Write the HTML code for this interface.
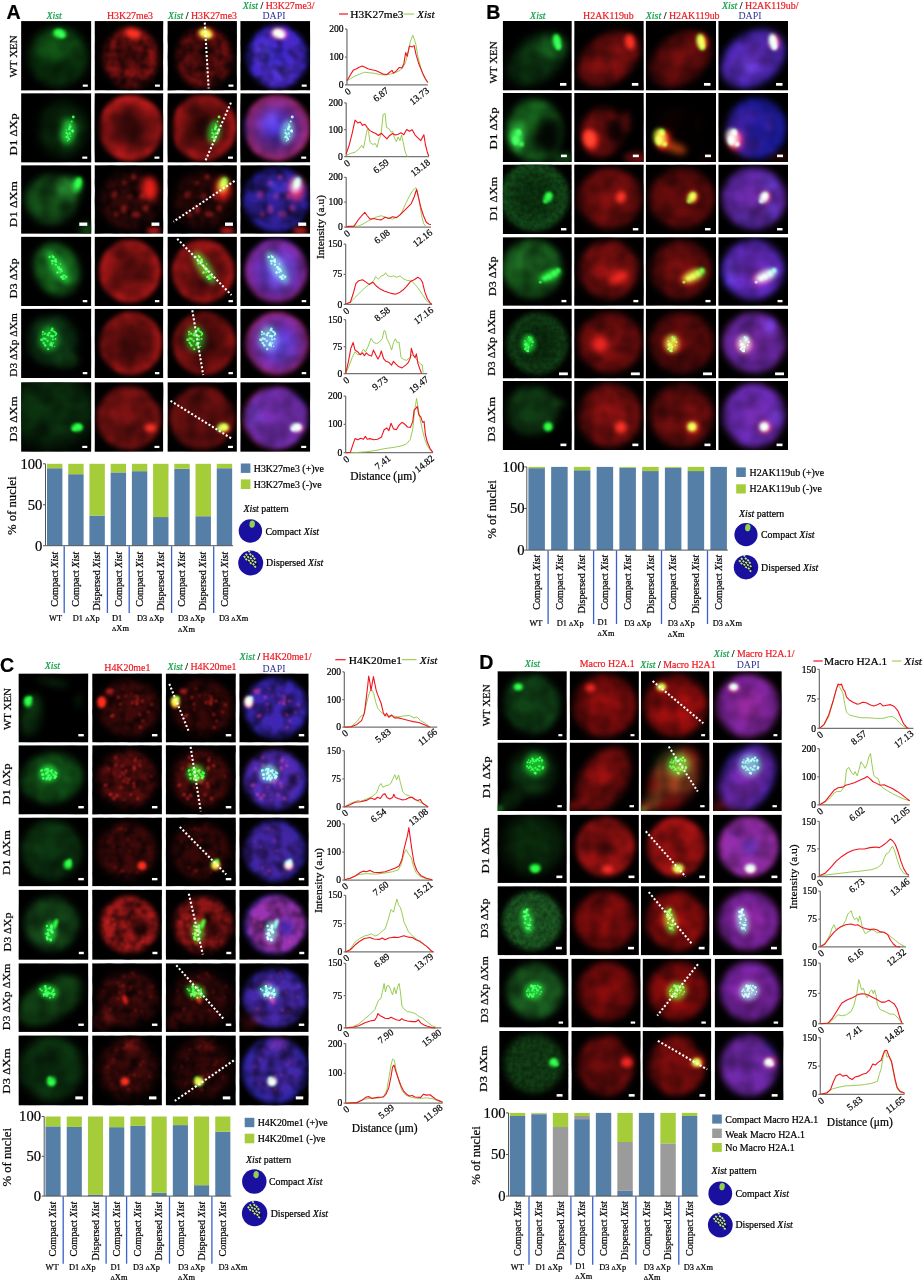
<!DOCTYPE html>
<html><head><meta charset="utf-8"><title>Figure</title>
<style>html,body{margin:0;padding:0;background:#fff}body{width:923px;height:1280px;overflow:hidden;font-family:"Liberation Serif",serif}svg{display:block}</style>
</head><body>
<svg width="923" height="1280" viewBox="0 0 923 1280">
<defs><filter id="b0_7" x="-60%" y="-60%" width="220%" height="220%" color-interpolation-filters="sRGB"><feGaussianBlur stdDeviation="0.7"/></filter><filter id="b0_8" x="-60%" y="-60%" width="220%" height="220%" color-interpolation-filters="sRGB"><feGaussianBlur stdDeviation="0.75"/></filter><filter id="b0_8" x="-60%" y="-60%" width="220%" height="220%" color-interpolation-filters="sRGB"><feGaussianBlur stdDeviation="0.8"/></filter><filter id="b0_9" x="-60%" y="-60%" width="220%" height="220%" color-interpolation-filters="sRGB"><feGaussianBlur stdDeviation="0.9"/></filter><filter id="b1_0" x="-60%" y="-60%" width="220%" height="220%" color-interpolation-filters="sRGB"><feGaussianBlur stdDeviation="1"/></filter><filter id="b1_1" x="-60%" y="-60%" width="220%" height="220%" color-interpolation-filters="sRGB"><feGaussianBlur stdDeviation="1.1"/></filter><filter id="b1_2" x="-60%" y="-60%" width="220%" height="220%" color-interpolation-filters="sRGB"><feGaussianBlur stdDeviation="1.2"/></filter><filter id="b1_3" x="-60%" y="-60%" width="220%" height="220%" color-interpolation-filters="sRGB"><feGaussianBlur stdDeviation="1.3"/></filter><filter id="b1_4" x="-60%" y="-60%" width="220%" height="220%" color-interpolation-filters="sRGB"><feGaussianBlur stdDeviation="1.4"/></filter><filter id="b1_5" x="-60%" y="-60%" width="220%" height="220%" color-interpolation-filters="sRGB"><feGaussianBlur stdDeviation="1.5"/></filter><filter id="b1_6" x="-60%" y="-60%" width="220%" height="220%" color-interpolation-filters="sRGB"><feGaussianBlur stdDeviation="1.6"/></filter><filter id="b1_7" x="-60%" y="-60%" width="220%" height="220%" color-interpolation-filters="sRGB"><feGaussianBlur stdDeviation="1.7"/></filter><filter id="b1_8" x="-60%" y="-60%" width="220%" height="220%" color-interpolation-filters="sRGB"><feGaussianBlur stdDeviation="1.8"/></filter><filter id="b2_0" x="-60%" y="-60%" width="220%" height="220%" color-interpolation-filters="sRGB"><feGaussianBlur stdDeviation="2"/></filter><filter id="b2_2" x="-60%" y="-60%" width="220%" height="220%" color-interpolation-filters="sRGB"><feGaussianBlur stdDeviation="2.2"/></filter><filter id="b2_4" x="-60%" y="-60%" width="220%" height="220%" color-interpolation-filters="sRGB"><feGaussianBlur stdDeviation="2.4"/></filter><filter id="b2_5" x="-60%" y="-60%" width="220%" height="220%" color-interpolation-filters="sRGB"><feGaussianBlur stdDeviation="2.5"/></filter><filter id="b2_6" x="-60%" y="-60%" width="220%" height="220%" color-interpolation-filters="sRGB"><feGaussianBlur stdDeviation="2.6"/></filter><filter id="b2_8" x="-60%" y="-60%" width="220%" height="220%" color-interpolation-filters="sRGB"><feGaussianBlur stdDeviation="2.8"/></filter><filter id="b3_0" x="-60%" y="-60%" width="220%" height="220%" color-interpolation-filters="sRGB"><feGaussianBlur stdDeviation="3"/></filter><filter id="b3_2" x="-60%" y="-60%" width="220%" height="220%" color-interpolation-filters="sRGB"><feGaussianBlur stdDeviation="3.2"/></filter><filter id="b3_5" x="-60%" y="-60%" width="220%" height="220%" color-interpolation-filters="sRGB"><feGaussianBlur stdDeviation="3.5"/></filter><filter id="b4_0" x="-60%" y="-60%" width="220%" height="220%" color-interpolation-filters="sRGB"><feGaussianBlur stdDeviation="4"/></filter><filter id="b4_5" x="-60%" y="-60%" width="220%" height="220%" color-interpolation-filters="sRGB"><feGaussianBlur stdDeviation="4.5"/></filter><filter id="b5_0" x="-60%" y="-60%" width="220%" height="220%" color-interpolation-filters="sRGB"><feGaussianBlur stdDeviation="5"/></filter><filter id="b6_0" x="-60%" y="-60%" width="220%" height="220%" color-interpolation-filters="sRGB"><feGaussianBlur stdDeviation="6"/></filter><filter id="b9_0" x="-60%" y="-60%" width="220%" height="220%" color-interpolation-filters="sRGB"><feGaussianBlur stdDeviation="9"/></filter><filter id="txs0" x="0" y="0" width="100%" height="100%" color-interpolation-filters="sRGB"><feTurbulence type="fractalNoise" baseFrequency="0.09" numOctaves="2" seed="3"/><feColorMatrix type="matrix" values="1.45 0 0 0 0.0  1.45 0 0 0 0.0  1.45 0 0 0 0.0  0 0 0 0 1"/></filter><filter id="txw0" x="0" y="0" width="100%" height="100%" color-interpolation-filters="sRGB"><feTurbulence type="fractalNoise" baseFrequency="0.07" numOctaves="2" seed="3"/><feColorMatrix type="matrix" values="1.3 0 0 0 0.15  1.3 0 0 0 0.15  1.3 0 0 0 0.15  0 0 0 0 1"/></filter><filter id="txm0" x="0" y="0" width="100%" height="100%" color-interpolation-filters="sRGB"><feTurbulence type="fractalNoise" baseFrequency="0.05" numOctaves="2" seed="3"/><feColorMatrix type="matrix" values="0.9 0 0 0 0.35  0.9 0 0 0 0.35  0.9 0 0 0 0.35  0 0 0 0 1"/></filter><filter id="txf0" x="0" y="0" width="100%" height="100%" color-interpolation-filters="sRGB"><feTurbulence type="fractalNoise" baseFrequency="0.22" numOctaves="2" seed="3"/><feColorMatrix type="matrix" values="0.7 0 0 0 0.5  0.7 0 0 0 0.5  0.7 0 0 0 0.5  0 0 0 0 1"/></filter><filter id="txv0" x="0" y="0" width="100%" height="100%" color-interpolation-filters="sRGB"><feTurbulence type="fractalNoise" baseFrequency="0.05" numOctaves="2" seed="3"/><feColorMatrix type="matrix" values="0.7 0 0 0 0.5  0.7 0 0 0 0.5  0.7 0 0 0 0.5  0 0 0 0 1"/></filter><filter id="txs1" x="0" y="0" width="100%" height="100%" color-interpolation-filters="sRGB"><feTurbulence type="fractalNoise" baseFrequency="0.09" numOctaves="2" seed="10"/><feColorMatrix type="matrix" values="1.45 0 0 0 0.0  1.45 0 0 0 0.0  1.45 0 0 0 0.0  0 0 0 0 1"/></filter><filter id="txw1" x="0" y="0" width="100%" height="100%" color-interpolation-filters="sRGB"><feTurbulence type="fractalNoise" baseFrequency="0.07" numOctaves="2" seed="10"/><feColorMatrix type="matrix" values="1.3 0 0 0 0.15  1.3 0 0 0 0.15  1.3 0 0 0 0.15  0 0 0 0 1"/></filter><filter id="txm1" x="0" y="0" width="100%" height="100%" color-interpolation-filters="sRGB"><feTurbulence type="fractalNoise" baseFrequency="0.05" numOctaves="2" seed="10"/><feColorMatrix type="matrix" values="0.9 0 0 0 0.35  0.9 0 0 0 0.35  0.9 0 0 0 0.35  0 0 0 0 1"/></filter><filter id="txf1" x="0" y="0" width="100%" height="100%" color-interpolation-filters="sRGB"><feTurbulence type="fractalNoise" baseFrequency="0.22" numOctaves="2" seed="10"/><feColorMatrix type="matrix" values="0.7 0 0 0 0.5  0.7 0 0 0 0.5  0.7 0 0 0 0.5  0 0 0 0 1"/></filter><filter id="txv1" x="0" y="0" width="100%" height="100%" color-interpolation-filters="sRGB"><feTurbulence type="fractalNoise" baseFrequency="0.05" numOctaves="2" seed="10"/><feColorMatrix type="matrix" values="0.7 0 0 0 0.5  0.7 0 0 0 0.5  0.7 0 0 0 0.5  0 0 0 0 1"/></filter><filter id="txs2" x="0" y="0" width="100%" height="100%" color-interpolation-filters="sRGB"><feTurbulence type="fractalNoise" baseFrequency="0.09" numOctaves="2" seed="17"/><feColorMatrix type="matrix" values="1.45 0 0 0 0.0  1.45 0 0 0 0.0  1.45 0 0 0 0.0  0 0 0 0 1"/></filter><filter id="txw2" x="0" y="0" width="100%" height="100%" color-interpolation-filters="sRGB"><feTurbulence type="fractalNoise" baseFrequency="0.07" numOctaves="2" seed="17"/><feColorMatrix type="matrix" values="1.3 0 0 0 0.15  1.3 0 0 0 0.15  1.3 0 0 0 0.15  0 0 0 0 1"/></filter><filter id="txm2" x="0" y="0" width="100%" height="100%" color-interpolation-filters="sRGB"><feTurbulence type="fractalNoise" baseFrequency="0.05" numOctaves="2" seed="17"/><feColorMatrix type="matrix" values="0.9 0 0 0 0.35  0.9 0 0 0 0.35  0.9 0 0 0 0.35  0 0 0 0 1"/></filter><filter id="txf2" x="0" y="0" width="100%" height="100%" color-interpolation-filters="sRGB"><feTurbulence type="fractalNoise" baseFrequency="0.22" numOctaves="2" seed="17"/><feColorMatrix type="matrix" values="0.7 0 0 0 0.5  0.7 0 0 0 0.5  0.7 0 0 0 0.5  0 0 0 0 1"/></filter><filter id="txv2" x="0" y="0" width="100%" height="100%" color-interpolation-filters="sRGB"><feTurbulence type="fractalNoise" baseFrequency="0.05" numOctaves="2" seed="17"/><feColorMatrix type="matrix" values="0.7 0 0 0 0.5  0.7 0 0 0 0.5  0.7 0 0 0 0.5  0 0 0 0 1"/></filter><filter id="txs3" x="0" y="0" width="100%" height="100%" color-interpolation-filters="sRGB"><feTurbulence type="fractalNoise" baseFrequency="0.09" numOctaves="2" seed="24"/><feColorMatrix type="matrix" values="1.45 0 0 0 0.0  1.45 0 0 0 0.0  1.45 0 0 0 0.0  0 0 0 0 1"/></filter><filter id="txw3" x="0" y="0" width="100%" height="100%" color-interpolation-filters="sRGB"><feTurbulence type="fractalNoise" baseFrequency="0.07" numOctaves="2" seed="24"/><feColorMatrix type="matrix" values="1.3 0 0 0 0.15  1.3 0 0 0 0.15  1.3 0 0 0 0.15  0 0 0 0 1"/></filter><filter id="txm3" x="0" y="0" width="100%" height="100%" color-interpolation-filters="sRGB"><feTurbulence type="fractalNoise" baseFrequency="0.05" numOctaves="2" seed="24"/><feColorMatrix type="matrix" values="0.9 0 0 0 0.35  0.9 0 0 0 0.35  0.9 0 0 0 0.35  0 0 0 0 1"/></filter><filter id="txf3" x="0" y="0" width="100%" height="100%" color-interpolation-filters="sRGB"><feTurbulence type="fractalNoise" baseFrequency="0.22" numOctaves="2" seed="24"/><feColorMatrix type="matrix" values="0.7 0 0 0 0.5  0.7 0 0 0 0.5  0.7 0 0 0 0.5  0 0 0 0 1"/></filter><filter id="txv3" x="0" y="0" width="100%" height="100%" color-interpolation-filters="sRGB"><feTurbulence type="fractalNoise" baseFrequency="0.05" numOctaves="2" seed="24"/><feColorMatrix type="matrix" values="0.7 0 0 0 0.5  0.7 0 0 0 0.5  0.7 0 0 0 0.5  0 0 0 0 1"/></filter><filter id="txs4" x="0" y="0" width="100%" height="100%" color-interpolation-filters="sRGB"><feTurbulence type="fractalNoise" baseFrequency="0.09" numOctaves="2" seed="31"/><feColorMatrix type="matrix" values="1.45 0 0 0 0.0  1.45 0 0 0 0.0  1.45 0 0 0 0.0  0 0 0 0 1"/></filter><filter id="txw4" x="0" y="0" width="100%" height="100%" color-interpolation-filters="sRGB"><feTurbulence type="fractalNoise" baseFrequency="0.07" numOctaves="2" seed="31"/><feColorMatrix type="matrix" values="1.3 0 0 0 0.15  1.3 0 0 0 0.15  1.3 0 0 0 0.15  0 0 0 0 1"/></filter><filter id="txm4" x="0" y="0" width="100%" height="100%" color-interpolation-filters="sRGB"><feTurbulence type="fractalNoise" baseFrequency="0.05" numOctaves="2" seed="31"/><feColorMatrix type="matrix" values="0.9 0 0 0 0.35  0.9 0 0 0 0.35  0.9 0 0 0 0.35  0 0 0 0 1"/></filter><filter id="txf4" x="0" y="0" width="100%" height="100%" color-interpolation-filters="sRGB"><feTurbulence type="fractalNoise" baseFrequency="0.22" numOctaves="2" seed="31"/><feColorMatrix type="matrix" values="0.7 0 0 0 0.5  0.7 0 0 0 0.5  0.7 0 0 0 0.5  0 0 0 0 1"/></filter><filter id="txv4" x="0" y="0" width="100%" height="100%" color-interpolation-filters="sRGB"><feTurbulence type="fractalNoise" baseFrequency="0.05" numOctaves="2" seed="31"/><feColorMatrix type="matrix" values="0.7 0 0 0 0.5  0.7 0 0 0 0.5  0.7 0 0 0 0.5  0 0 0 0 1"/></filter><filter id="txs5" x="0" y="0" width="100%" height="100%" color-interpolation-filters="sRGB"><feTurbulence type="fractalNoise" baseFrequency="0.09" numOctaves="2" seed="38"/><feColorMatrix type="matrix" values="1.45 0 0 0 0.0  1.45 0 0 0 0.0  1.45 0 0 0 0.0  0 0 0 0 1"/></filter><filter id="txw5" x="0" y="0" width="100%" height="100%" color-interpolation-filters="sRGB"><feTurbulence type="fractalNoise" baseFrequency="0.07" numOctaves="2" seed="38"/><feColorMatrix type="matrix" values="1.3 0 0 0 0.15  1.3 0 0 0 0.15  1.3 0 0 0 0.15  0 0 0 0 1"/></filter><filter id="txm5" x="0" y="0" width="100%" height="100%" color-interpolation-filters="sRGB"><feTurbulence type="fractalNoise" baseFrequency="0.05" numOctaves="2" seed="38"/><feColorMatrix type="matrix" values="0.9 0 0 0 0.35  0.9 0 0 0 0.35  0.9 0 0 0 0.35  0 0 0 0 1"/></filter><filter id="txf5" x="0" y="0" width="100%" height="100%" color-interpolation-filters="sRGB"><feTurbulence type="fractalNoise" baseFrequency="0.22" numOctaves="2" seed="38"/><feColorMatrix type="matrix" values="0.7 0 0 0 0.5  0.7 0 0 0 0.5  0.7 0 0 0 0.5  0 0 0 0 1"/></filter><filter id="txv5" x="0" y="0" width="100%" height="100%" color-interpolation-filters="sRGB"><feTurbulence type="fractalNoise" baseFrequency="0.05" numOctaves="2" seed="38"/><feColorMatrix type="matrix" values="0.7 0 0 0 0.5  0.7 0 0 0 0.5  0.7 0 0 0 0.5  0 0 0 0 1"/></filter><filter id="txs6" x="0" y="0" width="100%" height="100%" color-interpolation-filters="sRGB"><feTurbulence type="fractalNoise" baseFrequency="0.09" numOctaves="2" seed="45"/><feColorMatrix type="matrix" values="1.45 0 0 0 0.0  1.45 0 0 0 0.0  1.45 0 0 0 0.0  0 0 0 0 1"/></filter><filter id="txw6" x="0" y="0" width="100%" height="100%" color-interpolation-filters="sRGB"><feTurbulence type="fractalNoise" baseFrequency="0.07" numOctaves="2" seed="45"/><feColorMatrix type="matrix" values="1.3 0 0 0 0.15  1.3 0 0 0 0.15  1.3 0 0 0 0.15  0 0 0 0 1"/></filter><filter id="txm6" x="0" y="0" width="100%" height="100%" color-interpolation-filters="sRGB"><feTurbulence type="fractalNoise" baseFrequency="0.05" numOctaves="2" seed="45"/><feColorMatrix type="matrix" values="0.9 0 0 0 0.35  0.9 0 0 0 0.35  0.9 0 0 0 0.35  0 0 0 0 1"/></filter><filter id="txf6" x="0" y="0" width="100%" height="100%" color-interpolation-filters="sRGB"><feTurbulence type="fractalNoise" baseFrequency="0.22" numOctaves="2" seed="45"/><feColorMatrix type="matrix" values="0.7 0 0 0 0.5  0.7 0 0 0 0.5  0.7 0 0 0 0.5  0 0 0 0 1"/></filter><filter id="txv6" x="0" y="0" width="100%" height="100%" color-interpolation-filters="sRGB"><feTurbulence type="fractalNoise" baseFrequency="0.05" numOctaves="2" seed="45"/><feColorMatrix type="matrix" values="0.7 0 0 0 0.5  0.7 0 0 0 0.5  0.7 0 0 0 0.5  0 0 0 0 1"/></filter><radialGradient id="g0"><stop offset="0.22" stop-color="#360808"/><stop offset="0.88" stop-color="#bc1a1a"/></radialGradient><radialGradient id="g1"><stop offset="0.22" stop-color="#2d0606"/><stop offset="0.88" stop-color="#9f1616"/></radialGradient><radialGradient id="g2"><stop offset="0.3" stop-color="#2c2cd0"/><stop offset="0.95" stop-color="#181870"/></radialGradient><radialGradient id="g3"><stop offset="0.3" stop-color="#650e0e"/><stop offset="0.92" stop-color="#ac1717"/></radialGradient><radialGradient id="g4"><stop offset="0.3" stop-color="#3434e0"/><stop offset="0.95" stop-color="#2a1c98"/></radialGradient><radialGradient id="g5"><stop offset="0.3" stop-color="#4a0a0a"/><stop offset="0.92" stop-color="#a41616"/></radialGradient><radialGradient id="g6"><stop offset="0.3" stop-color="#3e0808"/><stop offset="0.92" stop-color="#8b1212"/></radialGradient><radialGradient id="g7"><stop offset="0.3" stop-color="#3030d8"/><stop offset="0.95" stop-color="#241c90"/></radialGradient><radialGradient id="g8"><stop offset="0.15" stop-color="#941212"/><stop offset="0.95" stop-color="#640b0b"/></radialGradient><radialGradient id="g9"><stop offset="0.15" stop-color="#7d0f0f"/><stop offset="0.95" stop-color="#550909"/></radialGradient><radialGradient id="g10"><stop offset="0.4" stop-color="#0b330f"/><stop offset="0.95" stop-color="#14511b"/></radialGradient><radialGradient id="g11"><stop offset="0.15" stop-color="#8c1010"/><stop offset="0.95" stop-color="#660b0b"/></radialGradient><radialGradient id="g12"><stop offset="0.15" stop-color="#770d0d"/><stop offset="0.95" stop-color="#560909"/></radialGradient><radialGradient id="g13"><stop offset="0.15" stop-color="#9c1212"/><stop offset="0.95" stop-color="#700d0d"/></radialGradient><radialGradient id="g14"><stop offset="0.15" stop-color="#840f0f"/><stop offset="0.95" stop-color="#5f0b0b"/></radialGradient><radialGradient id="g15"><stop offset="0.4" stop-color="#0a2c0d"/><stop offset="0.95" stop-color="#114416"/></radialGradient><radialGradient id="g16"><stop offset="0.15" stop-color="#8c1010"/><stop offset="0.95" stop-color="#640b0b"/></radialGradient><radialGradient id="g17"><stop offset="0.15" stop-color="#770d0d"/><stop offset="0.95" stop-color="#550909"/></radialGradient><radialGradient id="g18"><stop offset="0.2" stop-color="#a00e0e"/><stop offset="0.95" stop-color="#700a0a"/></radialGradient><radialGradient id="g19"><stop offset="0.2" stop-color="#b81010"/><stop offset="0.95" stop-color="#800b0b"/></radialGradient><radialGradient id="g20"><stop offset="0.2" stop-color="#a01010"/><stop offset="0.95" stop-color="#6c0b0b"/></radialGradient><radialGradient id="g21"><stop offset="0.2" stop-color="#900c0c"/><stop offset="0.95" stop-color="#680909"/></radialGradient><radialGradient id="g22"><stop offset="0.2" stop-color="#a50d0d"/><stop offset="0.95" stop-color="#770a0a"/></radialGradient></defs>
<rect width="923" height="1280" fill="#fff"/>
<svg x="21.1" y="21.1" width="70.2" height="69.4" viewBox="0 0 70 70" preserveAspectRatio="none" style="isolation:isolate"><rect width="70" height="70" fill="#000"/><ellipse cx="37" cy="36" rx="29" ry="30" fill="#0a390d" filter="url(#b4_0)" style="mix-blend-mode:screen"/><ellipse cx="37" cy="24" rx="22" ry="14" fill="#08280a" filter="url(#b5_0)" style="mix-blend-mode:screen"/><rect width="70" height="70" filter="url(#txm1)" style="mix-blend-mode:multiply"/><ellipse cx="38.5" cy="12.5" rx="7" ry="5" fill="#12c422" transform="rotate(15 38.5 12.5)" filter="url(#b1_8)" style="mix-blend-mode:screen"/><ellipse cx="38" cy="12" rx="4" ry="3" fill="#1cff2c" transform="rotate(15 38 12)" filter="url(#b1_1)" style="mix-blend-mode:screen"/><ellipse cx="41" cy="14.5" rx="2.5" ry="2" fill="#1cff2c" filter="url(#b1_0)" style="mix-blend-mode:screen"/><rect x="61.5" y="64" width="5" height="2.2" fill="#fff"/></svg>
<svg x="94.6" y="21.1" width="68.7" height="69.4" viewBox="0 0 70 70" preserveAspectRatio="none" style="isolation:isolate"><rect width="70" height="70" fill="#000"/><ellipse cx="37" cy="37" rx="27.5" ry="30.5" fill="#861313" filter="url(#b3_0)" style="mix-blend-mode:screen"/><ellipse cx="36" cy="34" rx="13" ry="13" fill="#000" filter="url(#b6_0)" opacity="0.5"/><rect width="70" height="70" filter="url(#txs2)" style="mix-blend-mode:multiply"/><ellipse cx="39" cy="12.5" rx="8" ry="5.5" fill="#ff2a1a" transform="rotate(10 39 12.5)" filter="url(#b2_0)" style="mix-blend-mode:screen"/><rect x="61.5" y="64" width="5" height="2.2" fill="#fff"/></svg>
<svg x="167.5" y="21.1" width="69.4" height="69.4" viewBox="0 0 70 70" preserveAspectRatio="none" style="isolation:isolate"><rect width="70" height="70" fill="#000"/><ellipse cx="37" cy="37" rx="27.5" ry="30.5" fill="#711010" filter="url(#b3_0)" style="mix-blend-mode:screen"/><ellipse cx="36" cy="34" rx="13" ry="13" fill="#000" filter="url(#b6_0)" opacity="0.5"/><rect width="70" height="70" filter="url(#txs3)" style="mix-blend-mode:multiply"/><ellipse cx="39" cy="12.5" rx="8" ry="5.5" fill="#ff2a1a" transform="rotate(10 39 12.5)" filter="url(#b2_0)" style="mix-blend-mode:screen"/><ellipse cx="38.5" cy="12.5" rx="7" ry="5" fill="#12c422" transform="rotate(15 38.5 12.5)" filter="url(#b1_8)" style="mix-blend-mode:screen"/><ellipse cx="38" cy="12" rx="4" ry="3" fill="#1cff2c" transform="rotate(15 38 12)" filter="url(#b1_1)" style="mix-blend-mode:screen"/><ellipse cx="41" cy="14.5" rx="2.5" ry="2" fill="#1cff2c" filter="url(#b1_0)" style="mix-blend-mode:screen"/><line x1="37.6" y1="1.5" x2="41.5" y2="68" stroke="#fff" stroke-width="2.1" stroke-dasharray="2.1 2"/><rect x="61.5" y="64" width="5" height="2.2" fill="#fff"/></svg>
<svg x="240.3" y="21.1" width="69.9" height="69.4" viewBox="0 0 70 70" preserveAspectRatio="none" style="isolation:isolate"><rect width="70" height="70" fill="#000"/><ellipse cx="37" cy="37" rx="27.5" ry="30.5" fill="#861313" filter="url(#b3_0)" opacity="0.3" style="mix-blend-mode:screen"/><ellipse cx="36" cy="34" rx="13" ry="13" fill="#000" filter="url(#b6_0)" opacity="0.5"/><ellipse cx="37" cy="36" rx="30.5" ry="32" fill="#2824c8" filter="url(#b2_5)" style="mix-blend-mode:screen"/><ellipse cx="24" cy="32" rx="8" ry="10" fill="#2a2aff" filter="url(#b4_0)" opacity="0.6" style="mix-blend-mode:screen"/><ellipse cx="40" cy="50" rx="12" ry="8" fill="#2a2aff" filter="url(#b4_0)" opacity="0.4" style="mix-blend-mode:screen"/><rect width="70" height="70" filter="url(#txw4)" style="mix-blend-mode:multiply"/><ellipse cx="39" cy="12.5" rx="8" ry="5.5" fill="#ff2a1a" transform="rotate(10 39 12.5)" filter="url(#b2_0)" style="mix-blend-mode:screen"/><ellipse cx="38.5" cy="12.5" rx="7" ry="5" fill="#43c4ac" transform="rotate(15 38.5 12.5)" filter="url(#b1_8)" style="mix-blend-mode:screen"/><ellipse cx="38" cy="12" rx="4" ry="3" fill="#5bffe0" transform="rotate(15 38 12)" filter="url(#b1_1)" style="mix-blend-mode:screen"/><ellipse cx="41" cy="14.5" rx="2.5" ry="2" fill="#5bffe0" filter="url(#b1_0)" style="mix-blend-mode:screen"/><rect x="61.5" y="64" width="5" height="2.2" fill="#fff"/></svg>
<svg x="21.1" y="93.2" width="70.2" height="69.3" viewBox="0 0 70 70" preserveAspectRatio="none" style="isolation:isolate"><rect width="70" height="70" fill="#000"/><ellipse cx="42" cy="36" rx="24" ry="28" fill="#08280a" filter="url(#b5_0)" style="mix-blend-mode:screen"/><ellipse cx="47" cy="38" rx="10" ry="15" fill="#0b4511" filter="url(#b3_5)" style="mix-blend-mode:screen"/><rect width="70" height="70" filter="url(#txm5)" style="mix-blend-mode:multiply"/><ellipse cx="47" cy="39" rx="6.5" ry="12" fill="#149a24" transform="rotate(10 47 39)" filter="url(#b2_6)" style="mix-blend-mode:screen"/><ellipse cx="52" cy="24" rx="1.5" ry="1.5" fill="#1cff2c" filter="url(#b0_8)" style="mix-blend-mode:screen"/><ellipse cx="50.5" cy="28.5" rx="1" ry="1" fill="#1cff2c" filter="url(#b0_8)" style="mix-blend-mode:screen"/><ellipse cx="49.22" cy="33.93" rx="0.99" ry="0.99" fill="#1cff2c" filter="url(#b0_7)" style="mix-blend-mode:screen"/><ellipse cx="48.46" cy="40.69" rx="1.18" ry="1.18" fill="#1cff2c" filter="url(#b0_7)" style="mix-blend-mode:screen"/><ellipse cx="44.94" cy="37.17" rx="0.83" ry="0.83" fill="#1cff2c" filter="url(#b0_7)" style="mix-blend-mode:screen"/><ellipse cx="51.08" cy="37.36" rx="0.78" ry="0.78" fill="#1cff2c" filter="url(#b0_7)" style="mix-blend-mode:screen"/><ellipse cx="47.74" cy="36.14" rx="0.81" ry="0.81" fill="#1cff2c" filter="url(#b0_7)" style="mix-blend-mode:screen"/><ellipse cx="48.4" cy="36.4" rx="1" ry="1" fill="#1cff2c" filter="url(#b0_7)" style="mix-blend-mode:screen"/><ellipse cx="44.93" cy="44.47" rx="0.9" ry="0.9" fill="#1cff2c" filter="url(#b0_7)" style="mix-blend-mode:screen"/><ellipse cx="48.73" cy="31.35" rx="0.71" ry="0.71" fill="#1cff2c" filter="url(#b0_7)" style="mix-blend-mode:screen"/><ellipse cx="46.13" cy="43.74" rx="1.19" ry="1.19" fill="#1cff2c" filter="url(#b0_7)" style="mix-blend-mode:screen"/><ellipse cx="48.95" cy="33.56" rx="1.23" ry="1.23" fill="#1cff2c" filter="url(#b0_7)" style="mix-blend-mode:screen"/><ellipse cx="45.54" cy="40.56" rx="0.94" ry="0.94" fill="#1cff2c" filter="url(#b0_7)" style="mix-blend-mode:screen"/><ellipse cx="46.49" cy="47.9" rx="0.83" ry="0.83" fill="#1cff2c" filter="url(#b0_7)" style="mix-blend-mode:screen"/><ellipse cx="51.57" cy="37.98" rx="1.21" ry="1.21" fill="#1cff2c" filter="url(#b0_7)" style="mix-blend-mode:screen"/><ellipse cx="49.38" cy="43.4" rx="0.71" ry="0.71" fill="#1cff2c" filter="url(#b0_7)" style="mix-blend-mode:screen"/><ellipse cx="51.61" cy="38.99" rx="0.97" ry="0.97" fill="#1cff2c" filter="url(#b0_7)" style="mix-blend-mode:screen"/><ellipse cx="47.99" cy="36.04" rx="1.28" ry="1.28" fill="#1cff2c" filter="url(#b0_7)" style="mix-blend-mode:screen"/><ellipse cx="48.21" cy="34.37" rx="0.88" ry="0.88" fill="#1cff2c" filter="url(#b0_7)" style="mix-blend-mode:screen"/><ellipse cx="47.15" cy="45.3" rx="1.09" ry="1.09" fill="#1cff2c" filter="url(#b0_7)" style="mix-blend-mode:screen"/><ellipse cx="45.17" cy="39.99" rx="1.03" ry="1.03" fill="#1cff2c" filter="url(#b0_7)" style="mix-blend-mode:screen"/><ellipse cx="46.69" cy="41.63" rx="0.85" ry="0.85" fill="#1cff2c" filter="url(#b0_7)" style="mix-blend-mode:screen"/><ellipse cx="50.48" cy="38.06" rx="1" ry="1" fill="#1cff2c" filter="url(#b0_7)" style="mix-blend-mode:screen"/><ellipse cx="48.04" cy="46.52" rx="0.94" ry="0.94" fill="#1cff2c" filter="url(#b0_7)" style="mix-blend-mode:screen"/><rect x="61" y="64" width="5" height="2.2" fill="#fff"/></svg>
<svg x="94.6" y="93.2" width="68.7" height="69.3" viewBox="0 0 70 70" preserveAspectRatio="none" style="isolation:isolate"><rect width="70" height="70" fill="#000"/><ellipse cx="36.5" cy="35" rx="33.5" ry="33.5" fill="url(#g0)" filter="url(#b2_0)" style="mix-blend-mode:screen"/><ellipse cx="2" cy="36" rx="5" ry="30" fill="#000" filter="url(#b2_5)" opacity="0.8"/><rect width="70" height="70" filter="url(#txm6)" style="mix-blend-mode:multiply"/><rect x="61" y="64" width="5" height="2.2" fill="#fff"/></svg>
<svg x="167.5" y="93.2" width="69.4" height="69.3" viewBox="0 0 70 70" preserveAspectRatio="none" style="isolation:isolate"><rect width="70" height="70" fill="#000"/><ellipse cx="36.5" cy="35" rx="33.5" ry="33.5" fill="url(#g1)" filter="url(#b2_0)" style="mix-blend-mode:screen"/><ellipse cx="2" cy="36" rx="5" ry="30" fill="#000" filter="url(#b2_5)" opacity="0.8"/><rect width="70" height="70" filter="url(#txm0)" style="mix-blend-mode:multiply"/><ellipse cx="47" cy="39" rx="6.5" ry="12" fill="#149a24" transform="rotate(10 47 39)" filter="url(#b2_6)" style="mix-blend-mode:screen"/><ellipse cx="52" cy="24" rx="1.5" ry="1.5" fill="#1cff2c" filter="url(#b0_8)" style="mix-blend-mode:screen"/><ellipse cx="50.5" cy="28.5" rx="1" ry="1" fill="#1cff2c" filter="url(#b0_8)" style="mix-blend-mode:screen"/><ellipse cx="49.22" cy="33.93" rx="0.99" ry="0.99" fill="#1cff2c" filter="url(#b0_7)" style="mix-blend-mode:screen"/><ellipse cx="48.46" cy="40.69" rx="1.18" ry="1.18" fill="#1cff2c" filter="url(#b0_7)" style="mix-blend-mode:screen"/><ellipse cx="44.94" cy="37.17" rx="0.83" ry="0.83" fill="#1cff2c" filter="url(#b0_7)" style="mix-blend-mode:screen"/><ellipse cx="51.08" cy="37.36" rx="0.78" ry="0.78" fill="#1cff2c" filter="url(#b0_7)" style="mix-blend-mode:screen"/><ellipse cx="47.74" cy="36.14" rx="0.81" ry="0.81" fill="#1cff2c" filter="url(#b0_7)" style="mix-blend-mode:screen"/><ellipse cx="48.4" cy="36.4" rx="1" ry="1" fill="#1cff2c" filter="url(#b0_7)" style="mix-blend-mode:screen"/><ellipse cx="44.93" cy="44.47" rx="0.9" ry="0.9" fill="#1cff2c" filter="url(#b0_7)" style="mix-blend-mode:screen"/><ellipse cx="48.73" cy="31.35" rx="0.71" ry="0.71" fill="#1cff2c" filter="url(#b0_7)" style="mix-blend-mode:screen"/><ellipse cx="46.13" cy="43.74" rx="1.19" ry="1.19" fill="#1cff2c" filter="url(#b0_7)" style="mix-blend-mode:screen"/><ellipse cx="48.95" cy="33.56" rx="1.23" ry="1.23" fill="#1cff2c" filter="url(#b0_7)" style="mix-blend-mode:screen"/><ellipse cx="45.54" cy="40.56" rx="0.94" ry="0.94" fill="#1cff2c" filter="url(#b0_7)" style="mix-blend-mode:screen"/><ellipse cx="46.49" cy="47.9" rx="0.83" ry="0.83" fill="#1cff2c" filter="url(#b0_7)" style="mix-blend-mode:screen"/><ellipse cx="51.57" cy="37.98" rx="1.21" ry="1.21" fill="#1cff2c" filter="url(#b0_7)" style="mix-blend-mode:screen"/><ellipse cx="49.38" cy="43.4" rx="0.71" ry="0.71" fill="#1cff2c" filter="url(#b0_7)" style="mix-blend-mode:screen"/><ellipse cx="51.61" cy="38.99" rx="0.97" ry="0.97" fill="#1cff2c" filter="url(#b0_7)" style="mix-blend-mode:screen"/><ellipse cx="47.99" cy="36.04" rx="1.28" ry="1.28" fill="#1cff2c" filter="url(#b0_7)" style="mix-blend-mode:screen"/><ellipse cx="48.21" cy="34.37" rx="0.88" ry="0.88" fill="#1cff2c" filter="url(#b0_7)" style="mix-blend-mode:screen"/><ellipse cx="47.15" cy="45.3" rx="1.09" ry="1.09" fill="#1cff2c" filter="url(#b0_7)" style="mix-blend-mode:screen"/><ellipse cx="45.17" cy="39.99" rx="1.03" ry="1.03" fill="#1cff2c" filter="url(#b0_7)" style="mix-blend-mode:screen"/><ellipse cx="46.69" cy="41.63" rx="0.85" ry="0.85" fill="#1cff2c" filter="url(#b0_7)" style="mix-blend-mode:screen"/><ellipse cx="50.48" cy="38.06" rx="1" ry="1" fill="#1cff2c" filter="url(#b0_7)" style="mix-blend-mode:screen"/><ellipse cx="48.04" cy="46.52" rx="0.94" ry="0.94" fill="#1cff2c" filter="url(#b0_7)" style="mix-blend-mode:screen"/><line x1="64" y1="9.5" x2="37.6" y2="69.6" stroke="#fff" stroke-width="2.1" stroke-dasharray="2.1 2"/><rect x="61" y="64" width="5" height="2.2" fill="#fff"/></svg>
<svg x="240.3" y="93.2" width="69.9" height="69.3" viewBox="0 0 70 70" preserveAspectRatio="none" style="isolation:isolate"><rect width="70" height="70" fill="#000"/><ellipse cx="36.5" cy="35" rx="33.5" ry="33.5" fill="url(#g0)" filter="url(#b2_0)" opacity="0.78" style="mix-blend-mode:screen"/><ellipse cx="2" cy="36" rx="5" ry="30" fill="#000" filter="url(#b2_5)" opacity="0.8"/><ellipse cx="36.5" cy="35" rx="33" ry="33" fill="url(#g2)" filter="url(#b2_2)" style="mix-blend-mode:screen"/><ellipse cx="31" cy="27" rx="9" ry="9" fill="#2a2aff" filter="url(#b4_0)" opacity="0.7" style="mix-blend-mode:screen"/><rect width="70" height="70" filter="url(#txv1)" style="mix-blend-mode:multiply"/><ellipse cx="47" cy="39" rx="6.5" ry="12" fill="#3a9a87" transform="rotate(10 47 39)" filter="url(#b2_6)" style="mix-blend-mode:screen"/><ellipse cx="52" cy="24" rx="1.5" ry="1.5" fill="#5bffe0" filter="url(#b0_8)" style="mix-blend-mode:screen"/><ellipse cx="50.5" cy="28.5" rx="1" ry="1" fill="#5bffe0" filter="url(#b0_8)" style="mix-blend-mode:screen"/><ellipse cx="49.22" cy="33.93" rx="0.99" ry="0.99" fill="#5bffe0" filter="url(#b0_7)" style="mix-blend-mode:screen"/><ellipse cx="48.46" cy="40.69" rx="1.18" ry="1.18" fill="#5bffe0" filter="url(#b0_7)" style="mix-blend-mode:screen"/><ellipse cx="44.94" cy="37.17" rx="0.83" ry="0.83" fill="#5bffe0" filter="url(#b0_7)" style="mix-blend-mode:screen"/><ellipse cx="51.08" cy="37.36" rx="0.78" ry="0.78" fill="#5bffe0" filter="url(#b0_7)" style="mix-blend-mode:screen"/><ellipse cx="47.74" cy="36.14" rx="0.81" ry="0.81" fill="#5bffe0" filter="url(#b0_7)" style="mix-blend-mode:screen"/><ellipse cx="48.4" cy="36.4" rx="1" ry="1" fill="#5bffe0" filter="url(#b0_7)" style="mix-blend-mode:screen"/><ellipse cx="44.93" cy="44.47" rx="0.9" ry="0.9" fill="#5bffe0" filter="url(#b0_7)" style="mix-blend-mode:screen"/><ellipse cx="48.73" cy="31.35" rx="0.71" ry="0.71" fill="#5bffe0" filter="url(#b0_7)" style="mix-blend-mode:screen"/><ellipse cx="46.13" cy="43.74" rx="1.19" ry="1.19" fill="#5bffe0" filter="url(#b0_7)" style="mix-blend-mode:screen"/><ellipse cx="48.95" cy="33.56" rx="1.23" ry="1.23" fill="#5bffe0" filter="url(#b0_7)" style="mix-blend-mode:screen"/><ellipse cx="45.54" cy="40.56" rx="0.94" ry="0.94" fill="#5bffe0" filter="url(#b0_7)" style="mix-blend-mode:screen"/><ellipse cx="46.49" cy="47.9" rx="0.83" ry="0.83" fill="#5bffe0" filter="url(#b0_7)" style="mix-blend-mode:screen"/><ellipse cx="51.57" cy="37.98" rx="1.21" ry="1.21" fill="#5bffe0" filter="url(#b0_7)" style="mix-blend-mode:screen"/><ellipse cx="49.38" cy="43.4" rx="0.71" ry="0.71" fill="#5bffe0" filter="url(#b0_7)" style="mix-blend-mode:screen"/><ellipse cx="51.61" cy="38.99" rx="0.97" ry="0.97" fill="#5bffe0" filter="url(#b0_7)" style="mix-blend-mode:screen"/><ellipse cx="47.99" cy="36.04" rx="1.28" ry="1.28" fill="#5bffe0" filter="url(#b0_7)" style="mix-blend-mode:screen"/><ellipse cx="48.21" cy="34.37" rx="0.88" ry="0.88" fill="#5bffe0" filter="url(#b0_7)" style="mix-blend-mode:screen"/><ellipse cx="47.15" cy="45.3" rx="1.09" ry="1.09" fill="#5bffe0" filter="url(#b0_7)" style="mix-blend-mode:screen"/><ellipse cx="45.17" cy="39.99" rx="1.03" ry="1.03" fill="#5bffe0" filter="url(#b0_7)" style="mix-blend-mode:screen"/><ellipse cx="46.69" cy="41.63" rx="0.85" ry="0.85" fill="#5bffe0" filter="url(#b0_7)" style="mix-blend-mode:screen"/><ellipse cx="50.48" cy="38.06" rx="1" ry="1" fill="#5bffe0" filter="url(#b0_7)" style="mix-blend-mode:screen"/><ellipse cx="48.04" cy="46.52" rx="0.94" ry="0.94" fill="#5bffe0" filter="url(#b0_7)" style="mix-blend-mode:screen"/><rect x="61" y="64" width="5" height="2.2" fill="#fff"/></svg>
<svg x="21.1" y="165.2" width="70.2" height="68.6" viewBox="0 0 70 70" preserveAspectRatio="none" style="isolation:isolate"><rect width="70" height="70" fill="#000"/><ellipse cx="30" cy="35" rx="25" ry="25" fill="#165a1b" filter="url(#b4_0)" style="mix-blend-mode:screen"/><ellipse cx="48" cy="24" rx="12" ry="13" fill="#165a1b" filter="url(#b4_0)" style="mix-blend-mode:screen"/><ellipse cx="22" cy="28" rx="7" ry="6" fill="#000" filter="url(#b4_0)" opacity="0.45"/><ellipse cx="44" cy="44" rx="7" ry="7" fill="#000" filter="url(#b4_0)" opacity="0.4"/><ellipse cx="66" cy="66" rx="8" ry="8" fill="#0f4414" filter="url(#b3_0)" style="mix-blend-mode:screen"/><rect width="70" height="70" filter="url(#txm2)" style="mix-blend-mode:multiply"/><ellipse cx="56" cy="20" rx="5" ry="8" fill="#12c422" transform="rotate(15 56 20)" filter="url(#b2_0)" style="mix-blend-mode:screen"/><ellipse cx="57" cy="18" rx="3" ry="5.5" fill="#1cff2c" transform="rotate(15 57 18)" filter="url(#b1_2)" style="mix-blend-mode:screen"/><rect x="58" y="58.5" width="8" height="3.4" fill="#fff"/></svg>
<svg x="94.6" y="165.2" width="68.7" height="68.6" viewBox="0 0 70 70" preserveAspectRatio="none" style="isolation:isolate"><rect width="70" height="70" fill="#000"/><ellipse cx="36" cy="36" rx="30" ry="30" fill="#300808" filter="url(#b4_0)" style="mix-blend-mode:screen"/><rect width="70" height="70" filter="url(#txs3)" style="mix-blend-mode:multiply"/><ellipse cx="56" cy="24" rx="8" ry="12" fill="#e01a14" filter="url(#b3_0)" style="mix-blend-mode:screen"/><ellipse cx="20" cy="30" rx="3" ry="4" fill="#5e0f0f" transform="rotate(30 20 30)" filter="url(#b1_8)" style="mix-blend-mode:screen"/><ellipse cx="30" cy="45" rx="3" ry="4.5" fill="#5e0f0f" filter="url(#b1_8)" style="mix-blend-mode:screen"/><ellipse cx="42" cy="50" rx="4.5" ry="3" fill="#5e0f0f" filter="url(#b1_8)" style="mix-blend-mode:screen"/><ellipse cx="52" cy="44" rx="3" ry="3.5" fill="#5e0f0f" filter="url(#b1_8)" style="mix-blend-mode:screen"/><ellipse cx="40" cy="12" rx="2.5" ry="2.5" fill="#6a1010" filter="url(#b1_5)" style="mix-blend-mode:screen"/><ellipse cx="22" cy="50" rx="2.5" ry="3" fill="#560e0e" filter="url(#b1_5)" style="mix-blend-mode:screen"/><ellipse cx="30" cy="18" rx="2.5" ry="2.5" fill="#560e0e" filter="url(#b1_5)" style="mix-blend-mode:screen"/><ellipse cx="36" cy="32" rx="3" ry="3" fill="#4a0c0c" filter="url(#b1_8)" style="mix-blend-mode:screen"/><ellipse cx="48" cy="32" rx="2.5" ry="3" fill="#560e0e" filter="url(#b1_6)" style="mix-blend-mode:screen"/><ellipse cx="60" cy="67" rx="7" ry="4" fill="#a81818" filter="url(#b2_0)" style="mix-blend-mode:screen"/><rect x="58" y="58.5" width="8" height="3.4" fill="#fff"/></svg>
<svg x="167.5" y="165.2" width="69.4" height="68.6" viewBox="0 0 70 70" preserveAspectRatio="none" style="isolation:isolate"><rect width="70" height="70" fill="#000"/><ellipse cx="36" cy="36" rx="30" ry="30" fill="#280606" filter="url(#b4_0)" style="mix-blend-mode:screen"/><rect width="70" height="70" filter="url(#txs4)" style="mix-blend-mode:multiply"/><ellipse cx="56" cy="24" rx="8" ry="12" fill="#e01a14" filter="url(#b3_0)" style="mix-blend-mode:screen"/><ellipse cx="20" cy="30" rx="3" ry="4" fill="#5e0f0f" transform="rotate(30 20 30)" filter="url(#b1_8)" style="mix-blend-mode:screen"/><ellipse cx="30" cy="45" rx="3" ry="4.5" fill="#5e0f0f" filter="url(#b1_8)" style="mix-blend-mode:screen"/><ellipse cx="42" cy="50" rx="4.5" ry="3" fill="#5e0f0f" filter="url(#b1_8)" style="mix-blend-mode:screen"/><ellipse cx="52" cy="44" rx="3" ry="3.5" fill="#5e0f0f" filter="url(#b1_8)" style="mix-blend-mode:screen"/><ellipse cx="40" cy="12" rx="2.5" ry="2.5" fill="#6a1010" filter="url(#b1_5)" style="mix-blend-mode:screen"/><ellipse cx="22" cy="50" rx="2.5" ry="3" fill="#560e0e" filter="url(#b1_5)" style="mix-blend-mode:screen"/><ellipse cx="30" cy="18" rx="2.5" ry="2.5" fill="#560e0e" filter="url(#b1_5)" style="mix-blend-mode:screen"/><ellipse cx="36" cy="32" rx="3" ry="3" fill="#4a0c0c" filter="url(#b1_8)" style="mix-blend-mode:screen"/><ellipse cx="48" cy="32" rx="2.5" ry="3" fill="#560e0e" filter="url(#b1_6)" style="mix-blend-mode:screen"/><ellipse cx="60" cy="67" rx="7" ry="4" fill="#a81818" filter="url(#b2_0)" style="mix-blend-mode:screen"/><ellipse cx="56" cy="20" rx="5" ry="8" fill="#12c422" transform="rotate(15 56 20)" filter="url(#b2_0)" style="mix-blend-mode:screen"/><ellipse cx="57" cy="18" rx="3" ry="5.5" fill="#1cff2c" transform="rotate(15 57 18)" filter="url(#b1_2)" style="mix-blend-mode:screen"/><line x1="67.7" y1="16" x2="6" y2="57.6" stroke="#fff" stroke-width="2.1" stroke-dasharray="2.1 2"/><rect x="58" y="58.5" width="8" height="3.4" fill="#fff"/></svg>
<svg x="240.3" y="165.2" width="69.9" height="68.6" viewBox="0 0 70 70" preserveAspectRatio="none" style="isolation:isolate"><rect width="70" height="70" fill="#000"/><ellipse cx="36" cy="36" rx="30" ry="30" fill="#300808" filter="url(#b4_0)" opacity="0.5" style="mix-blend-mode:screen"/><ellipse cx="36" cy="35" rx="33" ry="33" fill="#1c1c98" filter="url(#b2_5)" style="mix-blend-mode:screen"/><ellipse cx="36" cy="22" rx="10" ry="8" fill="#2a2aff" filter="url(#b4_0)" opacity="0.45" style="mix-blend-mode:screen"/><rect width="70" height="70" filter="url(#txw5)" style="mix-blend-mode:multiply"/><ellipse cx="56" cy="24" rx="8" ry="12" fill="#e01a14" filter="url(#b3_0)" style="mix-blend-mode:screen"/><ellipse cx="20" cy="30" rx="3" ry="4" fill="#5e0f0f" transform="rotate(30 20 30)" filter="url(#b1_8)" style="mix-blend-mode:screen"/><ellipse cx="30" cy="45" rx="3" ry="4.5" fill="#5e0f0f" filter="url(#b1_8)" style="mix-blend-mode:screen"/><ellipse cx="42" cy="50" rx="4.5" ry="3" fill="#5e0f0f" filter="url(#b1_8)" style="mix-blend-mode:screen"/><ellipse cx="52" cy="44" rx="3" ry="3.5" fill="#5e0f0f" filter="url(#b1_8)" style="mix-blend-mode:screen"/><ellipse cx="40" cy="12" rx="2.5" ry="2.5" fill="#6a1010" filter="url(#b1_5)" style="mix-blend-mode:screen"/><ellipse cx="22" cy="50" rx="2.5" ry="3" fill="#560e0e" filter="url(#b1_5)" style="mix-blend-mode:screen"/><ellipse cx="30" cy="18" rx="2.5" ry="2.5" fill="#560e0e" filter="url(#b1_5)" style="mix-blend-mode:screen"/><ellipse cx="36" cy="32" rx="3" ry="3" fill="#4a0c0c" filter="url(#b1_8)" style="mix-blend-mode:screen"/><ellipse cx="48" cy="32" rx="2.5" ry="3" fill="#560e0e" filter="url(#b1_6)" style="mix-blend-mode:screen"/><ellipse cx="60" cy="67" rx="7" ry="4" fill="#a81818" filter="url(#b2_0)" style="mix-blend-mode:screen"/><ellipse cx="56" cy="20" rx="5" ry="8" fill="#43c4ac" transform="rotate(15 56 20)" filter="url(#b2_0)" style="mix-blend-mode:screen"/><ellipse cx="57" cy="18" rx="3" ry="5.5" fill="#5bffe0" transform="rotate(15 57 18)" filter="url(#b1_2)" style="mix-blend-mode:screen"/><rect x="58" y="58.5" width="8" height="3.4" fill="#fff"/></svg>
<svg x="21.1" y="236.7" width="70.2" height="69.3" viewBox="0 0 70 70" preserveAspectRatio="none" style="isolation:isolate"><rect width="70" height="70" fill="#000"/><ellipse cx="35.5" cy="33" rx="22" ry="27" fill="#176c1e" transform="rotate(-25 35.5 33)" filter="url(#b3_5)" style="mix-blend-mode:screen"/><rect width="70" height="70" filter="url(#txm6)" style="mix-blend-mode:multiply"/><ellipse cx="37" cy="31" rx="6.5" ry="19" fill="#14a824" transform="rotate(-32 37 31)" filter="url(#b2_8)" opacity="0.9" style="mix-blend-mode:screen"/><ellipse cx="39.32" cy="32.82" rx="1.4" ry="1.4" fill="#1cff2c" filter="url(#b0_8)" style="mix-blend-mode:screen"/><ellipse cx="39.3" cy="27.6" rx="0.82" ry="0.82" fill="#1cff2c" filter="url(#b0_8)" style="mix-blend-mode:screen"/><ellipse cx="34.32" cy="22.96" rx="1.26" ry="1.26" fill="#1cff2c" filter="url(#b0_8)" style="mix-blend-mode:screen"/><ellipse cx="37.46" cy="31.14" rx="1.46" ry="1.46" fill="#1cff2c" filter="url(#b0_8)" style="mix-blend-mode:screen"/><ellipse cx="41.15" cy="40.59" rx="1.43" ry="1.43" fill="#1cff2c" filter="url(#b0_8)" style="mix-blend-mode:screen"/><ellipse cx="38.97" cy="35.94" rx="0.94" ry="0.94" fill="#1cff2c" filter="url(#b0_8)" style="mix-blend-mode:screen"/><ellipse cx="32.77" cy="20.53" rx="0.81" ry="0.81" fill="#1cff2c" filter="url(#b0_8)" style="mix-blend-mode:screen"/><ellipse cx="38.36" cy="32.98" rx="1.33" ry="1.33" fill="#1cff2c" filter="url(#b0_8)" style="mix-blend-mode:screen"/><ellipse cx="36.61" cy="30.75" rx="0.96" ry="0.96" fill="#1cff2c" filter="url(#b0_8)" style="mix-blend-mode:screen"/><ellipse cx="32.2" cy="24.65" rx="0.98" ry="0.98" fill="#1cff2c" filter="url(#b0_8)" style="mix-blend-mode:screen"/><ellipse cx="31.25" cy="19.27" rx="0.87" ry="0.87" fill="#1cff2c" filter="url(#b0_8)" style="mix-blend-mode:screen"/><ellipse cx="28.42" cy="20.58" rx="1.23" ry="1.23" fill="#1cff2c" filter="url(#b0_8)" style="mix-blend-mode:screen"/><ellipse cx="39.97" cy="40.71" rx="1.04" ry="1.04" fill="#1cff2c" filter="url(#b0_8)" style="mix-blend-mode:screen"/><ellipse cx="44.9" cy="40.57" rx="1.36" ry="1.36" fill="#1cff2c" filter="url(#b0_8)" style="mix-blend-mode:screen"/><ellipse cx="32.3" cy="21.05" rx="0.93" ry="0.93" fill="#1cff2c" filter="url(#b0_8)" style="mix-blend-mode:screen"/><ellipse cx="34.9" cy="25.47" rx="1.08" ry="1.08" fill="#1cff2c" filter="url(#b0_8)" style="mix-blend-mode:screen"/><ellipse cx="41.75" cy="42.42" rx="1.4" ry="1.4" fill="#1cff2c" filter="url(#b0_8)" style="mix-blend-mode:screen"/><ellipse cx="33.92" cy="23.95" rx="0.93" ry="0.93" fill="#1cff2c" filter="url(#b0_8)" style="mix-blend-mode:screen"/><ellipse cx="34.41" cy="24.71" rx="1.33" ry="1.33" fill="#1cff2c" filter="url(#b0_8)" style="mix-blend-mode:screen"/><ellipse cx="40.08" cy="40.63" rx="1.15" ry="1.15" fill="#1cff2c" filter="url(#b0_8)" style="mix-blend-mode:screen"/><ellipse cx="34.25" cy="28.04" rx="0.98" ry="0.98" fill="#1cff2c" filter="url(#b0_8)" style="mix-blend-mode:screen"/><ellipse cx="31.21" cy="27.11" rx="1.1" ry="1.1" fill="#1cff2c" filter="url(#b0_8)" style="mix-blend-mode:screen"/><ellipse cx="34.96" cy="28.67" rx="0.98" ry="0.98" fill="#1cff2c" filter="url(#b0_8)" style="mix-blend-mode:screen"/><ellipse cx="40.51" cy="34.51" rx="1.29" ry="1.29" fill="#1cff2c" filter="url(#b0_8)" style="mix-blend-mode:screen"/><ellipse cx="30.98" cy="24.66" rx="1.35" ry="1.35" fill="#1cff2c" filter="url(#b0_8)" style="mix-blend-mode:screen"/><ellipse cx="31.81" cy="20.46" rx="1.17" ry="1.17" fill="#1cff2c" filter="url(#b0_8)" style="mix-blend-mode:screen"/><ellipse cx="36.28" cy="36.3" rx="1.18" ry="1.18" fill="#1cff2c" filter="url(#b0_8)" style="mix-blend-mode:screen"/><ellipse cx="36.26" cy="35.78" rx="0.96" ry="0.96" fill="#1cff2c" filter="url(#b0_8)" style="mix-blend-mode:screen"/><ellipse cx="43.64" cy="42.39" rx="0.81" ry="0.81" fill="#1cff2c" filter="url(#b0_8)" style="mix-blend-mode:screen"/><ellipse cx="42.74" cy="39.04" rx="1.21" ry="1.21" fill="#1cff2c" filter="url(#b0_8)" style="mix-blend-mode:screen"/><rect x="61.5" y="64" width="4.5" height="2.2" fill="#fff"/></svg>
<svg x="94.6" y="236.7" width="68.7" height="69.3" viewBox="0 0 70 70" preserveAspectRatio="none" style="isolation:isolate"><rect width="70" height="70" fill="#000"/><ellipse cx="36" cy="35" rx="31.5" ry="32" fill="url(#g3)" filter="url(#b2_2)" style="mix-blend-mode:screen"/><rect width="70" height="70" filter="url(#txm0)" style="mix-blend-mode:multiply"/><rect x="61.5" y="64" width="4.5" height="2.2" fill="#fff"/></svg>
<svg x="167.5" y="236.7" width="69.4" height="69.3" viewBox="0 0 70 70" preserveAspectRatio="none" style="isolation:isolate"><rect width="70" height="70" fill="#000"/><ellipse cx="36" cy="35" rx="31.5" ry="32" fill="url(#g3)" filter="url(#b2_2)" style="mix-blend-mode:screen"/><rect width="70" height="70" filter="url(#txm1)" style="mix-blend-mode:multiply"/><ellipse cx="37" cy="31" rx="6.5" ry="19" fill="#14a824" transform="rotate(-32 37 31)" filter="url(#b2_8)" opacity="0.9" style="mix-blend-mode:screen"/><ellipse cx="39.32" cy="32.82" rx="1.4" ry="1.4" fill="#1cff2c" filter="url(#b0_8)" style="mix-blend-mode:screen"/><ellipse cx="39.3" cy="27.6" rx="0.82" ry="0.82" fill="#1cff2c" filter="url(#b0_8)" style="mix-blend-mode:screen"/><ellipse cx="34.32" cy="22.96" rx="1.26" ry="1.26" fill="#1cff2c" filter="url(#b0_8)" style="mix-blend-mode:screen"/><ellipse cx="37.46" cy="31.14" rx="1.46" ry="1.46" fill="#1cff2c" filter="url(#b0_8)" style="mix-blend-mode:screen"/><ellipse cx="41.15" cy="40.59" rx="1.43" ry="1.43" fill="#1cff2c" filter="url(#b0_8)" style="mix-blend-mode:screen"/><ellipse cx="38.97" cy="35.94" rx="0.94" ry="0.94" fill="#1cff2c" filter="url(#b0_8)" style="mix-blend-mode:screen"/><ellipse cx="32.77" cy="20.53" rx="0.81" ry="0.81" fill="#1cff2c" filter="url(#b0_8)" style="mix-blend-mode:screen"/><ellipse cx="38.36" cy="32.98" rx="1.33" ry="1.33" fill="#1cff2c" filter="url(#b0_8)" style="mix-blend-mode:screen"/><ellipse cx="36.61" cy="30.75" rx="0.96" ry="0.96" fill="#1cff2c" filter="url(#b0_8)" style="mix-blend-mode:screen"/><ellipse cx="32.2" cy="24.65" rx="0.98" ry="0.98" fill="#1cff2c" filter="url(#b0_8)" style="mix-blend-mode:screen"/><ellipse cx="31.25" cy="19.27" rx="0.87" ry="0.87" fill="#1cff2c" filter="url(#b0_8)" style="mix-blend-mode:screen"/><ellipse cx="28.42" cy="20.58" rx="1.23" ry="1.23" fill="#1cff2c" filter="url(#b0_8)" style="mix-blend-mode:screen"/><ellipse cx="39.97" cy="40.71" rx="1.04" ry="1.04" fill="#1cff2c" filter="url(#b0_8)" style="mix-blend-mode:screen"/><ellipse cx="44.9" cy="40.57" rx="1.36" ry="1.36" fill="#1cff2c" filter="url(#b0_8)" style="mix-blend-mode:screen"/><ellipse cx="32.3" cy="21.05" rx="0.93" ry="0.93" fill="#1cff2c" filter="url(#b0_8)" style="mix-blend-mode:screen"/><ellipse cx="34.9" cy="25.47" rx="1.08" ry="1.08" fill="#1cff2c" filter="url(#b0_8)" style="mix-blend-mode:screen"/><ellipse cx="41.75" cy="42.42" rx="1.4" ry="1.4" fill="#1cff2c" filter="url(#b0_8)" style="mix-blend-mode:screen"/><ellipse cx="33.92" cy="23.95" rx="0.93" ry="0.93" fill="#1cff2c" filter="url(#b0_8)" style="mix-blend-mode:screen"/><ellipse cx="34.41" cy="24.71" rx="1.33" ry="1.33" fill="#1cff2c" filter="url(#b0_8)" style="mix-blend-mode:screen"/><ellipse cx="40.08" cy="40.63" rx="1.15" ry="1.15" fill="#1cff2c" filter="url(#b0_8)" style="mix-blend-mode:screen"/><ellipse cx="34.25" cy="28.04" rx="0.98" ry="0.98" fill="#1cff2c" filter="url(#b0_8)" style="mix-blend-mode:screen"/><ellipse cx="31.21" cy="27.11" rx="1.1" ry="1.1" fill="#1cff2c" filter="url(#b0_8)" style="mix-blend-mode:screen"/><ellipse cx="34.96" cy="28.67" rx="0.98" ry="0.98" fill="#1cff2c" filter="url(#b0_8)" style="mix-blend-mode:screen"/><ellipse cx="40.51" cy="34.51" rx="1.29" ry="1.29" fill="#1cff2c" filter="url(#b0_8)" style="mix-blend-mode:screen"/><ellipse cx="30.98" cy="24.66" rx="1.35" ry="1.35" fill="#1cff2c" filter="url(#b0_8)" style="mix-blend-mode:screen"/><ellipse cx="31.81" cy="20.46" rx="1.17" ry="1.17" fill="#1cff2c" filter="url(#b0_8)" style="mix-blend-mode:screen"/><ellipse cx="36.28" cy="36.3" rx="1.18" ry="1.18" fill="#1cff2c" filter="url(#b0_8)" style="mix-blend-mode:screen"/><ellipse cx="36.26" cy="35.78" rx="0.96" ry="0.96" fill="#1cff2c" filter="url(#b0_8)" style="mix-blend-mode:screen"/><ellipse cx="43.64" cy="42.39" rx="0.81" ry="0.81" fill="#1cff2c" filter="url(#b0_8)" style="mix-blend-mode:screen"/><ellipse cx="42.74" cy="39.04" rx="1.21" ry="1.21" fill="#1cff2c" filter="url(#b0_8)" style="mix-blend-mode:screen"/><line x1="9.8" y1="2" x2="64.5" y2="59" stroke="#fff" stroke-width="2.1" stroke-dasharray="2.1 2"/><rect x="61.5" y="64" width="4.5" height="2.2" fill="#fff"/></svg>
<svg x="240.3" y="236.7" width="69.9" height="69.3" viewBox="0 0 70 70" preserveAspectRatio="none" style="isolation:isolate"><rect width="70" height="70" fill="#000"/><ellipse cx="36" cy="35" rx="31.5" ry="32" fill="url(#g3)" filter="url(#b2_2)" opacity="0.6" style="mix-blend-mode:screen"/><ellipse cx="36" cy="34" rx="31" ry="32" fill="url(#g4)" filter="url(#b2_5)" style="mix-blend-mode:screen"/><ellipse cx="40" cy="36" rx="14" ry="18" fill="#2a3aff" filter="url(#b5_0)" opacity="0.6" style="mix-blend-mode:screen"/><rect width="70" height="70" filter="url(#txv2)" style="mix-blend-mode:multiply"/><ellipse cx="37" cy="31" rx="6.5" ry="19" fill="#3ea893" transform="rotate(-32 37 31)" filter="url(#b2_8)" opacity="0.9" style="mix-blend-mode:screen"/><ellipse cx="39.32" cy="32.82" rx="1.4" ry="1.4" fill="#5bffe0" filter="url(#b0_8)" style="mix-blend-mode:screen"/><ellipse cx="39.3" cy="27.6" rx="0.82" ry="0.82" fill="#5bffe0" filter="url(#b0_8)" style="mix-blend-mode:screen"/><ellipse cx="34.32" cy="22.96" rx="1.26" ry="1.26" fill="#5bffe0" filter="url(#b0_8)" style="mix-blend-mode:screen"/><ellipse cx="37.46" cy="31.14" rx="1.46" ry="1.46" fill="#5bffe0" filter="url(#b0_8)" style="mix-blend-mode:screen"/><ellipse cx="41.15" cy="40.59" rx="1.43" ry="1.43" fill="#5bffe0" filter="url(#b0_8)" style="mix-blend-mode:screen"/><ellipse cx="38.97" cy="35.94" rx="0.94" ry="0.94" fill="#5bffe0" filter="url(#b0_8)" style="mix-blend-mode:screen"/><ellipse cx="32.77" cy="20.53" rx="0.81" ry="0.81" fill="#5bffe0" filter="url(#b0_8)" style="mix-blend-mode:screen"/><ellipse cx="38.36" cy="32.98" rx="1.33" ry="1.33" fill="#5bffe0" filter="url(#b0_8)" style="mix-blend-mode:screen"/><ellipse cx="36.61" cy="30.75" rx="0.96" ry="0.96" fill="#5bffe0" filter="url(#b0_8)" style="mix-blend-mode:screen"/><ellipse cx="32.2" cy="24.65" rx="0.98" ry="0.98" fill="#5bffe0" filter="url(#b0_8)" style="mix-blend-mode:screen"/><ellipse cx="31.25" cy="19.27" rx="0.87" ry="0.87" fill="#5bffe0" filter="url(#b0_8)" style="mix-blend-mode:screen"/><ellipse cx="28.42" cy="20.58" rx="1.23" ry="1.23" fill="#5bffe0" filter="url(#b0_8)" style="mix-blend-mode:screen"/><ellipse cx="39.97" cy="40.71" rx="1.04" ry="1.04" fill="#5bffe0" filter="url(#b0_8)" style="mix-blend-mode:screen"/><ellipse cx="44.9" cy="40.57" rx="1.36" ry="1.36" fill="#5bffe0" filter="url(#b0_8)" style="mix-blend-mode:screen"/><ellipse cx="32.3" cy="21.05" rx="0.93" ry="0.93" fill="#5bffe0" filter="url(#b0_8)" style="mix-blend-mode:screen"/><ellipse cx="34.9" cy="25.47" rx="1.08" ry="1.08" fill="#5bffe0" filter="url(#b0_8)" style="mix-blend-mode:screen"/><ellipse cx="41.75" cy="42.42" rx="1.4" ry="1.4" fill="#5bffe0" filter="url(#b0_8)" style="mix-blend-mode:screen"/><ellipse cx="33.92" cy="23.95" rx="0.93" ry="0.93" fill="#5bffe0" filter="url(#b0_8)" style="mix-blend-mode:screen"/><ellipse cx="34.41" cy="24.71" rx="1.33" ry="1.33" fill="#5bffe0" filter="url(#b0_8)" style="mix-blend-mode:screen"/><ellipse cx="40.08" cy="40.63" rx="1.15" ry="1.15" fill="#5bffe0" filter="url(#b0_8)" style="mix-blend-mode:screen"/><ellipse cx="34.25" cy="28.04" rx="0.98" ry="0.98" fill="#5bffe0" filter="url(#b0_8)" style="mix-blend-mode:screen"/><ellipse cx="31.21" cy="27.11" rx="1.1" ry="1.1" fill="#5bffe0" filter="url(#b0_8)" style="mix-blend-mode:screen"/><ellipse cx="34.96" cy="28.67" rx="0.98" ry="0.98" fill="#5bffe0" filter="url(#b0_8)" style="mix-blend-mode:screen"/><ellipse cx="40.51" cy="34.51" rx="1.29" ry="1.29" fill="#5bffe0" filter="url(#b0_8)" style="mix-blend-mode:screen"/><ellipse cx="30.98" cy="24.66" rx="1.35" ry="1.35" fill="#5bffe0" filter="url(#b0_8)" style="mix-blend-mode:screen"/><ellipse cx="31.81" cy="20.46" rx="1.17" ry="1.17" fill="#5bffe0" filter="url(#b0_8)" style="mix-blend-mode:screen"/><ellipse cx="36.28" cy="36.3" rx="1.18" ry="1.18" fill="#5bffe0" filter="url(#b0_8)" style="mix-blend-mode:screen"/><ellipse cx="36.26" cy="35.78" rx="0.96" ry="0.96" fill="#5bffe0" filter="url(#b0_8)" style="mix-blend-mode:screen"/><ellipse cx="43.64" cy="42.39" rx="0.81" ry="0.81" fill="#5bffe0" filter="url(#b0_8)" style="mix-blend-mode:screen"/><ellipse cx="42.74" cy="39.04" rx="1.21" ry="1.21" fill="#5bffe0" filter="url(#b0_8)" style="mix-blend-mode:screen"/><rect x="61.5" y="64" width="4.5" height="2.2" fill="#fff"/></svg>
<svg x="21.1" y="308.8" width="70.2" height="69.2" viewBox="0 0 70 70" preserveAspectRatio="none" style="isolation:isolate"><rect width="70" height="70" fill="#000"/><ellipse cx="31" cy="32" rx="24" ry="25" fill="#0d3d16" filter="url(#b4_0)" style="mix-blend-mode:screen"/><ellipse cx="44" cy="52" rx="14" ry="8" fill="#0a2c0d" filter="url(#b3_0)" style="mix-blend-mode:screen"/><rect width="70" height="70" filter="url(#txm3)" style="mix-blend-mode:multiply"/><ellipse cx="28" cy="30" rx="9.5" ry="12.5" fill="#129a20" filter="url(#b3_0)" opacity="0.9" style="mix-blend-mode:screen"/><ellipse cx="23.19" cy="35.64" rx="0.87" ry="0.87" fill="#1cff2c" filter="url(#b0_8)" style="mix-blend-mode:screen"/><ellipse cx="34.06" cy="26.88" rx="0.87" ry="0.87" fill="#1cff2c" filter="url(#b0_8)" style="mix-blend-mode:screen"/><ellipse cx="30.97" cy="37.8" rx="0.77" ry="0.77" fill="#1cff2c" filter="url(#b0_8)" style="mix-blend-mode:screen"/><ellipse cx="30.19" cy="34.63" rx="1.22" ry="1.22" fill="#1cff2c" filter="url(#b0_8)" style="mix-blend-mode:screen"/><ellipse cx="34.81" cy="24.76" rx="1.13" ry="1.13" fill="#1cff2c" filter="url(#b0_8)" style="mix-blend-mode:screen"/><ellipse cx="30.13" cy="27.55" rx="1.33" ry="1.33" fill="#1cff2c" filter="url(#b0_8)" style="mix-blend-mode:screen"/><ellipse cx="26.37" cy="32.44" rx="1.18" ry="1.18" fill="#1cff2c" filter="url(#b0_8)" style="mix-blend-mode:screen"/><ellipse cx="27.13" cy="27.04" rx="1.05" ry="1.05" fill="#1cff2c" filter="url(#b0_8)" style="mix-blend-mode:screen"/><ellipse cx="33.5" cy="23.49" rx="1.14" ry="1.14" fill="#1cff2c" filter="url(#b0_8)" style="mix-blend-mode:screen"/><ellipse cx="21.74" cy="23.41" rx="1.14" ry="1.14" fill="#1cff2c" filter="url(#b0_8)" style="mix-blend-mode:screen"/><ellipse cx="30.55" cy="36.47" rx="1.26" ry="1.26" fill="#1cff2c" filter="url(#b0_8)" style="mix-blend-mode:screen"/><ellipse cx="33.39" cy="37.99" rx="0.7" ry="0.7" fill="#1cff2c" filter="url(#b0_8)" style="mix-blend-mode:screen"/><ellipse cx="30.5" cy="21.69" rx="1.29" ry="1.29" fill="#1cff2c" filter="url(#b0_8)" style="mix-blend-mode:screen"/><ellipse cx="26.93" cy="40.8" rx="1.12" ry="1.12" fill="#1cff2c" filter="url(#b0_8)" style="mix-blend-mode:screen"/><ellipse cx="26.51" cy="26.14" rx="1.34" ry="1.34" fill="#1cff2c" filter="url(#b0_8)" style="mix-blend-mode:screen"/><ellipse cx="31.5" cy="28.13" rx="1.27" ry="1.27" fill="#1cff2c" filter="url(#b0_8)" style="mix-blend-mode:screen"/><ellipse cx="31.66" cy="27.42" rx="0.99" ry="0.99" fill="#1cff2c" filter="url(#b0_8)" style="mix-blend-mode:screen"/><ellipse cx="24.26" cy="30.59" rx="1.2" ry="1.2" fill="#1cff2c" filter="url(#b0_8)" style="mix-blend-mode:screen"/><ellipse cx="29.38" cy="36.24" rx="1.37" ry="1.37" fill="#1cff2c" filter="url(#b0_8)" style="mix-blend-mode:screen"/><ellipse cx="22.38" cy="30.11" rx="1.23" ry="1.23" fill="#1cff2c" filter="url(#b0_8)" style="mix-blend-mode:screen"/><ellipse cx="24.16" cy="37.1" rx="0.72" ry="0.72" fill="#1cff2c" filter="url(#b0_8)" style="mix-blend-mode:screen"/><ellipse cx="34.3" cy="30.45" rx="1.02" ry="1.02" fill="#1cff2c" filter="url(#b0_8)" style="mix-blend-mode:screen"/><ellipse cx="28.09" cy="24.44" rx="1.33" ry="1.33" fill="#1cff2c" filter="url(#b0_8)" style="mix-blend-mode:screen"/><ellipse cx="22.41" cy="34.4" rx="1.18" ry="1.18" fill="#1cff2c" filter="url(#b0_8)" style="mix-blend-mode:screen"/><ellipse cx="35.06" cy="25.8" rx="0.98" ry="0.98" fill="#1cff2c" filter="url(#b0_8)" style="mix-blend-mode:screen"/><ellipse cx="24.08" cy="37.04" rx="1.22" ry="1.22" fill="#1cff2c" filter="url(#b0_8)" style="mix-blend-mode:screen"/><ellipse cx="31.76" cy="31.03" rx="1.04" ry="1.04" fill="#1cff2c" filter="url(#b0_8)" style="mix-blend-mode:screen"/><ellipse cx="21.17" cy="31.98" rx="0.97" ry="0.97" fill="#1cff2c" filter="url(#b0_8)" style="mix-blend-mode:screen"/><ellipse cx="21.58" cy="25.89" rx="0.91" ry="0.91" fill="#1cff2c" filter="url(#b0_8)" style="mix-blend-mode:screen"/><ellipse cx="32.32" cy="34.54" rx="0.74" ry="0.74" fill="#1cff2c" filter="url(#b0_8)" style="mix-blend-mode:screen"/><ellipse cx="31.13" cy="20.18" rx="1.27" ry="1.27" fill="#1cff2c" filter="url(#b0_8)" style="mix-blend-mode:screen"/><ellipse cx="32.4" cy="22.7" rx="0.92" ry="0.92" fill="#1cff2c" filter="url(#b0_8)" style="mix-blend-mode:screen"/><ellipse cx="20.11" cy="31.19" rx="1.2" ry="1.2" fill="#1cff2c" filter="url(#b0_8)" style="mix-blend-mode:screen"/><ellipse cx="23.68" cy="25.15" rx="1.14" ry="1.14" fill="#1cff2c" filter="url(#b0_8)" style="mix-blend-mode:screen"/><rect x="61.5" y="64" width="4.5" height="2.2" fill="#fff"/></svg>
<svg x="94.6" y="308.8" width="68.7" height="69.2" viewBox="0 0 70 70" preserveAspectRatio="none" style="isolation:isolate"><rect width="70" height="70" fill="#000"/><ellipse cx="37" cy="35" rx="32" ry="32" fill="url(#g5)" filter="url(#b2_2)" style="mix-blend-mode:screen"/><rect width="70" height="70" filter="url(#txm4)" style="mix-blend-mode:multiply"/><rect x="61.5" y="64" width="4.5" height="2.2" fill="#fff"/></svg>
<svg x="167.5" y="308.8" width="69.4" height="69.2" viewBox="0 0 70 70" preserveAspectRatio="none" style="isolation:isolate"><rect width="70" height="70" fill="#000"/><ellipse cx="37" cy="35" rx="32" ry="32" fill="url(#g6)" filter="url(#b2_2)" style="mix-blend-mode:screen"/><rect width="70" height="70" filter="url(#txm5)" style="mix-blend-mode:multiply"/><ellipse cx="28" cy="30" rx="9.5" ry="12.5" fill="#129a20" filter="url(#b3_0)" opacity="0.9" style="mix-blend-mode:screen"/><ellipse cx="23.19" cy="35.64" rx="0.87" ry="0.87" fill="#1cff2c" filter="url(#b0_8)" style="mix-blend-mode:screen"/><ellipse cx="34.06" cy="26.88" rx="0.87" ry="0.87" fill="#1cff2c" filter="url(#b0_8)" style="mix-blend-mode:screen"/><ellipse cx="30.97" cy="37.8" rx="0.77" ry="0.77" fill="#1cff2c" filter="url(#b0_8)" style="mix-blend-mode:screen"/><ellipse cx="30.19" cy="34.63" rx="1.22" ry="1.22" fill="#1cff2c" filter="url(#b0_8)" style="mix-blend-mode:screen"/><ellipse cx="34.81" cy="24.76" rx="1.13" ry="1.13" fill="#1cff2c" filter="url(#b0_8)" style="mix-blend-mode:screen"/><ellipse cx="30.13" cy="27.55" rx="1.33" ry="1.33" fill="#1cff2c" filter="url(#b0_8)" style="mix-blend-mode:screen"/><ellipse cx="26.37" cy="32.44" rx="1.18" ry="1.18" fill="#1cff2c" filter="url(#b0_8)" style="mix-blend-mode:screen"/><ellipse cx="27.13" cy="27.04" rx="1.05" ry="1.05" fill="#1cff2c" filter="url(#b0_8)" style="mix-blend-mode:screen"/><ellipse cx="33.5" cy="23.49" rx="1.14" ry="1.14" fill="#1cff2c" filter="url(#b0_8)" style="mix-blend-mode:screen"/><ellipse cx="21.74" cy="23.41" rx="1.14" ry="1.14" fill="#1cff2c" filter="url(#b0_8)" style="mix-blend-mode:screen"/><ellipse cx="30.55" cy="36.47" rx="1.26" ry="1.26" fill="#1cff2c" filter="url(#b0_8)" style="mix-blend-mode:screen"/><ellipse cx="33.39" cy="37.99" rx="0.7" ry="0.7" fill="#1cff2c" filter="url(#b0_8)" style="mix-blend-mode:screen"/><ellipse cx="30.5" cy="21.69" rx="1.29" ry="1.29" fill="#1cff2c" filter="url(#b0_8)" style="mix-blend-mode:screen"/><ellipse cx="26.93" cy="40.8" rx="1.12" ry="1.12" fill="#1cff2c" filter="url(#b0_8)" style="mix-blend-mode:screen"/><ellipse cx="26.51" cy="26.14" rx="1.34" ry="1.34" fill="#1cff2c" filter="url(#b0_8)" style="mix-blend-mode:screen"/><ellipse cx="31.5" cy="28.13" rx="1.27" ry="1.27" fill="#1cff2c" filter="url(#b0_8)" style="mix-blend-mode:screen"/><ellipse cx="31.66" cy="27.42" rx="0.99" ry="0.99" fill="#1cff2c" filter="url(#b0_8)" style="mix-blend-mode:screen"/><ellipse cx="24.26" cy="30.59" rx="1.2" ry="1.2" fill="#1cff2c" filter="url(#b0_8)" style="mix-blend-mode:screen"/><ellipse cx="29.38" cy="36.24" rx="1.37" ry="1.37" fill="#1cff2c" filter="url(#b0_8)" style="mix-blend-mode:screen"/><ellipse cx="22.38" cy="30.11" rx="1.23" ry="1.23" fill="#1cff2c" filter="url(#b0_8)" style="mix-blend-mode:screen"/><ellipse cx="24.16" cy="37.1" rx="0.72" ry="0.72" fill="#1cff2c" filter="url(#b0_8)" style="mix-blend-mode:screen"/><ellipse cx="34.3" cy="30.45" rx="1.02" ry="1.02" fill="#1cff2c" filter="url(#b0_8)" style="mix-blend-mode:screen"/><ellipse cx="28.09" cy="24.44" rx="1.33" ry="1.33" fill="#1cff2c" filter="url(#b0_8)" style="mix-blend-mode:screen"/><ellipse cx="22.41" cy="34.4" rx="1.18" ry="1.18" fill="#1cff2c" filter="url(#b0_8)" style="mix-blend-mode:screen"/><ellipse cx="35.06" cy="25.8" rx="0.98" ry="0.98" fill="#1cff2c" filter="url(#b0_8)" style="mix-blend-mode:screen"/><ellipse cx="24.08" cy="37.04" rx="1.22" ry="1.22" fill="#1cff2c" filter="url(#b0_8)" style="mix-blend-mode:screen"/><ellipse cx="31.76" cy="31.03" rx="1.04" ry="1.04" fill="#1cff2c" filter="url(#b0_8)" style="mix-blend-mode:screen"/><ellipse cx="21.17" cy="31.98" rx="0.97" ry="0.97" fill="#1cff2c" filter="url(#b0_8)" style="mix-blend-mode:screen"/><ellipse cx="21.58" cy="25.89" rx="0.91" ry="0.91" fill="#1cff2c" filter="url(#b0_8)" style="mix-blend-mode:screen"/><ellipse cx="32.32" cy="34.54" rx="0.74" ry="0.74" fill="#1cff2c" filter="url(#b0_8)" style="mix-blend-mode:screen"/><ellipse cx="31.13" cy="20.18" rx="1.27" ry="1.27" fill="#1cff2c" filter="url(#b0_8)" style="mix-blend-mode:screen"/><ellipse cx="32.4" cy="22.7" rx="0.92" ry="0.92" fill="#1cff2c" filter="url(#b0_8)" style="mix-blend-mode:screen"/><ellipse cx="20.11" cy="31.19" rx="1.2" ry="1.2" fill="#1cff2c" filter="url(#b0_8)" style="mix-blend-mode:screen"/><ellipse cx="23.68" cy="25.15" rx="1.14" ry="1.14" fill="#1cff2c" filter="url(#b0_8)" style="mix-blend-mode:screen"/><line x1="25" y1="1.5" x2="36" y2="67" stroke="#fff" stroke-width="2.1" stroke-dasharray="2.1 2"/><rect x="61.5" y="64" width="4.5" height="2.2" fill="#fff"/></svg>
<svg x="240.3" y="308.8" width="69.9" height="69.2" viewBox="0 0 70 70" preserveAspectRatio="none" style="isolation:isolate"><rect width="70" height="70" fill="#000"/><ellipse cx="37" cy="35" rx="32" ry="32" fill="url(#g5)" filter="url(#b2_2)" opacity="0.75" style="mix-blend-mode:screen"/><ellipse cx="37" cy="35" rx="31" ry="31" fill="url(#g7)" filter="url(#b2_5)" style="mix-blend-mode:screen"/><ellipse cx="40" cy="40" rx="14" ry="15" fill="#2a2aff" filter="url(#b5_0)" opacity="0.5" style="mix-blend-mode:screen"/><rect width="70" height="70" filter="url(#txv6)" style="mix-blend-mode:multiply"/><ellipse cx="28" cy="30" rx="9.5" ry="12.5" fill="#389a87" filter="url(#b3_0)" opacity="0.9" style="mix-blend-mode:screen"/><ellipse cx="23.19" cy="35.64" rx="0.87" ry="0.87" fill="#5bffe0" filter="url(#b0_8)" style="mix-blend-mode:screen"/><ellipse cx="34.06" cy="26.88" rx="0.87" ry="0.87" fill="#5bffe0" filter="url(#b0_8)" style="mix-blend-mode:screen"/><ellipse cx="30.97" cy="37.8" rx="0.77" ry="0.77" fill="#5bffe0" filter="url(#b0_8)" style="mix-blend-mode:screen"/><ellipse cx="30.19" cy="34.63" rx="1.22" ry="1.22" fill="#5bffe0" filter="url(#b0_8)" style="mix-blend-mode:screen"/><ellipse cx="34.81" cy="24.76" rx="1.13" ry="1.13" fill="#5bffe0" filter="url(#b0_8)" style="mix-blend-mode:screen"/><ellipse cx="30.13" cy="27.55" rx="1.33" ry="1.33" fill="#5bffe0" filter="url(#b0_8)" style="mix-blend-mode:screen"/><ellipse cx="26.37" cy="32.44" rx="1.18" ry="1.18" fill="#5bffe0" filter="url(#b0_8)" style="mix-blend-mode:screen"/><ellipse cx="27.13" cy="27.04" rx="1.05" ry="1.05" fill="#5bffe0" filter="url(#b0_8)" style="mix-blend-mode:screen"/><ellipse cx="33.5" cy="23.49" rx="1.14" ry="1.14" fill="#5bffe0" filter="url(#b0_8)" style="mix-blend-mode:screen"/><ellipse cx="21.74" cy="23.41" rx="1.14" ry="1.14" fill="#5bffe0" filter="url(#b0_8)" style="mix-blend-mode:screen"/><ellipse cx="30.55" cy="36.47" rx="1.26" ry="1.26" fill="#5bffe0" filter="url(#b0_8)" style="mix-blend-mode:screen"/><ellipse cx="33.39" cy="37.99" rx="0.7" ry="0.7" fill="#5bffe0" filter="url(#b0_8)" style="mix-blend-mode:screen"/><ellipse cx="30.5" cy="21.69" rx="1.29" ry="1.29" fill="#5bffe0" filter="url(#b0_8)" style="mix-blend-mode:screen"/><ellipse cx="26.93" cy="40.8" rx="1.12" ry="1.12" fill="#5bffe0" filter="url(#b0_8)" style="mix-blend-mode:screen"/><ellipse cx="26.51" cy="26.14" rx="1.34" ry="1.34" fill="#5bffe0" filter="url(#b0_8)" style="mix-blend-mode:screen"/><ellipse cx="31.5" cy="28.13" rx="1.27" ry="1.27" fill="#5bffe0" filter="url(#b0_8)" style="mix-blend-mode:screen"/><ellipse cx="31.66" cy="27.42" rx="0.99" ry="0.99" fill="#5bffe0" filter="url(#b0_8)" style="mix-blend-mode:screen"/><ellipse cx="24.26" cy="30.59" rx="1.2" ry="1.2" fill="#5bffe0" filter="url(#b0_8)" style="mix-blend-mode:screen"/><ellipse cx="29.38" cy="36.24" rx="1.37" ry="1.37" fill="#5bffe0" filter="url(#b0_8)" style="mix-blend-mode:screen"/><ellipse cx="22.38" cy="30.11" rx="1.23" ry="1.23" fill="#5bffe0" filter="url(#b0_8)" style="mix-blend-mode:screen"/><ellipse cx="24.16" cy="37.1" rx="0.72" ry="0.72" fill="#5bffe0" filter="url(#b0_8)" style="mix-blend-mode:screen"/><ellipse cx="34.3" cy="30.45" rx="1.02" ry="1.02" fill="#5bffe0" filter="url(#b0_8)" style="mix-blend-mode:screen"/><ellipse cx="28.09" cy="24.44" rx="1.33" ry="1.33" fill="#5bffe0" filter="url(#b0_8)" style="mix-blend-mode:screen"/><ellipse cx="22.41" cy="34.4" rx="1.18" ry="1.18" fill="#5bffe0" filter="url(#b0_8)" style="mix-blend-mode:screen"/><ellipse cx="35.06" cy="25.8" rx="0.98" ry="0.98" fill="#5bffe0" filter="url(#b0_8)" style="mix-blend-mode:screen"/><ellipse cx="24.08" cy="37.04" rx="1.22" ry="1.22" fill="#5bffe0" filter="url(#b0_8)" style="mix-blend-mode:screen"/><ellipse cx="31.76" cy="31.03" rx="1.04" ry="1.04" fill="#5bffe0" filter="url(#b0_8)" style="mix-blend-mode:screen"/><ellipse cx="21.17" cy="31.98" rx="0.97" ry="0.97" fill="#5bffe0" filter="url(#b0_8)" style="mix-blend-mode:screen"/><ellipse cx="21.58" cy="25.89" rx="0.91" ry="0.91" fill="#5bffe0" filter="url(#b0_8)" style="mix-blend-mode:screen"/><ellipse cx="32.32" cy="34.54" rx="0.74" ry="0.74" fill="#5bffe0" filter="url(#b0_8)" style="mix-blend-mode:screen"/><ellipse cx="31.13" cy="20.18" rx="1.27" ry="1.27" fill="#5bffe0" filter="url(#b0_8)" style="mix-blend-mode:screen"/><ellipse cx="32.4" cy="22.7" rx="0.92" ry="0.92" fill="#5bffe0" filter="url(#b0_8)" style="mix-blend-mode:screen"/><ellipse cx="20.11" cy="31.19" rx="1.2" ry="1.2" fill="#5bffe0" filter="url(#b0_8)" style="mix-blend-mode:screen"/><ellipse cx="23.68" cy="25.15" rx="1.14" ry="1.14" fill="#5bffe0" filter="url(#b0_8)" style="mix-blend-mode:screen"/><rect x="61.5" y="64" width="4.5" height="2.2" fill="#fff"/></svg>
<svg x="21.1" y="382.2" width="70.2" height="69.6" viewBox="0 0 70 70" preserveAspectRatio="none" style="isolation:isolate"><rect width="70" height="70" fill="#000"/><ellipse cx="30" cy="28" rx="42" ry="36" fill="#0b330f" filter="url(#b9_0)" style="mix-blend-mode:screen"/><ellipse cx="22" cy="46" rx="8" ry="8" fill="#000" filter="url(#b5_0)" opacity="0.4"/><rect width="70" height="70" filter="url(#txm0)" style="mix-blend-mode:multiply"/><ellipse cx="56" cy="45.5" rx="6" ry="4.5" fill="#12c422" filter="url(#b1_8)" style="mix-blend-mode:screen"/><ellipse cx="57" cy="45" rx="3.5" ry="3" fill="#1cff2c" filter="url(#b1_2)" style="mix-blend-mode:screen"/><ellipse cx="53" cy="47" rx="2.5" ry="2" fill="#1cff2c" filter="url(#b1_0)" style="mix-blend-mode:screen"/><rect x="61" y="64" width="5" height="2.2" fill="#fff"/></svg>
<svg x="94.6" y="382.2" width="68.7" height="69.6" viewBox="0 0 70 70" preserveAspectRatio="none" style="isolation:isolate"><rect width="70" height="70" fill="#000"/><ellipse cx="35" cy="36" rx="33" ry="32" fill="#7e1212" filter="url(#b2_5)" style="mix-blend-mode:screen"/><ellipse cx="66" cy="10" rx="9" ry="9" fill="#000" filter="url(#b3_0)" opacity="0.9"/><rect width="70" height="70" filter="url(#txm1)" style="mix-blend-mode:multiply"/><ellipse cx="57" cy="46" rx="6" ry="4" fill="#ff2a1a" filter="url(#b2_0)" style="mix-blend-mode:screen"/><rect x="61" y="64" width="5" height="2.2" fill="#fff"/></svg>
<svg x="167.5" y="382.2" width="69.4" height="69.6" viewBox="0 0 70 70" preserveAspectRatio="none" style="isolation:isolate"><rect width="70" height="70" fill="#000"/><ellipse cx="35" cy="36" rx="33" ry="32" fill="#6b0f0f" filter="url(#b2_5)" style="mix-blend-mode:screen"/><ellipse cx="66" cy="10" rx="9" ry="9" fill="#000" filter="url(#b3_0)" opacity="0.9"/><rect width="70" height="70" filter="url(#txm2)" style="mix-blend-mode:multiply"/><ellipse cx="57" cy="46" rx="6" ry="4" fill="#ff2a1a" filter="url(#b2_0)" style="mix-blend-mode:screen"/><ellipse cx="56" cy="45.5" rx="6" ry="4.5" fill="#12c422" filter="url(#b1_8)" style="mix-blend-mode:screen"/><ellipse cx="57" cy="45" rx="3.5" ry="3" fill="#1cff2c" filter="url(#b1_2)" style="mix-blend-mode:screen"/><ellipse cx="53" cy="47" rx="2.5" ry="2" fill="#1cff2c" filter="url(#b1_0)" style="mix-blend-mode:screen"/><line x1="3" y1="18.7" x2="64.5" y2="56.6" stroke="#fff" stroke-width="2.1" stroke-dasharray="2.1 2"/><rect x="61" y="64" width="5" height="2.2" fill="#fff"/></svg>
<svg x="240.3" y="382.2" width="69.9" height="69.6" viewBox="0 0 70 70" preserveAspectRatio="none" style="isolation:isolate"><rect width="70" height="70" fill="#000"/><ellipse cx="35" cy="36" rx="33" ry="32" fill="#7e1212" filter="url(#b2_5)" opacity="0.7" style="mix-blend-mode:screen"/><ellipse cx="66" cy="10" rx="9" ry="9" fill="#000" filter="url(#b3_0)" opacity="0.9"/><ellipse cx="36" cy="36" rx="32" ry="31" fill="#2c24b0" filter="url(#b2_5)" style="mix-blend-mode:screen"/><ellipse cx="14" cy="34" rx="6" ry="12" fill="#2a2aff" filter="url(#b4_0)" opacity="0.6" style="mix-blend-mode:screen"/><rect width="70" height="70" filter="url(#txv3)" style="mix-blend-mode:multiply"/><ellipse cx="57" cy="46" rx="6" ry="4" fill="#ff2a1a" filter="url(#b2_0)" style="mix-blend-mode:screen"/><ellipse cx="56" cy="45.5" rx="6" ry="4.5" fill="#43c4ac" filter="url(#b1_8)" style="mix-blend-mode:screen"/><ellipse cx="57" cy="45" rx="3.5" ry="3" fill="#5bffe0" filter="url(#b1_2)" style="mix-blend-mode:screen"/><ellipse cx="53" cy="47" rx="2.5" ry="2" fill="#5bffe0" filter="url(#b1_0)" style="mix-blend-mode:screen"/><rect x="61" y="64" width="5" height="2.2" fill="#fff"/></svg>
<svg x="502.8" y="21" width="69" height="69.4" viewBox="0 0 70 70" preserveAspectRatio="none" style="isolation:isolate"><rect width="70" height="70" fill="#000"/><ellipse cx="35" cy="38" rx="33" ry="21" fill="#0c3911" transform="rotate(-38 35 38)" filter="url(#b4_5)" style="mix-blend-mode:screen"/><ellipse cx="50" cy="26" rx="14" ry="12" fill="#0c3911" filter="url(#b4_0)" style="mix-blend-mode:screen"/><rect width="70" height="70" filter="url(#txm4)" style="mix-blend-mode:multiply"/><ellipse cx="55" cy="21" rx="4.5" ry="8.5" fill="#12c422" transform="rotate(-10 55 21)" filter="url(#b1_8)" style="mix-blend-mode:screen"/><ellipse cx="55" cy="20" rx="2.8" ry="5.5" fill="#1cff2c" transform="rotate(-10 55 20)" filter="url(#b1_2)" style="mix-blend-mode:screen"/><ellipse cx="56.5" cy="26" rx="2.5" ry="3" fill="#1cff2c" filter="url(#b1_0)" style="mix-blend-mode:screen"/><rect x="58" y="62.5" width="6.5" height="2.8" fill="#fff"/></svg>
<svg x="574.2" y="21" width="69.6" height="69.4" viewBox="0 0 70 70" preserveAspectRatio="none" style="isolation:isolate"><rect width="70" height="70" fill="#000"/><ellipse cx="35" cy="38" rx="35" ry="24" fill="url(#g8)" transform="rotate(-38 35 38)" filter="url(#b3_2)" style="mix-blend-mode:screen"/><rect width="70" height="70" filter="url(#txm5)" style="mix-blend-mode:multiply"/><ellipse cx="56" cy="21" rx="5" ry="8" fill="#ff2a1a" transform="rotate(-10 56 21)" filter="url(#b2_2)" style="mix-blend-mode:screen"/><rect x="58" y="62.5" width="6.5" height="2.8" fill="#fff"/></svg>
<svg x="645.8" y="21" width="70.2" height="69.4" viewBox="0 0 70 70" preserveAspectRatio="none" style="isolation:isolate"><rect width="70" height="70" fill="#000"/><ellipse cx="35" cy="38" rx="35" ry="24" fill="url(#g9)" transform="rotate(-38 35 38)" filter="url(#b3_2)" style="mix-blend-mode:screen"/><rect width="70" height="70" filter="url(#txm6)" style="mix-blend-mode:multiply"/><ellipse cx="56" cy="21" rx="5" ry="8" fill="#ff2a1a" transform="rotate(-10 56 21)" filter="url(#b2_2)" style="mix-blend-mode:screen"/><ellipse cx="55" cy="21" rx="4.5" ry="8.5" fill="#12c422" transform="rotate(-10 55 21)" filter="url(#b1_8)" style="mix-blend-mode:screen"/><ellipse cx="55" cy="20" rx="2.8" ry="5.5" fill="#1cff2c" transform="rotate(-10 55 20)" filter="url(#b1_2)" style="mix-blend-mode:screen"/><ellipse cx="56.5" cy="26" rx="2.5" ry="3" fill="#1cff2c" filter="url(#b1_0)" style="mix-blend-mode:screen"/><rect x="58" y="62.5" width="6.5" height="2.8" fill="#fff"/></svg>
<svg x="718.3" y="21" width="69.7" height="69.4" viewBox="0 0 70 70" preserveAspectRatio="none" style="isolation:isolate"><rect width="70" height="70" fill="#000"/><ellipse cx="35" cy="38" rx="35" ry="24" fill="url(#g8)" transform="rotate(-38 35 38)" filter="url(#b3_2)" opacity="0.45" style="mix-blend-mode:screen"/><ellipse cx="35" cy="38" rx="35" ry="26" fill="#2a24b8" transform="rotate(-38 35 38)" filter="url(#b3_5)" style="mix-blend-mode:screen"/><ellipse cx="30" cy="46" rx="10" ry="8" fill="#2a2aff" filter="url(#b4_0)" opacity="0.5" style="mix-blend-mode:screen"/><rect width="70" height="70" filter="url(#txv0)" style="mix-blend-mode:multiply"/><ellipse cx="56" cy="21" rx="5" ry="8" fill="#ff2a1a" transform="rotate(-10 56 21)" filter="url(#b2_2)" style="mix-blend-mode:screen"/><ellipse cx="55" cy="21" rx="4.5" ry="8.5" fill="#43c4ac" transform="rotate(-10 55 21)" filter="url(#b1_8)" style="mix-blend-mode:screen"/><ellipse cx="55" cy="20" rx="2.8" ry="5.5" fill="#5bffe0" transform="rotate(-10 55 20)" filter="url(#b1_2)" style="mix-blend-mode:screen"/><ellipse cx="56.5" cy="26" rx="2.5" ry="3" fill="#5bffe0" filter="url(#b1_0)" style="mix-blend-mode:screen"/><rect x="58" y="62.5" width="6.5" height="2.8" fill="#fff"/></svg>
<svg x="502.8" y="93" width="69" height="69" viewBox="0 0 70 70" preserveAspectRatio="none" style="isolation:isolate"><rect width="70" height="70" fill="#000"/><ellipse cx="32" cy="38" rx="28" ry="32" fill="#18691e" filter="url(#b4_0)" style="mix-blend-mode:screen"/><ellipse cx="46" cy="43" rx="14" ry="18" fill="#000" filter="url(#b5_0)" opacity="0.9"/><ellipse cx="14" cy="44" rx="9" ry="14" fill="#1c8225" filter="url(#b3_0)" style="mix-blend-mode:screen"/><ellipse cx="60" cy="66" rx="12" ry="6" fill="#0e4412" filter="url(#b3_0)" style="mix-blend-mode:screen"/><rect width="70" height="70" filter="url(#txm1)" style="mix-blend-mode:multiply"/><ellipse cx="14" cy="45" rx="6" ry="9" fill="#12c422" transform="rotate(-10 14 45)" filter="url(#b2_2)" style="mix-blend-mode:screen"/><ellipse cx="13" cy="48" rx="3.5" ry="5" fill="#1cff2c" filter="url(#b1_3)" style="mix-blend-mode:screen"/><ellipse cx="16" cy="40" rx="3" ry="3.5" fill="#1cff2c" filter="url(#b1_2)" style="mix-blend-mode:screen"/><ellipse cx="19" cy="52" rx="2.5" ry="2.5" fill="#1cff2c" filter="url(#b1_1)" style="mix-blend-mode:screen"/><rect x="59" y="62.5" width="6" height="2.6" fill="#fff"/></svg>
<svg x="574.2" y="93" width="69.6" height="69" viewBox="0 0 70 70" preserveAspectRatio="none" style="isolation:isolate"><rect width="70" height="70" fill="#000"/><ellipse cx="28" cy="40" rx="21" ry="25" fill="#7a0e0e" transform="rotate(10 28 40)" filter="url(#b4_0)" style="mix-blend-mode:screen"/><ellipse cx="42" cy="38" rx="11" ry="13" fill="#000" filter="url(#b4_0)" opacity="0.8"/><ellipse cx="52" cy="30" rx="5" ry="11" fill="#5a0c0c" filter="url(#b3_0)" style="mix-blend-mode:screen"/><ellipse cx="62" cy="66" rx="12" ry="6" fill="#7a1010" filter="url(#b3_0)" style="mix-blend-mode:screen"/><rect width="70" height="70" filter="url(#txm2)" style="mix-blend-mode:multiply"/><ellipse cx="18" cy="48" rx="7" ry="10" fill="#e81c14" filter="url(#b3_0)" style="mix-blend-mode:screen"/><ellipse cx="15" cy="46" rx="6" ry="9" fill="#ff2a1a" transform="rotate(-10 15 46)" filter="url(#b2_0)" style="mix-blend-mode:screen"/><rect x="59" y="62.5" width="6" height="2.6" fill="#fff"/></svg>
<svg x="645.8" y="93" width="70.2" height="69" viewBox="0 0 70 70" preserveAspectRatio="none" style="isolation:isolate"><rect width="70" height="70" fill="#000"/><ellipse cx="28" cy="40" rx="21" ry="25" fill="#0e0101" transform="rotate(10 28 40)" filter="url(#b4_0)" style="mix-blend-mode:screen"/><ellipse cx="42" cy="38" rx="11" ry="13" fill="#000" filter="url(#b4_0)" opacity="0.8"/><ellipse cx="52" cy="30" rx="5" ry="11" fill="#0a0101" filter="url(#b3_0)" style="mix-blend-mode:screen"/><ellipse cx="62" cy="66" rx="12" ry="6" fill="#0e0101" filter="url(#b3_0)" style="mix-blend-mode:screen"/><rect width="70" height="70" filter="url(#txm3)" style="mix-blend-mode:multiply"/><ellipse cx="18" cy="48" rx="7" ry="10" fill="#e81c14" filter="url(#b3_0)" style="mix-blend-mode:screen"/><ellipse cx="15" cy="46" rx="6" ry="9" fill="#ff2a1a" transform="rotate(-10 15 46)" filter="url(#b2_0)" style="mix-blend-mode:screen"/><ellipse cx="30" cy="56" rx="11" ry="5" fill="#a03a0c" transform="rotate(20 30 56)" filter="url(#b3_0)" style="mix-blend-mode:screen"/><ellipse cx="14" cy="45" rx="6" ry="9" fill="#12c422" transform="rotate(-10 14 45)" filter="url(#b2_2)" style="mix-blend-mode:screen"/><ellipse cx="13" cy="48" rx="3.5" ry="5" fill="#1cff2c" filter="url(#b1_3)" style="mix-blend-mode:screen"/><ellipse cx="16" cy="40" rx="3" ry="3.5" fill="#1cff2c" filter="url(#b1_2)" style="mix-blend-mode:screen"/><ellipse cx="19" cy="52" rx="2.5" ry="2.5" fill="#1cff2c" filter="url(#b1_1)" style="mix-blend-mode:screen"/><rect x="59" y="62.5" width="6" height="2.6" fill="#fff"/></svg>
<svg x="718.3" y="93" width="69.7" height="69" viewBox="0 0 70 70" preserveAspectRatio="none" style="isolation:isolate"><rect width="70" height="70" fill="#000"/><ellipse cx="28" cy="40" rx="21" ry="25" fill="#7a0e0e" transform="rotate(10 28 40)" filter="url(#b4_0)" opacity="0.3" style="mix-blend-mode:screen"/><ellipse cx="42" cy="38" rx="11" ry="13" fill="#000" filter="url(#b4_0)" opacity="0.8"/><ellipse cx="52" cy="30" rx="5" ry="11" fill="#5a0c0c" filter="url(#b3_0)" opacity="0.3" style="mix-blend-mode:screen"/><ellipse cx="62" cy="66" rx="12" ry="6" fill="#7a1010" filter="url(#b3_0)" opacity="0.3" style="mix-blend-mode:screen"/><ellipse cx="38" cy="36" rx="30" ry="31" fill="#1c1ca8" filter="url(#b3_0)" style="mix-blend-mode:screen"/><rect width="70" height="70" filter="url(#txv4)" style="mix-blend-mode:multiply"/><ellipse cx="18" cy="48" rx="7" ry="10" fill="#e81c14" filter="url(#b3_0)" style="mix-blend-mode:screen"/><ellipse cx="15" cy="46" rx="6" ry="9" fill="#ff2a1a" transform="rotate(-10 15 46)" filter="url(#b2_0)" style="mix-blend-mode:screen"/><ellipse cx="14" cy="45" rx="6" ry="9" fill="#43c4ac" transform="rotate(-10 14 45)" filter="url(#b2_2)" style="mix-blend-mode:screen"/><ellipse cx="13" cy="48" rx="3.5" ry="5" fill="#5bffe0" filter="url(#b1_3)" style="mix-blend-mode:screen"/><ellipse cx="16" cy="40" rx="3" ry="3.5" fill="#5bffe0" filter="url(#b1_2)" style="mix-blend-mode:screen"/><ellipse cx="19" cy="52" rx="2.5" ry="2.5" fill="#5bffe0" filter="url(#b1_1)" style="mix-blend-mode:screen"/><rect x="59" y="62.5" width="6" height="2.6" fill="#fff"/></svg>
<svg x="502.8" y="164.6" width="69" height="69.4" viewBox="0 0 70 70" preserveAspectRatio="none" style="isolation:isolate"><rect width="70" height="70" fill="#000"/><ellipse cx="32" cy="32" rx="35" ry="35" fill="url(#g10)" filter="url(#b2_5)" style="mix-blend-mode:screen"/><rect width="70" height="70" filter="url(#txf5)" style="mix-blend-mode:multiply"/><ellipse cx="46" cy="33" rx="4.5" ry="6" fill="#12c422" transform="rotate(25 46 33)" filter="url(#b1_6)" style="mix-blend-mode:screen"/><ellipse cx="46.5" cy="32" rx="2.8" ry="3.8" fill="#1cff2c" transform="rotate(25 46.5 32)" filter="url(#b1_1)" style="mix-blend-mode:screen"/><ellipse cx="43" cy="37" rx="2" ry="2" fill="#1cff2c" filter="url(#b1_0)" style="mix-blend-mode:screen"/><rect x="59" y="64" width="5.5" height="2.4" fill="#fff"/></svg>
<svg x="574.2" y="164.6" width="69.6" height="69.4" viewBox="0 0 70 70" preserveAspectRatio="none" style="isolation:isolate"><rect width="70" height="70" fill="#000"/><ellipse cx="36" cy="34" rx="32.5" ry="30.5" fill="url(#g11)" filter="url(#b3_0)" style="mix-blend-mode:screen"/><rect width="70" height="70" filter="url(#txm6)" style="mix-blend-mode:multiply"/><ellipse cx="47" cy="33" rx="5" ry="6" fill="#ff2a1a" transform="rotate(25 47 33)" filter="url(#b2_0)" style="mix-blend-mode:screen"/><rect x="59" y="64" width="5.5" height="2.4" fill="#fff"/></svg>
<svg x="645.8" y="164.6" width="70.2" height="69.4" viewBox="0 0 70 70" preserveAspectRatio="none" style="isolation:isolate"><rect width="70" height="70" fill="#000"/><ellipse cx="36" cy="34" rx="32.5" ry="30.5" fill="url(#g12)" filter="url(#b3_0)" style="mix-blend-mode:screen"/><rect width="70" height="70" filter="url(#txm0)" style="mix-blend-mode:multiply"/><ellipse cx="47" cy="33" rx="5" ry="6" fill="#ff2a1a" transform="rotate(25 47 33)" filter="url(#b2_0)" style="mix-blend-mode:screen"/><ellipse cx="46" cy="33" rx="4.5" ry="6" fill="#12c422" transform="rotate(25 46 33)" filter="url(#b1_6)" style="mix-blend-mode:screen"/><ellipse cx="46.5" cy="32" rx="2.8" ry="3.8" fill="#1cff2c" transform="rotate(25 46.5 32)" filter="url(#b1_1)" style="mix-blend-mode:screen"/><ellipse cx="43" cy="37" rx="2" ry="2" fill="#1cff2c" filter="url(#b1_0)" style="mix-blend-mode:screen"/><rect x="59" y="64" width="5.5" height="2.4" fill="#fff"/></svg>
<svg x="718.3" y="164.6" width="69.7" height="69.4" viewBox="0 0 70 70" preserveAspectRatio="none" style="isolation:isolate"><rect width="70" height="70" fill="#000"/><ellipse cx="36" cy="34" rx="32.5" ry="30.5" fill="url(#g11)" filter="url(#b3_0)" opacity="0.6" style="mix-blend-mode:screen"/><ellipse cx="36" cy="34" rx="32" ry="31" fill="#2a22aa" filter="url(#b3_0)" style="mix-blend-mode:screen"/><ellipse cx="52" cy="20" rx="7" ry="7" fill="#2a2aff" filter="url(#b3_0)" opacity="0.7" style="mix-blend-mode:screen"/><ellipse cx="54" cy="46" rx="6" ry="7" fill="#2a2aff" filter="url(#b3_0)" opacity="0.6" style="mix-blend-mode:screen"/><ellipse cx="26" cy="52" rx="5" ry="5" fill="#2a2aff" filter="url(#b3_0)" opacity="0.6" style="mix-blend-mode:screen"/><rect width="70" height="70" filter="url(#txv1)" style="mix-blend-mode:multiply"/><ellipse cx="47" cy="33" rx="5" ry="6" fill="#ff2a1a" transform="rotate(25 47 33)" filter="url(#b2_0)" style="mix-blend-mode:screen"/><ellipse cx="46" cy="33" rx="4.5" ry="6" fill="#43c4ac" transform="rotate(25 46 33)" filter="url(#b1_6)" style="mix-blend-mode:screen"/><ellipse cx="46.5" cy="32" rx="2.8" ry="3.8" fill="#5bffe0" transform="rotate(25 46.5 32)" filter="url(#b1_1)" style="mix-blend-mode:screen"/><ellipse cx="43" cy="37" rx="2" ry="2" fill="#5bffe0" filter="url(#b1_0)" style="mix-blend-mode:screen"/><rect x="59" y="64" width="5.5" height="2.4" fill="#fff"/></svg>
<svg x="502.8" y="237.2" width="69" height="68.6" viewBox="0 0 70 70" preserveAspectRatio="none" style="isolation:isolate"><rect width="70" height="70" fill="#000"/><ellipse cx="30" cy="32" rx="31" ry="30" fill="#175b1c" filter="url(#b3_5)" style="mix-blend-mode:screen"/><ellipse cx="22" cy="22" rx="14" ry="10" fill="#175b1c" filter="url(#b4_0)" opacity="0.6" style="mix-blend-mode:screen"/><rect width="70" height="70" filter="url(#txm2)" style="mix-blend-mode:multiply"/><ellipse cx="48" cy="39" rx="12" ry="5.5" fill="#12c422" transform="rotate(-25 48 39)" filter="url(#b2_0)" style="mix-blend-mode:screen"/><ellipse cx="52" cy="37" rx="3" ry="3" fill="#1cff2c" filter="url(#b1_1)" style="mix-blend-mode:screen"/><ellipse cx="47" cy="40" rx="3" ry="2.6" fill="#1cff2c" filter="url(#b1_1)" style="mix-blend-mode:screen"/><ellipse cx="43" cy="42" rx="2.6" ry="2.4" fill="#1cff2c" filter="url(#b1_1)" style="mix-blend-mode:screen"/><ellipse cx="56" cy="34" rx="2.4" ry="2.6" fill="#1cff2c" filter="url(#b1_1)" style="mix-blend-mode:screen"/><ellipse cx="38" cy="46" rx="1.5" ry="1.5" fill="#12c422" filter="url(#b0_8)" style="mix-blend-mode:screen"/><rect x="59.5" y="64" width="5" height="2.4" fill="#fff"/></svg>
<svg x="574.2" y="237.2" width="69.6" height="68.6" viewBox="0 0 70 70" preserveAspectRatio="none" style="isolation:isolate"><rect width="70" height="70" fill="#000"/><ellipse cx="35" cy="33" rx="30" ry="30" fill="url(#g13)" filter="url(#b3_0)" style="mix-blend-mode:screen"/><rect width="70" height="70" filter="url(#txm3)" style="mix-blend-mode:multiply"/><ellipse cx="45" cy="41" rx="11" ry="6" fill="#e81c14" transform="rotate(-25 45 41)" filter="url(#b3_0)" style="mix-blend-mode:screen"/><rect x="59.5" y="64" width="5" height="2.4" fill="#fff"/></svg>
<svg x="645.8" y="237.2" width="70.2" height="68.6" viewBox="0 0 70 70" preserveAspectRatio="none" style="isolation:isolate"><rect width="70" height="70" fill="#000"/><ellipse cx="35" cy="33" rx="30" ry="30" fill="url(#g14)" filter="url(#b3_0)" style="mix-blend-mode:screen"/><rect width="70" height="70" filter="url(#txm4)" style="mix-blend-mode:multiply"/><ellipse cx="45" cy="41" rx="11" ry="6" fill="#e81c14" transform="rotate(-25 45 41)" filter="url(#b3_0)" style="mix-blend-mode:screen"/><ellipse cx="48" cy="39" rx="12" ry="5.5" fill="#12c422" transform="rotate(-25 48 39)" filter="url(#b2_0)" style="mix-blend-mode:screen"/><ellipse cx="52" cy="37" rx="3" ry="3" fill="#1cff2c" filter="url(#b1_1)" style="mix-blend-mode:screen"/><ellipse cx="47" cy="40" rx="3" ry="2.6" fill="#1cff2c" filter="url(#b1_1)" style="mix-blend-mode:screen"/><ellipse cx="43" cy="42" rx="2.6" ry="2.4" fill="#1cff2c" filter="url(#b1_1)" style="mix-blend-mode:screen"/><ellipse cx="56" cy="34" rx="2.4" ry="2.6" fill="#1cff2c" filter="url(#b1_1)" style="mix-blend-mode:screen"/><ellipse cx="38" cy="46" rx="1.5" ry="1.5" fill="#12c422" filter="url(#b0_8)" style="mix-blend-mode:screen"/><rect x="59.5" y="64" width="5" height="2.4" fill="#fff"/></svg>
<svg x="718.3" y="237.2" width="69.7" height="68.6" viewBox="0 0 70 70" preserveAspectRatio="none" style="isolation:isolate"><rect width="70" height="70" fill="#000"/><ellipse cx="35" cy="33" rx="30" ry="30" fill="url(#g13)" filter="url(#b3_0)" opacity="0.5" style="mix-blend-mode:screen"/><ellipse cx="35" cy="33" rx="31" ry="31" fill="#3024c0" filter="url(#b3_0)" style="mix-blend-mode:screen"/><ellipse cx="12" cy="36" rx="6" ry="14" fill="#2a2aff" filter="url(#b4_0)" opacity="0.6" style="mix-blend-mode:screen"/><rect width="70" height="70" filter="url(#txv5)" style="mix-blend-mode:multiply"/><ellipse cx="45" cy="41" rx="11" ry="6" fill="#e81c14" transform="rotate(-25 45 41)" filter="url(#b3_0)" style="mix-blend-mode:screen"/><ellipse cx="48" cy="39" rx="12" ry="5.5" fill="#43c4ac" transform="rotate(-25 48 39)" filter="url(#b2_0)" style="mix-blend-mode:screen"/><ellipse cx="52" cy="37" rx="3" ry="3" fill="#5bffe0" filter="url(#b1_1)" style="mix-blend-mode:screen"/><ellipse cx="47" cy="40" rx="3" ry="2.6" fill="#5bffe0" filter="url(#b1_1)" style="mix-blend-mode:screen"/><ellipse cx="43" cy="42" rx="2.6" ry="2.4" fill="#5bffe0" filter="url(#b1_1)" style="mix-blend-mode:screen"/><ellipse cx="56" cy="34" rx="2.4" ry="2.6" fill="#5bffe0" filter="url(#b1_1)" style="mix-blend-mode:screen"/><ellipse cx="38" cy="46" rx="1.5" ry="1.5" fill="#43c4ac" filter="url(#b0_8)" style="mix-blend-mode:screen"/><rect x="59.5" y="64" width="5" height="2.4" fill="#fff"/></svg>
<svg x="502.8" y="308.7" width="69" height="69.7" viewBox="0 0 70 70" preserveAspectRatio="none" style="isolation:isolate"><rect width="70" height="70" fill="#000"/><ellipse cx="35" cy="35" rx="31" ry="31" fill="url(#g15)" filter="url(#b2_5)" style="mix-blend-mode:screen"/><rect width="70" height="70" filter="url(#txf6)" style="mix-blend-mode:multiply"/><ellipse cx="26" cy="35" rx="7" ry="9" fill="#12a822" filter="url(#b2_2)" style="mix-blend-mode:screen"/><ellipse cx="28" cy="31" rx="2.2" ry="3" fill="#1cff2c" filter="url(#b1_1)" style="mix-blend-mode:screen"/><ellipse cx="24" cy="36" rx="2.2" ry="2.6" fill="#1cff2c" filter="url(#b1_1)" style="mix-blend-mode:screen"/><ellipse cx="29.48" cy="36.66" rx="0.79" ry="0.79" fill="#1cff2c" filter="url(#b0_8)" style="mix-blend-mode:screen"/><ellipse cx="25.77" cy="40.8" rx="0.96" ry="0.96" fill="#1cff2c" filter="url(#b0_8)" style="mix-blend-mode:screen"/><ellipse cx="26.48" cy="28.72" rx="1.05" ry="1.05" fill="#1cff2c" filter="url(#b0_8)" style="mix-blend-mode:screen"/><ellipse cx="26.04" cy="39.28" rx="0.87" ry="0.87" fill="#1cff2c" filter="url(#b0_8)" style="mix-blend-mode:screen"/><ellipse cx="25.56" cy="42.61" rx="1.22" ry="1.22" fill="#1cff2c" filter="url(#b0_8)" style="mix-blend-mode:screen"/><ellipse cx="22.36" cy="32.55" rx="0.88" ry="0.88" fill="#1cff2c" filter="url(#b0_8)" style="mix-blend-mode:screen"/><ellipse cx="26.66" cy="38.11" rx="0.88" ry="0.88" fill="#1cff2c" filter="url(#b0_8)" style="mix-blend-mode:screen"/><ellipse cx="30.51" cy="33.55" rx="1.05" ry="1.05" fill="#1cff2c" filter="url(#b0_8)" style="mix-blend-mode:screen"/><ellipse cx="23.42" cy="37.29" rx="0.95" ry="0.95" fill="#1cff2c" filter="url(#b0_8)" style="mix-blend-mode:screen"/><ellipse cx="23.96" cy="39.4" rx="1.11" ry="1.11" fill="#1cff2c" filter="url(#b0_8)" style="mix-blend-mode:screen"/><ellipse cx="25.59" cy="36.62" rx="0.83" ry="0.83" fill="#1cff2c" filter="url(#b0_8)" style="mix-blend-mode:screen"/><ellipse cx="22.99" cy="35.82" rx="1.2" ry="1.2" fill="#1cff2c" filter="url(#b0_8)" style="mix-blend-mode:screen"/><ellipse cx="22.71" cy="40.52" rx="1.22" ry="1.22" fill="#1cff2c" filter="url(#b0_8)" style="mix-blend-mode:screen"/><ellipse cx="23.46" cy="35.41" rx="0.85" ry="0.85" fill="#1cff2c" filter="url(#b0_8)" style="mix-blend-mode:screen"/><ellipse cx="28.46" cy="30.74" rx="0.74" ry="0.74" fill="#1cff2c" filter="url(#b0_8)" style="mix-blend-mode:screen"/><ellipse cx="25.74" cy="38.3" rx="0.95" ry="0.95" fill="#1cff2c" filter="url(#b0_8)" style="mix-blend-mode:screen"/><ellipse cx="25.19" cy="42.3" rx="1.27" ry="1.27" fill="#1cff2c" filter="url(#b0_8)" style="mix-blend-mode:screen"/><ellipse cx="24.03" cy="42.09" rx="0.96" ry="0.96" fill="#1cff2c" filter="url(#b0_8)" style="mix-blend-mode:screen"/><rect x="57" y="64" width="9" height="2.8" fill="#fff"/></svg>
<svg x="574.2" y="308.7" width="69.6" height="69.7" viewBox="0 0 70 70" preserveAspectRatio="none" style="isolation:isolate"><rect width="70" height="70" fill="#000"/><ellipse cx="36" cy="34" rx="32" ry="30.5" fill="url(#g16)" filter="url(#b3_0)" style="mix-blend-mode:screen"/><rect width="70" height="70" filter="url(#txm0)" style="mix-blend-mode:multiply"/><ellipse cx="26" cy="36" rx="8" ry="8" fill="#e01a14" filter="url(#b3_0)" style="mix-blend-mode:screen"/><rect x="57" y="64" width="9" height="2.8" fill="#fff"/></svg>
<svg x="645.8" y="308.7" width="70.2" height="69.7" viewBox="0 0 70 70" preserveAspectRatio="none" style="isolation:isolate"><rect width="70" height="70" fill="#000"/><ellipse cx="36" cy="34" rx="32" ry="30.5" fill="url(#g17)" filter="url(#b3_0)" style="mix-blend-mode:screen"/><rect width="70" height="70" filter="url(#txm1)" style="mix-blend-mode:multiply"/><ellipse cx="26" cy="36" rx="8" ry="8" fill="#e01a14" filter="url(#b3_0)" style="mix-blend-mode:screen"/><ellipse cx="26" cy="35" rx="7" ry="9" fill="#12a822" filter="url(#b2_2)" style="mix-blend-mode:screen"/><ellipse cx="28" cy="31" rx="2.2" ry="3" fill="#1cff2c" filter="url(#b1_1)" style="mix-blend-mode:screen"/><ellipse cx="24" cy="36" rx="2.2" ry="2.6" fill="#1cff2c" filter="url(#b1_1)" style="mix-blend-mode:screen"/><ellipse cx="29.48" cy="36.66" rx="0.79" ry="0.79" fill="#1cff2c" filter="url(#b0_8)" style="mix-blend-mode:screen"/><ellipse cx="25.77" cy="40.8" rx="0.96" ry="0.96" fill="#1cff2c" filter="url(#b0_8)" style="mix-blend-mode:screen"/><ellipse cx="26.48" cy="28.72" rx="1.05" ry="1.05" fill="#1cff2c" filter="url(#b0_8)" style="mix-blend-mode:screen"/><ellipse cx="26.04" cy="39.28" rx="0.87" ry="0.87" fill="#1cff2c" filter="url(#b0_8)" style="mix-blend-mode:screen"/><ellipse cx="25.56" cy="42.61" rx="1.22" ry="1.22" fill="#1cff2c" filter="url(#b0_8)" style="mix-blend-mode:screen"/><ellipse cx="22.36" cy="32.55" rx="0.88" ry="0.88" fill="#1cff2c" filter="url(#b0_8)" style="mix-blend-mode:screen"/><ellipse cx="26.66" cy="38.11" rx="0.88" ry="0.88" fill="#1cff2c" filter="url(#b0_8)" style="mix-blend-mode:screen"/><ellipse cx="30.51" cy="33.55" rx="1.05" ry="1.05" fill="#1cff2c" filter="url(#b0_8)" style="mix-blend-mode:screen"/><ellipse cx="23.42" cy="37.29" rx="0.95" ry="0.95" fill="#1cff2c" filter="url(#b0_8)" style="mix-blend-mode:screen"/><ellipse cx="23.96" cy="39.4" rx="1.11" ry="1.11" fill="#1cff2c" filter="url(#b0_8)" style="mix-blend-mode:screen"/><ellipse cx="25.59" cy="36.62" rx="0.83" ry="0.83" fill="#1cff2c" filter="url(#b0_8)" style="mix-blend-mode:screen"/><ellipse cx="22.99" cy="35.82" rx="1.2" ry="1.2" fill="#1cff2c" filter="url(#b0_8)" style="mix-blend-mode:screen"/><ellipse cx="22.71" cy="40.52" rx="1.22" ry="1.22" fill="#1cff2c" filter="url(#b0_8)" style="mix-blend-mode:screen"/><ellipse cx="23.46" cy="35.41" rx="0.85" ry="0.85" fill="#1cff2c" filter="url(#b0_8)" style="mix-blend-mode:screen"/><ellipse cx="28.46" cy="30.74" rx="0.74" ry="0.74" fill="#1cff2c" filter="url(#b0_8)" style="mix-blend-mode:screen"/><ellipse cx="25.74" cy="38.3" rx="0.95" ry="0.95" fill="#1cff2c" filter="url(#b0_8)" style="mix-blend-mode:screen"/><ellipse cx="25.19" cy="42.3" rx="1.27" ry="1.27" fill="#1cff2c" filter="url(#b0_8)" style="mix-blend-mode:screen"/><ellipse cx="24.03" cy="42.09" rx="0.96" ry="0.96" fill="#1cff2c" filter="url(#b0_8)" style="mix-blend-mode:screen"/><rect x="57" y="64" width="9" height="2.8" fill="#fff"/></svg>
<svg x="718.3" y="308.7" width="69.7" height="69.7" viewBox="0 0 70 70" preserveAspectRatio="none" style="isolation:isolate"><rect width="70" height="70" fill="#000"/><ellipse cx="36" cy="34" rx="32" ry="30.5" fill="url(#g16)" filter="url(#b3_0)" opacity="0.6" style="mix-blend-mode:screen"/><ellipse cx="36" cy="34" rx="31" ry="30" fill="#3a22a8" filter="url(#b3_0)" style="mix-blend-mode:screen"/><ellipse cx="52" cy="18" rx="5" ry="8" fill="#2a2aff" filter="url(#b3_0)" opacity="0.7" style="mix-blend-mode:screen"/><rect width="70" height="70" filter="url(#txv2)" style="mix-blend-mode:multiply"/><ellipse cx="26" cy="36" rx="8" ry="8" fill="#e01a14" filter="url(#b3_0)" style="mix-blend-mode:screen"/><ellipse cx="26" cy="35" rx="7" ry="9" fill="#3ca893" filter="url(#b2_2)" style="mix-blend-mode:screen"/><ellipse cx="28" cy="31" rx="2.2" ry="3" fill="#5bffe0" filter="url(#b1_1)" style="mix-blend-mode:screen"/><ellipse cx="24" cy="36" rx="2.2" ry="2.6" fill="#5bffe0" filter="url(#b1_1)" style="mix-blend-mode:screen"/><ellipse cx="29.48" cy="36.66" rx="0.79" ry="0.79" fill="#5bffe0" filter="url(#b0_8)" style="mix-blend-mode:screen"/><ellipse cx="25.77" cy="40.8" rx="0.96" ry="0.96" fill="#5bffe0" filter="url(#b0_8)" style="mix-blend-mode:screen"/><ellipse cx="26.48" cy="28.72" rx="1.05" ry="1.05" fill="#5bffe0" filter="url(#b0_8)" style="mix-blend-mode:screen"/><ellipse cx="26.04" cy="39.28" rx="0.87" ry="0.87" fill="#5bffe0" filter="url(#b0_8)" style="mix-blend-mode:screen"/><ellipse cx="25.56" cy="42.61" rx="1.22" ry="1.22" fill="#5bffe0" filter="url(#b0_8)" style="mix-blend-mode:screen"/><ellipse cx="22.36" cy="32.55" rx="0.88" ry="0.88" fill="#5bffe0" filter="url(#b0_8)" style="mix-blend-mode:screen"/><ellipse cx="26.66" cy="38.11" rx="0.88" ry="0.88" fill="#5bffe0" filter="url(#b0_8)" style="mix-blend-mode:screen"/><ellipse cx="30.51" cy="33.55" rx="1.05" ry="1.05" fill="#5bffe0" filter="url(#b0_8)" style="mix-blend-mode:screen"/><ellipse cx="23.42" cy="37.29" rx="0.95" ry="0.95" fill="#5bffe0" filter="url(#b0_8)" style="mix-blend-mode:screen"/><ellipse cx="23.96" cy="39.4" rx="1.11" ry="1.11" fill="#5bffe0" filter="url(#b0_8)" style="mix-blend-mode:screen"/><ellipse cx="25.59" cy="36.62" rx="0.83" ry="0.83" fill="#5bffe0" filter="url(#b0_8)" style="mix-blend-mode:screen"/><ellipse cx="22.99" cy="35.82" rx="1.2" ry="1.2" fill="#5bffe0" filter="url(#b0_8)" style="mix-blend-mode:screen"/><ellipse cx="22.71" cy="40.52" rx="1.22" ry="1.22" fill="#5bffe0" filter="url(#b0_8)" style="mix-blend-mode:screen"/><ellipse cx="23.46" cy="35.41" rx="0.85" ry="0.85" fill="#5bffe0" filter="url(#b0_8)" style="mix-blend-mode:screen"/><ellipse cx="28.46" cy="30.74" rx="0.74" ry="0.74" fill="#5bffe0" filter="url(#b0_8)" style="mix-blend-mode:screen"/><ellipse cx="25.74" cy="38.3" rx="0.95" ry="0.95" fill="#5bffe0" filter="url(#b0_8)" style="mix-blend-mode:screen"/><ellipse cx="25.19" cy="42.3" rx="1.27" ry="1.27" fill="#5bffe0" filter="url(#b0_8)" style="mix-blend-mode:screen"/><ellipse cx="24.03" cy="42.09" rx="0.96" ry="0.96" fill="#5bffe0" filter="url(#b0_8)" style="mix-blend-mode:screen"/><rect x="57" y="64" width="9" height="2.8" fill="#fff"/></svg>
<svg x="502.8" y="380.9" width="69" height="69.1" viewBox="0 0 70 70" preserveAspectRatio="none" style="isolation:isolate"><rect width="70" height="70" fill="#000"/><ellipse cx="30" cy="30" rx="26" ry="25" fill="#103e14" filter="url(#b4_0)" style="mix-blend-mode:screen"/><ellipse cx="56" cy="22" rx="8" ry="4" fill="#0d3611" transform="rotate(20 56 22)" filter="url(#b3_0)" style="mix-blend-mode:screen"/><rect width="70" height="70" filter="url(#txm3)" style="mix-blend-mode:multiply"/><ellipse cx="46" cy="46.5" rx="5" ry="5" fill="#12c422" filter="url(#b1_7)" style="mix-blend-mode:screen"/><ellipse cx="46" cy="46.5" rx="3.2" ry="3.2" fill="#1cff2c" filter="url(#b1_2)" style="mix-blend-mode:screen"/><rect x="58.5" y="63.5" width="6" height="2.6" fill="#fff"/></svg>
<svg x="574.2" y="380.9" width="69.6" height="69.1" viewBox="0 0 70 70" preserveAspectRatio="none" style="isolation:isolate"><rect width="70" height="70" fill="#000"/><ellipse cx="36" cy="35" rx="31.5" ry="32.5" fill="url(#g13)" filter="url(#b3_0)" style="mix-blend-mode:screen"/><rect width="70" height="70" filter="url(#txm4)" style="mix-blend-mode:multiply"/><ellipse cx="47" cy="47" rx="6" ry="6" fill="#ff2a1a" filter="url(#b2_5)" style="mix-blend-mode:screen"/><rect x="58.5" y="63.5" width="6" height="2.6" fill="#fff"/></svg>
<svg x="645.8" y="380.9" width="70.2" height="69.1" viewBox="0 0 70 70" preserveAspectRatio="none" style="isolation:isolate"><rect width="70" height="70" fill="#000"/><ellipse cx="36" cy="35" rx="31.5" ry="32.5" fill="url(#g14)" filter="url(#b3_0)" style="mix-blend-mode:screen"/><rect width="70" height="70" filter="url(#txm5)" style="mix-blend-mode:multiply"/><ellipse cx="47" cy="47" rx="6" ry="6" fill="#ff2a1a" filter="url(#b2_5)" style="mix-blend-mode:screen"/><ellipse cx="46" cy="46.5" rx="5" ry="5" fill="#12c422" filter="url(#b1_7)" style="mix-blend-mode:screen"/><ellipse cx="46" cy="46.5" rx="3.2" ry="3.2" fill="#1cff2c" filter="url(#b1_2)" style="mix-blend-mode:screen"/><rect x="58.5" y="63.5" width="6" height="2.6" fill="#fff"/></svg>
<svg x="718.3" y="380.9" width="69.7" height="69.1" viewBox="0 0 70 70" preserveAspectRatio="none" style="isolation:isolate"><rect width="70" height="70" fill="#000"/><ellipse cx="36" cy="35" rx="31.5" ry="32.5" fill="url(#g13)" filter="url(#b3_0)" opacity="0.55" style="mix-blend-mode:screen"/><ellipse cx="36" cy="35" rx="31" ry="32" fill="#3824b8" filter="url(#b3_0)" style="mix-blend-mode:screen"/><ellipse cx="58" cy="36" rx="5" ry="6" fill="#2a2aff" filter="url(#b3_0)" opacity="0.7" style="mix-blend-mode:screen"/><rect width="70" height="70" filter="url(#txv6)" style="mix-blend-mode:multiply"/><ellipse cx="47" cy="47" rx="6" ry="6" fill="#ff2a1a" filter="url(#b2_5)" style="mix-blend-mode:screen"/><ellipse cx="46" cy="46.5" rx="5" ry="5" fill="#43c4ac" filter="url(#b1_7)" style="mix-blend-mode:screen"/><ellipse cx="46" cy="46.5" rx="3.2" ry="3.2" fill="#5bffe0" filter="url(#b1_2)" style="mix-blend-mode:screen"/><rect x="58.5" y="63.5" width="6" height="2.6" fill="#fff"/></svg>
<svg x="18.5" y="673.5" width="69.8" height="68.9" viewBox="0 0 70 70" preserveAspectRatio="none" style="isolation:isolate"><rect width="70" height="70" fill="#000"/><ellipse cx="13" cy="42" rx="10" ry="22" fill="#0b330f" transform="rotate(8 13 42)" filter="url(#b4_0)" style="mix-blend-mode:screen"/><ellipse cx="34" cy="9" rx="16" ry="4" fill="#08250b" transform="rotate(10 34 9)" filter="url(#b3_0)" style="mix-blend-mode:screen"/><ellipse cx="60" cy="28" rx="3" ry="8" fill="#061e06" filter="url(#b3_0)" style="mix-blend-mode:screen"/><rect width="70" height="70" filter="url(#txm0)" style="mix-blend-mode:multiply"/><ellipse cx="9.5" cy="28.5" rx="4.5" ry="6" fill="#12c422" filter="url(#b1_7)" style="mix-blend-mode:screen"/><ellipse cx="9.5" cy="28" rx="2.8" ry="3.8" fill="#1cff2c" filter="url(#b1_1)" style="mix-blend-mode:screen"/><ellipse cx="12" cy="25" rx="1.8" ry="1.8" fill="#1cff2c" filter="url(#b0_9)" style="mix-blend-mode:screen"/><rect x="60" y="61.5" width="5.5" height="2.4" fill="#fff"/></svg>
<svg x="92.2" y="673.5" width="69.7" height="68.9" viewBox="0 0 70 70" preserveAspectRatio="none" style="isolation:isolate"><rect width="70" height="70" fill="#000"/><ellipse cx="37" cy="35" rx="30" ry="29" fill="#400909" filter="url(#b3_5)" style="mix-blend-mode:screen"/><rect width="70" height="70" filter="url(#txs1)" style="mix-blend-mode:multiply"/><ellipse cx="9.5" cy="29" rx="4.5" ry="6" fill="#ff2a1a" filter="url(#b1_8)" style="mix-blend-mode:screen"/><ellipse cx="17" cy="18" rx="3" ry="2.5" fill="#a01616" filter="url(#b1_5)" style="mix-blend-mode:screen"/><ellipse cx="45.69" cy="26.12" rx="1.13" ry="1.13" fill="#b01919" filter="url(#b1_0)" style="mix-blend-mode:screen"/><ellipse cx="21.31" cy="42.23" rx="1.08" ry="1.08" fill="#b01919" filter="url(#b1_0)" style="mix-blend-mode:screen"/><ellipse cx="28.22" cy="30.9" rx="1.26" ry="1.26" fill="#b01919" filter="url(#b1_0)" style="mix-blend-mode:screen"/><ellipse cx="39.67" cy="21.25" rx="0.79" ry="0.79" fill="#b01919" filter="url(#b1_0)" style="mix-blend-mode:screen"/><ellipse cx="50.31" cy="27.96" rx="1.35" ry="1.35" fill="#b01919" filter="url(#b1_0)" style="mix-blend-mode:screen"/><ellipse cx="18.77" cy="43.49" rx="1.06" ry="1.06" fill="#b01919" filter="url(#b1_0)" style="mix-blend-mode:screen"/><ellipse cx="50.81" cy="48.18" rx="1.12" ry="1.12" fill="#b01919" filter="url(#b1_0)" style="mix-blend-mode:screen"/><ellipse cx="48.08" cy="42.33" rx="1.14" ry="1.14" fill="#b01919" filter="url(#b1_0)" style="mix-blend-mode:screen"/><ellipse cx="48.5" cy="54.64" rx="1.25" ry="1.25" fill="#b01919" filter="url(#b1_0)" style="mix-blend-mode:screen"/><ellipse cx="30.41" cy="15.52" rx="0.88" ry="0.88" fill="#b01919" filter="url(#b1_0)" style="mix-blend-mode:screen"/><ellipse cx="45.83" cy="23.53" rx="1.02" ry="1.02" fill="#b01919" filter="url(#b1_0)" style="mix-blend-mode:screen"/><ellipse cx="20.45" cy="16.78" rx="0.91" ry="0.91" fill="#b01919" filter="url(#b1_0)" style="mix-blend-mode:screen"/><ellipse cx="26.11" cy="24.01" rx="1.29" ry="1.29" fill="#b01919" filter="url(#b1_0)" style="mix-blend-mode:screen"/><ellipse cx="47.41" cy="40.53" rx="0.82" ry="0.82" fill="#b01919" filter="url(#b1_0)" style="mix-blend-mode:screen"/><ellipse cx="28.56" cy="36.54" rx="0.84" ry="0.84" fill="#b01919" filter="url(#b1_0)" style="mix-blend-mode:screen"/><ellipse cx="44.67" cy="30.02" rx="1.19" ry="1.19" fill="#b01919" filter="url(#b1_0)" style="mix-blend-mode:screen"/><ellipse cx="45.04" cy="31.05" rx="1.19" ry="1.19" fill="#b01919" filter="url(#b1_0)" style="mix-blend-mode:screen"/><ellipse cx="33.67" cy="22.7" rx="0.94" ry="0.94" fill="#b01919" filter="url(#b1_0)" style="mix-blend-mode:screen"/><ellipse cx="45.48" cy="27.81" rx="1.06" ry="1.06" fill="#b01919" filter="url(#b1_0)" style="mix-blend-mode:screen"/><ellipse cx="56.73" cy="39.22" rx="1.2" ry="1.2" fill="#b01919" filter="url(#b1_0)" style="mix-blend-mode:screen"/><ellipse cx="40.4" cy="29.65" rx="1.26" ry="1.26" fill="#b01919" filter="url(#b1_0)" style="mix-blend-mode:screen"/><ellipse cx="43.02" cy="27.77" rx="0.8" ry="0.8" fill="#b01919" filter="url(#b1_0)" style="mix-blend-mode:screen"/><ellipse cx="19.54" cy="19.33" rx="0.84" ry="0.84" fill="#b01919" filter="url(#b1_0)" style="mix-blend-mode:screen"/><ellipse cx="59.72" cy="31.81" rx="1.28" ry="1.28" fill="#b01919" filter="url(#b1_0)" style="mix-blend-mode:screen"/><ellipse cx="20.18" cy="43.23" rx="1.31" ry="1.31" fill="#b01919" filter="url(#b1_0)" style="mix-blend-mode:screen"/><ellipse cx="43.78" cy="22.83" rx="0.86" ry="0.86" fill="#b01919" filter="url(#b1_0)" style="mix-blend-mode:screen"/><rect x="60" y="61.5" width="5.5" height="2.4" fill="#fff"/></svg>
<svg x="165.8" y="673.5" width="70" height="68.9" viewBox="0 0 70 70" preserveAspectRatio="none" style="isolation:isolate"><rect width="70" height="70" fill="#000"/><ellipse cx="37" cy="35" rx="30" ry="29" fill="#360707" filter="url(#b3_5)" style="mix-blend-mode:screen"/><rect width="70" height="70" filter="url(#txs2)" style="mix-blend-mode:multiply"/><ellipse cx="9.5" cy="29" rx="4.5" ry="6" fill="#ff2a1a" filter="url(#b1_8)" style="mix-blend-mode:screen"/><ellipse cx="17" cy="18" rx="3" ry="2.5" fill="#a01616" filter="url(#b1_5)" style="mix-blend-mode:screen"/><ellipse cx="45.69" cy="26.12" rx="1.13" ry="1.13" fill="#b01919" filter="url(#b1_0)" style="mix-blend-mode:screen"/><ellipse cx="21.31" cy="42.23" rx="1.08" ry="1.08" fill="#b01919" filter="url(#b1_0)" style="mix-blend-mode:screen"/><ellipse cx="28.22" cy="30.9" rx="1.26" ry="1.26" fill="#b01919" filter="url(#b1_0)" style="mix-blend-mode:screen"/><ellipse cx="39.67" cy="21.25" rx="0.79" ry="0.79" fill="#b01919" filter="url(#b1_0)" style="mix-blend-mode:screen"/><ellipse cx="50.31" cy="27.96" rx="1.35" ry="1.35" fill="#b01919" filter="url(#b1_0)" style="mix-blend-mode:screen"/><ellipse cx="18.77" cy="43.49" rx="1.06" ry="1.06" fill="#b01919" filter="url(#b1_0)" style="mix-blend-mode:screen"/><ellipse cx="50.81" cy="48.18" rx="1.12" ry="1.12" fill="#b01919" filter="url(#b1_0)" style="mix-blend-mode:screen"/><ellipse cx="48.08" cy="42.33" rx="1.14" ry="1.14" fill="#b01919" filter="url(#b1_0)" style="mix-blend-mode:screen"/><ellipse cx="48.5" cy="54.64" rx="1.25" ry="1.25" fill="#b01919" filter="url(#b1_0)" style="mix-blend-mode:screen"/><ellipse cx="30.41" cy="15.52" rx="0.88" ry="0.88" fill="#b01919" filter="url(#b1_0)" style="mix-blend-mode:screen"/><ellipse cx="45.83" cy="23.53" rx="1.02" ry="1.02" fill="#b01919" filter="url(#b1_0)" style="mix-blend-mode:screen"/><ellipse cx="20.45" cy="16.78" rx="0.91" ry="0.91" fill="#b01919" filter="url(#b1_0)" style="mix-blend-mode:screen"/><ellipse cx="26.11" cy="24.01" rx="1.29" ry="1.29" fill="#b01919" filter="url(#b1_0)" style="mix-blend-mode:screen"/><ellipse cx="47.41" cy="40.53" rx="0.82" ry="0.82" fill="#b01919" filter="url(#b1_0)" style="mix-blend-mode:screen"/><ellipse cx="28.56" cy="36.54" rx="0.84" ry="0.84" fill="#b01919" filter="url(#b1_0)" style="mix-blend-mode:screen"/><ellipse cx="44.67" cy="30.02" rx="1.19" ry="1.19" fill="#b01919" filter="url(#b1_0)" style="mix-blend-mode:screen"/><ellipse cx="45.04" cy="31.05" rx="1.19" ry="1.19" fill="#b01919" filter="url(#b1_0)" style="mix-blend-mode:screen"/><ellipse cx="33.67" cy="22.7" rx="0.94" ry="0.94" fill="#b01919" filter="url(#b1_0)" style="mix-blend-mode:screen"/><ellipse cx="45.48" cy="27.81" rx="1.06" ry="1.06" fill="#b01919" filter="url(#b1_0)" style="mix-blend-mode:screen"/><ellipse cx="56.73" cy="39.22" rx="1.2" ry="1.2" fill="#b01919" filter="url(#b1_0)" style="mix-blend-mode:screen"/><ellipse cx="40.4" cy="29.65" rx="1.26" ry="1.26" fill="#b01919" filter="url(#b1_0)" style="mix-blend-mode:screen"/><ellipse cx="43.02" cy="27.77" rx="0.8" ry="0.8" fill="#b01919" filter="url(#b1_0)" style="mix-blend-mode:screen"/><ellipse cx="19.54" cy="19.33" rx="0.84" ry="0.84" fill="#b01919" filter="url(#b1_0)" style="mix-blend-mode:screen"/><ellipse cx="59.72" cy="31.81" rx="1.28" ry="1.28" fill="#b01919" filter="url(#b1_0)" style="mix-blend-mode:screen"/><ellipse cx="20.18" cy="43.23" rx="1.31" ry="1.31" fill="#b01919" filter="url(#b1_0)" style="mix-blend-mode:screen"/><ellipse cx="43.78" cy="22.83" rx="0.86" ry="0.86" fill="#b01919" filter="url(#b1_0)" style="mix-blend-mode:screen"/><ellipse cx="9.5" cy="28.5" rx="4.5" ry="6" fill="#12c422" filter="url(#b1_7)" style="mix-blend-mode:screen"/><ellipse cx="9.5" cy="28" rx="2.8" ry="3.8" fill="#1cff2c" filter="url(#b1_1)" style="mix-blend-mode:screen"/><ellipse cx="12" cy="25" rx="1.8" ry="1.8" fill="#1cff2c" filter="url(#b0_9)" style="mix-blend-mode:screen"/><line x1="3.5" y1="10.5" x2="23" y2="59" stroke="#fff" stroke-width="2.1" stroke-dasharray="2.1 2"/><rect x="60" y="61.5" width="5.5" height="2.4" fill="#fff"/></svg>
<svg x="239.3" y="673.5" width="69.4" height="68.9" viewBox="0 0 70 70" preserveAspectRatio="none" style="isolation:isolate"><rect width="70" height="70" fill="#000"/><ellipse cx="37" cy="35" rx="30" ry="29" fill="#400909" filter="url(#b3_5)" opacity="0.5" style="mix-blend-mode:screen"/><ellipse cx="37" cy="35" rx="32" ry="31" fill="#2222b0" filter="url(#b2_5)" style="mix-blend-mode:screen"/><rect width="70" height="70" filter="url(#txw3)" style="mix-blend-mode:multiply"/><ellipse cx="9.5" cy="29" rx="4.5" ry="6" fill="#ff2a1a" filter="url(#b1_8)" style="mix-blend-mode:screen"/><ellipse cx="17" cy="18" rx="3" ry="2.5" fill="#a01616" filter="url(#b1_5)" style="mix-blend-mode:screen"/><ellipse cx="45.69" cy="26.12" rx="1.13" ry="1.13" fill="#b01919" filter="url(#b1_0)" style="mix-blend-mode:screen"/><ellipse cx="21.31" cy="42.23" rx="1.08" ry="1.08" fill="#b01919" filter="url(#b1_0)" style="mix-blend-mode:screen"/><ellipse cx="28.22" cy="30.9" rx="1.26" ry="1.26" fill="#b01919" filter="url(#b1_0)" style="mix-blend-mode:screen"/><ellipse cx="39.67" cy="21.25" rx="0.79" ry="0.79" fill="#b01919" filter="url(#b1_0)" style="mix-blend-mode:screen"/><ellipse cx="50.31" cy="27.96" rx="1.35" ry="1.35" fill="#b01919" filter="url(#b1_0)" style="mix-blend-mode:screen"/><ellipse cx="18.77" cy="43.49" rx="1.06" ry="1.06" fill="#b01919" filter="url(#b1_0)" style="mix-blend-mode:screen"/><ellipse cx="50.81" cy="48.18" rx="1.12" ry="1.12" fill="#b01919" filter="url(#b1_0)" style="mix-blend-mode:screen"/><ellipse cx="48.08" cy="42.33" rx="1.14" ry="1.14" fill="#b01919" filter="url(#b1_0)" style="mix-blend-mode:screen"/><ellipse cx="48.5" cy="54.64" rx="1.25" ry="1.25" fill="#b01919" filter="url(#b1_0)" style="mix-blend-mode:screen"/><ellipse cx="30.41" cy="15.52" rx="0.88" ry="0.88" fill="#b01919" filter="url(#b1_0)" style="mix-blend-mode:screen"/><ellipse cx="45.83" cy="23.53" rx="1.02" ry="1.02" fill="#b01919" filter="url(#b1_0)" style="mix-blend-mode:screen"/><ellipse cx="20.45" cy="16.78" rx="0.91" ry="0.91" fill="#b01919" filter="url(#b1_0)" style="mix-blend-mode:screen"/><ellipse cx="26.11" cy="24.01" rx="1.29" ry="1.29" fill="#b01919" filter="url(#b1_0)" style="mix-blend-mode:screen"/><ellipse cx="47.41" cy="40.53" rx="0.82" ry="0.82" fill="#b01919" filter="url(#b1_0)" style="mix-blend-mode:screen"/><ellipse cx="28.56" cy="36.54" rx="0.84" ry="0.84" fill="#b01919" filter="url(#b1_0)" style="mix-blend-mode:screen"/><ellipse cx="44.67" cy="30.02" rx="1.19" ry="1.19" fill="#b01919" filter="url(#b1_0)" style="mix-blend-mode:screen"/><ellipse cx="45.04" cy="31.05" rx="1.19" ry="1.19" fill="#b01919" filter="url(#b1_0)" style="mix-blend-mode:screen"/><ellipse cx="33.67" cy="22.7" rx="0.94" ry="0.94" fill="#b01919" filter="url(#b1_0)" style="mix-blend-mode:screen"/><ellipse cx="45.48" cy="27.81" rx="1.06" ry="1.06" fill="#b01919" filter="url(#b1_0)" style="mix-blend-mode:screen"/><ellipse cx="56.73" cy="39.22" rx="1.2" ry="1.2" fill="#b01919" filter="url(#b1_0)" style="mix-blend-mode:screen"/><ellipse cx="40.4" cy="29.65" rx="1.26" ry="1.26" fill="#b01919" filter="url(#b1_0)" style="mix-blend-mode:screen"/><ellipse cx="43.02" cy="27.77" rx="0.8" ry="0.8" fill="#b01919" filter="url(#b1_0)" style="mix-blend-mode:screen"/><ellipse cx="19.54" cy="19.33" rx="0.84" ry="0.84" fill="#b01919" filter="url(#b1_0)" style="mix-blend-mode:screen"/><ellipse cx="59.72" cy="31.81" rx="1.28" ry="1.28" fill="#b01919" filter="url(#b1_0)" style="mix-blend-mode:screen"/><ellipse cx="20.18" cy="43.23" rx="1.31" ry="1.31" fill="#b01919" filter="url(#b1_0)" style="mix-blend-mode:screen"/><ellipse cx="43.78" cy="22.83" rx="0.86" ry="0.86" fill="#b01919" filter="url(#b1_0)" style="mix-blend-mode:screen"/><ellipse cx="9.5" cy="28.5" rx="4.5" ry="6" fill="#43c4ac" filter="url(#b1_7)" style="mix-blend-mode:screen"/><ellipse cx="9.5" cy="28" rx="2.8" ry="3.8" fill="#5bffe0" filter="url(#b1_1)" style="mix-blend-mode:screen"/><ellipse cx="12" cy="25" rx="1.8" ry="1.8" fill="#5bffe0" filter="url(#b0_9)" style="mix-blend-mode:screen"/><rect x="60" y="61.5" width="5.5" height="2.4" fill="#fff"/></svg>
<svg x="18.5" y="745.3" width="69.8" height="69.1" viewBox="0 0 70 70" preserveAspectRatio="none" style="isolation:isolate"><rect width="70" height="70" fill="#000"/><ellipse cx="33" cy="33" rx="31" ry="25" fill="#125a19" transform="rotate(-10 33 33)" filter="url(#b4_0)" style="mix-blend-mode:screen"/><rect width="70" height="70" filter="url(#txm4)" style="mix-blend-mode:multiply"/><ellipse cx="30" cy="28.5" rx="9.5" ry="9" fill="#12a020" filter="url(#b2_4)" style="mix-blend-mode:screen"/><ellipse cx="29.1" cy="28.2" rx="1.16" ry="1.16" fill="#1cff2c" filter="url(#b0_8)" style="mix-blend-mode:screen"/><ellipse cx="29.45" cy="24.18" rx="1.3" ry="1.3" fill="#1cff2c" filter="url(#b0_8)" style="mix-blend-mode:screen"/><ellipse cx="31.38" cy="30.42" rx="1.02" ry="1.02" fill="#1cff2c" filter="url(#b0_8)" style="mix-blend-mode:screen"/><ellipse cx="33.44" cy="25.57" rx="1.21" ry="1.21" fill="#1cff2c" filter="url(#b0_8)" style="mix-blend-mode:screen"/><ellipse cx="29.19" cy="32.88" rx="0.96" ry="0.96" fill="#1cff2c" filter="url(#b0_8)" style="mix-blend-mode:screen"/><ellipse cx="36.31" cy="32.93" rx="1.43" ry="1.43" fill="#1cff2c" filter="url(#b0_8)" style="mix-blend-mode:screen"/><ellipse cx="36.84" cy="26.96" rx="0.95" ry="0.95" fill="#1cff2c" filter="url(#b0_8)" style="mix-blend-mode:screen"/><ellipse cx="24.81" cy="33.51" rx="1.3" ry="1.3" fill="#1cff2c" filter="url(#b0_8)" style="mix-blend-mode:screen"/><ellipse cx="27.93" cy="23.96" rx="1.23" ry="1.23" fill="#1cff2c" filter="url(#b0_8)" style="mix-blend-mode:screen"/><ellipse cx="27.76" cy="29.35" rx="0.97" ry="0.97" fill="#1cff2c" filter="url(#b0_8)" style="mix-blend-mode:screen"/><ellipse cx="37.77" cy="28.38" rx="1.4" ry="1.4" fill="#1cff2c" filter="url(#b0_8)" style="mix-blend-mode:screen"/><ellipse cx="33.36" cy="27.97" rx="0.85" ry="0.85" fill="#1cff2c" filter="url(#b0_8)" style="mix-blend-mode:screen"/><ellipse cx="32.45" cy="32.9" rx="1.43" ry="1.43" fill="#1cff2c" filter="url(#b0_8)" style="mix-blend-mode:screen"/><ellipse cx="28.45" cy="33.5" rx="1.32" ry="1.32" fill="#1cff2c" filter="url(#b0_8)" style="mix-blend-mode:screen"/><ellipse cx="26.52" cy="25.11" rx="0.99" ry="0.99" fill="#1cff2c" filter="url(#b0_8)" style="mix-blend-mode:screen"/><ellipse cx="29.93" cy="30.86" rx="1.01" ry="1.01" fill="#1cff2c" filter="url(#b0_8)" style="mix-blend-mode:screen"/><ellipse cx="28.02" cy="34.65" rx="0.98" ry="0.98" fill="#1cff2c" filter="url(#b0_8)" style="mix-blend-mode:screen"/><ellipse cx="22.68" cy="26.57" rx="0.82" ry="0.82" fill="#1cff2c" filter="url(#b0_8)" style="mix-blend-mode:screen"/><ellipse cx="35.2" cy="29.74" rx="1.4" ry="1.4" fill="#1cff2c" filter="url(#b0_8)" style="mix-blend-mode:screen"/><ellipse cx="36.86" cy="31.5" rx="1.31" ry="1.31" fill="#1cff2c" filter="url(#b0_8)" style="mix-blend-mode:screen"/><ellipse cx="31.24" cy="34.55" rx="1.3" ry="1.3" fill="#1cff2c" filter="url(#b0_8)" style="mix-blend-mode:screen"/><ellipse cx="24.52" cy="29.71" rx="1.35" ry="1.35" fill="#1cff2c" filter="url(#b0_8)" style="mix-blend-mode:screen"/><ellipse cx="32.18" cy="26.12" rx="1.46" ry="1.46" fill="#1cff2c" filter="url(#b0_8)" style="mix-blend-mode:screen"/><ellipse cx="29.24" cy="26.47" rx="1.49" ry="1.49" fill="#1cff2c" filter="url(#b0_8)" style="mix-blend-mode:screen"/><ellipse cx="37.21" cy="31.44" rx="1.45" ry="1.45" fill="#1cff2c" filter="url(#b0_8)" style="mix-blend-mode:screen"/><ellipse cx="27.61" cy="28.45" rx="1.11" ry="1.11" fill="#1cff2c" filter="url(#b0_8)" style="mix-blend-mode:screen"/><ellipse cx="23.94" cy="29.48" rx="1.28" ry="1.28" fill="#1cff2c" filter="url(#b0_8)" style="mix-blend-mode:screen"/><ellipse cx="30.22" cy="30.46" rx="1.11" ry="1.11" fill="#1cff2c" filter="url(#b0_8)" style="mix-blend-mode:screen"/><ellipse cx="23.37" cy="25.34" rx="1.32" ry="1.32" fill="#1cff2c" filter="url(#b0_8)" style="mix-blend-mode:screen"/><ellipse cx="29.77" cy="32.44" rx="1.27" ry="1.27" fill="#1cff2c" filter="url(#b0_8)" style="mix-blend-mode:screen"/><rect x="60" y="61.5" width="5.5" height="2.4" fill="#fff"/></svg>
<svg x="92.2" y="745.3" width="69.7" height="69.1" viewBox="0 0 70 70" preserveAspectRatio="none" style="isolation:isolate"><rect width="70" height="70" fill="#000"/><ellipse cx="35" cy="34" rx="29" ry="29" fill="#560c0c" filter="url(#b3_5)" style="mix-blend-mode:screen"/><rect width="70" height="70" filter="url(#txs5)" style="mix-blend-mode:multiply"/><ellipse cx="41.53" cy="38.5" rx="1.44" ry="1.44" fill="#b81d1d" filter="url(#b1_0)" style="mix-blend-mode:screen"/><ellipse cx="59.35" cy="31.3" rx="0.86" ry="0.86" fill="#b81d1d" filter="url(#b1_0)" style="mix-blend-mode:screen"/><ellipse cx="47.94" cy="20.61" rx="1.3" ry="1.3" fill="#b81d1d" filter="url(#b1_0)" style="mix-blend-mode:screen"/><ellipse cx="37.06" cy="34.59" rx="1.49" ry="1.49" fill="#b81d1d" filter="url(#b1_0)" style="mix-blend-mode:screen"/><ellipse cx="24.82" cy="50.79" rx="1.46" ry="1.46" fill="#b81d1d" filter="url(#b1_0)" style="mix-blend-mode:screen"/><ellipse cx="28.83" cy="42.5" rx="0.99" ry="0.99" fill="#b81d1d" filter="url(#b1_0)" style="mix-blend-mode:screen"/><ellipse cx="47.77" cy="15.92" rx="0.86" ry="0.86" fill="#b81d1d" filter="url(#b1_0)" style="mix-blend-mode:screen"/><ellipse cx="35.67" cy="37.9" rx="1.37" ry="1.37" fill="#b81d1d" filter="url(#b1_0)" style="mix-blend-mode:screen"/><ellipse cx="33.7" cy="33.32" rx="1" ry="1" fill="#b81d1d" filter="url(#b1_0)" style="mix-blend-mode:screen"/><ellipse cx="30.43" cy="21.12" rx="1.03" ry="1.03" fill="#b81d1d" filter="url(#b1_0)" style="mix-blend-mode:screen"/><ellipse cx="43.7" cy="12.88" rx="0.92" ry="0.92" fill="#b81d1d" filter="url(#b1_0)" style="mix-blend-mode:screen"/><ellipse cx="23.59" cy="12.25" rx="1.26" ry="1.26" fill="#b81d1d" filter="url(#b1_0)" style="mix-blend-mode:screen"/><ellipse cx="17.94" cy="49.93" rx="1.09" ry="1.09" fill="#b81d1d" filter="url(#b1_0)" style="mix-blend-mode:screen"/><ellipse cx="45.56" cy="53.99" rx="1.4" ry="1.4" fill="#b81d1d" filter="url(#b1_0)" style="mix-blend-mode:screen"/><ellipse cx="43.35" cy="16.24" rx="0.97" ry="0.97" fill="#b81d1d" filter="url(#b1_0)" style="mix-blend-mode:screen"/><ellipse cx="42.48" cy="24.57" rx="1.12" ry="1.12" fill="#b81d1d" filter="url(#b1_0)" style="mix-blend-mode:screen"/><ellipse cx="21.86" cy="53.84" rx="1.43" ry="1.43" fill="#b81d1d" filter="url(#b1_0)" style="mix-blend-mode:screen"/><ellipse cx="42.31" cy="21.64" rx="0.97" ry="0.97" fill="#b81d1d" filter="url(#b1_0)" style="mix-blend-mode:screen"/><ellipse cx="42.39" cy="23.09" rx="1.36" ry="1.36" fill="#b81d1d" filter="url(#b1_0)" style="mix-blend-mode:screen"/><ellipse cx="18.79" cy="49.93" rx="1.19" ry="1.19" fill="#b81d1d" filter="url(#b1_0)" style="mix-blend-mode:screen"/><ellipse cx="30.01" cy="27.55" rx="1.03" ry="1.03" fill="#b81d1d" filter="url(#b1_0)" style="mix-blend-mode:screen"/><ellipse cx="16.47" cy="23.66" rx="1.14" ry="1.14" fill="#b81d1d" filter="url(#b1_0)" style="mix-blend-mode:screen"/><ellipse cx="31.8" cy="29.04" rx="1.03" ry="1.03" fill="#b81d1d" filter="url(#b1_0)" style="mix-blend-mode:screen"/><ellipse cx="42.26" cy="41.86" rx="1.32" ry="1.32" fill="#b81d1d" filter="url(#b1_0)" style="mix-blend-mode:screen"/><ellipse cx="23.69" cy="20.08" rx="1.38" ry="1.38" fill="#b81d1d" filter="url(#b1_0)" style="mix-blend-mode:screen"/><ellipse cx="42.72" cy="15.01" rx="1.21" ry="1.21" fill="#b81d1d" filter="url(#b1_0)" style="mix-blend-mode:screen"/><ellipse cx="12.76" cy="40.69" rx="1.22" ry="1.22" fill="#b81d1d" filter="url(#b1_0)" style="mix-blend-mode:screen"/><ellipse cx="14.46" cy="39.94" rx="1.01" ry="1.01" fill="#b81d1d" filter="url(#b1_0)" style="mix-blend-mode:screen"/><ellipse cx="32.35" cy="55.41" rx="0.86" ry="0.86" fill="#b81d1d" filter="url(#b1_0)" style="mix-blend-mode:screen"/><ellipse cx="38.94" cy="50.03" rx="1.25" ry="1.25" fill="#b81d1d" filter="url(#b1_0)" style="mix-blend-mode:screen"/><ellipse cx="34" cy="25.86" rx="1.4" ry="1.4" fill="#b81d1d" filter="url(#b1_0)" style="mix-blend-mode:screen"/><ellipse cx="31.8" cy="36.52" rx="1.19" ry="1.19" fill="#b81d1d" filter="url(#b1_0)" style="mix-blend-mode:screen"/><ellipse cx="27.8" cy="31.26" rx="0.91" ry="0.91" fill="#b81d1d" filter="url(#b1_0)" style="mix-blend-mode:screen"/><ellipse cx="21.93" cy="28.59" rx="0.85" ry="0.85" fill="#b81d1d" filter="url(#b1_0)" style="mix-blend-mode:screen"/><rect x="60" y="61.5" width="5.5" height="2.4" fill="#fff"/></svg>
<svg x="165.8" y="745.3" width="70" height="69.1" viewBox="0 0 70 70" preserveAspectRatio="none" style="isolation:isolate"><rect width="70" height="70" fill="#000"/><ellipse cx="35" cy="34" rx="29" ry="29" fill="#490a0a" filter="url(#b3_5)" style="mix-blend-mode:screen"/><rect width="70" height="70" filter="url(#txs6)" style="mix-blend-mode:multiply"/><ellipse cx="41.53" cy="38.5" rx="1.44" ry="1.44" fill="#b81d1d" filter="url(#b1_0)" style="mix-blend-mode:screen"/><ellipse cx="59.35" cy="31.3" rx="0.86" ry="0.86" fill="#b81d1d" filter="url(#b1_0)" style="mix-blend-mode:screen"/><ellipse cx="47.94" cy="20.61" rx="1.3" ry="1.3" fill="#b81d1d" filter="url(#b1_0)" style="mix-blend-mode:screen"/><ellipse cx="37.06" cy="34.59" rx="1.49" ry="1.49" fill="#b81d1d" filter="url(#b1_0)" style="mix-blend-mode:screen"/><ellipse cx="24.82" cy="50.79" rx="1.46" ry="1.46" fill="#b81d1d" filter="url(#b1_0)" style="mix-blend-mode:screen"/><ellipse cx="28.83" cy="42.5" rx="0.99" ry="0.99" fill="#b81d1d" filter="url(#b1_0)" style="mix-blend-mode:screen"/><ellipse cx="47.77" cy="15.92" rx="0.86" ry="0.86" fill="#b81d1d" filter="url(#b1_0)" style="mix-blend-mode:screen"/><ellipse cx="35.67" cy="37.9" rx="1.37" ry="1.37" fill="#b81d1d" filter="url(#b1_0)" style="mix-blend-mode:screen"/><ellipse cx="33.7" cy="33.32" rx="1" ry="1" fill="#b81d1d" filter="url(#b1_0)" style="mix-blend-mode:screen"/><ellipse cx="30.43" cy="21.12" rx="1.03" ry="1.03" fill="#b81d1d" filter="url(#b1_0)" style="mix-blend-mode:screen"/><ellipse cx="43.7" cy="12.88" rx="0.92" ry="0.92" fill="#b81d1d" filter="url(#b1_0)" style="mix-blend-mode:screen"/><ellipse cx="23.59" cy="12.25" rx="1.26" ry="1.26" fill="#b81d1d" filter="url(#b1_0)" style="mix-blend-mode:screen"/><ellipse cx="17.94" cy="49.93" rx="1.09" ry="1.09" fill="#b81d1d" filter="url(#b1_0)" style="mix-blend-mode:screen"/><ellipse cx="45.56" cy="53.99" rx="1.4" ry="1.4" fill="#b81d1d" filter="url(#b1_0)" style="mix-blend-mode:screen"/><ellipse cx="43.35" cy="16.24" rx="0.97" ry="0.97" fill="#b81d1d" filter="url(#b1_0)" style="mix-blend-mode:screen"/><ellipse cx="42.48" cy="24.57" rx="1.12" ry="1.12" fill="#b81d1d" filter="url(#b1_0)" style="mix-blend-mode:screen"/><ellipse cx="21.86" cy="53.84" rx="1.43" ry="1.43" fill="#b81d1d" filter="url(#b1_0)" style="mix-blend-mode:screen"/><ellipse cx="42.31" cy="21.64" rx="0.97" ry="0.97" fill="#b81d1d" filter="url(#b1_0)" style="mix-blend-mode:screen"/><ellipse cx="42.39" cy="23.09" rx="1.36" ry="1.36" fill="#b81d1d" filter="url(#b1_0)" style="mix-blend-mode:screen"/><ellipse cx="18.79" cy="49.93" rx="1.19" ry="1.19" fill="#b81d1d" filter="url(#b1_0)" style="mix-blend-mode:screen"/><ellipse cx="30.01" cy="27.55" rx="1.03" ry="1.03" fill="#b81d1d" filter="url(#b1_0)" style="mix-blend-mode:screen"/><ellipse cx="16.47" cy="23.66" rx="1.14" ry="1.14" fill="#b81d1d" filter="url(#b1_0)" style="mix-blend-mode:screen"/><ellipse cx="31.8" cy="29.04" rx="1.03" ry="1.03" fill="#b81d1d" filter="url(#b1_0)" style="mix-blend-mode:screen"/><ellipse cx="42.26" cy="41.86" rx="1.32" ry="1.32" fill="#b81d1d" filter="url(#b1_0)" style="mix-blend-mode:screen"/><ellipse cx="23.69" cy="20.08" rx="1.38" ry="1.38" fill="#b81d1d" filter="url(#b1_0)" style="mix-blend-mode:screen"/><ellipse cx="42.72" cy="15.01" rx="1.21" ry="1.21" fill="#b81d1d" filter="url(#b1_0)" style="mix-blend-mode:screen"/><ellipse cx="12.76" cy="40.69" rx="1.22" ry="1.22" fill="#b81d1d" filter="url(#b1_0)" style="mix-blend-mode:screen"/><ellipse cx="14.46" cy="39.94" rx="1.01" ry="1.01" fill="#b81d1d" filter="url(#b1_0)" style="mix-blend-mode:screen"/><ellipse cx="32.35" cy="55.41" rx="0.86" ry="0.86" fill="#b81d1d" filter="url(#b1_0)" style="mix-blend-mode:screen"/><ellipse cx="38.94" cy="50.03" rx="1.25" ry="1.25" fill="#b81d1d" filter="url(#b1_0)" style="mix-blend-mode:screen"/><ellipse cx="34" cy="25.86" rx="1.4" ry="1.4" fill="#b81d1d" filter="url(#b1_0)" style="mix-blend-mode:screen"/><ellipse cx="31.8" cy="36.52" rx="1.19" ry="1.19" fill="#b81d1d" filter="url(#b1_0)" style="mix-blend-mode:screen"/><ellipse cx="27.8" cy="31.26" rx="0.91" ry="0.91" fill="#b81d1d" filter="url(#b1_0)" style="mix-blend-mode:screen"/><ellipse cx="21.93" cy="28.59" rx="0.85" ry="0.85" fill="#b81d1d" filter="url(#b1_0)" style="mix-blend-mode:screen"/><ellipse cx="30" cy="28.5" rx="9.5" ry="9" fill="#12a020" filter="url(#b2_4)" style="mix-blend-mode:screen"/><ellipse cx="29.1" cy="28.2" rx="1.16" ry="1.16" fill="#1cff2c" filter="url(#b0_8)" style="mix-blend-mode:screen"/><ellipse cx="29.45" cy="24.18" rx="1.3" ry="1.3" fill="#1cff2c" filter="url(#b0_8)" style="mix-blend-mode:screen"/><ellipse cx="31.38" cy="30.42" rx="1.02" ry="1.02" fill="#1cff2c" filter="url(#b0_8)" style="mix-blend-mode:screen"/><ellipse cx="33.44" cy="25.57" rx="1.21" ry="1.21" fill="#1cff2c" filter="url(#b0_8)" style="mix-blend-mode:screen"/><ellipse cx="29.19" cy="32.88" rx="0.96" ry="0.96" fill="#1cff2c" filter="url(#b0_8)" style="mix-blend-mode:screen"/><ellipse cx="36.31" cy="32.93" rx="1.43" ry="1.43" fill="#1cff2c" filter="url(#b0_8)" style="mix-blend-mode:screen"/><ellipse cx="36.84" cy="26.96" rx="0.95" ry="0.95" fill="#1cff2c" filter="url(#b0_8)" style="mix-blend-mode:screen"/><ellipse cx="24.81" cy="33.51" rx="1.3" ry="1.3" fill="#1cff2c" filter="url(#b0_8)" style="mix-blend-mode:screen"/><ellipse cx="27.93" cy="23.96" rx="1.23" ry="1.23" fill="#1cff2c" filter="url(#b0_8)" style="mix-blend-mode:screen"/><ellipse cx="27.76" cy="29.35" rx="0.97" ry="0.97" fill="#1cff2c" filter="url(#b0_8)" style="mix-blend-mode:screen"/><ellipse cx="37.77" cy="28.38" rx="1.4" ry="1.4" fill="#1cff2c" filter="url(#b0_8)" style="mix-blend-mode:screen"/><ellipse cx="33.36" cy="27.97" rx="0.85" ry="0.85" fill="#1cff2c" filter="url(#b0_8)" style="mix-blend-mode:screen"/><ellipse cx="32.45" cy="32.9" rx="1.43" ry="1.43" fill="#1cff2c" filter="url(#b0_8)" style="mix-blend-mode:screen"/><ellipse cx="28.45" cy="33.5" rx="1.32" ry="1.32" fill="#1cff2c" filter="url(#b0_8)" style="mix-blend-mode:screen"/><ellipse cx="26.52" cy="25.11" rx="0.99" ry="0.99" fill="#1cff2c" filter="url(#b0_8)" style="mix-blend-mode:screen"/><ellipse cx="29.93" cy="30.86" rx="1.01" ry="1.01" fill="#1cff2c" filter="url(#b0_8)" style="mix-blend-mode:screen"/><ellipse cx="28.02" cy="34.65" rx="0.98" ry="0.98" fill="#1cff2c" filter="url(#b0_8)" style="mix-blend-mode:screen"/><ellipse cx="22.68" cy="26.57" rx="0.82" ry="0.82" fill="#1cff2c" filter="url(#b0_8)" style="mix-blend-mode:screen"/><ellipse cx="35.2" cy="29.74" rx="1.4" ry="1.4" fill="#1cff2c" filter="url(#b0_8)" style="mix-blend-mode:screen"/><ellipse cx="36.86" cy="31.5" rx="1.31" ry="1.31" fill="#1cff2c" filter="url(#b0_8)" style="mix-blend-mode:screen"/><ellipse cx="31.24" cy="34.55" rx="1.3" ry="1.3" fill="#1cff2c" filter="url(#b0_8)" style="mix-blend-mode:screen"/><ellipse cx="24.52" cy="29.71" rx="1.35" ry="1.35" fill="#1cff2c" filter="url(#b0_8)" style="mix-blend-mode:screen"/><ellipse cx="32.18" cy="26.12" rx="1.46" ry="1.46" fill="#1cff2c" filter="url(#b0_8)" style="mix-blend-mode:screen"/><ellipse cx="29.24" cy="26.47" rx="1.49" ry="1.49" fill="#1cff2c" filter="url(#b0_8)" style="mix-blend-mode:screen"/><ellipse cx="37.21" cy="31.44" rx="1.45" ry="1.45" fill="#1cff2c" filter="url(#b0_8)" style="mix-blend-mode:screen"/><ellipse cx="27.61" cy="28.45" rx="1.11" ry="1.11" fill="#1cff2c" filter="url(#b0_8)" style="mix-blend-mode:screen"/><ellipse cx="23.94" cy="29.48" rx="1.28" ry="1.28" fill="#1cff2c" filter="url(#b0_8)" style="mix-blend-mode:screen"/><ellipse cx="30.22" cy="30.46" rx="1.11" ry="1.11" fill="#1cff2c" filter="url(#b0_8)" style="mix-blend-mode:screen"/><ellipse cx="23.37" cy="25.34" rx="1.32" ry="1.32" fill="#1cff2c" filter="url(#b0_8)" style="mix-blend-mode:screen"/><ellipse cx="29.77" cy="32.44" rx="1.27" ry="1.27" fill="#1cff2c" filter="url(#b0_8)" style="mix-blend-mode:screen"/><line x1="24.8" y1="1.6" x2="35" y2="67" stroke="#fff" stroke-width="2.1" stroke-dasharray="2.1 2"/><rect x="60" y="61.5" width="5.5" height="2.4" fill="#fff"/></svg>
<svg x="239.3" y="745.3" width="69.4" height="69.1" viewBox="0 0 70 70" preserveAspectRatio="none" style="isolation:isolate"><rect width="70" height="70" fill="#000"/><ellipse cx="35" cy="34" rx="29" ry="29" fill="#560c0c" filter="url(#b3_5)" opacity="0.6" style="mix-blend-mode:screen"/><ellipse cx="36" cy="35" rx="31" ry="30" fill="#2424b0" filter="url(#b2_5)" style="mix-blend-mode:screen"/><rect width="70" height="70" filter="url(#txw0)" style="mix-blend-mode:multiply"/><ellipse cx="41.53" cy="38.5" rx="1.44" ry="1.44" fill="#b81d1d" filter="url(#b1_0)" style="mix-blend-mode:screen"/><ellipse cx="59.35" cy="31.3" rx="0.86" ry="0.86" fill="#b81d1d" filter="url(#b1_0)" style="mix-blend-mode:screen"/><ellipse cx="47.94" cy="20.61" rx="1.3" ry="1.3" fill="#b81d1d" filter="url(#b1_0)" style="mix-blend-mode:screen"/><ellipse cx="37.06" cy="34.59" rx="1.49" ry="1.49" fill="#b81d1d" filter="url(#b1_0)" style="mix-blend-mode:screen"/><ellipse cx="24.82" cy="50.79" rx="1.46" ry="1.46" fill="#b81d1d" filter="url(#b1_0)" style="mix-blend-mode:screen"/><ellipse cx="28.83" cy="42.5" rx="0.99" ry="0.99" fill="#b81d1d" filter="url(#b1_0)" style="mix-blend-mode:screen"/><ellipse cx="47.77" cy="15.92" rx="0.86" ry="0.86" fill="#b81d1d" filter="url(#b1_0)" style="mix-blend-mode:screen"/><ellipse cx="35.67" cy="37.9" rx="1.37" ry="1.37" fill="#b81d1d" filter="url(#b1_0)" style="mix-blend-mode:screen"/><ellipse cx="33.7" cy="33.32" rx="1" ry="1" fill="#b81d1d" filter="url(#b1_0)" style="mix-blend-mode:screen"/><ellipse cx="30.43" cy="21.12" rx="1.03" ry="1.03" fill="#b81d1d" filter="url(#b1_0)" style="mix-blend-mode:screen"/><ellipse cx="43.7" cy="12.88" rx="0.92" ry="0.92" fill="#b81d1d" filter="url(#b1_0)" style="mix-blend-mode:screen"/><ellipse cx="23.59" cy="12.25" rx="1.26" ry="1.26" fill="#b81d1d" filter="url(#b1_0)" style="mix-blend-mode:screen"/><ellipse cx="17.94" cy="49.93" rx="1.09" ry="1.09" fill="#b81d1d" filter="url(#b1_0)" style="mix-blend-mode:screen"/><ellipse cx="45.56" cy="53.99" rx="1.4" ry="1.4" fill="#b81d1d" filter="url(#b1_0)" style="mix-blend-mode:screen"/><ellipse cx="43.35" cy="16.24" rx="0.97" ry="0.97" fill="#b81d1d" filter="url(#b1_0)" style="mix-blend-mode:screen"/><ellipse cx="42.48" cy="24.57" rx="1.12" ry="1.12" fill="#b81d1d" filter="url(#b1_0)" style="mix-blend-mode:screen"/><ellipse cx="21.86" cy="53.84" rx="1.43" ry="1.43" fill="#b81d1d" filter="url(#b1_0)" style="mix-blend-mode:screen"/><ellipse cx="42.31" cy="21.64" rx="0.97" ry="0.97" fill="#b81d1d" filter="url(#b1_0)" style="mix-blend-mode:screen"/><ellipse cx="42.39" cy="23.09" rx="1.36" ry="1.36" fill="#b81d1d" filter="url(#b1_0)" style="mix-blend-mode:screen"/><ellipse cx="18.79" cy="49.93" rx="1.19" ry="1.19" fill="#b81d1d" filter="url(#b1_0)" style="mix-blend-mode:screen"/><ellipse cx="30.01" cy="27.55" rx="1.03" ry="1.03" fill="#b81d1d" filter="url(#b1_0)" style="mix-blend-mode:screen"/><ellipse cx="16.47" cy="23.66" rx="1.14" ry="1.14" fill="#b81d1d" filter="url(#b1_0)" style="mix-blend-mode:screen"/><ellipse cx="31.8" cy="29.04" rx="1.03" ry="1.03" fill="#b81d1d" filter="url(#b1_0)" style="mix-blend-mode:screen"/><ellipse cx="42.26" cy="41.86" rx="1.32" ry="1.32" fill="#b81d1d" filter="url(#b1_0)" style="mix-blend-mode:screen"/><ellipse cx="23.69" cy="20.08" rx="1.38" ry="1.38" fill="#b81d1d" filter="url(#b1_0)" style="mix-blend-mode:screen"/><ellipse cx="42.72" cy="15.01" rx="1.21" ry="1.21" fill="#b81d1d" filter="url(#b1_0)" style="mix-blend-mode:screen"/><ellipse cx="12.76" cy="40.69" rx="1.22" ry="1.22" fill="#b81d1d" filter="url(#b1_0)" style="mix-blend-mode:screen"/><ellipse cx="14.46" cy="39.94" rx="1.01" ry="1.01" fill="#b81d1d" filter="url(#b1_0)" style="mix-blend-mode:screen"/><ellipse cx="32.35" cy="55.41" rx="0.86" ry="0.86" fill="#b81d1d" filter="url(#b1_0)" style="mix-blend-mode:screen"/><ellipse cx="38.94" cy="50.03" rx="1.25" ry="1.25" fill="#b81d1d" filter="url(#b1_0)" style="mix-blend-mode:screen"/><ellipse cx="34" cy="25.86" rx="1.4" ry="1.4" fill="#b81d1d" filter="url(#b1_0)" style="mix-blend-mode:screen"/><ellipse cx="31.8" cy="36.52" rx="1.19" ry="1.19" fill="#b81d1d" filter="url(#b1_0)" style="mix-blend-mode:screen"/><ellipse cx="27.8" cy="31.26" rx="0.91" ry="0.91" fill="#b81d1d" filter="url(#b1_0)" style="mix-blend-mode:screen"/><ellipse cx="21.93" cy="28.59" rx="0.85" ry="0.85" fill="#b81d1d" filter="url(#b1_0)" style="mix-blend-mode:screen"/><ellipse cx="30" cy="28.5" rx="9.5" ry="9" fill="#3aa08c" filter="url(#b2_4)" style="mix-blend-mode:screen"/><ellipse cx="29.1" cy="28.2" rx="1.16" ry="1.16" fill="#5bffe0" filter="url(#b0_8)" style="mix-blend-mode:screen"/><ellipse cx="29.45" cy="24.18" rx="1.3" ry="1.3" fill="#5bffe0" filter="url(#b0_8)" style="mix-blend-mode:screen"/><ellipse cx="31.38" cy="30.42" rx="1.02" ry="1.02" fill="#5bffe0" filter="url(#b0_8)" style="mix-blend-mode:screen"/><ellipse cx="33.44" cy="25.57" rx="1.21" ry="1.21" fill="#5bffe0" filter="url(#b0_8)" style="mix-blend-mode:screen"/><ellipse cx="29.19" cy="32.88" rx="0.96" ry="0.96" fill="#5bffe0" filter="url(#b0_8)" style="mix-blend-mode:screen"/><ellipse cx="36.31" cy="32.93" rx="1.43" ry="1.43" fill="#5bffe0" filter="url(#b0_8)" style="mix-blend-mode:screen"/><ellipse cx="36.84" cy="26.96" rx="0.95" ry="0.95" fill="#5bffe0" filter="url(#b0_8)" style="mix-blend-mode:screen"/><ellipse cx="24.81" cy="33.51" rx="1.3" ry="1.3" fill="#5bffe0" filter="url(#b0_8)" style="mix-blend-mode:screen"/><ellipse cx="27.93" cy="23.96" rx="1.23" ry="1.23" fill="#5bffe0" filter="url(#b0_8)" style="mix-blend-mode:screen"/><ellipse cx="27.76" cy="29.35" rx="0.97" ry="0.97" fill="#5bffe0" filter="url(#b0_8)" style="mix-blend-mode:screen"/><ellipse cx="37.77" cy="28.38" rx="1.4" ry="1.4" fill="#5bffe0" filter="url(#b0_8)" style="mix-blend-mode:screen"/><ellipse cx="33.36" cy="27.97" rx="0.85" ry="0.85" fill="#5bffe0" filter="url(#b0_8)" style="mix-blend-mode:screen"/><ellipse cx="32.45" cy="32.9" rx="1.43" ry="1.43" fill="#5bffe0" filter="url(#b0_8)" style="mix-blend-mode:screen"/><ellipse cx="28.45" cy="33.5" rx="1.32" ry="1.32" fill="#5bffe0" filter="url(#b0_8)" style="mix-blend-mode:screen"/><ellipse cx="26.52" cy="25.11" rx="0.99" ry="0.99" fill="#5bffe0" filter="url(#b0_8)" style="mix-blend-mode:screen"/><ellipse cx="29.93" cy="30.86" rx="1.01" ry="1.01" fill="#5bffe0" filter="url(#b0_8)" style="mix-blend-mode:screen"/><ellipse cx="28.02" cy="34.65" rx="0.98" ry="0.98" fill="#5bffe0" filter="url(#b0_8)" style="mix-blend-mode:screen"/><ellipse cx="22.68" cy="26.57" rx="0.82" ry="0.82" fill="#5bffe0" filter="url(#b0_8)" style="mix-blend-mode:screen"/><ellipse cx="35.2" cy="29.74" rx="1.4" ry="1.4" fill="#5bffe0" filter="url(#b0_8)" style="mix-blend-mode:screen"/><ellipse cx="36.86" cy="31.5" rx="1.31" ry="1.31" fill="#5bffe0" filter="url(#b0_8)" style="mix-blend-mode:screen"/><ellipse cx="31.24" cy="34.55" rx="1.3" ry="1.3" fill="#5bffe0" filter="url(#b0_8)" style="mix-blend-mode:screen"/><ellipse cx="24.52" cy="29.71" rx="1.35" ry="1.35" fill="#5bffe0" filter="url(#b0_8)" style="mix-blend-mode:screen"/><ellipse cx="32.18" cy="26.12" rx="1.46" ry="1.46" fill="#5bffe0" filter="url(#b0_8)" style="mix-blend-mode:screen"/><ellipse cx="29.24" cy="26.47" rx="1.49" ry="1.49" fill="#5bffe0" filter="url(#b0_8)" style="mix-blend-mode:screen"/><ellipse cx="37.21" cy="31.44" rx="1.45" ry="1.45" fill="#5bffe0" filter="url(#b0_8)" style="mix-blend-mode:screen"/><ellipse cx="27.61" cy="28.45" rx="1.11" ry="1.11" fill="#5bffe0" filter="url(#b0_8)" style="mix-blend-mode:screen"/><ellipse cx="23.94" cy="29.48" rx="1.28" ry="1.28" fill="#5bffe0" filter="url(#b0_8)" style="mix-blend-mode:screen"/><ellipse cx="30.22" cy="30.46" rx="1.11" ry="1.11" fill="#5bffe0" filter="url(#b0_8)" style="mix-blend-mode:screen"/><ellipse cx="23.37" cy="25.34" rx="1.32" ry="1.32" fill="#5bffe0" filter="url(#b0_8)" style="mix-blend-mode:screen"/><ellipse cx="29.77" cy="32.44" rx="1.27" ry="1.27" fill="#5bffe0" filter="url(#b0_8)" style="mix-blend-mode:screen"/><rect x="60" y="61.5" width="5.5" height="2.4" fill="#fff"/></svg>
<svg x="18.5" y="817.6" width="69.8" height="68.7" viewBox="0 0 70 70" preserveAspectRatio="none" style="isolation:isolate"><rect width="70" height="70" fill="#000"/><ellipse cx="33" cy="33" rx="30" ry="30" fill="#0c3811" filter="url(#b4_0)" style="mix-blend-mode:screen"/><rect width="70" height="70" filter="url(#txm1)" style="mix-blend-mode:multiply"/><ellipse cx="49.5" cy="48" rx="4.5" ry="5" fill="#12c422" filter="url(#b1_6)" style="mix-blend-mode:screen"/><ellipse cx="50" cy="47" rx="2.8" ry="3.2" fill="#1cff2c" filter="url(#b1_1)" style="mix-blend-mode:screen"/><ellipse cx="51.5" cy="44" rx="1.6" ry="2" fill="#1cff2c" filter="url(#b0_9)" style="mix-blend-mode:screen"/><rect x="60" y="61.5" width="5.5" height="2.4" fill="#fff"/></svg>
<svg x="92.2" y="817.6" width="69.7" height="68.7" viewBox="0 0 70 70" preserveAspectRatio="none" style="isolation:isolate"><rect width="70" height="70" fill="#000"/><ellipse cx="35" cy="34" rx="29" ry="29" fill="#400909" filter="url(#b3_5)" style="mix-blend-mode:screen"/><rect width="70" height="70" filter="url(#txs2)" style="mix-blend-mode:multiply"/><ellipse cx="50" cy="49" rx="4.5" ry="4.5" fill="#ff2a1a" filter="url(#b1_6)" style="mix-blend-mode:screen"/><ellipse cx="27" cy="56.72" rx="0.81" ry="0.81" fill="#751010" filter="url(#b1_0)" style="mix-blend-mode:screen"/><ellipse cx="21.66" cy="29.77" rx="0.98" ry="0.98" fill="#751010" filter="url(#b1_0)" style="mix-blend-mode:screen"/><ellipse cx="44.91" cy="55.73" rx="0.97" ry="0.97" fill="#751010" filter="url(#b1_0)" style="mix-blend-mode:screen"/><ellipse cx="28.99" cy="54.19" rx="1.12" ry="1.12" fill="#751010" filter="url(#b1_0)" style="mix-blend-mode:screen"/><ellipse cx="33.57" cy="12.39" rx="1.11" ry="1.11" fill="#751010" filter="url(#b1_0)" style="mix-blend-mode:screen"/><ellipse cx="30.75" cy="54.4" rx="1.15" ry="1.15" fill="#751010" filter="url(#b1_0)" style="mix-blend-mode:screen"/><ellipse cx="15.47" cy="24.66" rx="0.94" ry="0.94" fill="#751010" filter="url(#b1_0)" style="mix-blend-mode:screen"/><ellipse cx="23.1" cy="51.07" rx="1.15" ry="1.15" fill="#751010" filter="url(#b1_0)" style="mix-blend-mode:screen"/><ellipse cx="38.26" cy="33.74" rx="1.03" ry="1.03" fill="#751010" filter="url(#b1_0)" style="mix-blend-mode:screen"/><ellipse cx="25.74" cy="12.02" rx="0.9" ry="0.9" fill="#751010" filter="url(#b1_0)" style="mix-blend-mode:screen"/><ellipse cx="35.54" cy="22.86" rx="1.09" ry="1.09" fill="#751010" filter="url(#b1_0)" style="mix-blend-mode:screen"/><ellipse cx="29.13" cy="11.25" rx="1.18" ry="1.18" fill="#751010" filter="url(#b1_0)" style="mix-blend-mode:screen"/><rect x="60" y="61.5" width="5.5" height="2.4" fill="#fff"/></svg>
<svg x="165.8" y="817.6" width="70" height="68.7" viewBox="0 0 70 70" preserveAspectRatio="none" style="isolation:isolate"><rect width="70" height="70" fill="#000"/><ellipse cx="35" cy="34" rx="29" ry="29" fill="#360707" filter="url(#b3_5)" style="mix-blend-mode:screen"/><rect width="70" height="70" filter="url(#txs3)" style="mix-blend-mode:multiply"/><ellipse cx="50" cy="49" rx="4.5" ry="4.5" fill="#ff2a1a" filter="url(#b1_6)" style="mix-blend-mode:screen"/><ellipse cx="27" cy="56.72" rx="0.81" ry="0.81" fill="#751010" filter="url(#b1_0)" style="mix-blend-mode:screen"/><ellipse cx="21.66" cy="29.77" rx="0.98" ry="0.98" fill="#751010" filter="url(#b1_0)" style="mix-blend-mode:screen"/><ellipse cx="44.91" cy="55.73" rx="0.97" ry="0.97" fill="#751010" filter="url(#b1_0)" style="mix-blend-mode:screen"/><ellipse cx="28.99" cy="54.19" rx="1.12" ry="1.12" fill="#751010" filter="url(#b1_0)" style="mix-blend-mode:screen"/><ellipse cx="33.57" cy="12.39" rx="1.11" ry="1.11" fill="#751010" filter="url(#b1_0)" style="mix-blend-mode:screen"/><ellipse cx="30.75" cy="54.4" rx="1.15" ry="1.15" fill="#751010" filter="url(#b1_0)" style="mix-blend-mode:screen"/><ellipse cx="15.47" cy="24.66" rx="0.94" ry="0.94" fill="#751010" filter="url(#b1_0)" style="mix-blend-mode:screen"/><ellipse cx="23.1" cy="51.07" rx="1.15" ry="1.15" fill="#751010" filter="url(#b1_0)" style="mix-blend-mode:screen"/><ellipse cx="38.26" cy="33.74" rx="1.03" ry="1.03" fill="#751010" filter="url(#b1_0)" style="mix-blend-mode:screen"/><ellipse cx="25.74" cy="12.02" rx="0.9" ry="0.9" fill="#751010" filter="url(#b1_0)" style="mix-blend-mode:screen"/><ellipse cx="35.54" cy="22.86" rx="1.09" ry="1.09" fill="#751010" filter="url(#b1_0)" style="mix-blend-mode:screen"/><ellipse cx="29.13" cy="11.25" rx="1.18" ry="1.18" fill="#751010" filter="url(#b1_0)" style="mix-blend-mode:screen"/><ellipse cx="49.5" cy="48" rx="4.5" ry="5" fill="#12c422" filter="url(#b1_6)" style="mix-blend-mode:screen"/><ellipse cx="50" cy="47" rx="2.8" ry="3.2" fill="#1cff2c" filter="url(#b1_1)" style="mix-blend-mode:screen"/><ellipse cx="51.5" cy="44" rx="1.6" ry="2" fill="#1cff2c" filter="url(#b0_9)" style="mix-blend-mode:screen"/><line x1="14" y1="9.5" x2="60.5" y2="58" stroke="#fff" stroke-width="2.1" stroke-dasharray="2.1 2"/><rect x="60" y="61.5" width="5.5" height="2.4" fill="#fff"/></svg>
<svg x="239.3" y="817.6" width="69.4" height="68.7" viewBox="0 0 70 70" preserveAspectRatio="none" style="isolation:isolate"><rect width="70" height="70" fill="#000"/><ellipse cx="35" cy="34" rx="29" ry="29" fill="#400909" filter="url(#b3_5)" opacity="0.6" style="mix-blend-mode:screen"/><ellipse cx="36" cy="34" rx="31" ry="31" fill="#2020a0" filter="url(#b2_5)" style="mix-blend-mode:screen"/><rect width="70" height="70" filter="url(#txw4)" style="mix-blend-mode:multiply"/><ellipse cx="50" cy="49" rx="4.5" ry="4.5" fill="#ff2a1a" filter="url(#b1_6)" style="mix-blend-mode:screen"/><ellipse cx="27" cy="56.72" rx="0.81" ry="0.81" fill="#751010" filter="url(#b1_0)" style="mix-blend-mode:screen"/><ellipse cx="21.66" cy="29.77" rx="0.98" ry="0.98" fill="#751010" filter="url(#b1_0)" style="mix-blend-mode:screen"/><ellipse cx="44.91" cy="55.73" rx="0.97" ry="0.97" fill="#751010" filter="url(#b1_0)" style="mix-blend-mode:screen"/><ellipse cx="28.99" cy="54.19" rx="1.12" ry="1.12" fill="#751010" filter="url(#b1_0)" style="mix-blend-mode:screen"/><ellipse cx="33.57" cy="12.39" rx="1.11" ry="1.11" fill="#751010" filter="url(#b1_0)" style="mix-blend-mode:screen"/><ellipse cx="30.75" cy="54.4" rx="1.15" ry="1.15" fill="#751010" filter="url(#b1_0)" style="mix-blend-mode:screen"/><ellipse cx="15.47" cy="24.66" rx="0.94" ry="0.94" fill="#751010" filter="url(#b1_0)" style="mix-blend-mode:screen"/><ellipse cx="23.1" cy="51.07" rx="1.15" ry="1.15" fill="#751010" filter="url(#b1_0)" style="mix-blend-mode:screen"/><ellipse cx="38.26" cy="33.74" rx="1.03" ry="1.03" fill="#751010" filter="url(#b1_0)" style="mix-blend-mode:screen"/><ellipse cx="25.74" cy="12.02" rx="0.9" ry="0.9" fill="#751010" filter="url(#b1_0)" style="mix-blend-mode:screen"/><ellipse cx="35.54" cy="22.86" rx="1.09" ry="1.09" fill="#751010" filter="url(#b1_0)" style="mix-blend-mode:screen"/><ellipse cx="29.13" cy="11.25" rx="1.18" ry="1.18" fill="#751010" filter="url(#b1_0)" style="mix-blend-mode:screen"/><ellipse cx="49.5" cy="48" rx="4.5" ry="5" fill="#43c4ac" filter="url(#b1_6)" style="mix-blend-mode:screen"/><ellipse cx="50" cy="47" rx="2.8" ry="3.2" fill="#5bffe0" filter="url(#b1_1)" style="mix-blend-mode:screen"/><ellipse cx="51.5" cy="44" rx="1.6" ry="2" fill="#5bffe0" filter="url(#b0_9)" style="mix-blend-mode:screen"/><rect x="60" y="61.5" width="5.5" height="2.4" fill="#fff"/></svg>
<svg x="18.5" y="889.7" width="69.8" height="70.1" viewBox="0 0 70 70" preserveAspectRatio="none" style="isolation:isolate"><rect width="70" height="70" fill="#000"/><ellipse cx="33" cy="34" rx="27" ry="27" fill="#154b1a" filter="url(#b3_5)" style="mix-blend-mode:screen"/><ellipse cx="48" cy="40" rx="8" ry="10" fill="#000" filter="url(#b4_0)" opacity="0.35"/><rect width="70" height="70" filter="url(#txm5)" style="mix-blend-mode:multiply"/><ellipse cx="32" cy="42" rx="6" ry="11" fill="#12a822" filter="url(#b2_2)" style="mix-blend-mode:screen"/><ellipse cx="32.69" cy="37.55" rx="1.43" ry="1.43" fill="#1cff2c" filter="url(#b0_8)" style="mix-blend-mode:screen"/><ellipse cx="30.54" cy="40.32" rx="1.46" ry="1.46" fill="#1cff2c" filter="url(#b0_8)" style="mix-blend-mode:screen"/><ellipse cx="29.18" cy="44.15" rx="1.32" ry="1.32" fill="#1cff2c" filter="url(#b0_8)" style="mix-blend-mode:screen"/><ellipse cx="34.05" cy="42.85" rx="1.07" ry="1.07" fill="#1cff2c" filter="url(#b0_8)" style="mix-blend-mode:screen"/><ellipse cx="33.17" cy="37.06" rx="1.46" ry="1.46" fill="#1cff2c" filter="url(#b0_8)" style="mix-blend-mode:screen"/><ellipse cx="28.57" cy="36.25" rx="1.22" ry="1.22" fill="#1cff2c" filter="url(#b0_8)" style="mix-blend-mode:screen"/><ellipse cx="29.52" cy="43.36" rx="1.42" ry="1.42" fill="#1cff2c" filter="url(#b0_8)" style="mix-blend-mode:screen"/><ellipse cx="33.03" cy="35.64" rx="1.12" ry="1.12" fill="#1cff2c" filter="url(#b0_8)" style="mix-blend-mode:screen"/><ellipse cx="33.01" cy="42.88" rx="0.81" ry="0.81" fill="#1cff2c" filter="url(#b0_8)" style="mix-blend-mode:screen"/><ellipse cx="28.97" cy="49.53" rx="1.23" ry="1.23" fill="#1cff2c" filter="url(#b0_8)" style="mix-blend-mode:screen"/><ellipse cx="29.06" cy="48.57" rx="1.19" ry="1.19" fill="#1cff2c" filter="url(#b0_8)" style="mix-blend-mode:screen"/><ellipse cx="29.11" cy="44.97" rx="1.13" ry="1.13" fill="#1cff2c" filter="url(#b0_8)" style="mix-blend-mode:screen"/><ellipse cx="29.27" cy="39.97" rx="1.08" ry="1.08" fill="#1cff2c" filter="url(#b0_8)" style="mix-blend-mode:screen"/><ellipse cx="28.36" cy="47.68" rx="1.18" ry="1.18" fill="#1cff2c" filter="url(#b0_8)" style="mix-blend-mode:screen"/><ellipse cx="27.07" cy="44.11" rx="0.81" ry="0.81" fill="#1cff2c" filter="url(#b0_8)" style="mix-blend-mode:screen"/><ellipse cx="30.31" cy="45.48" rx="1.31" ry="1.31" fill="#1cff2c" filter="url(#b0_8)" style="mix-blend-mode:screen"/><ellipse cx="32.15" cy="40.5" rx="1.37" ry="1.37" fill="#1cff2c" filter="url(#b0_8)" style="mix-blend-mode:screen"/><ellipse cx="32.32" cy="50.58" rx="1.19" ry="1.19" fill="#1cff2c" filter="url(#b0_8)" style="mix-blend-mode:screen"/><ellipse cx="28.64" cy="46.98" rx="0.85" ry="0.85" fill="#1cff2c" filter="url(#b0_8)" style="mix-blend-mode:screen"/><ellipse cx="32.15" cy="49.64" rx="1.48" ry="1.48" fill="#1cff2c" filter="url(#b0_8)" style="mix-blend-mode:screen"/><ellipse cx="32.69" cy="41.1" rx="1.13" ry="1.13" fill="#1cff2c" filter="url(#b0_8)" style="mix-blend-mode:screen"/><ellipse cx="33.08" cy="39.16" rx="1.37" ry="1.37" fill="#1cff2c" filter="url(#b0_8)" style="mix-blend-mode:screen"/><ellipse cx="33.37" cy="41.54" rx="1.22" ry="1.22" fill="#1cff2c" filter="url(#b0_8)" style="mix-blend-mode:screen"/><ellipse cx="33.98" cy="42.26" rx="1.48" ry="1.48" fill="#1cff2c" filter="url(#b0_8)" style="mix-blend-mode:screen"/><ellipse cx="37" cy="34" rx="2.2" ry="5" fill="#1cff2c" transform="rotate(20 37 34)" filter="url(#b1_2)" style="mix-blend-mode:screen"/><rect x="60.5" y="62" width="5" height="2.4" fill="#fff"/></svg>
<svg x="92.2" y="889.7" width="69.7" height="70.1" viewBox="0 0 70 70" preserveAspectRatio="none" style="isolation:isolate"><rect width="70" height="70" fill="#000"/><ellipse cx="37" cy="35" rx="29.5" ry="28.5" fill="#a81919" filter="url(#b2_8)" style="mix-blend-mode:screen"/><ellipse cx="47" cy="38" rx="8" ry="8" fill="#000" filter="url(#b4_0)" opacity="0.8"/><rect width="70" height="70" filter="url(#txs6)" style="mix-blend-mode:multiply"/><ellipse cx="15.09" cy="32.45" rx="0.89" ry="0.89" fill="#b01d1d" filter="url(#b1_0)" style="mix-blend-mode:screen"/><ellipse cx="51.44" cy="47.67" rx="0.77" ry="0.77" fill="#b01d1d" filter="url(#b1_0)" style="mix-blend-mode:screen"/><ellipse cx="22.61" cy="34.71" rx="0.87" ry="0.87" fill="#b01d1d" filter="url(#b1_0)" style="mix-blend-mode:screen"/><ellipse cx="21.26" cy="29.45" rx="1.01" ry="1.01" fill="#b01d1d" filter="url(#b1_0)" style="mix-blend-mode:screen"/><ellipse cx="50.51" cy="52.03" rx="1.01" ry="1.01" fill="#b01d1d" filter="url(#b1_0)" style="mix-blend-mode:screen"/><ellipse cx="38.46" cy="45.15" rx="0.97" ry="0.97" fill="#b01d1d" filter="url(#b1_0)" style="mix-blend-mode:screen"/><ellipse cx="30.22" cy="54.31" rx="1.04" ry="1.04" fill="#b01d1d" filter="url(#b1_0)" style="mix-blend-mode:screen"/><ellipse cx="21.81" cy="36.64" rx="0.77" ry="0.77" fill="#b01d1d" filter="url(#b1_0)" style="mix-blend-mode:screen"/><ellipse cx="32.61" cy="36.52" rx="0.78" ry="0.78" fill="#b01d1d" filter="url(#b1_0)" style="mix-blend-mode:screen"/><ellipse cx="28.2" cy="18.12" rx="0.9" ry="0.9" fill="#b01d1d" filter="url(#b1_0)" style="mix-blend-mode:screen"/><rect x="60.5" y="62" width="5" height="2.4" fill="#fff"/></svg>
<svg x="165.8" y="889.7" width="70" height="70.1" viewBox="0 0 70 70" preserveAspectRatio="none" style="isolation:isolate"><rect width="70" height="70" fill="#000"/><ellipse cx="37" cy="35" rx="29.5" ry="28.5" fill="#8e1515" filter="url(#b2_8)" style="mix-blend-mode:screen"/><ellipse cx="47" cy="38" rx="8" ry="8" fill="#000" filter="url(#b4_0)" opacity="0.8"/><rect width="70" height="70" filter="url(#txs0)" style="mix-blend-mode:multiply"/><ellipse cx="15.09" cy="32.45" rx="0.89" ry="0.89" fill="#b01d1d" filter="url(#b1_0)" style="mix-blend-mode:screen"/><ellipse cx="51.44" cy="47.67" rx="0.77" ry="0.77" fill="#b01d1d" filter="url(#b1_0)" style="mix-blend-mode:screen"/><ellipse cx="22.61" cy="34.71" rx="0.87" ry="0.87" fill="#b01d1d" filter="url(#b1_0)" style="mix-blend-mode:screen"/><ellipse cx="21.26" cy="29.45" rx="1.01" ry="1.01" fill="#b01d1d" filter="url(#b1_0)" style="mix-blend-mode:screen"/><ellipse cx="50.51" cy="52.03" rx="1.01" ry="1.01" fill="#b01d1d" filter="url(#b1_0)" style="mix-blend-mode:screen"/><ellipse cx="38.46" cy="45.15" rx="0.97" ry="0.97" fill="#b01d1d" filter="url(#b1_0)" style="mix-blend-mode:screen"/><ellipse cx="30.22" cy="54.31" rx="1.04" ry="1.04" fill="#b01d1d" filter="url(#b1_0)" style="mix-blend-mode:screen"/><ellipse cx="21.81" cy="36.64" rx="0.77" ry="0.77" fill="#b01d1d" filter="url(#b1_0)" style="mix-blend-mode:screen"/><ellipse cx="32.61" cy="36.52" rx="0.78" ry="0.78" fill="#b01d1d" filter="url(#b1_0)" style="mix-blend-mode:screen"/><ellipse cx="28.2" cy="18.12" rx="0.9" ry="0.9" fill="#b01d1d" filter="url(#b1_0)" style="mix-blend-mode:screen"/><ellipse cx="32" cy="42" rx="6" ry="11" fill="#12a822" filter="url(#b2_2)" style="mix-blend-mode:screen"/><ellipse cx="32.69" cy="37.55" rx="1.43" ry="1.43" fill="#1cff2c" filter="url(#b0_8)" style="mix-blend-mode:screen"/><ellipse cx="30.54" cy="40.32" rx="1.46" ry="1.46" fill="#1cff2c" filter="url(#b0_8)" style="mix-blend-mode:screen"/><ellipse cx="29.18" cy="44.15" rx="1.32" ry="1.32" fill="#1cff2c" filter="url(#b0_8)" style="mix-blend-mode:screen"/><ellipse cx="34.05" cy="42.85" rx="1.07" ry="1.07" fill="#1cff2c" filter="url(#b0_8)" style="mix-blend-mode:screen"/><ellipse cx="33.17" cy="37.06" rx="1.46" ry="1.46" fill="#1cff2c" filter="url(#b0_8)" style="mix-blend-mode:screen"/><ellipse cx="28.57" cy="36.25" rx="1.22" ry="1.22" fill="#1cff2c" filter="url(#b0_8)" style="mix-blend-mode:screen"/><ellipse cx="29.52" cy="43.36" rx="1.42" ry="1.42" fill="#1cff2c" filter="url(#b0_8)" style="mix-blend-mode:screen"/><ellipse cx="33.03" cy="35.64" rx="1.12" ry="1.12" fill="#1cff2c" filter="url(#b0_8)" style="mix-blend-mode:screen"/><ellipse cx="33.01" cy="42.88" rx="0.81" ry="0.81" fill="#1cff2c" filter="url(#b0_8)" style="mix-blend-mode:screen"/><ellipse cx="28.97" cy="49.53" rx="1.23" ry="1.23" fill="#1cff2c" filter="url(#b0_8)" style="mix-blend-mode:screen"/><ellipse cx="29.06" cy="48.57" rx="1.19" ry="1.19" fill="#1cff2c" filter="url(#b0_8)" style="mix-blend-mode:screen"/><ellipse cx="29.11" cy="44.97" rx="1.13" ry="1.13" fill="#1cff2c" filter="url(#b0_8)" style="mix-blend-mode:screen"/><ellipse cx="29.27" cy="39.97" rx="1.08" ry="1.08" fill="#1cff2c" filter="url(#b0_8)" style="mix-blend-mode:screen"/><ellipse cx="28.36" cy="47.68" rx="1.18" ry="1.18" fill="#1cff2c" filter="url(#b0_8)" style="mix-blend-mode:screen"/><ellipse cx="27.07" cy="44.11" rx="0.81" ry="0.81" fill="#1cff2c" filter="url(#b0_8)" style="mix-blend-mode:screen"/><ellipse cx="30.31" cy="45.48" rx="1.31" ry="1.31" fill="#1cff2c" filter="url(#b0_8)" style="mix-blend-mode:screen"/><ellipse cx="32.15" cy="40.5" rx="1.37" ry="1.37" fill="#1cff2c" filter="url(#b0_8)" style="mix-blend-mode:screen"/><ellipse cx="32.32" cy="50.58" rx="1.19" ry="1.19" fill="#1cff2c" filter="url(#b0_8)" style="mix-blend-mode:screen"/><ellipse cx="28.64" cy="46.98" rx="0.85" ry="0.85" fill="#1cff2c" filter="url(#b0_8)" style="mix-blend-mode:screen"/><ellipse cx="32.15" cy="49.64" rx="1.48" ry="1.48" fill="#1cff2c" filter="url(#b0_8)" style="mix-blend-mode:screen"/><ellipse cx="32.69" cy="41.1" rx="1.13" ry="1.13" fill="#1cff2c" filter="url(#b0_8)" style="mix-blend-mode:screen"/><ellipse cx="33.08" cy="39.16" rx="1.37" ry="1.37" fill="#1cff2c" filter="url(#b0_8)" style="mix-blend-mode:screen"/><ellipse cx="33.37" cy="41.54" rx="1.22" ry="1.22" fill="#1cff2c" filter="url(#b0_8)" style="mix-blend-mode:screen"/><ellipse cx="33.98" cy="42.26" rx="1.48" ry="1.48" fill="#1cff2c" filter="url(#b0_8)" style="mix-blend-mode:screen"/><ellipse cx="37" cy="34" rx="2.2" ry="5" fill="#1cff2c" transform="rotate(20 37 34)" filter="url(#b1_2)" style="mix-blend-mode:screen"/><line x1="23" y1="4" x2="37" y2="64.6" stroke="#fff" stroke-width="2.1" stroke-dasharray="2.1 2"/><rect x="60.5" y="62" width="5" height="2.4" fill="#fff"/></svg>
<svg x="239.3" y="889.7" width="69.4" height="70.1" viewBox="0 0 70 70" preserveAspectRatio="none" style="isolation:isolate"><rect width="70" height="70" fill="#000"/><ellipse cx="37" cy="35" rx="29.5" ry="28.5" fill="#a81919" filter="url(#b2_8)" opacity="0.8" style="mix-blend-mode:screen"/><ellipse cx="47" cy="38" rx="8" ry="8" fill="#000" filter="url(#b4_0)" opacity="0.8"/><ellipse cx="36" cy="35" rx="31" ry="30" fill="#2a22aa" filter="url(#b2_5)" style="mix-blend-mode:screen"/><rect width="70" height="70" filter="url(#txw1)" style="mix-blend-mode:multiply"/><ellipse cx="15.09" cy="32.45" rx="0.89" ry="0.89" fill="#b01d1d" filter="url(#b1_0)" style="mix-blend-mode:screen"/><ellipse cx="51.44" cy="47.67" rx="0.77" ry="0.77" fill="#b01d1d" filter="url(#b1_0)" style="mix-blend-mode:screen"/><ellipse cx="22.61" cy="34.71" rx="0.87" ry="0.87" fill="#b01d1d" filter="url(#b1_0)" style="mix-blend-mode:screen"/><ellipse cx="21.26" cy="29.45" rx="1.01" ry="1.01" fill="#b01d1d" filter="url(#b1_0)" style="mix-blend-mode:screen"/><ellipse cx="50.51" cy="52.03" rx="1.01" ry="1.01" fill="#b01d1d" filter="url(#b1_0)" style="mix-blend-mode:screen"/><ellipse cx="38.46" cy="45.15" rx="0.97" ry="0.97" fill="#b01d1d" filter="url(#b1_0)" style="mix-blend-mode:screen"/><ellipse cx="30.22" cy="54.31" rx="1.04" ry="1.04" fill="#b01d1d" filter="url(#b1_0)" style="mix-blend-mode:screen"/><ellipse cx="21.81" cy="36.64" rx="0.77" ry="0.77" fill="#b01d1d" filter="url(#b1_0)" style="mix-blend-mode:screen"/><ellipse cx="32.61" cy="36.52" rx="0.78" ry="0.78" fill="#b01d1d" filter="url(#b1_0)" style="mix-blend-mode:screen"/><ellipse cx="28.2" cy="18.12" rx="0.9" ry="0.9" fill="#b01d1d" filter="url(#b1_0)" style="mix-blend-mode:screen"/><ellipse cx="32" cy="42" rx="6" ry="11" fill="#3ca893" filter="url(#b2_2)" style="mix-blend-mode:screen"/><ellipse cx="32.69" cy="37.55" rx="1.43" ry="1.43" fill="#5bffe0" filter="url(#b0_8)" style="mix-blend-mode:screen"/><ellipse cx="30.54" cy="40.32" rx="1.46" ry="1.46" fill="#5bffe0" filter="url(#b0_8)" style="mix-blend-mode:screen"/><ellipse cx="29.18" cy="44.15" rx="1.32" ry="1.32" fill="#5bffe0" filter="url(#b0_8)" style="mix-blend-mode:screen"/><ellipse cx="34.05" cy="42.85" rx="1.07" ry="1.07" fill="#5bffe0" filter="url(#b0_8)" style="mix-blend-mode:screen"/><ellipse cx="33.17" cy="37.06" rx="1.46" ry="1.46" fill="#5bffe0" filter="url(#b0_8)" style="mix-blend-mode:screen"/><ellipse cx="28.57" cy="36.25" rx="1.22" ry="1.22" fill="#5bffe0" filter="url(#b0_8)" style="mix-blend-mode:screen"/><ellipse cx="29.52" cy="43.36" rx="1.42" ry="1.42" fill="#5bffe0" filter="url(#b0_8)" style="mix-blend-mode:screen"/><ellipse cx="33.03" cy="35.64" rx="1.12" ry="1.12" fill="#5bffe0" filter="url(#b0_8)" style="mix-blend-mode:screen"/><ellipse cx="33.01" cy="42.88" rx="0.81" ry="0.81" fill="#5bffe0" filter="url(#b0_8)" style="mix-blend-mode:screen"/><ellipse cx="28.97" cy="49.53" rx="1.23" ry="1.23" fill="#5bffe0" filter="url(#b0_8)" style="mix-blend-mode:screen"/><ellipse cx="29.06" cy="48.57" rx="1.19" ry="1.19" fill="#5bffe0" filter="url(#b0_8)" style="mix-blend-mode:screen"/><ellipse cx="29.11" cy="44.97" rx="1.13" ry="1.13" fill="#5bffe0" filter="url(#b0_8)" style="mix-blend-mode:screen"/><ellipse cx="29.27" cy="39.97" rx="1.08" ry="1.08" fill="#5bffe0" filter="url(#b0_8)" style="mix-blend-mode:screen"/><ellipse cx="28.36" cy="47.68" rx="1.18" ry="1.18" fill="#5bffe0" filter="url(#b0_8)" style="mix-blend-mode:screen"/><ellipse cx="27.07" cy="44.11" rx="0.81" ry="0.81" fill="#5bffe0" filter="url(#b0_8)" style="mix-blend-mode:screen"/><ellipse cx="30.31" cy="45.48" rx="1.31" ry="1.31" fill="#5bffe0" filter="url(#b0_8)" style="mix-blend-mode:screen"/><ellipse cx="32.15" cy="40.5" rx="1.37" ry="1.37" fill="#5bffe0" filter="url(#b0_8)" style="mix-blend-mode:screen"/><ellipse cx="32.32" cy="50.58" rx="1.19" ry="1.19" fill="#5bffe0" filter="url(#b0_8)" style="mix-blend-mode:screen"/><ellipse cx="28.64" cy="46.98" rx="0.85" ry="0.85" fill="#5bffe0" filter="url(#b0_8)" style="mix-blend-mode:screen"/><ellipse cx="32.15" cy="49.64" rx="1.48" ry="1.48" fill="#5bffe0" filter="url(#b0_8)" style="mix-blend-mode:screen"/><ellipse cx="32.69" cy="41.1" rx="1.13" ry="1.13" fill="#5bffe0" filter="url(#b0_8)" style="mix-blend-mode:screen"/><ellipse cx="33.08" cy="39.16" rx="1.37" ry="1.37" fill="#5bffe0" filter="url(#b0_8)" style="mix-blend-mode:screen"/><ellipse cx="33.37" cy="41.54" rx="1.22" ry="1.22" fill="#5bffe0" filter="url(#b0_8)" style="mix-blend-mode:screen"/><ellipse cx="33.98" cy="42.26" rx="1.48" ry="1.48" fill="#5bffe0" filter="url(#b0_8)" style="mix-blend-mode:screen"/><ellipse cx="37" cy="34" rx="2.2" ry="5" fill="#5bffe0" transform="rotate(20 37 34)" filter="url(#b1_2)" style="mix-blend-mode:screen"/><rect x="60.5" y="62" width="5" height="2.4" fill="#fff"/></svg>
<svg x="18.5" y="963.3" width="69.8" height="68.6" viewBox="0 0 70 70" preserveAspectRatio="none" style="isolation:isolate"><rect width="70" height="70" fill="#000"/><ellipse cx="32" cy="38" rx="36" ry="20" fill="#114514" transform="rotate(-32 32 38)" filter="url(#b4_0)" style="mix-blend-mode:screen"/><rect width="70" height="70" filter="url(#txm2)" style="mix-blend-mode:multiply"/><ellipse cx="30" cy="29" rx="10" ry="7" fill="#12a020" transform="rotate(20 30 29)" filter="url(#b2_4)" style="mix-blend-mode:screen"/><ellipse cx="31.07" cy="30.73" rx="1" ry="1" fill="#1cff2c" filter="url(#b0_8)" style="mix-blend-mode:screen"/><ellipse cx="27.03" cy="23.06" rx="0.92" ry="0.92" fill="#1cff2c" filter="url(#b0_8)" style="mix-blend-mode:screen"/><ellipse cx="31.45" cy="25.75" rx="0.93" ry="0.93" fill="#1cff2c" filter="url(#b0_8)" style="mix-blend-mode:screen"/><ellipse cx="34.73" cy="34.44" rx="0.94" ry="0.94" fill="#1cff2c" filter="url(#b0_8)" style="mix-blend-mode:screen"/><ellipse cx="27.12" cy="28.72" rx="1.26" ry="1.26" fill="#1cff2c" filter="url(#b0_8)" style="mix-blend-mode:screen"/><ellipse cx="31.59" cy="35.04" rx="1.01" ry="1.01" fill="#1cff2c" filter="url(#b0_8)" style="mix-blend-mode:screen"/><ellipse cx="35.98" cy="31.26" rx="1.19" ry="1.19" fill="#1cff2c" filter="url(#b0_8)" style="mix-blend-mode:screen"/><ellipse cx="25.27" cy="33.26" rx="0.93" ry="0.93" fill="#1cff2c" filter="url(#b0_8)" style="mix-blend-mode:screen"/><ellipse cx="28.7" cy="30.14" rx="1.09" ry="1.09" fill="#1cff2c" filter="url(#b0_8)" style="mix-blend-mode:screen"/><ellipse cx="28.38" cy="32.83" rx="1.49" ry="1.49" fill="#1cff2c" filter="url(#b0_8)" style="mix-blend-mode:screen"/><ellipse cx="30.08" cy="25.65" rx="0.98" ry="0.98" fill="#1cff2c" filter="url(#b0_8)" style="mix-blend-mode:screen"/><ellipse cx="34.69" cy="28.24" rx="1.41" ry="1.41" fill="#1cff2c" filter="url(#b0_8)" style="mix-blend-mode:screen"/><ellipse cx="33.11" cy="30.73" rx="1.43" ry="1.43" fill="#1cff2c" filter="url(#b0_8)" style="mix-blend-mode:screen"/><ellipse cx="21.75" cy="26.28" rx="1.03" ry="1.03" fill="#1cff2c" filter="url(#b0_8)" style="mix-blend-mode:screen"/><ellipse cx="25.49" cy="31.55" rx="1.32" ry="1.32" fill="#1cff2c" filter="url(#b0_8)" style="mix-blend-mode:screen"/><ellipse cx="27.19" cy="28.97" rx="0.91" ry="0.91" fill="#1cff2c" filter="url(#b0_8)" style="mix-blend-mode:screen"/><ellipse cx="23.34" cy="27.81" rx="1.06" ry="1.06" fill="#1cff2c" filter="url(#b0_8)" style="mix-blend-mode:screen"/><ellipse cx="35.28" cy="26.25" rx="0.86" ry="0.86" fill="#1cff2c" filter="url(#b0_8)" style="mix-blend-mode:screen"/><ellipse cx="31.89" cy="24.58" rx="0.99" ry="0.99" fill="#1cff2c" filter="url(#b0_8)" style="mix-blend-mode:screen"/><ellipse cx="26.94" cy="31.41" rx="0.96" ry="0.96" fill="#1cff2c" filter="url(#b0_8)" style="mix-blend-mode:screen"/><ellipse cx="26.35" cy="23.51" rx="0.97" ry="0.97" fill="#1cff2c" filter="url(#b0_8)" style="mix-blend-mode:screen"/><ellipse cx="26.57" cy="31.47" rx="1.4" ry="1.4" fill="#1cff2c" filter="url(#b0_8)" style="mix-blend-mode:screen"/><ellipse cx="35.61" cy="32.61" rx="0.97" ry="0.97" fill="#1cff2c" filter="url(#b0_8)" style="mix-blend-mode:screen"/><ellipse cx="29.41" cy="30.03" rx="1.47" ry="1.47" fill="#1cff2c" filter="url(#b0_8)" style="mix-blend-mode:screen"/><ellipse cx="27.03" cy="23.08" rx="0.92" ry="0.92" fill="#1cff2c" filter="url(#b0_8)" style="mix-blend-mode:screen"/><ellipse cx="27.68" cy="26.87" rx="1.41" ry="1.41" fill="#1cff2c" filter="url(#b0_8)" style="mix-blend-mode:screen"/><ellipse cx="27.06" cy="24.81" rx="1.2" ry="1.2" fill="#1cff2c" filter="url(#b0_8)" style="mix-blend-mode:screen"/><ellipse cx="28.82" cy="31.68" rx="1.32" ry="1.32" fill="#1cff2c" filter="url(#b0_8)" style="mix-blend-mode:screen"/><ellipse cx="30.49" cy="30.53" rx="1.01" ry="1.01" fill="#1cff2c" filter="url(#b0_8)" style="mix-blend-mode:screen"/><ellipse cx="34.78" cy="31.82" rx="1.22" ry="1.22" fill="#1cff2c" filter="url(#b0_8)" style="mix-blend-mode:screen"/><rect x="60" y="61.5" width="5.5" height="2.4" fill="#fff"/></svg>
<svg x="92.2" y="963.3" width="69.7" height="68.6" viewBox="0 0 70 70" preserveAspectRatio="none" style="isolation:isolate"><rect width="70" height="70" fill="#000"/><ellipse cx="36" cy="36" rx="30" ry="28" fill="#3c0909" filter="url(#b4_0)" style="mix-blend-mode:screen"/><ellipse cx="12" cy="58" rx="12" ry="8" fill="#4a0b0b" transform="rotate(-30 12 58)" filter="url(#b3_0)" style="mix-blend-mode:screen"/><rect width="70" height="70" filter="url(#txs3)" style="mix-blend-mode:multiply"/><ellipse cx="33" cy="37" rx="2.2" ry="5" fill="#e01a14" transform="rotate(-20 33 37)" filter="url(#b1_4)" style="mix-blend-mode:screen"/><ellipse cx="32.19" cy="13.77" rx="1.08" ry="1.08" fill="#841212" filter="url(#b1_0)" style="mix-blend-mode:screen"/><ellipse cx="31.64" cy="23.17" rx="1.02" ry="1.02" fill="#841212" filter="url(#b1_0)" style="mix-blend-mode:screen"/><ellipse cx="42.93" cy="12.79" rx="0.84" ry="0.84" fill="#841212" filter="url(#b1_0)" style="mix-blend-mode:screen"/><ellipse cx="38.7" cy="24.21" rx="1.07" ry="1.07" fill="#841212" filter="url(#b1_0)" style="mix-blend-mode:screen"/><ellipse cx="27.73" cy="29.79" rx="1.1" ry="1.1" fill="#841212" filter="url(#b1_0)" style="mix-blend-mode:screen"/><ellipse cx="49.51" cy="48.76" rx="0.92" ry="0.92" fill="#841212" filter="url(#b1_0)" style="mix-blend-mode:screen"/><ellipse cx="59.11" cy="34.32" rx="0.88" ry="0.88" fill="#841212" filter="url(#b1_0)" style="mix-blend-mode:screen"/><ellipse cx="32.2" cy="29.63" rx="0.85" ry="0.85" fill="#841212" filter="url(#b1_0)" style="mix-blend-mode:screen"/><ellipse cx="37.99" cy="27.26" rx="0.99" ry="0.99" fill="#841212" filter="url(#b1_0)" style="mix-blend-mode:screen"/><ellipse cx="30.62" cy="23.2" rx="0.99" ry="0.99" fill="#841212" filter="url(#b1_0)" style="mix-blend-mode:screen"/><ellipse cx="32.44" cy="27.57" rx="0.81" ry="0.81" fill="#841212" filter="url(#b1_0)" style="mix-blend-mode:screen"/><ellipse cx="41.03" cy="10.17" rx="1.12" ry="1.12" fill="#841212" filter="url(#b1_0)" style="mix-blend-mode:screen"/><ellipse cx="27.66" cy="23.3" rx="1.15" ry="1.15" fill="#841212" filter="url(#b1_0)" style="mix-blend-mode:screen"/><ellipse cx="25.96" cy="36.09" rx="1.26" ry="1.26" fill="#841212" filter="url(#b1_0)" style="mix-blend-mode:screen"/><ellipse cx="60.11" cy="23.65" rx="0.93" ry="0.93" fill="#841212" filter="url(#b1_0)" style="mix-blend-mode:screen"/><ellipse cx="25.3" cy="20.12" rx="1" ry="1" fill="#841212" filter="url(#b1_0)" style="mix-blend-mode:screen"/><ellipse cx="11.58" cy="27.86" rx="0.89" ry="0.89" fill="#841212" filter="url(#b1_0)" style="mix-blend-mode:screen"/><ellipse cx="43.68" cy="47.95" rx="1.19" ry="1.19" fill="#841212" filter="url(#b1_0)" style="mix-blend-mode:screen"/><ellipse cx="27.61" cy="19.04" rx="1.02" ry="1.02" fill="#841212" filter="url(#b1_0)" style="mix-blend-mode:screen"/><ellipse cx="18.22" cy="46.84" rx="1.17" ry="1.17" fill="#841212" filter="url(#b1_0)" style="mix-blend-mode:screen"/><ellipse cx="47.37" cy="29.52" rx="1.04" ry="1.04" fill="#841212" filter="url(#b1_0)" style="mix-blend-mode:screen"/><ellipse cx="30.77" cy="21.69" rx="1.04" ry="1.04" fill="#841212" filter="url(#b1_0)" style="mix-blend-mode:screen"/><rect x="60" y="61.5" width="5.5" height="2.4" fill="#fff"/></svg>
<svg x="165.8" y="963.3" width="70" height="68.6" viewBox="0 0 70 70" preserveAspectRatio="none" style="isolation:isolate"><rect width="70" height="70" fill="#000"/><ellipse cx="36" cy="36" rx="30" ry="28" fill="#330707" filter="url(#b4_0)" style="mix-blend-mode:screen"/><ellipse cx="12" cy="58" rx="12" ry="8" fill="#3e0909" transform="rotate(-30 12 58)" filter="url(#b3_0)" style="mix-blend-mode:screen"/><rect width="70" height="70" filter="url(#txs4)" style="mix-blend-mode:multiply"/><ellipse cx="33" cy="37" rx="2.2" ry="5" fill="#e01a14" transform="rotate(-20 33 37)" filter="url(#b1_4)" style="mix-blend-mode:screen"/><ellipse cx="32.19" cy="13.77" rx="1.08" ry="1.08" fill="#841212" filter="url(#b1_0)" style="mix-blend-mode:screen"/><ellipse cx="31.64" cy="23.17" rx="1.02" ry="1.02" fill="#841212" filter="url(#b1_0)" style="mix-blend-mode:screen"/><ellipse cx="42.93" cy="12.79" rx="0.84" ry="0.84" fill="#841212" filter="url(#b1_0)" style="mix-blend-mode:screen"/><ellipse cx="38.7" cy="24.21" rx="1.07" ry="1.07" fill="#841212" filter="url(#b1_0)" style="mix-blend-mode:screen"/><ellipse cx="27.73" cy="29.79" rx="1.1" ry="1.1" fill="#841212" filter="url(#b1_0)" style="mix-blend-mode:screen"/><ellipse cx="49.51" cy="48.76" rx="0.92" ry="0.92" fill="#841212" filter="url(#b1_0)" style="mix-blend-mode:screen"/><ellipse cx="59.11" cy="34.32" rx="0.88" ry="0.88" fill="#841212" filter="url(#b1_0)" style="mix-blend-mode:screen"/><ellipse cx="32.2" cy="29.63" rx="0.85" ry="0.85" fill="#841212" filter="url(#b1_0)" style="mix-blend-mode:screen"/><ellipse cx="37.99" cy="27.26" rx="0.99" ry="0.99" fill="#841212" filter="url(#b1_0)" style="mix-blend-mode:screen"/><ellipse cx="30.62" cy="23.2" rx="0.99" ry="0.99" fill="#841212" filter="url(#b1_0)" style="mix-blend-mode:screen"/><ellipse cx="32.44" cy="27.57" rx="0.81" ry="0.81" fill="#841212" filter="url(#b1_0)" style="mix-blend-mode:screen"/><ellipse cx="41.03" cy="10.17" rx="1.12" ry="1.12" fill="#841212" filter="url(#b1_0)" style="mix-blend-mode:screen"/><ellipse cx="27.66" cy="23.3" rx="1.15" ry="1.15" fill="#841212" filter="url(#b1_0)" style="mix-blend-mode:screen"/><ellipse cx="25.96" cy="36.09" rx="1.26" ry="1.26" fill="#841212" filter="url(#b1_0)" style="mix-blend-mode:screen"/><ellipse cx="60.11" cy="23.65" rx="0.93" ry="0.93" fill="#841212" filter="url(#b1_0)" style="mix-blend-mode:screen"/><ellipse cx="25.3" cy="20.12" rx="1" ry="1" fill="#841212" filter="url(#b1_0)" style="mix-blend-mode:screen"/><ellipse cx="11.58" cy="27.86" rx="0.89" ry="0.89" fill="#841212" filter="url(#b1_0)" style="mix-blend-mode:screen"/><ellipse cx="43.68" cy="47.95" rx="1.19" ry="1.19" fill="#841212" filter="url(#b1_0)" style="mix-blend-mode:screen"/><ellipse cx="27.61" cy="19.04" rx="1.02" ry="1.02" fill="#841212" filter="url(#b1_0)" style="mix-blend-mode:screen"/><ellipse cx="18.22" cy="46.84" rx="1.17" ry="1.17" fill="#841212" filter="url(#b1_0)" style="mix-blend-mode:screen"/><ellipse cx="47.37" cy="29.52" rx="1.04" ry="1.04" fill="#841212" filter="url(#b1_0)" style="mix-blend-mode:screen"/><ellipse cx="30.77" cy="21.69" rx="1.04" ry="1.04" fill="#841212" filter="url(#b1_0)" style="mix-blend-mode:screen"/><ellipse cx="30" cy="29" rx="10" ry="7" fill="#12a020" transform="rotate(20 30 29)" filter="url(#b2_4)" style="mix-blend-mode:screen"/><ellipse cx="31.07" cy="30.73" rx="1" ry="1" fill="#1cff2c" filter="url(#b0_8)" style="mix-blend-mode:screen"/><ellipse cx="27.03" cy="23.06" rx="0.92" ry="0.92" fill="#1cff2c" filter="url(#b0_8)" style="mix-blend-mode:screen"/><ellipse cx="31.45" cy="25.75" rx="0.93" ry="0.93" fill="#1cff2c" filter="url(#b0_8)" style="mix-blend-mode:screen"/><ellipse cx="34.73" cy="34.44" rx="0.94" ry="0.94" fill="#1cff2c" filter="url(#b0_8)" style="mix-blend-mode:screen"/><ellipse cx="27.12" cy="28.72" rx="1.26" ry="1.26" fill="#1cff2c" filter="url(#b0_8)" style="mix-blend-mode:screen"/><ellipse cx="31.59" cy="35.04" rx="1.01" ry="1.01" fill="#1cff2c" filter="url(#b0_8)" style="mix-blend-mode:screen"/><ellipse cx="35.98" cy="31.26" rx="1.19" ry="1.19" fill="#1cff2c" filter="url(#b0_8)" style="mix-blend-mode:screen"/><ellipse cx="25.27" cy="33.26" rx="0.93" ry="0.93" fill="#1cff2c" filter="url(#b0_8)" style="mix-blend-mode:screen"/><ellipse cx="28.7" cy="30.14" rx="1.09" ry="1.09" fill="#1cff2c" filter="url(#b0_8)" style="mix-blend-mode:screen"/><ellipse cx="28.38" cy="32.83" rx="1.49" ry="1.49" fill="#1cff2c" filter="url(#b0_8)" style="mix-blend-mode:screen"/><ellipse cx="30.08" cy="25.65" rx="0.98" ry="0.98" fill="#1cff2c" filter="url(#b0_8)" style="mix-blend-mode:screen"/><ellipse cx="34.69" cy="28.24" rx="1.41" ry="1.41" fill="#1cff2c" filter="url(#b0_8)" style="mix-blend-mode:screen"/><ellipse cx="33.11" cy="30.73" rx="1.43" ry="1.43" fill="#1cff2c" filter="url(#b0_8)" style="mix-blend-mode:screen"/><ellipse cx="21.75" cy="26.28" rx="1.03" ry="1.03" fill="#1cff2c" filter="url(#b0_8)" style="mix-blend-mode:screen"/><ellipse cx="25.49" cy="31.55" rx="1.32" ry="1.32" fill="#1cff2c" filter="url(#b0_8)" style="mix-blend-mode:screen"/><ellipse cx="27.19" cy="28.97" rx="0.91" ry="0.91" fill="#1cff2c" filter="url(#b0_8)" style="mix-blend-mode:screen"/><ellipse cx="23.34" cy="27.81" rx="1.06" ry="1.06" fill="#1cff2c" filter="url(#b0_8)" style="mix-blend-mode:screen"/><ellipse cx="35.28" cy="26.25" rx="0.86" ry="0.86" fill="#1cff2c" filter="url(#b0_8)" style="mix-blend-mode:screen"/><ellipse cx="31.89" cy="24.58" rx="0.99" ry="0.99" fill="#1cff2c" filter="url(#b0_8)" style="mix-blend-mode:screen"/><ellipse cx="26.94" cy="31.41" rx="0.96" ry="0.96" fill="#1cff2c" filter="url(#b0_8)" style="mix-blend-mode:screen"/><ellipse cx="26.35" cy="23.51" rx="0.97" ry="0.97" fill="#1cff2c" filter="url(#b0_8)" style="mix-blend-mode:screen"/><ellipse cx="26.57" cy="31.47" rx="1.4" ry="1.4" fill="#1cff2c" filter="url(#b0_8)" style="mix-blend-mode:screen"/><ellipse cx="35.61" cy="32.61" rx="0.97" ry="0.97" fill="#1cff2c" filter="url(#b0_8)" style="mix-blend-mode:screen"/><ellipse cx="29.41" cy="30.03" rx="1.47" ry="1.47" fill="#1cff2c" filter="url(#b0_8)" style="mix-blend-mode:screen"/><ellipse cx="27.03" cy="23.08" rx="0.92" ry="0.92" fill="#1cff2c" filter="url(#b0_8)" style="mix-blend-mode:screen"/><ellipse cx="27.68" cy="26.87" rx="1.41" ry="1.41" fill="#1cff2c" filter="url(#b0_8)" style="mix-blend-mode:screen"/><ellipse cx="27.06" cy="24.81" rx="1.2" ry="1.2" fill="#1cff2c" filter="url(#b0_8)" style="mix-blend-mode:screen"/><ellipse cx="28.82" cy="31.68" rx="1.32" ry="1.32" fill="#1cff2c" filter="url(#b0_8)" style="mix-blend-mode:screen"/><ellipse cx="30.49" cy="30.53" rx="1.01" ry="1.01" fill="#1cff2c" filter="url(#b0_8)" style="mix-blend-mode:screen"/><ellipse cx="34.78" cy="31.82" rx="1.22" ry="1.22" fill="#1cff2c" filter="url(#b0_8)" style="mix-blend-mode:screen"/><line x1="10.5" y1="2" x2="58" y2="57" stroke="#fff" stroke-width="2.1" stroke-dasharray="2.1 2"/><rect x="60" y="61.5" width="5.5" height="2.4" fill="#fff"/></svg>
<svg x="239.3" y="963.3" width="69.4" height="68.6" viewBox="0 0 70 70" preserveAspectRatio="none" style="isolation:isolate"><rect width="70" height="70" fill="#000"/><ellipse cx="36" cy="36" rx="30" ry="28" fill="#3c0909" filter="url(#b4_0)" opacity="0.7" style="mix-blend-mode:screen"/><ellipse cx="12" cy="58" rx="12" ry="8" fill="#4a0b0b" transform="rotate(-30 12 58)" filter="url(#b3_0)" opacity="0.7" style="mix-blend-mode:screen"/><ellipse cx="36" cy="35" rx="32" ry="30" fill="#2222a8" filter="url(#b2_5)" style="mix-blend-mode:screen"/><rect width="70" height="70" filter="url(#txw5)" style="mix-blend-mode:multiply"/><ellipse cx="33" cy="37" rx="2.2" ry="5" fill="#e01a14" transform="rotate(-20 33 37)" filter="url(#b1_4)" style="mix-blend-mode:screen"/><ellipse cx="32.19" cy="13.77" rx="1.08" ry="1.08" fill="#841212" filter="url(#b1_0)" style="mix-blend-mode:screen"/><ellipse cx="31.64" cy="23.17" rx="1.02" ry="1.02" fill="#841212" filter="url(#b1_0)" style="mix-blend-mode:screen"/><ellipse cx="42.93" cy="12.79" rx="0.84" ry="0.84" fill="#841212" filter="url(#b1_0)" style="mix-blend-mode:screen"/><ellipse cx="38.7" cy="24.21" rx="1.07" ry="1.07" fill="#841212" filter="url(#b1_0)" style="mix-blend-mode:screen"/><ellipse cx="27.73" cy="29.79" rx="1.1" ry="1.1" fill="#841212" filter="url(#b1_0)" style="mix-blend-mode:screen"/><ellipse cx="49.51" cy="48.76" rx="0.92" ry="0.92" fill="#841212" filter="url(#b1_0)" style="mix-blend-mode:screen"/><ellipse cx="59.11" cy="34.32" rx="0.88" ry="0.88" fill="#841212" filter="url(#b1_0)" style="mix-blend-mode:screen"/><ellipse cx="32.2" cy="29.63" rx="0.85" ry="0.85" fill="#841212" filter="url(#b1_0)" style="mix-blend-mode:screen"/><ellipse cx="37.99" cy="27.26" rx="0.99" ry="0.99" fill="#841212" filter="url(#b1_0)" style="mix-blend-mode:screen"/><ellipse cx="30.62" cy="23.2" rx="0.99" ry="0.99" fill="#841212" filter="url(#b1_0)" style="mix-blend-mode:screen"/><ellipse cx="32.44" cy="27.57" rx="0.81" ry="0.81" fill="#841212" filter="url(#b1_0)" style="mix-blend-mode:screen"/><ellipse cx="41.03" cy="10.17" rx="1.12" ry="1.12" fill="#841212" filter="url(#b1_0)" style="mix-blend-mode:screen"/><ellipse cx="27.66" cy="23.3" rx="1.15" ry="1.15" fill="#841212" filter="url(#b1_0)" style="mix-blend-mode:screen"/><ellipse cx="25.96" cy="36.09" rx="1.26" ry="1.26" fill="#841212" filter="url(#b1_0)" style="mix-blend-mode:screen"/><ellipse cx="60.11" cy="23.65" rx="0.93" ry="0.93" fill="#841212" filter="url(#b1_0)" style="mix-blend-mode:screen"/><ellipse cx="25.3" cy="20.12" rx="1" ry="1" fill="#841212" filter="url(#b1_0)" style="mix-blend-mode:screen"/><ellipse cx="11.58" cy="27.86" rx="0.89" ry="0.89" fill="#841212" filter="url(#b1_0)" style="mix-blend-mode:screen"/><ellipse cx="43.68" cy="47.95" rx="1.19" ry="1.19" fill="#841212" filter="url(#b1_0)" style="mix-blend-mode:screen"/><ellipse cx="27.61" cy="19.04" rx="1.02" ry="1.02" fill="#841212" filter="url(#b1_0)" style="mix-blend-mode:screen"/><ellipse cx="18.22" cy="46.84" rx="1.17" ry="1.17" fill="#841212" filter="url(#b1_0)" style="mix-blend-mode:screen"/><ellipse cx="47.37" cy="29.52" rx="1.04" ry="1.04" fill="#841212" filter="url(#b1_0)" style="mix-blend-mode:screen"/><ellipse cx="30.77" cy="21.69" rx="1.04" ry="1.04" fill="#841212" filter="url(#b1_0)" style="mix-blend-mode:screen"/><ellipse cx="30" cy="29" rx="10" ry="7" fill="#3aa08c" transform="rotate(20 30 29)" filter="url(#b2_4)" style="mix-blend-mode:screen"/><ellipse cx="31.07" cy="30.73" rx="1" ry="1" fill="#5bffe0" filter="url(#b0_8)" style="mix-blend-mode:screen"/><ellipse cx="27.03" cy="23.06" rx="0.92" ry="0.92" fill="#5bffe0" filter="url(#b0_8)" style="mix-blend-mode:screen"/><ellipse cx="31.45" cy="25.75" rx="0.93" ry="0.93" fill="#5bffe0" filter="url(#b0_8)" style="mix-blend-mode:screen"/><ellipse cx="34.73" cy="34.44" rx="0.94" ry="0.94" fill="#5bffe0" filter="url(#b0_8)" style="mix-blend-mode:screen"/><ellipse cx="27.12" cy="28.72" rx="1.26" ry="1.26" fill="#5bffe0" filter="url(#b0_8)" style="mix-blend-mode:screen"/><ellipse cx="31.59" cy="35.04" rx="1.01" ry="1.01" fill="#5bffe0" filter="url(#b0_8)" style="mix-blend-mode:screen"/><ellipse cx="35.98" cy="31.26" rx="1.19" ry="1.19" fill="#5bffe0" filter="url(#b0_8)" style="mix-blend-mode:screen"/><ellipse cx="25.27" cy="33.26" rx="0.93" ry="0.93" fill="#5bffe0" filter="url(#b0_8)" style="mix-blend-mode:screen"/><ellipse cx="28.7" cy="30.14" rx="1.09" ry="1.09" fill="#5bffe0" filter="url(#b0_8)" style="mix-blend-mode:screen"/><ellipse cx="28.38" cy="32.83" rx="1.49" ry="1.49" fill="#5bffe0" filter="url(#b0_8)" style="mix-blend-mode:screen"/><ellipse cx="30.08" cy="25.65" rx="0.98" ry="0.98" fill="#5bffe0" filter="url(#b0_8)" style="mix-blend-mode:screen"/><ellipse cx="34.69" cy="28.24" rx="1.41" ry="1.41" fill="#5bffe0" filter="url(#b0_8)" style="mix-blend-mode:screen"/><ellipse cx="33.11" cy="30.73" rx="1.43" ry="1.43" fill="#5bffe0" filter="url(#b0_8)" style="mix-blend-mode:screen"/><ellipse cx="21.75" cy="26.28" rx="1.03" ry="1.03" fill="#5bffe0" filter="url(#b0_8)" style="mix-blend-mode:screen"/><ellipse cx="25.49" cy="31.55" rx="1.32" ry="1.32" fill="#5bffe0" filter="url(#b0_8)" style="mix-blend-mode:screen"/><ellipse cx="27.19" cy="28.97" rx="0.91" ry="0.91" fill="#5bffe0" filter="url(#b0_8)" style="mix-blend-mode:screen"/><ellipse cx="23.34" cy="27.81" rx="1.06" ry="1.06" fill="#5bffe0" filter="url(#b0_8)" style="mix-blend-mode:screen"/><ellipse cx="35.28" cy="26.25" rx="0.86" ry="0.86" fill="#5bffe0" filter="url(#b0_8)" style="mix-blend-mode:screen"/><ellipse cx="31.89" cy="24.58" rx="0.99" ry="0.99" fill="#5bffe0" filter="url(#b0_8)" style="mix-blend-mode:screen"/><ellipse cx="26.94" cy="31.41" rx="0.96" ry="0.96" fill="#5bffe0" filter="url(#b0_8)" style="mix-blend-mode:screen"/><ellipse cx="26.35" cy="23.51" rx="0.97" ry="0.97" fill="#5bffe0" filter="url(#b0_8)" style="mix-blend-mode:screen"/><ellipse cx="26.57" cy="31.47" rx="1.4" ry="1.4" fill="#5bffe0" filter="url(#b0_8)" style="mix-blend-mode:screen"/><ellipse cx="35.61" cy="32.61" rx="0.97" ry="0.97" fill="#5bffe0" filter="url(#b0_8)" style="mix-blend-mode:screen"/><ellipse cx="29.41" cy="30.03" rx="1.47" ry="1.47" fill="#5bffe0" filter="url(#b0_8)" style="mix-blend-mode:screen"/><ellipse cx="27.03" cy="23.08" rx="0.92" ry="0.92" fill="#5bffe0" filter="url(#b0_8)" style="mix-blend-mode:screen"/><ellipse cx="27.68" cy="26.87" rx="1.41" ry="1.41" fill="#5bffe0" filter="url(#b0_8)" style="mix-blend-mode:screen"/><ellipse cx="27.06" cy="24.81" rx="1.2" ry="1.2" fill="#5bffe0" filter="url(#b0_8)" style="mix-blend-mode:screen"/><ellipse cx="28.82" cy="31.68" rx="1.32" ry="1.32" fill="#5bffe0" filter="url(#b0_8)" style="mix-blend-mode:screen"/><ellipse cx="30.49" cy="30.53" rx="1.01" ry="1.01" fill="#5bffe0" filter="url(#b0_8)" style="mix-blend-mode:screen"/><ellipse cx="34.78" cy="31.82" rx="1.22" ry="1.22" fill="#5bffe0" filter="url(#b0_8)" style="mix-blend-mode:screen"/><rect x="60" y="61.5" width="5.5" height="2.4" fill="#fff"/></svg>
<svg x="18.5" y="1035.4" width="69.8" height="70" viewBox="0 0 70 70" preserveAspectRatio="none" style="isolation:isolate"><rect width="70" height="70" fill="#000"/><ellipse cx="33" cy="33" rx="32" ry="32" fill="#0c3811" filter="url(#b4_0)" style="mix-blend-mode:screen"/><ellipse cx="30" cy="30" rx="16" ry="16" fill="#000" filter="url(#b6_0)" opacity="0.3"/><rect width="70" height="70" filter="url(#txm6)" style="mix-blend-mode:multiply"/><ellipse cx="33" cy="46" rx="5" ry="5" fill="#12c422" filter="url(#b1_7)" style="mix-blend-mode:screen"/><ellipse cx="33" cy="47" rx="3.2" ry="2.8" fill="#1cff2c" filter="url(#b1_1)" style="mix-blend-mode:screen"/><ellipse cx="31" cy="43" rx="1.6" ry="1.6" fill="#1cff2c" filter="url(#b0_9)" style="mix-blend-mode:screen"/><rect x="57" y="61" width="7.5" height="3" fill="#fff"/></svg>
<svg x="92.2" y="1035.4" width="69.7" height="70" viewBox="0 0 70 70" preserveAspectRatio="none" style="isolation:isolate"><rect width="70" height="70" fill="#000"/><ellipse cx="36" cy="34" rx="29" ry="30" fill="#3c0909" filter="url(#b4_0)" style="mix-blend-mode:screen"/><ellipse cx="40" cy="8" rx="10" ry="6" fill="#5a0c0c" filter="url(#b3_0)" style="mix-blend-mode:screen"/><rect width="70" height="70" filter="url(#txs0)" style="mix-blend-mode:multiply"/><ellipse cx="33" cy="46" rx="4.5" ry="4" fill="#ff2a1a" filter="url(#b1_8)" style="mix-blend-mode:screen"/><ellipse cx="50.79" cy="26.47" rx="1.14" ry="1.14" fill="#751010" filter="url(#b1_0)" style="mix-blend-mode:screen"/><ellipse cx="36.2" cy="53.94" rx="1.19" ry="1.19" fill="#751010" filter="url(#b1_0)" style="mix-blend-mode:screen"/><ellipse cx="42.4" cy="39.56" rx="1.18" ry="1.18" fill="#751010" filter="url(#b1_0)" style="mix-blend-mode:screen"/><ellipse cx="57.49" cy="41.38" rx="0.97" ry="0.97" fill="#751010" filter="url(#b1_0)" style="mix-blend-mode:screen"/><ellipse cx="48.73" cy="29.48" rx="1.01" ry="1.01" fill="#751010" filter="url(#b1_0)" style="mix-blend-mode:screen"/><ellipse cx="47.74" cy="40.81" rx="0.77" ry="0.77" fill="#751010" filter="url(#b1_0)" style="mix-blend-mode:screen"/><ellipse cx="34.62" cy="10.44" rx="1.04" ry="1.04" fill="#751010" filter="url(#b1_0)" style="mix-blend-mode:screen"/><ellipse cx="31.89" cy="12.66" rx="0.89" ry="0.89" fill="#751010" filter="url(#b1_0)" style="mix-blend-mode:screen"/><ellipse cx="37.15" cy="40.19" rx="1.13" ry="1.13" fill="#751010" filter="url(#b1_0)" style="mix-blend-mode:screen"/><ellipse cx="23.81" cy="14.32" rx="0.98" ry="0.98" fill="#751010" filter="url(#b1_0)" style="mix-blend-mode:screen"/><ellipse cx="21.61" cy="23.97" rx="1.09" ry="1.09" fill="#751010" filter="url(#b1_0)" style="mix-blend-mode:screen"/><ellipse cx="45.86" cy="12.24" rx="0.79" ry="0.79" fill="#751010" filter="url(#b1_0)" style="mix-blend-mode:screen"/><ellipse cx="20.1" cy="48.38" rx="0.86" ry="0.86" fill="#751010" filter="url(#b1_0)" style="mix-blend-mode:screen"/><ellipse cx="15.98" cy="31.25" rx="1.06" ry="1.06" fill="#751010" filter="url(#b1_0)" style="mix-blend-mode:screen"/><ellipse cx="29.12" cy="49.93" rx="0.93" ry="0.93" fill="#751010" filter="url(#b1_0)" style="mix-blend-mode:screen"/><ellipse cx="20.18" cy="26.6" rx="0.82" ry="0.82" fill="#751010" filter="url(#b1_0)" style="mix-blend-mode:screen"/><rect x="57" y="61" width="7.5" height="3" fill="#fff"/></svg>
<svg x="165.8" y="1035.4" width="70" height="70" viewBox="0 0 70 70" preserveAspectRatio="none" style="isolation:isolate"><rect width="70" height="70" fill="#000"/><ellipse cx="36" cy="34" rx="29" ry="30" fill="#330707" filter="url(#b4_0)" style="mix-blend-mode:screen"/><ellipse cx="40" cy="8" rx="10" ry="6" fill="#4c0a0a" filter="url(#b3_0)" style="mix-blend-mode:screen"/><rect width="70" height="70" filter="url(#txs1)" style="mix-blend-mode:multiply"/><ellipse cx="33" cy="46" rx="4.5" ry="4" fill="#ff2a1a" filter="url(#b1_8)" style="mix-blend-mode:screen"/><ellipse cx="50.79" cy="26.47" rx="1.14" ry="1.14" fill="#751010" filter="url(#b1_0)" style="mix-blend-mode:screen"/><ellipse cx="36.2" cy="53.94" rx="1.19" ry="1.19" fill="#751010" filter="url(#b1_0)" style="mix-blend-mode:screen"/><ellipse cx="42.4" cy="39.56" rx="1.18" ry="1.18" fill="#751010" filter="url(#b1_0)" style="mix-blend-mode:screen"/><ellipse cx="57.49" cy="41.38" rx="0.97" ry="0.97" fill="#751010" filter="url(#b1_0)" style="mix-blend-mode:screen"/><ellipse cx="48.73" cy="29.48" rx="1.01" ry="1.01" fill="#751010" filter="url(#b1_0)" style="mix-blend-mode:screen"/><ellipse cx="47.74" cy="40.81" rx="0.77" ry="0.77" fill="#751010" filter="url(#b1_0)" style="mix-blend-mode:screen"/><ellipse cx="34.62" cy="10.44" rx="1.04" ry="1.04" fill="#751010" filter="url(#b1_0)" style="mix-blend-mode:screen"/><ellipse cx="31.89" cy="12.66" rx="0.89" ry="0.89" fill="#751010" filter="url(#b1_0)" style="mix-blend-mode:screen"/><ellipse cx="37.15" cy="40.19" rx="1.13" ry="1.13" fill="#751010" filter="url(#b1_0)" style="mix-blend-mode:screen"/><ellipse cx="23.81" cy="14.32" rx="0.98" ry="0.98" fill="#751010" filter="url(#b1_0)" style="mix-blend-mode:screen"/><ellipse cx="21.61" cy="23.97" rx="1.09" ry="1.09" fill="#751010" filter="url(#b1_0)" style="mix-blend-mode:screen"/><ellipse cx="45.86" cy="12.24" rx="0.79" ry="0.79" fill="#751010" filter="url(#b1_0)" style="mix-blend-mode:screen"/><ellipse cx="20.1" cy="48.38" rx="0.86" ry="0.86" fill="#751010" filter="url(#b1_0)" style="mix-blend-mode:screen"/><ellipse cx="15.98" cy="31.25" rx="1.06" ry="1.06" fill="#751010" filter="url(#b1_0)" style="mix-blend-mode:screen"/><ellipse cx="29.12" cy="49.93" rx="0.93" ry="0.93" fill="#751010" filter="url(#b1_0)" style="mix-blend-mode:screen"/><ellipse cx="20.18" cy="26.6" rx="0.82" ry="0.82" fill="#751010" filter="url(#b1_0)" style="mix-blend-mode:screen"/><ellipse cx="33" cy="46" rx="5" ry="5" fill="#12c422" filter="url(#b1_7)" style="mix-blend-mode:screen"/><ellipse cx="33" cy="47" rx="3.2" ry="2.8" fill="#1cff2c" filter="url(#b1_1)" style="mix-blend-mode:screen"/><ellipse cx="31" cy="43" rx="1.6" ry="1.6" fill="#1cff2c" filter="url(#b0_9)" style="mix-blend-mode:screen"/><line x1="68" y1="25" x2="9" y2="65.5" stroke="#fff" stroke-width="2.1" stroke-dasharray="2.1 2"/><rect x="57" y="61" width="7.5" height="3" fill="#fff"/></svg>
<svg x="239.3" y="1035.4" width="69.4" height="70" viewBox="0 0 70 70" preserveAspectRatio="none" style="isolation:isolate"><rect width="70" height="70" fill="#000"/><ellipse cx="36" cy="34" rx="29" ry="30" fill="#3c0909" filter="url(#b4_0)" opacity="0.6" style="mix-blend-mode:screen"/><ellipse cx="40" cy="8" rx="10" ry="6" fill="#5a0c0c" filter="url(#b3_0)" opacity="0.6" style="mix-blend-mode:screen"/><ellipse cx="36" cy="35" rx="33" ry="33" fill="#2222a8" filter="url(#b2_5)" style="mix-blend-mode:screen"/><rect width="70" height="70" filter="url(#txw2)" style="mix-blend-mode:multiply"/><ellipse cx="33" cy="46" rx="4.5" ry="4" fill="#ff2a1a" filter="url(#b1_8)" style="mix-blend-mode:screen"/><ellipse cx="50.79" cy="26.47" rx="1.14" ry="1.14" fill="#751010" filter="url(#b1_0)" style="mix-blend-mode:screen"/><ellipse cx="36.2" cy="53.94" rx="1.19" ry="1.19" fill="#751010" filter="url(#b1_0)" style="mix-blend-mode:screen"/><ellipse cx="42.4" cy="39.56" rx="1.18" ry="1.18" fill="#751010" filter="url(#b1_0)" style="mix-blend-mode:screen"/><ellipse cx="57.49" cy="41.38" rx="0.97" ry="0.97" fill="#751010" filter="url(#b1_0)" style="mix-blend-mode:screen"/><ellipse cx="48.73" cy="29.48" rx="1.01" ry="1.01" fill="#751010" filter="url(#b1_0)" style="mix-blend-mode:screen"/><ellipse cx="47.74" cy="40.81" rx="0.77" ry="0.77" fill="#751010" filter="url(#b1_0)" style="mix-blend-mode:screen"/><ellipse cx="34.62" cy="10.44" rx="1.04" ry="1.04" fill="#751010" filter="url(#b1_0)" style="mix-blend-mode:screen"/><ellipse cx="31.89" cy="12.66" rx="0.89" ry="0.89" fill="#751010" filter="url(#b1_0)" style="mix-blend-mode:screen"/><ellipse cx="37.15" cy="40.19" rx="1.13" ry="1.13" fill="#751010" filter="url(#b1_0)" style="mix-blend-mode:screen"/><ellipse cx="23.81" cy="14.32" rx="0.98" ry="0.98" fill="#751010" filter="url(#b1_0)" style="mix-blend-mode:screen"/><ellipse cx="21.61" cy="23.97" rx="1.09" ry="1.09" fill="#751010" filter="url(#b1_0)" style="mix-blend-mode:screen"/><ellipse cx="45.86" cy="12.24" rx="0.79" ry="0.79" fill="#751010" filter="url(#b1_0)" style="mix-blend-mode:screen"/><ellipse cx="20.1" cy="48.38" rx="0.86" ry="0.86" fill="#751010" filter="url(#b1_0)" style="mix-blend-mode:screen"/><ellipse cx="15.98" cy="31.25" rx="1.06" ry="1.06" fill="#751010" filter="url(#b1_0)" style="mix-blend-mode:screen"/><ellipse cx="29.12" cy="49.93" rx="0.93" ry="0.93" fill="#751010" filter="url(#b1_0)" style="mix-blend-mode:screen"/><ellipse cx="20.18" cy="26.6" rx="0.82" ry="0.82" fill="#751010" filter="url(#b1_0)" style="mix-blend-mode:screen"/><ellipse cx="33" cy="46" rx="5" ry="5" fill="#43c4ac" filter="url(#b1_7)" style="mix-blend-mode:screen"/><ellipse cx="33" cy="47" rx="3.2" ry="2.8" fill="#5bffe0" filter="url(#b1_1)" style="mix-blend-mode:screen"/><ellipse cx="31" cy="43" rx="1.6" ry="1.6" fill="#5bffe0" filter="url(#b0_9)" style="mix-blend-mode:screen"/><rect x="57" y="61" width="7.5" height="3" fill="#fff"/></svg>
<svg x="497.5" y="671.2" width="69.3" height="68.8" viewBox="0 0 70 70" preserveAspectRatio="none" style="isolation:isolate"><rect width="70" height="70" fill="#000"/><ellipse cx="35" cy="33" rx="28" ry="30" fill="#104416" transform="rotate(-15 35 33)" filter="url(#b3_5)" style="mix-blend-mode:screen"/><rect width="70" height="70" filter="url(#txm3)" style="mix-blend-mode:multiply"/><ellipse cx="21" cy="16" rx="5" ry="4" fill="#12c422" filter="url(#b1_6)" style="mix-blend-mode:screen"/><ellipse cx="21" cy="16" rx="3" ry="2.4" fill="#1cff2c" filter="url(#b1_1)" style="mix-blend-mode:screen"/><rect x="61.5" y="64" width="4" height="2.2" fill="#fff"/></svg>
<svg x="569.7" y="671.2" width="69.2" height="68.8" viewBox="0 0 70 70" preserveAspectRatio="none" style="isolation:isolate"><rect width="70" height="70" fill="#000"/><ellipse cx="35.5" cy="35" rx="32" ry="32" fill="url(#g18)" filter="url(#b3_0)" style="mix-blend-mode:screen"/><rect width="70" height="70" filter="url(#txm4)" style="mix-blend-mode:multiply"/><ellipse cx="21" cy="17" rx="5" ry="4" fill="#f0201a" filter="url(#b2_2)" style="mix-blend-mode:screen"/><rect x="61.5" y="64" width="4" height="2.2" fill="#fff"/></svg>
<svg x="640.9" y="671.2" width="68.6" height="68.8" viewBox="0 0 70 70" preserveAspectRatio="none" style="isolation:isolate"><rect width="70" height="70" fill="#000"/><ellipse cx="35.5" cy="35" rx="32" ry="32" fill="url(#g19)" filter="url(#b3_0)" style="mix-blend-mode:screen"/><rect width="70" height="70" filter="url(#txm5)" style="mix-blend-mode:multiply"/><ellipse cx="21" cy="17" rx="5" ry="4" fill="#f0201a" filter="url(#b2_2)" style="mix-blend-mode:screen"/><ellipse cx="21" cy="16" rx="5" ry="4" fill="#12c422" filter="url(#b1_6)" style="mix-blend-mode:screen"/><ellipse cx="21" cy="16" rx="3" ry="2.4" fill="#1cff2c" filter="url(#b1_1)" style="mix-blend-mode:screen"/><line x1="12" y1="10" x2="63.7" y2="53" stroke="#fff" stroke-width="2.1" stroke-dasharray="2.1 2"/><rect x="61.5" y="64" width="4" height="2.2" fill="#fff"/></svg>
<svg x="713" y="671.2" width="68.8" height="68.8" viewBox="0 0 70 70" preserveAspectRatio="none" style="isolation:isolate"><rect width="70" height="70" fill="#000"/><ellipse cx="35.5" cy="35" rx="32" ry="32" fill="url(#g18)" filter="url(#b3_0)" opacity="0.8" style="mix-blend-mode:screen"/><ellipse cx="35.5" cy="35" rx="31.5" ry="31.5" fill="#341ea0" filter="url(#b3_0)" style="mix-blend-mode:screen"/><rect width="70" height="70" filter="url(#txv6)" style="mix-blend-mode:multiply"/><ellipse cx="21" cy="17" rx="5" ry="4" fill="#f0201a" filter="url(#b2_2)" style="mix-blend-mode:screen"/><ellipse cx="21" cy="16" rx="5" ry="4" fill="#43c4ac" filter="url(#b1_6)" style="mix-blend-mode:screen"/><ellipse cx="21" cy="16" rx="3" ry="2.4" fill="#5bffe0" filter="url(#b1_1)" style="mix-blend-mode:screen"/><rect x="61.5" y="64" width="4" height="2.2" fill="#fff"/></svg>
<svg x="497.5" y="742.6" width="69.3" height="68.4" viewBox="0 0 70 70" preserveAspectRatio="none" style="isolation:isolate"><rect width="70" height="70" fill="#000"/><ellipse cx="36" cy="30" rx="22" ry="24" fill="#0c3611" filter="url(#b5_0)" style="mix-blend-mode:screen"/><ellipse cx="14" cy="58" rx="14" ry="8" fill="#0a2c0c" transform="rotate(-50 14 58)" filter="url(#b4_0)" style="mix-blend-mode:screen"/><ellipse cx="2" cy="68" rx="4" ry="4" fill="#156c1a" filter="url(#b2_0)" style="mix-blend-mode:screen"/><rect width="70" height="70" filter="url(#txm0)" style="mix-blend-mode:multiply"/><ellipse cx="38" cy="23" rx="11" ry="11" fill="#13a622" filter="url(#b3_0)" style="mix-blend-mode:screen"/><ellipse cx="37.41" cy="19.73" rx="0.74" ry="0.74" fill="#1cff2c" filter="url(#b0_8)" style="mix-blend-mode:screen"/><ellipse cx="32.91" cy="20.46" rx="1.1" ry="1.1" fill="#1cff2c" filter="url(#b0_8)" style="mix-blend-mode:screen"/><ellipse cx="33.57" cy="28.42" rx="0.74" ry="0.74" fill="#1cff2c" filter="url(#b0_8)" style="mix-blend-mode:screen"/><ellipse cx="35.33" cy="27.34" rx="1.23" ry="1.23" fill="#1cff2c" filter="url(#b0_8)" style="mix-blend-mode:screen"/><ellipse cx="31.39" cy="17.82" rx="0.77" ry="0.77" fill="#1cff2c" filter="url(#b0_8)" style="mix-blend-mode:screen"/><ellipse cx="37.51" cy="31.04" rx="1.15" ry="1.15" fill="#1cff2c" filter="url(#b0_8)" style="mix-blend-mode:screen"/><ellipse cx="42.21" cy="24.19" rx="1.29" ry="1.29" fill="#1cff2c" filter="url(#b0_8)" style="mix-blend-mode:screen"/><ellipse cx="38.27" cy="25.98" rx="1.14" ry="1.14" fill="#1cff2c" filter="url(#b0_8)" style="mix-blend-mode:screen"/><ellipse cx="44.78" cy="19.59" rx="0.84" ry="0.84" fill="#1cff2c" filter="url(#b0_8)" style="mix-blend-mode:screen"/><ellipse cx="45.54" cy="26.66" rx="1.17" ry="1.17" fill="#1cff2c" filter="url(#b0_8)" style="mix-blend-mode:screen"/><ellipse cx="31.42" cy="25.99" rx="1.12" ry="1.12" fill="#1cff2c" filter="url(#b0_8)" style="mix-blend-mode:screen"/><ellipse cx="40.23" cy="16.77" rx="1.13" ry="1.13" fill="#1cff2c" filter="url(#b0_8)" style="mix-blend-mode:screen"/><ellipse cx="44.88" cy="18.08" rx="1.28" ry="1.28" fill="#1cff2c" filter="url(#b0_8)" style="mix-blend-mode:screen"/><ellipse cx="35.96" cy="17.82" rx="1.3" ry="1.3" fill="#1cff2c" filter="url(#b0_8)" style="mix-blend-mode:screen"/><ellipse cx="45.57" cy="24.78" rx="0.83" ry="0.83" fill="#1cff2c" filter="url(#b0_8)" style="mix-blend-mode:screen"/><ellipse cx="35.35" cy="21.28" rx="0.7" ry="0.7" fill="#1cff2c" filter="url(#b0_8)" style="mix-blend-mode:screen"/><ellipse cx="33.71" cy="18.85" rx="1.02" ry="1.02" fill="#1cff2c" filter="url(#b0_8)" style="mix-blend-mode:screen"/><ellipse cx="42.6" cy="27.97" rx="0.8" ry="0.8" fill="#1cff2c" filter="url(#b0_8)" style="mix-blend-mode:screen"/><ellipse cx="29.92" cy="24.42" rx="1.14" ry="1.14" fill="#1cff2c" filter="url(#b0_8)" style="mix-blend-mode:screen"/><ellipse cx="30.36" cy="20.24" rx="1.18" ry="1.18" fill="#1cff2c" filter="url(#b0_8)" style="mix-blend-mode:screen"/><ellipse cx="46.04" cy="25.4" rx="1.2" ry="1.2" fill="#1cff2c" filter="url(#b0_8)" style="mix-blend-mode:screen"/><ellipse cx="40.39" cy="27.5" rx="1.3" ry="1.3" fill="#1cff2c" filter="url(#b0_8)" style="mix-blend-mode:screen"/><ellipse cx="38.51" cy="31.94" rx="1.05" ry="1.05" fill="#1cff2c" filter="url(#b0_8)" style="mix-blend-mode:screen"/><ellipse cx="42.84" cy="15.44" rx="1.3" ry="1.3" fill="#1cff2c" filter="url(#b0_8)" style="mix-blend-mode:screen"/><ellipse cx="38.53" cy="30.81" rx="0.98" ry="0.98" fill="#1cff2c" filter="url(#b0_8)" style="mix-blend-mode:screen"/><ellipse cx="36.14" cy="19.41" rx="0.9" ry="0.9" fill="#1cff2c" filter="url(#b0_8)" style="mix-blend-mode:screen"/><ellipse cx="39.1" cy="18.03" rx="0.99" ry="0.99" fill="#1cff2c" filter="url(#b0_8)" style="mix-blend-mode:screen"/><ellipse cx="36.91" cy="28.64" rx="0.72" ry="0.72" fill="#1cff2c" filter="url(#b0_8)" style="mix-blend-mode:screen"/><ellipse cx="38.67" cy="18.56" rx="1.25" ry="1.25" fill="#1cff2c" filter="url(#b0_8)" style="mix-blend-mode:screen"/><ellipse cx="41.03" cy="17.3" rx="1.05" ry="1.05" fill="#1cff2c" filter="url(#b0_8)" style="mix-blend-mode:screen"/><ellipse cx="32.88" cy="24.53" rx="1.19" ry="1.19" fill="#1cff2c" filter="url(#b0_8)" style="mix-blend-mode:screen"/><ellipse cx="34.33" cy="25.68" rx="0.93" ry="0.93" fill="#1cff2c" filter="url(#b0_8)" style="mix-blend-mode:screen"/><ellipse cx="35.23" cy="16.44" rx="1.2" ry="1.2" fill="#1cff2c" filter="url(#b0_8)" style="mix-blend-mode:screen"/><ellipse cx="41.98" cy="18.57" rx="1.12" ry="1.12" fill="#1cff2c" filter="url(#b0_8)" style="mix-blend-mode:screen"/><rect x="60.5" y="64" width="4.5" height="2.2" fill="#fff"/></svg>
<svg x="569.7" y="742.6" width="69.2" height="68.4" viewBox="0 0 70 70" preserveAspectRatio="none" style="isolation:isolate"><rect width="70" height="70" fill="#000"/><ellipse cx="34" cy="38" rx="23" ry="37" fill="url(#g20)" transform="rotate(32 34 38)" filter="url(#b4_0)" style="mix-blend-mode:screen"/><ellipse cx="4" cy="66" rx="8" ry="6" fill="#8a0e0e" filter="url(#b3_0)" style="mix-blend-mode:screen"/><rect width="70" height="70" filter="url(#txm1)" style="mix-blend-mode:multiply"/><rect x="60.5" y="64" width="4.5" height="2.2" fill="#fff"/></svg>
<svg x="640.9" y="742.6" width="68.6" height="68.4" viewBox="0 0 70 70" preserveAspectRatio="none" style="isolation:isolate"><rect width="70" height="70" fill="#000"/><ellipse cx="34" cy="38" rx="23" ry="37" fill="url(#g20)" transform="rotate(32 34 38)" filter="url(#b4_0)" style="mix-blend-mode:screen"/><ellipse cx="4" cy="66" rx="8" ry="6" fill="#8a0e0e" filter="url(#b3_0)" style="mix-blend-mode:screen"/><ellipse cx="36" cy="30" rx="22" ry="24" fill="#0f4014" filter="url(#b5_0)" opacity="0.9" style="mix-blend-mode:screen"/><ellipse cx="14" cy="58" rx="14" ry="8" fill="#0c340f" transform="rotate(-50 14 58)" filter="url(#b4_0)" opacity="0.9" style="mix-blend-mode:screen"/><ellipse cx="2" cy="68" rx="4" ry="4" fill="#19801f" filter="url(#b2_0)" opacity="0.9" style="mix-blend-mode:screen"/><rect width="70" height="70" filter="url(#txm2)" style="mix-blend-mode:multiply"/><ellipse cx="38" cy="23" rx="11" ry="11" fill="#13a622" filter="url(#b3_0)" style="mix-blend-mode:screen"/><ellipse cx="37.41" cy="19.73" rx="0.74" ry="0.74" fill="#1cff2c" filter="url(#b0_8)" style="mix-blend-mode:screen"/><ellipse cx="32.91" cy="20.46" rx="1.1" ry="1.1" fill="#1cff2c" filter="url(#b0_8)" style="mix-blend-mode:screen"/><ellipse cx="33.57" cy="28.42" rx="0.74" ry="0.74" fill="#1cff2c" filter="url(#b0_8)" style="mix-blend-mode:screen"/><ellipse cx="35.33" cy="27.34" rx="1.23" ry="1.23" fill="#1cff2c" filter="url(#b0_8)" style="mix-blend-mode:screen"/><ellipse cx="31.39" cy="17.82" rx="0.77" ry="0.77" fill="#1cff2c" filter="url(#b0_8)" style="mix-blend-mode:screen"/><ellipse cx="37.51" cy="31.04" rx="1.15" ry="1.15" fill="#1cff2c" filter="url(#b0_8)" style="mix-blend-mode:screen"/><ellipse cx="42.21" cy="24.19" rx="1.29" ry="1.29" fill="#1cff2c" filter="url(#b0_8)" style="mix-blend-mode:screen"/><ellipse cx="38.27" cy="25.98" rx="1.14" ry="1.14" fill="#1cff2c" filter="url(#b0_8)" style="mix-blend-mode:screen"/><ellipse cx="44.78" cy="19.59" rx="0.84" ry="0.84" fill="#1cff2c" filter="url(#b0_8)" style="mix-blend-mode:screen"/><ellipse cx="45.54" cy="26.66" rx="1.17" ry="1.17" fill="#1cff2c" filter="url(#b0_8)" style="mix-blend-mode:screen"/><ellipse cx="31.42" cy="25.99" rx="1.12" ry="1.12" fill="#1cff2c" filter="url(#b0_8)" style="mix-blend-mode:screen"/><ellipse cx="40.23" cy="16.77" rx="1.13" ry="1.13" fill="#1cff2c" filter="url(#b0_8)" style="mix-blend-mode:screen"/><ellipse cx="44.88" cy="18.08" rx="1.28" ry="1.28" fill="#1cff2c" filter="url(#b0_8)" style="mix-blend-mode:screen"/><ellipse cx="35.96" cy="17.82" rx="1.3" ry="1.3" fill="#1cff2c" filter="url(#b0_8)" style="mix-blend-mode:screen"/><ellipse cx="45.57" cy="24.78" rx="0.83" ry="0.83" fill="#1cff2c" filter="url(#b0_8)" style="mix-blend-mode:screen"/><ellipse cx="35.35" cy="21.28" rx="0.7" ry="0.7" fill="#1cff2c" filter="url(#b0_8)" style="mix-blend-mode:screen"/><ellipse cx="33.71" cy="18.85" rx="1.02" ry="1.02" fill="#1cff2c" filter="url(#b0_8)" style="mix-blend-mode:screen"/><ellipse cx="42.6" cy="27.97" rx="0.8" ry="0.8" fill="#1cff2c" filter="url(#b0_8)" style="mix-blend-mode:screen"/><ellipse cx="29.92" cy="24.42" rx="1.14" ry="1.14" fill="#1cff2c" filter="url(#b0_8)" style="mix-blend-mode:screen"/><ellipse cx="30.36" cy="20.24" rx="1.18" ry="1.18" fill="#1cff2c" filter="url(#b0_8)" style="mix-blend-mode:screen"/><ellipse cx="46.04" cy="25.4" rx="1.2" ry="1.2" fill="#1cff2c" filter="url(#b0_8)" style="mix-blend-mode:screen"/><ellipse cx="40.39" cy="27.5" rx="1.3" ry="1.3" fill="#1cff2c" filter="url(#b0_8)" style="mix-blend-mode:screen"/><ellipse cx="38.51" cy="31.94" rx="1.05" ry="1.05" fill="#1cff2c" filter="url(#b0_8)" style="mix-blend-mode:screen"/><ellipse cx="42.84" cy="15.44" rx="1.3" ry="1.3" fill="#1cff2c" filter="url(#b0_8)" style="mix-blend-mode:screen"/><ellipse cx="38.53" cy="30.81" rx="0.98" ry="0.98" fill="#1cff2c" filter="url(#b0_8)" style="mix-blend-mode:screen"/><ellipse cx="36.14" cy="19.41" rx="0.9" ry="0.9" fill="#1cff2c" filter="url(#b0_8)" style="mix-blend-mode:screen"/><ellipse cx="39.1" cy="18.03" rx="0.99" ry="0.99" fill="#1cff2c" filter="url(#b0_8)" style="mix-blend-mode:screen"/><ellipse cx="36.91" cy="28.64" rx="0.72" ry="0.72" fill="#1cff2c" filter="url(#b0_8)" style="mix-blend-mode:screen"/><ellipse cx="38.67" cy="18.56" rx="1.25" ry="1.25" fill="#1cff2c" filter="url(#b0_8)" style="mix-blend-mode:screen"/><ellipse cx="41.03" cy="17.3" rx="1.05" ry="1.05" fill="#1cff2c" filter="url(#b0_8)" style="mix-blend-mode:screen"/><ellipse cx="32.88" cy="24.53" rx="1.19" ry="1.19" fill="#1cff2c" filter="url(#b0_8)" style="mix-blend-mode:screen"/><ellipse cx="34.33" cy="25.68" rx="0.93" ry="0.93" fill="#1cff2c" filter="url(#b0_8)" style="mix-blend-mode:screen"/><ellipse cx="35.23" cy="16.44" rx="1.2" ry="1.2" fill="#1cff2c" filter="url(#b0_8)" style="mix-blend-mode:screen"/><ellipse cx="41.98" cy="18.57" rx="1.12" ry="1.12" fill="#1cff2c" filter="url(#b0_8)" style="mix-blend-mode:screen"/><line x1="28.4" y1="4" x2="58" y2="50" stroke="#fff" stroke-width="2.1" stroke-dasharray="2.1 2"/><rect x="60.5" y="64" width="4.5" height="2.2" fill="#fff"/></svg>
<svg x="713" y="742.6" width="68.8" height="68.4" viewBox="0 0 70 70" preserveAspectRatio="none" style="isolation:isolate"><rect width="70" height="70" fill="#000"/><ellipse cx="34" cy="38" rx="23" ry="37" fill="url(#g20)" transform="rotate(32 34 38)" filter="url(#b4_0)" opacity="0.6" style="mix-blend-mode:screen"/><ellipse cx="4" cy="66" rx="8" ry="6" fill="#8a0e0e" filter="url(#b3_0)" opacity="0.6" style="mix-blend-mode:screen"/><ellipse cx="35" cy="36" rx="26" ry="36" fill="#2e22b0" transform="rotate(30 35 36)" filter="url(#b4_0)" style="mix-blend-mode:screen"/><rect width="70" height="70" filter="url(#txv3)" style="mix-blend-mode:multiply"/><ellipse cx="38" cy="23" rx="11" ry="11" fill="#3ca692" filter="url(#b3_0)" style="mix-blend-mode:screen"/><ellipse cx="37.41" cy="19.73" rx="0.74" ry="0.74" fill="#5bffe0" filter="url(#b0_8)" style="mix-blend-mode:screen"/><ellipse cx="32.91" cy="20.46" rx="1.1" ry="1.1" fill="#5bffe0" filter="url(#b0_8)" style="mix-blend-mode:screen"/><ellipse cx="33.57" cy="28.42" rx="0.74" ry="0.74" fill="#5bffe0" filter="url(#b0_8)" style="mix-blend-mode:screen"/><ellipse cx="35.33" cy="27.34" rx="1.23" ry="1.23" fill="#5bffe0" filter="url(#b0_8)" style="mix-blend-mode:screen"/><ellipse cx="31.39" cy="17.82" rx="0.77" ry="0.77" fill="#5bffe0" filter="url(#b0_8)" style="mix-blend-mode:screen"/><ellipse cx="37.51" cy="31.04" rx="1.15" ry="1.15" fill="#5bffe0" filter="url(#b0_8)" style="mix-blend-mode:screen"/><ellipse cx="42.21" cy="24.19" rx="1.29" ry="1.29" fill="#5bffe0" filter="url(#b0_8)" style="mix-blend-mode:screen"/><ellipse cx="38.27" cy="25.98" rx="1.14" ry="1.14" fill="#5bffe0" filter="url(#b0_8)" style="mix-blend-mode:screen"/><ellipse cx="44.78" cy="19.59" rx="0.84" ry="0.84" fill="#5bffe0" filter="url(#b0_8)" style="mix-blend-mode:screen"/><ellipse cx="45.54" cy="26.66" rx="1.17" ry="1.17" fill="#5bffe0" filter="url(#b0_8)" style="mix-blend-mode:screen"/><ellipse cx="31.42" cy="25.99" rx="1.12" ry="1.12" fill="#5bffe0" filter="url(#b0_8)" style="mix-blend-mode:screen"/><ellipse cx="40.23" cy="16.77" rx="1.13" ry="1.13" fill="#5bffe0" filter="url(#b0_8)" style="mix-blend-mode:screen"/><ellipse cx="44.88" cy="18.08" rx="1.28" ry="1.28" fill="#5bffe0" filter="url(#b0_8)" style="mix-blend-mode:screen"/><ellipse cx="35.96" cy="17.82" rx="1.3" ry="1.3" fill="#5bffe0" filter="url(#b0_8)" style="mix-blend-mode:screen"/><ellipse cx="45.57" cy="24.78" rx="0.83" ry="0.83" fill="#5bffe0" filter="url(#b0_8)" style="mix-blend-mode:screen"/><ellipse cx="35.35" cy="21.28" rx="0.7" ry="0.7" fill="#5bffe0" filter="url(#b0_8)" style="mix-blend-mode:screen"/><ellipse cx="33.71" cy="18.85" rx="1.02" ry="1.02" fill="#5bffe0" filter="url(#b0_8)" style="mix-blend-mode:screen"/><ellipse cx="42.6" cy="27.97" rx="0.8" ry="0.8" fill="#5bffe0" filter="url(#b0_8)" style="mix-blend-mode:screen"/><ellipse cx="29.92" cy="24.42" rx="1.14" ry="1.14" fill="#5bffe0" filter="url(#b0_8)" style="mix-blend-mode:screen"/><ellipse cx="30.36" cy="20.24" rx="1.18" ry="1.18" fill="#5bffe0" filter="url(#b0_8)" style="mix-blend-mode:screen"/><ellipse cx="46.04" cy="25.4" rx="1.2" ry="1.2" fill="#5bffe0" filter="url(#b0_8)" style="mix-blend-mode:screen"/><ellipse cx="40.39" cy="27.5" rx="1.3" ry="1.3" fill="#5bffe0" filter="url(#b0_8)" style="mix-blend-mode:screen"/><ellipse cx="38.51" cy="31.94" rx="1.05" ry="1.05" fill="#5bffe0" filter="url(#b0_8)" style="mix-blend-mode:screen"/><ellipse cx="42.84" cy="15.44" rx="1.3" ry="1.3" fill="#5bffe0" filter="url(#b0_8)" style="mix-blend-mode:screen"/><ellipse cx="38.53" cy="30.81" rx="0.98" ry="0.98" fill="#5bffe0" filter="url(#b0_8)" style="mix-blend-mode:screen"/><ellipse cx="36.14" cy="19.41" rx="0.9" ry="0.9" fill="#5bffe0" filter="url(#b0_8)" style="mix-blend-mode:screen"/><ellipse cx="39.1" cy="18.03" rx="0.99" ry="0.99" fill="#5bffe0" filter="url(#b0_8)" style="mix-blend-mode:screen"/><ellipse cx="36.91" cy="28.64" rx="0.72" ry="0.72" fill="#5bffe0" filter="url(#b0_8)" style="mix-blend-mode:screen"/><ellipse cx="38.67" cy="18.56" rx="1.25" ry="1.25" fill="#5bffe0" filter="url(#b0_8)" style="mix-blend-mode:screen"/><ellipse cx="41.03" cy="17.3" rx="1.05" ry="1.05" fill="#5bffe0" filter="url(#b0_8)" style="mix-blend-mode:screen"/><ellipse cx="32.88" cy="24.53" rx="1.19" ry="1.19" fill="#5bffe0" filter="url(#b0_8)" style="mix-blend-mode:screen"/><ellipse cx="34.33" cy="25.68" rx="0.93" ry="0.93" fill="#5bffe0" filter="url(#b0_8)" style="mix-blend-mode:screen"/><ellipse cx="35.23" cy="16.44" rx="1.2" ry="1.2" fill="#5bffe0" filter="url(#b0_8)" style="mix-blend-mode:screen"/><ellipse cx="41.98" cy="18.57" rx="1.12" ry="1.12" fill="#5bffe0" filter="url(#b0_8)" style="mix-blend-mode:screen"/><rect x="60.5" y="64" width="4.5" height="2.2" fill="#fff"/></svg>
<svg x="497.5" y="814.7" width="69.3" height="68.2" viewBox="0 0 70 70" preserveAspectRatio="none" style="isolation:isolate"><rect width="70" height="70" fill="#000"/><ellipse cx="35" cy="30" rx="30" ry="30" fill="#0a2d0c" filter="url(#b6_0)" style="mix-blend-mode:screen"/><rect width="70" height="70" filter="url(#txm4)" style="mix-blend-mode:multiply"/><ellipse cx="38" cy="55" rx="6" ry="5" fill="#12c422" filter="url(#b1_8)" style="mix-blend-mode:screen"/><ellipse cx="38" cy="55.5" rx="3.8" ry="3.2" fill="#1cff2c" filter="url(#b1_2)" style="mix-blend-mode:screen"/><rect x="59.5" y="62.5" width="6" height="2.6" fill="#fff"/></svg>
<svg x="569.7" y="814.7" width="69.2" height="68.2" viewBox="0 0 70 70" preserveAspectRatio="none" style="isolation:isolate"><rect width="70" height="70" fill="#000"/><ellipse cx="36" cy="33" rx="30" ry="31" fill="#981111" filter="url(#b2_8)" style="mix-blend-mode:screen"/><ellipse cx="38" cy="33" rx="8" ry="8" fill="#000" filter="url(#b4_0)" opacity="0.4"/><ellipse cx="22" cy="20" rx="5" ry="4" fill="#000" filter="url(#b3_0)" opacity="0.25"/><rect width="70" height="70" filter="url(#txm5)" style="mix-blend-mode:multiply"/><ellipse cx="38" cy="56" rx="6" ry="4.5" fill="#f0201a" filter="url(#b2_2)" style="mix-blend-mode:screen"/><rect x="59.5" y="62.5" width="6" height="2.6" fill="#fff"/></svg>
<svg x="640.9" y="814.7" width="68.6" height="68.2" viewBox="0 0 70 70" preserveAspectRatio="none" style="isolation:isolate"><rect width="70" height="70" fill="#000"/><ellipse cx="36" cy="33" rx="30" ry="31" fill="#a71212" filter="url(#b2_8)" style="mix-blend-mode:screen"/><ellipse cx="38" cy="33" rx="8" ry="8" fill="#000" filter="url(#b4_0)" opacity="0.4"/><ellipse cx="22" cy="20" rx="5" ry="4" fill="#000" filter="url(#b3_0)" opacity="0.25"/><rect width="70" height="70" filter="url(#txm6)" style="mix-blend-mode:multiply"/><ellipse cx="38" cy="56" rx="6" ry="4.5" fill="#f0201a" filter="url(#b2_2)" style="mix-blend-mode:screen"/><ellipse cx="38" cy="55" rx="6" ry="5" fill="#12c422" filter="url(#b1_8)" style="mix-blend-mode:screen"/><ellipse cx="38" cy="55.5" rx="3.8" ry="3.2" fill="#1cff2c" filter="url(#b1_2)" style="mix-blend-mode:screen"/><line x1="5" y1="17" x2="45.6" y2="63.6" stroke="#fff" stroke-width="2.1" stroke-dasharray="2.1 2"/><rect x="59.5" y="62.5" width="6" height="2.6" fill="#fff"/></svg>
<svg x="713" y="814.7" width="68.8" height="68.2" viewBox="0 0 70 70" preserveAspectRatio="none" style="isolation:isolate"><rect width="70" height="70" fill="#000"/><ellipse cx="36" cy="33" rx="30" ry="31" fill="#981111" filter="url(#b2_8)" opacity="0.8" style="mix-blend-mode:screen"/><ellipse cx="38" cy="33" rx="8" ry="8" fill="#000" filter="url(#b4_0)" opacity="0.4"/><ellipse cx="22" cy="20" rx="5" ry="4" fill="#000" filter="url(#b3_0)" opacity="0.25"/><ellipse cx="36" cy="33" rx="30" ry="31" fill="#3422a8" filter="url(#b3_0)" style="mix-blend-mode:screen"/><ellipse cx="38" cy="33" rx="9" ry="9" fill="#2a2aff" filter="url(#b4_0)" opacity="0.4" style="mix-blend-mode:screen"/><rect width="70" height="70" filter="url(#txv0)" style="mix-blend-mode:multiply"/><ellipse cx="38" cy="56" rx="6" ry="4.5" fill="#f0201a" filter="url(#b2_2)" style="mix-blend-mode:screen"/><ellipse cx="38" cy="55" rx="6" ry="5" fill="#43c4ac" filter="url(#b1_8)" style="mix-blend-mode:screen"/><ellipse cx="38" cy="55.5" rx="3.8" ry="3.2" fill="#5bffe0" filter="url(#b1_2)" style="mix-blend-mode:screen"/><rect x="59.5" y="62.5" width="6" height="2.6" fill="#fff"/></svg>
<svg x="497.5" y="886.2" width="69.3" height="69" viewBox="0 0 70 70" preserveAspectRatio="none" style="isolation:isolate"><rect width="70" height="70" fill="#000"/><ellipse cx="35" cy="35" rx="30" ry="30" fill="#1c5a22" filter="url(#b2_5)" style="mix-blend-mode:screen"/><rect width="70" height="70" filter="url(#txf1)" style="mix-blend-mode:multiply"/><ellipse cx="30" cy="35" rx="6" ry="13.5" fill="#14ac24" transform="rotate(-10 30 35)" filter="url(#b2_6)" style="mix-blend-mode:screen"/><ellipse cx="33.35" cy="34.24" rx="1.01" ry="1.01" fill="#1cff2c" filter="url(#b0_8)" style="mix-blend-mode:screen"/><ellipse cx="28.25" cy="33.25" rx="1.29" ry="1.29" fill="#1cff2c" filter="url(#b0_8)" style="mix-blend-mode:screen"/><ellipse cx="26.69" cy="25.78" rx="1.05" ry="1.05" fill="#1cff2c" filter="url(#b0_8)" style="mix-blend-mode:screen"/><ellipse cx="27.64" cy="37.16" rx="1.14" ry="1.14" fill="#1cff2c" filter="url(#b0_8)" style="mix-blend-mode:screen"/><ellipse cx="31.72" cy="39.34" rx="1.27" ry="1.27" fill="#1cff2c" filter="url(#b0_8)" style="mix-blend-mode:screen"/><ellipse cx="29.31" cy="24" rx="0.98" ry="0.98" fill="#1cff2c" filter="url(#b0_8)" style="mix-blend-mode:screen"/><ellipse cx="26.55" cy="30.91" rx="1.11" ry="1.11" fill="#1cff2c" filter="url(#b0_8)" style="mix-blend-mode:screen"/><ellipse cx="28.69" cy="29.42" rx="0.99" ry="0.99" fill="#1cff2c" filter="url(#b0_8)" style="mix-blend-mode:screen"/><ellipse cx="31.76" cy="42.53" rx="1.13" ry="1.13" fill="#1cff2c" filter="url(#b0_8)" style="mix-blend-mode:screen"/><ellipse cx="32.73" cy="32.39" rx="0.76" ry="0.76" fill="#1cff2c" filter="url(#b0_8)" style="mix-blend-mode:screen"/><ellipse cx="29.42" cy="27.44" rx="0.94" ry="0.94" fill="#1cff2c" filter="url(#b0_8)" style="mix-blend-mode:screen"/><ellipse cx="31.4" cy="43.4" rx="0.74" ry="0.74" fill="#1cff2c" filter="url(#b0_8)" style="mix-blend-mode:screen"/><ellipse cx="29.86" cy="43.14" rx="0.97" ry="0.97" fill="#1cff2c" filter="url(#b0_8)" style="mix-blend-mode:screen"/><ellipse cx="29.17" cy="24.93" rx="1.2" ry="1.2" fill="#1cff2c" filter="url(#b0_8)" style="mix-blend-mode:screen"/><ellipse cx="30.97" cy="29.3" rx="1.36" ry="1.36" fill="#1cff2c" filter="url(#b0_8)" style="mix-blend-mode:screen"/><ellipse cx="28.69" cy="30.31" rx="1" ry="1" fill="#1cff2c" filter="url(#b0_8)" style="mix-blend-mode:screen"/><ellipse cx="32.91" cy="44.35" rx="0.74" ry="0.74" fill="#1cff2c" filter="url(#b0_8)" style="mix-blend-mode:screen"/><ellipse cx="29.06" cy="25.83" rx="1.19" ry="1.19" fill="#1cff2c" filter="url(#b0_8)" style="mix-blend-mode:screen"/><ellipse cx="30.08" cy="23.73" rx="1.32" ry="1.32" fill="#1cff2c" filter="url(#b0_8)" style="mix-blend-mode:screen"/><ellipse cx="27.33" cy="26.41" rx="1.39" ry="1.39" fill="#1cff2c" filter="url(#b0_8)" style="mix-blend-mode:screen"/><ellipse cx="28.7" cy="26.35" rx="1.08" ry="1.08" fill="#1cff2c" filter="url(#b0_8)" style="mix-blend-mode:screen"/><ellipse cx="27.68" cy="30.65" rx="1.37" ry="1.37" fill="#1cff2c" filter="url(#b0_8)" style="mix-blend-mode:screen"/><ellipse cx="29.9" cy="38.64" rx="0.83" ry="0.83" fill="#1cff2c" filter="url(#b0_8)" style="mix-blend-mode:screen"/><ellipse cx="32.92" cy="39.47" rx="1.33" ry="1.33" fill="#1cff2c" filter="url(#b0_8)" style="mix-blend-mode:screen"/><ellipse cx="28.06" cy="33.22" rx="0.73" ry="0.73" fill="#1cff2c" filter="url(#b0_8)" style="mix-blend-mode:screen"/><ellipse cx="31.37" cy="39.47" rx="1.07" ry="1.07" fill="#1cff2c" filter="url(#b0_8)" style="mix-blend-mode:screen"/><ellipse cx="29.16" cy="42.18" rx="0.97" ry="0.97" fill="#1cff2c" filter="url(#b0_8)" style="mix-blend-mode:screen"/><ellipse cx="30.69" cy="42.13" rx="0.83" ry="0.83" fill="#1cff2c" filter="url(#b0_8)" style="mix-blend-mode:screen"/><ellipse cx="32.62" cy="36.73" rx="0.79" ry="0.79" fill="#1cff2c" filter="url(#b0_8)" style="mix-blend-mode:screen"/><ellipse cx="27.89" cy="25.31" rx="0.71" ry="0.71" fill="#1cff2c" filter="url(#b0_8)" style="mix-blend-mode:screen"/><rect x="59" y="61.5" width="6" height="2.6" fill="#fff"/></svg>
<svg x="569.7" y="886.2" width="69.2" height="69" viewBox="0 0 70 70" preserveAspectRatio="none" style="isolation:isolate"><rect width="70" height="70" fill="#000"/><ellipse cx="36" cy="35" rx="31" ry="30" fill="url(#g18)" filter="url(#b3_0)" style="mix-blend-mode:screen"/><ellipse cx="30" cy="40" rx="10" ry="3" fill="#000" transform="rotate(-50 30 40)" filter="url(#b3_0)" opacity="0.2"/><rect width="70" height="70" filter="url(#txm2)" style="mix-blend-mode:multiply"/><rect x="59" y="61.5" width="6" height="2.6" fill="#fff"/></svg>
<svg x="640.9" y="886.2" width="68.6" height="69" viewBox="0 0 70 70" preserveAspectRatio="none" style="isolation:isolate"><rect width="70" height="70" fill="#000"/><ellipse cx="36" cy="35" rx="31" ry="30" fill="url(#g19)" filter="url(#b3_0)" style="mix-blend-mode:screen"/><ellipse cx="30" cy="40" rx="10" ry="3" fill="#000" transform="rotate(-50 30 40)" filter="url(#b3_0)" opacity="0.2"/><rect width="70" height="70" filter="url(#txm3)" style="mix-blend-mode:multiply"/><ellipse cx="30" cy="35" rx="6" ry="13.5" fill="#14ac24" transform="rotate(-10 30 35)" filter="url(#b2_6)" style="mix-blend-mode:screen"/><ellipse cx="33.35" cy="34.24" rx="1.01" ry="1.01" fill="#1cff2c" filter="url(#b0_8)" style="mix-blend-mode:screen"/><ellipse cx="28.25" cy="33.25" rx="1.29" ry="1.29" fill="#1cff2c" filter="url(#b0_8)" style="mix-blend-mode:screen"/><ellipse cx="26.69" cy="25.78" rx="1.05" ry="1.05" fill="#1cff2c" filter="url(#b0_8)" style="mix-blend-mode:screen"/><ellipse cx="27.64" cy="37.16" rx="1.14" ry="1.14" fill="#1cff2c" filter="url(#b0_8)" style="mix-blend-mode:screen"/><ellipse cx="31.72" cy="39.34" rx="1.27" ry="1.27" fill="#1cff2c" filter="url(#b0_8)" style="mix-blend-mode:screen"/><ellipse cx="29.31" cy="24" rx="0.98" ry="0.98" fill="#1cff2c" filter="url(#b0_8)" style="mix-blend-mode:screen"/><ellipse cx="26.55" cy="30.91" rx="1.11" ry="1.11" fill="#1cff2c" filter="url(#b0_8)" style="mix-blend-mode:screen"/><ellipse cx="28.69" cy="29.42" rx="0.99" ry="0.99" fill="#1cff2c" filter="url(#b0_8)" style="mix-blend-mode:screen"/><ellipse cx="31.76" cy="42.53" rx="1.13" ry="1.13" fill="#1cff2c" filter="url(#b0_8)" style="mix-blend-mode:screen"/><ellipse cx="32.73" cy="32.39" rx="0.76" ry="0.76" fill="#1cff2c" filter="url(#b0_8)" style="mix-blend-mode:screen"/><ellipse cx="29.42" cy="27.44" rx="0.94" ry="0.94" fill="#1cff2c" filter="url(#b0_8)" style="mix-blend-mode:screen"/><ellipse cx="31.4" cy="43.4" rx="0.74" ry="0.74" fill="#1cff2c" filter="url(#b0_8)" style="mix-blend-mode:screen"/><ellipse cx="29.86" cy="43.14" rx="0.97" ry="0.97" fill="#1cff2c" filter="url(#b0_8)" style="mix-blend-mode:screen"/><ellipse cx="29.17" cy="24.93" rx="1.2" ry="1.2" fill="#1cff2c" filter="url(#b0_8)" style="mix-blend-mode:screen"/><ellipse cx="30.97" cy="29.3" rx="1.36" ry="1.36" fill="#1cff2c" filter="url(#b0_8)" style="mix-blend-mode:screen"/><ellipse cx="28.69" cy="30.31" rx="1" ry="1" fill="#1cff2c" filter="url(#b0_8)" style="mix-blend-mode:screen"/><ellipse cx="32.91" cy="44.35" rx="0.74" ry="0.74" fill="#1cff2c" filter="url(#b0_8)" style="mix-blend-mode:screen"/><ellipse cx="29.06" cy="25.83" rx="1.19" ry="1.19" fill="#1cff2c" filter="url(#b0_8)" style="mix-blend-mode:screen"/><ellipse cx="30.08" cy="23.73" rx="1.32" ry="1.32" fill="#1cff2c" filter="url(#b0_8)" style="mix-blend-mode:screen"/><ellipse cx="27.33" cy="26.41" rx="1.39" ry="1.39" fill="#1cff2c" filter="url(#b0_8)" style="mix-blend-mode:screen"/><ellipse cx="28.7" cy="26.35" rx="1.08" ry="1.08" fill="#1cff2c" filter="url(#b0_8)" style="mix-blend-mode:screen"/><ellipse cx="27.68" cy="30.65" rx="1.37" ry="1.37" fill="#1cff2c" filter="url(#b0_8)" style="mix-blend-mode:screen"/><ellipse cx="29.9" cy="38.64" rx="0.83" ry="0.83" fill="#1cff2c" filter="url(#b0_8)" style="mix-blend-mode:screen"/><ellipse cx="32.92" cy="39.47" rx="1.33" ry="1.33" fill="#1cff2c" filter="url(#b0_8)" style="mix-blend-mode:screen"/><ellipse cx="28.06" cy="33.22" rx="0.73" ry="0.73" fill="#1cff2c" filter="url(#b0_8)" style="mix-blend-mode:screen"/><ellipse cx="31.37" cy="39.47" rx="1.07" ry="1.07" fill="#1cff2c" filter="url(#b0_8)" style="mix-blend-mode:screen"/><ellipse cx="29.16" cy="42.18" rx="0.97" ry="0.97" fill="#1cff2c" filter="url(#b0_8)" style="mix-blend-mode:screen"/><ellipse cx="30.69" cy="42.13" rx="0.83" ry="0.83" fill="#1cff2c" filter="url(#b0_8)" style="mix-blend-mode:screen"/><ellipse cx="32.62" cy="36.73" rx="0.79" ry="0.79" fill="#1cff2c" filter="url(#b0_8)" style="mix-blend-mode:screen"/><ellipse cx="27.89" cy="25.31" rx="0.71" ry="0.71" fill="#1cff2c" filter="url(#b0_8)" style="mix-blend-mode:screen"/><line x1="8" y1="6" x2="52.5" y2="59" stroke="#fff" stroke-width="2.1" stroke-dasharray="2.1 2"/><rect x="59" y="61.5" width="6" height="2.6" fill="#fff"/></svg>
<svg x="713" y="886.2" width="68.8" height="69" viewBox="0 0 70 70" preserveAspectRatio="none" style="isolation:isolate"><rect width="70" height="70" fill="#000"/><ellipse cx="36" cy="35" rx="31" ry="30" fill="url(#g18)" filter="url(#b3_0)" opacity="0.8" style="mix-blend-mode:screen"/><ellipse cx="30" cy="40" rx="10" ry="3" fill="#000" transform="rotate(-50 30 40)" filter="url(#b3_0)" opacity="0.2"/><ellipse cx="36" cy="35" rx="30.5" ry="29.5" fill="#341ea8" filter="url(#b3_0)" style="mix-blend-mode:screen"/><rect width="70" height="70" filter="url(#txv4)" style="mix-blend-mode:multiply"/><ellipse cx="30" cy="35" rx="6" ry="13.5" fill="#3fac97" transform="rotate(-10 30 35)" filter="url(#b2_6)" style="mix-blend-mode:screen"/><ellipse cx="33.35" cy="34.24" rx="1.01" ry="1.01" fill="#5bffe0" filter="url(#b0_8)" style="mix-blend-mode:screen"/><ellipse cx="28.25" cy="33.25" rx="1.29" ry="1.29" fill="#5bffe0" filter="url(#b0_8)" style="mix-blend-mode:screen"/><ellipse cx="26.69" cy="25.78" rx="1.05" ry="1.05" fill="#5bffe0" filter="url(#b0_8)" style="mix-blend-mode:screen"/><ellipse cx="27.64" cy="37.16" rx="1.14" ry="1.14" fill="#5bffe0" filter="url(#b0_8)" style="mix-blend-mode:screen"/><ellipse cx="31.72" cy="39.34" rx="1.27" ry="1.27" fill="#5bffe0" filter="url(#b0_8)" style="mix-blend-mode:screen"/><ellipse cx="29.31" cy="24" rx="0.98" ry="0.98" fill="#5bffe0" filter="url(#b0_8)" style="mix-blend-mode:screen"/><ellipse cx="26.55" cy="30.91" rx="1.11" ry="1.11" fill="#5bffe0" filter="url(#b0_8)" style="mix-blend-mode:screen"/><ellipse cx="28.69" cy="29.42" rx="0.99" ry="0.99" fill="#5bffe0" filter="url(#b0_8)" style="mix-blend-mode:screen"/><ellipse cx="31.76" cy="42.53" rx="1.13" ry="1.13" fill="#5bffe0" filter="url(#b0_8)" style="mix-blend-mode:screen"/><ellipse cx="32.73" cy="32.39" rx="0.76" ry="0.76" fill="#5bffe0" filter="url(#b0_8)" style="mix-blend-mode:screen"/><ellipse cx="29.42" cy="27.44" rx="0.94" ry="0.94" fill="#5bffe0" filter="url(#b0_8)" style="mix-blend-mode:screen"/><ellipse cx="31.4" cy="43.4" rx="0.74" ry="0.74" fill="#5bffe0" filter="url(#b0_8)" style="mix-blend-mode:screen"/><ellipse cx="29.86" cy="43.14" rx="0.97" ry="0.97" fill="#5bffe0" filter="url(#b0_8)" style="mix-blend-mode:screen"/><ellipse cx="29.17" cy="24.93" rx="1.2" ry="1.2" fill="#5bffe0" filter="url(#b0_8)" style="mix-blend-mode:screen"/><ellipse cx="30.97" cy="29.3" rx="1.36" ry="1.36" fill="#5bffe0" filter="url(#b0_8)" style="mix-blend-mode:screen"/><ellipse cx="28.69" cy="30.31" rx="1" ry="1" fill="#5bffe0" filter="url(#b0_8)" style="mix-blend-mode:screen"/><ellipse cx="32.91" cy="44.35" rx="0.74" ry="0.74" fill="#5bffe0" filter="url(#b0_8)" style="mix-blend-mode:screen"/><ellipse cx="29.06" cy="25.83" rx="1.19" ry="1.19" fill="#5bffe0" filter="url(#b0_8)" style="mix-blend-mode:screen"/><ellipse cx="30.08" cy="23.73" rx="1.32" ry="1.32" fill="#5bffe0" filter="url(#b0_8)" style="mix-blend-mode:screen"/><ellipse cx="27.33" cy="26.41" rx="1.39" ry="1.39" fill="#5bffe0" filter="url(#b0_8)" style="mix-blend-mode:screen"/><ellipse cx="28.7" cy="26.35" rx="1.08" ry="1.08" fill="#5bffe0" filter="url(#b0_8)" style="mix-blend-mode:screen"/><ellipse cx="27.68" cy="30.65" rx="1.37" ry="1.37" fill="#5bffe0" filter="url(#b0_8)" style="mix-blend-mode:screen"/><ellipse cx="29.9" cy="38.64" rx="0.83" ry="0.83" fill="#5bffe0" filter="url(#b0_8)" style="mix-blend-mode:screen"/><ellipse cx="32.92" cy="39.47" rx="1.33" ry="1.33" fill="#5bffe0" filter="url(#b0_8)" style="mix-blend-mode:screen"/><ellipse cx="28.06" cy="33.22" rx="0.73" ry="0.73" fill="#5bffe0" filter="url(#b0_8)" style="mix-blend-mode:screen"/><ellipse cx="31.37" cy="39.47" rx="1.07" ry="1.07" fill="#5bffe0" filter="url(#b0_8)" style="mix-blend-mode:screen"/><ellipse cx="29.16" cy="42.18" rx="0.97" ry="0.97" fill="#5bffe0" filter="url(#b0_8)" style="mix-blend-mode:screen"/><ellipse cx="30.69" cy="42.13" rx="0.83" ry="0.83" fill="#5bffe0" filter="url(#b0_8)" style="mix-blend-mode:screen"/><ellipse cx="32.62" cy="36.73" rx="0.79" ry="0.79" fill="#5bffe0" filter="url(#b0_8)" style="mix-blend-mode:screen"/><ellipse cx="27.89" cy="25.31" rx="0.71" ry="0.71" fill="#5bffe0" filter="url(#b0_8)" style="mix-blend-mode:screen"/><rect x="59" y="61.5" width="6" height="2.6" fill="#fff"/></svg>
<svg x="499.2" y="958.7" width="69.3" height="68.7" viewBox="0 0 70 70" preserveAspectRatio="none" style="isolation:isolate"><rect width="70" height="70" fill="#000"/><ellipse cx="36" cy="33" rx="28.5" ry="28.5" fill="#1a5d20" filter="url(#b3_5)" style="mix-blend-mode:screen"/><rect width="70" height="70" filter="url(#txm5)" style="mix-blend-mode:multiply"/><ellipse cx="35" cy="33" rx="10" ry="9" fill="#14ac24" transform="rotate(-20 35 33)" filter="url(#b2_6)" style="mix-blend-mode:screen"/><ellipse cx="34.8" cy="35.96" rx="1.28" ry="1.28" fill="#1cff2c" filter="url(#b0_8)" style="mix-blend-mode:screen"/><ellipse cx="27.82" cy="35.83" rx="0.75" ry="0.75" fill="#1cff2c" filter="url(#b0_8)" style="mix-blend-mode:screen"/><ellipse cx="41.26" cy="29.16" rx="1.36" ry="1.36" fill="#1cff2c" filter="url(#b0_8)" style="mix-blend-mode:screen"/><ellipse cx="27.99" cy="33.06" rx="1" ry="1" fill="#1cff2c" filter="url(#b0_8)" style="mix-blend-mode:screen"/><ellipse cx="33.99" cy="27.92" rx="1.08" ry="1.08" fill="#1cff2c" filter="url(#b0_8)" style="mix-blend-mode:screen"/><ellipse cx="33.24" cy="38.62" rx="0.77" ry="0.77" fill="#1cff2c" filter="url(#b0_8)" style="mix-blend-mode:screen"/><ellipse cx="42.49" cy="33.71" rx="0.88" ry="0.88" fill="#1cff2c" filter="url(#b0_8)" style="mix-blend-mode:screen"/><ellipse cx="37.73" cy="34.9" rx="0.8" ry="0.8" fill="#1cff2c" filter="url(#b0_8)" style="mix-blend-mode:screen"/><ellipse cx="30.36" cy="33.52" rx="0.71" ry="0.71" fill="#1cff2c" filter="url(#b0_8)" style="mix-blend-mode:screen"/><ellipse cx="37.18" cy="29.96" rx="1.02" ry="1.02" fill="#1cff2c" filter="url(#b0_8)" style="mix-blend-mode:screen"/><ellipse cx="41.22" cy="36.3" rx="0.73" ry="0.73" fill="#1cff2c" filter="url(#b0_8)" style="mix-blend-mode:screen"/><ellipse cx="31.97" cy="28.33" rx="1.02" ry="1.02" fill="#1cff2c" filter="url(#b0_8)" style="mix-blend-mode:screen"/><ellipse cx="33.83" cy="28.06" rx="1.32" ry="1.32" fill="#1cff2c" filter="url(#b0_8)" style="mix-blend-mode:screen"/><ellipse cx="38.92" cy="27.49" rx="1.05" ry="1.05" fill="#1cff2c" filter="url(#b0_8)" style="mix-blend-mode:screen"/><ellipse cx="32.47" cy="27.28" rx="1.17" ry="1.17" fill="#1cff2c" filter="url(#b0_8)" style="mix-blend-mode:screen"/><ellipse cx="34.36" cy="30.69" rx="1.3" ry="1.3" fill="#1cff2c" filter="url(#b0_8)" style="mix-blend-mode:screen"/><ellipse cx="34.71" cy="29.45" rx="1.13" ry="1.13" fill="#1cff2c" filter="url(#b0_8)" style="mix-blend-mode:screen"/><ellipse cx="31.41" cy="36.29" rx="0.86" ry="0.86" fill="#1cff2c" filter="url(#b0_8)" style="mix-blend-mode:screen"/><ellipse cx="35.7" cy="33.66" rx="0.76" ry="0.76" fill="#1cff2c" filter="url(#b0_8)" style="mix-blend-mode:screen"/><ellipse cx="35.06" cy="29.51" rx="0.86" ry="0.86" fill="#1cff2c" filter="url(#b0_8)" style="mix-blend-mode:screen"/><ellipse cx="28.4" cy="37.12" rx="0.91" ry="0.91" fill="#1cff2c" filter="url(#b0_8)" style="mix-blend-mode:screen"/><ellipse cx="38.76" cy="32.19" rx="1.39" ry="1.39" fill="#1cff2c" filter="url(#b0_8)" style="mix-blend-mode:screen"/><ellipse cx="31.3" cy="36.21" rx="1.28" ry="1.28" fill="#1cff2c" filter="url(#b0_8)" style="mix-blend-mode:screen"/><ellipse cx="29.87" cy="38.39" rx="1.32" ry="1.32" fill="#1cff2c" filter="url(#b0_8)" style="mix-blend-mode:screen"/><ellipse cx="36.2" cy="27.6" rx="1.17" ry="1.17" fill="#1cff2c" filter="url(#b0_8)" style="mix-blend-mode:screen"/><ellipse cx="34.08" cy="29.83" rx="1.22" ry="1.22" fill="#1cff2c" filter="url(#b0_8)" style="mix-blend-mode:screen"/><ellipse cx="37.65" cy="30.96" rx="0.93" ry="0.93" fill="#1cff2c" filter="url(#b0_8)" style="mix-blend-mode:screen"/><ellipse cx="34.71" cy="38.06" rx="0.93" ry="0.93" fill="#1cff2c" filter="url(#b0_8)" style="mix-blend-mode:screen"/><ellipse cx="32.57" cy="37.17" rx="0.98" ry="0.98" fill="#1cff2c" filter="url(#b0_8)" style="mix-blend-mode:screen"/><ellipse cx="29.3" cy="31.51" rx="1.04" ry="1.04" fill="#1cff2c" filter="url(#b0_8)" style="mix-blend-mode:screen"/><ellipse cx="33.42" cy="32.47" rx="1.23" ry="1.23" fill="#1cff2c" filter="url(#b0_8)" style="mix-blend-mode:screen"/><ellipse cx="33.53" cy="38.54" rx="1.38" ry="1.38" fill="#1cff2c" filter="url(#b0_8)" style="mix-blend-mode:screen"/><rect x="60" y="64" width="4.5" height="2.2" fill="#fff"/></svg>
<svg x="571.4" y="958.7" width="69.2" height="68.7" viewBox="0 0 70 70" preserveAspectRatio="none" style="isolation:isolate"><rect width="70" height="70" fill="#000"/><ellipse cx="36" cy="33" rx="30" ry="30" fill="url(#g21)" filter="url(#b3_0)" style="mix-blend-mode:screen"/><rect width="70" height="70" filter="url(#txm6)" style="mix-blend-mode:multiply"/><rect x="60" y="64" width="4.5" height="2.2" fill="#fff"/></svg>
<svg x="642.6" y="958.7" width="68.6" height="68.7" viewBox="0 0 70 70" preserveAspectRatio="none" style="isolation:isolate"><rect width="70" height="70" fill="#000"/><ellipse cx="36" cy="33" rx="30" ry="30" fill="url(#g22)" filter="url(#b3_0)" style="mix-blend-mode:screen"/><rect width="70" height="70" filter="url(#txm0)" style="mix-blend-mode:multiply"/><ellipse cx="35" cy="33" rx="10" ry="9" fill="#14ac24" transform="rotate(-20 35 33)" filter="url(#b2_6)" style="mix-blend-mode:screen"/><ellipse cx="34.8" cy="35.96" rx="1.28" ry="1.28" fill="#1cff2c" filter="url(#b0_8)" style="mix-blend-mode:screen"/><ellipse cx="27.82" cy="35.83" rx="0.75" ry="0.75" fill="#1cff2c" filter="url(#b0_8)" style="mix-blend-mode:screen"/><ellipse cx="41.26" cy="29.16" rx="1.36" ry="1.36" fill="#1cff2c" filter="url(#b0_8)" style="mix-blend-mode:screen"/><ellipse cx="27.99" cy="33.06" rx="1" ry="1" fill="#1cff2c" filter="url(#b0_8)" style="mix-blend-mode:screen"/><ellipse cx="33.99" cy="27.92" rx="1.08" ry="1.08" fill="#1cff2c" filter="url(#b0_8)" style="mix-blend-mode:screen"/><ellipse cx="33.24" cy="38.62" rx="0.77" ry="0.77" fill="#1cff2c" filter="url(#b0_8)" style="mix-blend-mode:screen"/><ellipse cx="42.49" cy="33.71" rx="0.88" ry="0.88" fill="#1cff2c" filter="url(#b0_8)" style="mix-blend-mode:screen"/><ellipse cx="37.73" cy="34.9" rx="0.8" ry="0.8" fill="#1cff2c" filter="url(#b0_8)" style="mix-blend-mode:screen"/><ellipse cx="30.36" cy="33.52" rx="0.71" ry="0.71" fill="#1cff2c" filter="url(#b0_8)" style="mix-blend-mode:screen"/><ellipse cx="37.18" cy="29.96" rx="1.02" ry="1.02" fill="#1cff2c" filter="url(#b0_8)" style="mix-blend-mode:screen"/><ellipse cx="41.22" cy="36.3" rx="0.73" ry="0.73" fill="#1cff2c" filter="url(#b0_8)" style="mix-blend-mode:screen"/><ellipse cx="31.97" cy="28.33" rx="1.02" ry="1.02" fill="#1cff2c" filter="url(#b0_8)" style="mix-blend-mode:screen"/><ellipse cx="33.83" cy="28.06" rx="1.32" ry="1.32" fill="#1cff2c" filter="url(#b0_8)" style="mix-blend-mode:screen"/><ellipse cx="38.92" cy="27.49" rx="1.05" ry="1.05" fill="#1cff2c" filter="url(#b0_8)" style="mix-blend-mode:screen"/><ellipse cx="32.47" cy="27.28" rx="1.17" ry="1.17" fill="#1cff2c" filter="url(#b0_8)" style="mix-blend-mode:screen"/><ellipse cx="34.36" cy="30.69" rx="1.3" ry="1.3" fill="#1cff2c" filter="url(#b0_8)" style="mix-blend-mode:screen"/><ellipse cx="34.71" cy="29.45" rx="1.13" ry="1.13" fill="#1cff2c" filter="url(#b0_8)" style="mix-blend-mode:screen"/><ellipse cx="31.41" cy="36.29" rx="0.86" ry="0.86" fill="#1cff2c" filter="url(#b0_8)" style="mix-blend-mode:screen"/><ellipse cx="35.7" cy="33.66" rx="0.76" ry="0.76" fill="#1cff2c" filter="url(#b0_8)" style="mix-blend-mode:screen"/><ellipse cx="35.06" cy="29.51" rx="0.86" ry="0.86" fill="#1cff2c" filter="url(#b0_8)" style="mix-blend-mode:screen"/><ellipse cx="28.4" cy="37.12" rx="0.91" ry="0.91" fill="#1cff2c" filter="url(#b0_8)" style="mix-blend-mode:screen"/><ellipse cx="38.76" cy="32.19" rx="1.39" ry="1.39" fill="#1cff2c" filter="url(#b0_8)" style="mix-blend-mode:screen"/><ellipse cx="31.3" cy="36.21" rx="1.28" ry="1.28" fill="#1cff2c" filter="url(#b0_8)" style="mix-blend-mode:screen"/><ellipse cx="29.87" cy="38.39" rx="1.32" ry="1.32" fill="#1cff2c" filter="url(#b0_8)" style="mix-blend-mode:screen"/><ellipse cx="36.2" cy="27.6" rx="1.17" ry="1.17" fill="#1cff2c" filter="url(#b0_8)" style="mix-blend-mode:screen"/><ellipse cx="34.08" cy="29.83" rx="1.22" ry="1.22" fill="#1cff2c" filter="url(#b0_8)" style="mix-blend-mode:screen"/><ellipse cx="37.65" cy="30.96" rx="0.93" ry="0.93" fill="#1cff2c" filter="url(#b0_8)" style="mix-blend-mode:screen"/><ellipse cx="34.71" cy="38.06" rx="0.93" ry="0.93" fill="#1cff2c" filter="url(#b0_8)" style="mix-blend-mode:screen"/><ellipse cx="32.57" cy="37.17" rx="0.98" ry="0.98" fill="#1cff2c" filter="url(#b0_8)" style="mix-blend-mode:screen"/><ellipse cx="29.3" cy="31.51" rx="1.04" ry="1.04" fill="#1cff2c" filter="url(#b0_8)" style="mix-blend-mode:screen"/><ellipse cx="33.42" cy="32.47" rx="1.23" ry="1.23" fill="#1cff2c" filter="url(#b0_8)" style="mix-blend-mode:screen"/><ellipse cx="33.53" cy="38.54" rx="1.38" ry="1.38" fill="#1cff2c" filter="url(#b0_8)" style="mix-blend-mode:screen"/><line x1="56.5" y1="5.6" x2="15" y2="58" stroke="#fff" stroke-width="2.1" stroke-dasharray="2.1 2"/><rect x="60" y="64" width="4.5" height="2.2" fill="#fff"/></svg>
<svg x="714.7" y="958.7" width="68.8" height="68.7" viewBox="0 0 70 70" preserveAspectRatio="none" style="isolation:isolate"><rect width="70" height="70" fill="#000"/><ellipse cx="36" cy="33" rx="30" ry="30" fill="url(#g21)" filter="url(#b3_0)" opacity="0.8" style="mix-blend-mode:screen"/><ellipse cx="36" cy="33" rx="30" ry="30" fill="#341ea8" filter="url(#b3_0)" style="mix-blend-mode:screen"/><rect width="70" height="70" filter="url(#txv1)" style="mix-blend-mode:multiply"/><ellipse cx="35" cy="33" rx="10" ry="9" fill="#3fac97" transform="rotate(-20 35 33)" filter="url(#b2_6)" style="mix-blend-mode:screen"/><ellipse cx="34.8" cy="35.96" rx="1.28" ry="1.28" fill="#5bffe0" filter="url(#b0_8)" style="mix-blend-mode:screen"/><ellipse cx="27.82" cy="35.83" rx="0.75" ry="0.75" fill="#5bffe0" filter="url(#b0_8)" style="mix-blend-mode:screen"/><ellipse cx="41.26" cy="29.16" rx="1.36" ry="1.36" fill="#5bffe0" filter="url(#b0_8)" style="mix-blend-mode:screen"/><ellipse cx="27.99" cy="33.06" rx="1" ry="1" fill="#5bffe0" filter="url(#b0_8)" style="mix-blend-mode:screen"/><ellipse cx="33.99" cy="27.92" rx="1.08" ry="1.08" fill="#5bffe0" filter="url(#b0_8)" style="mix-blend-mode:screen"/><ellipse cx="33.24" cy="38.62" rx="0.77" ry="0.77" fill="#5bffe0" filter="url(#b0_8)" style="mix-blend-mode:screen"/><ellipse cx="42.49" cy="33.71" rx="0.88" ry="0.88" fill="#5bffe0" filter="url(#b0_8)" style="mix-blend-mode:screen"/><ellipse cx="37.73" cy="34.9" rx="0.8" ry="0.8" fill="#5bffe0" filter="url(#b0_8)" style="mix-blend-mode:screen"/><ellipse cx="30.36" cy="33.52" rx="0.71" ry="0.71" fill="#5bffe0" filter="url(#b0_8)" style="mix-blend-mode:screen"/><ellipse cx="37.18" cy="29.96" rx="1.02" ry="1.02" fill="#5bffe0" filter="url(#b0_8)" style="mix-blend-mode:screen"/><ellipse cx="41.22" cy="36.3" rx="0.73" ry="0.73" fill="#5bffe0" filter="url(#b0_8)" style="mix-blend-mode:screen"/><ellipse cx="31.97" cy="28.33" rx="1.02" ry="1.02" fill="#5bffe0" filter="url(#b0_8)" style="mix-blend-mode:screen"/><ellipse cx="33.83" cy="28.06" rx="1.32" ry="1.32" fill="#5bffe0" filter="url(#b0_8)" style="mix-blend-mode:screen"/><ellipse cx="38.92" cy="27.49" rx="1.05" ry="1.05" fill="#5bffe0" filter="url(#b0_8)" style="mix-blend-mode:screen"/><ellipse cx="32.47" cy="27.28" rx="1.17" ry="1.17" fill="#5bffe0" filter="url(#b0_8)" style="mix-blend-mode:screen"/><ellipse cx="34.36" cy="30.69" rx="1.3" ry="1.3" fill="#5bffe0" filter="url(#b0_8)" style="mix-blend-mode:screen"/><ellipse cx="34.71" cy="29.45" rx="1.13" ry="1.13" fill="#5bffe0" filter="url(#b0_8)" style="mix-blend-mode:screen"/><ellipse cx="31.41" cy="36.29" rx="0.86" ry="0.86" fill="#5bffe0" filter="url(#b0_8)" style="mix-blend-mode:screen"/><ellipse cx="35.7" cy="33.66" rx="0.76" ry="0.76" fill="#5bffe0" filter="url(#b0_8)" style="mix-blend-mode:screen"/><ellipse cx="35.06" cy="29.51" rx="0.86" ry="0.86" fill="#5bffe0" filter="url(#b0_8)" style="mix-blend-mode:screen"/><ellipse cx="28.4" cy="37.12" rx="0.91" ry="0.91" fill="#5bffe0" filter="url(#b0_8)" style="mix-blend-mode:screen"/><ellipse cx="38.76" cy="32.19" rx="1.39" ry="1.39" fill="#5bffe0" filter="url(#b0_8)" style="mix-blend-mode:screen"/><ellipse cx="31.3" cy="36.21" rx="1.28" ry="1.28" fill="#5bffe0" filter="url(#b0_8)" style="mix-blend-mode:screen"/><ellipse cx="29.87" cy="38.39" rx="1.32" ry="1.32" fill="#5bffe0" filter="url(#b0_8)" style="mix-blend-mode:screen"/><ellipse cx="36.2" cy="27.6" rx="1.17" ry="1.17" fill="#5bffe0" filter="url(#b0_8)" style="mix-blend-mode:screen"/><ellipse cx="34.08" cy="29.83" rx="1.22" ry="1.22" fill="#5bffe0" filter="url(#b0_8)" style="mix-blend-mode:screen"/><ellipse cx="37.65" cy="30.96" rx="0.93" ry="0.93" fill="#5bffe0" filter="url(#b0_8)" style="mix-blend-mode:screen"/><ellipse cx="34.71" cy="38.06" rx="0.93" ry="0.93" fill="#5bffe0" filter="url(#b0_8)" style="mix-blend-mode:screen"/><ellipse cx="32.57" cy="37.17" rx="0.98" ry="0.98" fill="#5bffe0" filter="url(#b0_8)" style="mix-blend-mode:screen"/><ellipse cx="29.3" cy="31.51" rx="1.04" ry="1.04" fill="#5bffe0" filter="url(#b0_8)" style="mix-blend-mode:screen"/><ellipse cx="33.42" cy="32.47" rx="1.23" ry="1.23" fill="#5bffe0" filter="url(#b0_8)" style="mix-blend-mode:screen"/><ellipse cx="33.53" cy="38.54" rx="1.38" ry="1.38" fill="#5bffe0" filter="url(#b0_8)" style="mix-blend-mode:screen"/><rect x="60" y="64" width="4.5" height="2.2" fill="#fff"/></svg>
<svg x="499.2" y="1031" width="69.3" height="69" viewBox="0 0 70 70" preserveAspectRatio="none" style="isolation:isolate"><rect width="70" height="70" fill="#000"/><ellipse cx="35" cy="33" rx="30" ry="30" fill="#113e14" filter="url(#b3_0)" style="mix-blend-mode:screen"/><rect width="70" height="70" filter="url(#txf2)" style="mix-blend-mode:multiply"/><ellipse cx="55" cy="32" rx="5" ry="4.5" fill="#12c422" filter="url(#b1_6)" style="mix-blend-mode:screen"/><ellipse cx="55" cy="31.5" rx="3.2" ry="2.8" fill="#1cff2c" filter="url(#b1_1)" style="mix-blend-mode:screen"/><ellipse cx="58" cy="34" rx="2" ry="1.6" fill="#1cff2c" filter="url(#b0_9)" style="mix-blend-mode:screen"/><rect x="58" y="64" width="6" height="2.6" fill="#fff"/></svg>
<svg x="571.4" y="1031" width="69.2" height="69" viewBox="0 0 70 70" preserveAspectRatio="none" style="isolation:isolate"><rect width="70" height="70" fill="#000"/><ellipse cx="35" cy="35" rx="28.5" ry="30.5" fill="#6e0b0b" filter="url(#b3_0)" style="mix-blend-mode:screen"/><ellipse cx="62" cy="12" rx="10" ry="10" fill="#000" filter="url(#b3_0)" opacity="0.85"/><rect width="70" height="70" filter="url(#txm3)" style="mix-blend-mode:multiply"/><ellipse cx="56" cy="32" rx="6" ry="5" fill="#f0201a" filter="url(#b2_4)" style="mix-blend-mode:screen"/><rect x="58" y="64" width="6" height="2.6" fill="#fff"/></svg>
<svg x="642.6" y="1031" width="68.6" height="69" viewBox="0 0 70 70" preserveAspectRatio="none" style="isolation:isolate"><rect width="70" height="70" fill="#000"/><ellipse cx="35" cy="35" rx="28.5" ry="30.5" fill="#840d0d" filter="url(#b3_0)" style="mix-blend-mode:screen"/><ellipse cx="62" cy="12" rx="10" ry="10" fill="#000" filter="url(#b3_0)" opacity="0.85"/><rect width="70" height="70" filter="url(#txm4)" style="mix-blend-mode:multiply"/><ellipse cx="56" cy="32" rx="6" ry="5" fill="#f0201a" filter="url(#b2_4)" style="mix-blend-mode:screen"/><ellipse cx="55" cy="32" rx="5" ry="4.5" fill="#12c422" filter="url(#b1_6)" style="mix-blend-mode:screen"/><ellipse cx="55" cy="31.5" rx="3.2" ry="2.8" fill="#1cff2c" filter="url(#b1_1)" style="mix-blend-mode:screen"/><ellipse cx="58" cy="34" rx="2" ry="1.6" fill="#1cff2c" filter="url(#b0_9)" style="mix-blend-mode:screen"/><line x1="15.6" y1="10" x2="66" y2="39" stroke="#fff" stroke-width="2.1" stroke-dasharray="2.1 2"/><rect x="58" y="64" width="6" height="2.6" fill="#fff"/></svg>
<svg x="714.7" y="1031" width="68.8" height="69" viewBox="0 0 70 70" preserveAspectRatio="none" style="isolation:isolate"><rect width="70" height="70" fill="#000"/><ellipse cx="35" cy="35" rx="28.5" ry="30.5" fill="#6e0b0b" filter="url(#b3_0)" opacity="0.7" style="mix-blend-mode:screen"/><ellipse cx="62" cy="12" rx="10" ry="10" fill="#000" filter="url(#b3_0)" opacity="0.85"/><ellipse cx="35" cy="35" rx="29" ry="31" fill="#3422a8" filter="url(#b3_5)" style="mix-blend-mode:screen"/><rect width="70" height="70" filter="url(#txv5)" style="mix-blend-mode:multiply"/><ellipse cx="56" cy="32" rx="6" ry="5" fill="#f0201a" filter="url(#b2_4)" style="mix-blend-mode:screen"/><ellipse cx="55" cy="32" rx="5" ry="4.5" fill="#43c4ac" filter="url(#b1_6)" style="mix-blend-mode:screen"/><ellipse cx="55" cy="31.5" rx="3.2" ry="2.8" fill="#5bffe0" filter="url(#b1_1)" style="mix-blend-mode:screen"/><ellipse cx="58" cy="34" rx="2" ry="1.6" fill="#5bffe0" filter="url(#b0_9)" style="mix-blend-mode:screen"/><rect x="58" y="64" width="6" height="2.6" fill="#fff"/></svg>
<text x="6.5" y="18.8" font-size="19.6" font-family="Liberation Sans" fill="#000" font-weight="bold" opacity="0.999" stroke="#000" stroke-width="0.22" xml:space="preserve">A</text>
<text x="54.2" y="19" font-size="9.9" font-family="Liberation Serif" fill="#000" text-anchor="middle" opacity="0.999" stroke="#000" stroke-width="0.22" xml:space="preserve"><tspan font-style="italic" fill="#13a24a" stroke="#13a24a">Xist</tspan></text>
<text x="130" y="19" font-size="9.9" font-family="Liberation Serif" fill="#000" text-anchor="middle" opacity="0.999" stroke="#000" stroke-width="0.22" xml:space="preserve"><tspan fill="#ed1c24" stroke="#ed1c24">H3K27me3</tspan></text>
<text x="202.5" y="18.6" font-size="9.9" font-family="Liberation Serif" fill="#000" text-anchor="middle" opacity="0.999" stroke="#000" stroke-width="0.22" xml:space="preserve"><tspan font-style="italic" fill="#13a24a" stroke="#13a24a">Xist</tspan> / <tspan fill="#ed1c24" stroke="#ed1c24">H3K27me3</tspan></text>
<text x="278.6" y="8.6" font-size="9.9" font-family="Liberation Serif" fill="#000" text-anchor="middle" opacity="0.999" stroke="#000" stroke-width="0.22" xml:space="preserve"><tspan font-style="italic" fill="#13a24a" stroke="#13a24a">Xist</tspan> / <tspan fill="#ed1c24" stroke="#ed1c24">H3K27me3/</tspan></text>
<text x="274" y="19.3" font-size="9.9" font-family="Liberation Serif" fill="#2e3192" text-anchor="middle" opacity="0.999" xml:space="preserve">DAPI</text>
<text x="486.3" y="18.9" font-size="19.6" font-family="Liberation Sans" fill="#000" font-weight="bold" opacity="0.999" stroke="#000" stroke-width="0.22" xml:space="preserve">B</text>
<text x="537.8" y="18.5" font-size="9.9" font-family="Liberation Serif" fill="#000" text-anchor="middle" opacity="0.999" stroke="#000" stroke-width="0.22" xml:space="preserve"><tspan font-style="italic" fill="#13a24a" stroke="#13a24a">Xist</tspan></text>
<text x="608.4" y="18.5" font-size="9.9" font-family="Liberation Serif" fill="#000" text-anchor="middle" opacity="0.999" stroke="#000" stroke-width="0.22" xml:space="preserve"><tspan fill="#ed1c24" stroke="#ed1c24">H2AK119ub</tspan></text>
<text x="682.7" y="18.6" font-size="9.9" font-family="Liberation Serif" fill="#000" text-anchor="middle" opacity="0.999" stroke="#000" stroke-width="0.22" xml:space="preserve"><tspan font-style="italic" fill="#13a24a" stroke="#13a24a">Xist</tspan> / <tspan fill="#ed1c24" stroke="#ed1c24">H2AK119ub</tspan></text>
<text x="760.2" y="8.5" font-size="9.9" font-family="Liberation Serif" fill="#000" text-anchor="middle" opacity="0.999" stroke="#000" stroke-width="0.22" xml:space="preserve"><tspan font-style="italic" fill="#13a24a" stroke="#13a24a">Xist</tspan> / <tspan fill="#ed1c24" stroke="#ed1c24">H2AK119ub/</tspan></text>
<text x="750" y="19.2" font-size="9.9" font-family="Liberation Serif" fill="#2e3192" text-anchor="middle" opacity="0.999" xml:space="preserve">DAPI</text>
<text x="0" y="671.6" font-size="19.6" font-family="Liberation Sans" fill="#000" font-weight="bold" opacity="0.999" stroke="#000" stroke-width="0.22" xml:space="preserve">C</text>
<text x="52.4" y="669" font-size="9.9" font-family="Liberation Serif" fill="#000" text-anchor="middle" opacity="0.999" stroke="#000" stroke-width="0.22" xml:space="preserve"><tspan font-style="italic" fill="#13a24a" stroke="#13a24a">Xist</tspan></text>
<text x="127.3" y="670.6" font-size="9.9" font-family="Liberation Serif" fill="#000" text-anchor="middle" opacity="0.999" stroke="#000" stroke-width="0.22" xml:space="preserve"><tspan fill="#ed1c24" stroke="#ed1c24">H4K20me1</tspan></text>
<text x="202" y="669.6" font-size="9.9" font-family="Liberation Serif" fill="#000" text-anchor="middle" opacity="0.999" stroke="#000" stroke-width="0.22" xml:space="preserve"><tspan font-style="italic" fill="#13a24a" stroke="#13a24a">Xist</tspan> / <tspan fill="#ed1c24" stroke="#ed1c24">H4K20me1</tspan></text>
<text x="275.5" y="659.6" font-size="9.9" font-family="Liberation Serif" fill="#000" text-anchor="middle" opacity="0.999" stroke="#000" stroke-width="0.22" xml:space="preserve"><tspan font-style="italic" fill="#13a24a" stroke="#13a24a">Xist</tspan> / <tspan fill="#ed1c24" stroke="#ed1c24">H4K20me1/</tspan></text>
<text x="274" y="672" font-size="9.9" font-family="Liberation Serif" fill="#2e3192" text-anchor="middle" opacity="0.999" xml:space="preserve">DAPI</text>
<text x="479.3" y="668.6" font-size="19.6" font-family="Liberation Sans" fill="#000" font-weight="bold" opacity="0.999" stroke="#000" stroke-width="0.22" xml:space="preserve">D</text>
<text x="532.4" y="666.8" font-size="9.9" font-family="Liberation Serif" fill="#000" text-anchor="middle" opacity="0.999" stroke="#000" stroke-width="0.22" xml:space="preserve"><tspan font-style="italic" fill="#13a24a" stroke="#13a24a">Xist</tspan></text>
<text x="607.2" y="667.4" font-size="9.9" font-family="Liberation Serif" fill="#000" text-anchor="middle" opacity="0.999" stroke="#000" stroke-width="0.22" xml:space="preserve"><tspan fill="#ed1c24" stroke="#ed1c24">Macro H2A.1</tspan></text>
<text x="677.9" y="667.9" font-size="9.9" font-family="Liberation Serif" fill="#000" text-anchor="middle" opacity="0.999" stroke="#000" stroke-width="0.22" xml:space="preserve"><tspan font-style="italic" fill="#13a24a" stroke="#13a24a">Xist</tspan> / <tspan fill="#ed1c24" stroke="#ed1c24">Macro H2A1</tspan></text>
<text x="754.2" y="656.6" font-size="9.9" font-family="Liberation Serif" fill="#000" text-anchor="middle" opacity="0.999" stroke="#000" stroke-width="0.22" xml:space="preserve"><tspan font-style="italic" fill="#13a24a" stroke="#13a24a">Xist</tspan> / <tspan fill="#ed1c24" stroke="#ed1c24">Macro H2A.1/</tspan></text>
<text x="748.2" y="668.2" font-size="9.9" font-family="Liberation Serif" fill="#2e3192" text-anchor="middle" opacity="0.999" xml:space="preserve">DAPI</text>
<text x="17.3" y="56.4" font-size="11" font-family="Liberation Serif" fill="#000" text-anchor="middle" transform="rotate(-90 17.3 56.4)" textLength="42" lengthAdjust="spacingAndGlyphs" opacity="0.999" stroke="#000" stroke-width="0.22" xml:space="preserve">WT XEN</text>
<text x="17.3" y="134.4" font-size="11" font-family="Liberation Serif" fill="#000" text-anchor="middle" transform="rotate(-90 17.3 134.4)" textLength="42" lengthAdjust="spacingAndGlyphs" opacity="0.999" stroke="#000" stroke-width="0.22" xml:space="preserve">D1 <tspan font-size="88%">Δ</tspan>Xp</text>
<text x="17.3" y="204.2" font-size="11" font-family="Liberation Serif" fill="#000" text-anchor="middle" transform="rotate(-90 17.3 204.2)" textLength="46" lengthAdjust="spacingAndGlyphs" opacity="0.999" stroke="#000" stroke-width="0.22" xml:space="preserve">D1 <tspan font-size="88%">Δ</tspan>Xm</text>
<text x="17.3" y="278.4" font-size="11" font-family="Liberation Serif" fill="#000" text-anchor="middle" transform="rotate(-90 17.3 278.4)" textLength="40.3" lengthAdjust="spacingAndGlyphs" opacity="0.999" stroke="#000" stroke-width="0.22" xml:space="preserve">D3 <tspan font-size="88%">Δ</tspan>Xp</text>
<text x="17.3" y="344.9" font-size="11" font-family="Liberation Serif" fill="#000" text-anchor="middle" transform="rotate(-90 17.3 344.9)" textLength="63.5" lengthAdjust="spacingAndGlyphs" opacity="0.999" stroke="#000" stroke-width="0.22" xml:space="preserve">D3 <tspan font-size="88%">Δ</tspan>Xp <tspan font-size="88%">Δ</tspan>Xm</text>
<text x="17.3" y="419" font-size="11" font-family="Liberation Serif" fill="#000" text-anchor="middle" transform="rotate(-90 17.3 419)" textLength="45.4" lengthAdjust="spacingAndGlyphs" opacity="0.999" stroke="#000" stroke-width="0.22" xml:space="preserve">D3 <tspan font-size="88%">Δ</tspan>Xm</text>
<text x="497.3" y="62.4" font-size="11" font-family="Liberation Serif" fill="#000" text-anchor="middle" transform="rotate(-90 497.3 62.4)" textLength="42" lengthAdjust="spacingAndGlyphs" opacity="0.999" stroke="#000" stroke-width="0.22" xml:space="preserve">WT XEN</text>
<text x="497.3" y="128.4" font-size="11" font-family="Liberation Serif" fill="#000" text-anchor="middle" transform="rotate(-90 497.3 128.4)" textLength="42" lengthAdjust="spacingAndGlyphs" opacity="0.999" stroke="#000" stroke-width="0.22" xml:space="preserve">D1 <tspan font-size="88%">Δ</tspan>Xp</text>
<text x="497.3" y="198.7" font-size="11" font-family="Liberation Serif" fill="#000" text-anchor="middle" transform="rotate(-90 497.3 198.7)" textLength="44" lengthAdjust="spacingAndGlyphs" opacity="0.999" stroke="#000" stroke-width="0.22" xml:space="preserve">D1 <tspan font-size="88%">Δ</tspan>Xm</text>
<text x="496.5" y="276.3" font-size="11" font-family="Liberation Serif" fill="#000" text-anchor="middle" transform="rotate(-90 496.5 276.3)" textLength="39.6" lengthAdjust="spacingAndGlyphs" opacity="0.999" stroke="#000" stroke-width="0.22" xml:space="preserve">D3 <tspan font-size="88%">Δ</tspan>Xp</text>
<text x="494.8" y="342.7" font-size="11" font-family="Liberation Serif" fill="#000" text-anchor="middle" transform="rotate(-90 494.8 342.7)" textLength="66" lengthAdjust="spacingAndGlyphs" opacity="0.999" stroke="#000" stroke-width="0.22" xml:space="preserve">D3 <tspan font-size="88%">Δ</tspan>Xp <tspan font-size="88%">Δ</tspan>Xm</text>
<text x="494.8" y="419.4" font-size="11" font-family="Liberation Serif" fill="#000" text-anchor="middle" transform="rotate(-90 494.8 419.4)" textLength="44.8" lengthAdjust="spacingAndGlyphs" opacity="0.999" stroke="#000" stroke-width="0.22" xml:space="preserve">D3 <tspan font-size="88%">Δ</tspan>Xm</text>
<text x="11.3" y="709" font-size="11" font-family="Liberation Serif" fill="#000" text-anchor="middle" transform="rotate(-90 11.3 709)" textLength="42" lengthAdjust="spacingAndGlyphs" opacity="0.999" stroke="#000" stroke-width="0.22" xml:space="preserve">WT XEN</text>
<text x="10.4" y="784" font-size="11" font-family="Liberation Serif" fill="#000" text-anchor="middle" transform="rotate(-90 10.4 784)" textLength="41.4" lengthAdjust="spacingAndGlyphs" opacity="0.999" stroke="#000" stroke-width="0.22" xml:space="preserve">D1 <tspan font-size="88%">Δ</tspan>Xp</text>
<text x="10.4" y="852.6" font-size="11" font-family="Liberation Serif" fill="#000" text-anchor="middle" transform="rotate(-90 10.4 852.6)" textLength="44.8" lengthAdjust="spacingAndGlyphs" opacity="0.999" stroke="#000" stroke-width="0.22" xml:space="preserve">D1 <tspan font-size="88%">Δ</tspan>Xm</text>
<text x="10.5" y="932" font-size="11" font-family="Liberation Serif" fill="#000" text-anchor="middle" transform="rotate(-90 10.5 932)" textLength="39" lengthAdjust="spacingAndGlyphs" opacity="0.999" stroke="#000" stroke-width="0.22" xml:space="preserve">D3 <tspan font-size="88%">Δ</tspan>Xp</text>
<text x="10.5" y="996.9" font-size="11" font-family="Liberation Serif" fill="#000" text-anchor="middle" transform="rotate(-90 10.5 996.9)" textLength="66.5" lengthAdjust="spacingAndGlyphs" opacity="0.999" stroke="#000" stroke-width="0.22" xml:space="preserve">D3 <tspan font-size="88%">Δ</tspan>Xp <tspan font-size="88%">Δ</tspan>Xm</text>
<text x="9.6" y="1071" font-size="11" font-family="Liberation Serif" fill="#000" text-anchor="middle" transform="rotate(-90 9.6 1071)" textLength="45.4" lengthAdjust="spacingAndGlyphs" opacity="0.999" stroke="#000" stroke-width="0.22" xml:space="preserve">D3 <tspan font-size="88%">Δ</tspan>Xm</text>
<text x="490.2" y="705.3" font-size="11" font-family="Liberation Serif" fill="#000" text-anchor="middle" transform="rotate(-90 490.2 705.3)" textLength="42" lengthAdjust="spacingAndGlyphs" opacity="0.999" stroke="#000" stroke-width="0.22" xml:space="preserve">WT XEN</text>
<text x="489.6" y="777.3" font-size="11" font-family="Liberation Serif" fill="#000" text-anchor="middle" transform="rotate(-90 489.6 777.3)" textLength="42" lengthAdjust="spacingAndGlyphs" opacity="0.999" stroke="#000" stroke-width="0.22" xml:space="preserve">D1 <tspan font-size="88%">Δ</tspan>Xp</text>
<text x="489.1" y="850.6" font-size="11" font-family="Liberation Serif" fill="#000" text-anchor="middle" transform="rotate(-90 489.1 850.6)" textLength="46" lengthAdjust="spacingAndGlyphs" opacity="0.999" stroke="#000" stroke-width="0.22" xml:space="preserve">D1 <tspan font-size="88%">Δ</tspan>Xm</text>
<text x="488.5" y="918.3" font-size="11" font-family="Liberation Serif" fill="#000" text-anchor="middle" transform="rotate(-90 488.5 918.3)" textLength="39.6" lengthAdjust="spacingAndGlyphs" opacity="0.999" stroke="#000" stroke-width="0.22" xml:space="preserve">D3 <tspan font-size="88%">Δ</tspan>Xp</text>
<text x="488.3" y="989.4" font-size="11" font-family="Liberation Serif" fill="#000" text-anchor="middle" transform="rotate(-90 488.3 989.4)" textLength="66.5" lengthAdjust="spacingAndGlyphs" opacity="0.999" stroke="#000" stroke-width="0.22" xml:space="preserve">D3 <tspan font-size="88%">Δ</tspan>Xp <tspan font-size="88%">Δ</tspan>Xm</text>
<text x="487.4" y="1068.7" font-size="11" font-family="Liberation Serif" fill="#000" text-anchor="middle" transform="rotate(-90 487.4 1068.7)" textLength="46.5" lengthAdjust="spacingAndGlyphs" opacity="0.999" stroke="#000" stroke-width="0.22" xml:space="preserve">D3 <tspan font-size="88%">Δ</tspan>Xm</text>
<path d="M346.96 29.08V84.99H427.82M344.96 29.08h2M344.96 57.04h2M344.96 84.99h2" stroke="#747474" stroke-width="1.25" fill="none"/>
<polyline points="346.96,80.68 350.34,78.8 355.03,75.98 359.72,74.11 364.41,72.23 369.1,72.8 373.79,73.17 379.42,74.48 385.05,75.05 390.68,74.11 396.3,72.23 400.06,70.36 402.87,67.54 405.68,61.91 408.5,50.66 410.38,41.28 412.81,35.27 414.69,40.34 416,45.03 417.88,56.29 420.69,67.54 423.51,75.05 426.32,80.68 427.82,82.55" fill="none" stroke="#8cc63f" stroke-width="0.9" stroke-linejoin="round"/>
<polyline points="346.96,80.68 350.34,75.05 353.15,70.36 355.97,69.04 359.16,67.17 362.16,66.04 365.35,67.54 368.54,69.04 371.91,69.79 375.67,70.54 379.42,72.23 383.17,74.11 386.92,74.48 389.74,72.23 391.99,70.36 393.49,73.17 396.3,70.92 399.12,67.54 401.93,67.92 403.81,63.79 405.68,52.53 407.19,56.29 409.44,45.97 412.25,46.9 414.13,45.59 416,54.41 418.82,63.79 422.57,73.17 425.38,78.8 427.82,82.55" fill="none" stroke="#f0141e" stroke-width="1.1" stroke-linejoin="round"/>
<text x="343.66" y="32.18" font-size="9.6" font-family="Liberation Serif" fill="#000" text-anchor="end" opacity="0.999" stroke="#000" stroke-width="0.22" xml:space="preserve">200</text>
<text x="343.66" y="60.14" font-size="9.6" font-family="Liberation Serif" fill="#000" text-anchor="end" opacity="0.999" stroke="#000" stroke-width="0.22" xml:space="preserve">100</text>
<text x="343.66" y="88.09" font-size="9.6" font-family="Liberation Serif" fill="#000" text-anchor="end" opacity="0.999" stroke="#000" stroke-width="0.22" xml:space="preserve">0</text>
<text x="351.46" y="92.64" font-size="9.6" font-family="Liberation Serif" fill="#000" text-anchor="end" transform="rotate(-38 351.46 92.64)" opacity="0.999" stroke="#000" stroke-width="0.22" xml:space="preserve">0</text>
<text x="389.39" y="91.89" font-size="9.6" font-family="Liberation Serif" fill="#000" text-anchor="end" transform="rotate(-38 389.39 91.89)" opacity="0.999" stroke="#000" stroke-width="0.22" xml:space="preserve">6.87</text>
<text x="429.82" y="91.89" font-size="9.6" font-family="Liberation Serif" fill="#000" text-anchor="end" transform="rotate(-38 429.82 91.89)" opacity="0.999" stroke="#000" stroke-width="0.22" xml:space="preserve">13.73</text>
<path d="M346.21 102.81V156.66H428.76M344.21 102.81h2M344.21 129.74h2M344.21 156.66h2" stroke="#747474" stroke-width="1.25" fill="none"/>
<polyline points="346.21,155.72 350.34,153.47 355.03,152.35 358.78,149.16 361.59,145.4 363.47,148.22 365.35,138.84 367.22,129.46 368.54,131.33 370.04,142.59 372.85,144.47 375.29,143.53 377.17,147.28 379.04,138.84 380.92,135.08 383.17,114.45 385.05,113.51 386.55,127.58 388.8,128.52 391.05,132.27 392.55,131.33 394.43,137.9 396.3,141.65 398.18,136.96 400.06,140.71 401.56,135.08 403.25,142.59 404.75,150.09 406.62,155.72 408.5,156.66" fill="none" stroke="#8cc63f" stroke-width="0.9" stroke-linejoin="round"/>
<polyline points="346.21,153.85 349.4,144.47 352.21,133.21 355.03,120.08 357.84,122.89 360.28,121.95 362.53,125.33 364.97,124.2 367.22,127.58 369.66,130.39 372.85,132.27 375.67,133.58 378.48,135.46 381.29,133.21 384.11,136.02 386.92,138.84 389.74,135.46 392.55,133.58 395.37,135.08 398.18,134.15 400.99,132.83 403.81,134.71 406.62,129.46 409.44,131.33 412.25,129.83 415.07,135.08 417.88,137.9 420.69,140.71 423.88,134.71 425.38,144.47 427.26,151.97 428.76,156.29" fill="none" stroke="#f0141e" stroke-width="1.1" stroke-linejoin="round"/>
<text x="342.91" y="105.91" font-size="9.6" font-family="Liberation Serif" fill="#000" text-anchor="end" opacity="0.999" stroke="#000" stroke-width="0.22" xml:space="preserve">200</text>
<text x="342.91" y="132.84" font-size="9.6" font-family="Liberation Serif" fill="#000" text-anchor="end" opacity="0.999" stroke="#000" stroke-width="0.22" xml:space="preserve">100</text>
<text x="342.91" y="159.76" font-size="9.6" font-family="Liberation Serif" fill="#000" text-anchor="end" opacity="0.999" stroke="#000" stroke-width="0.22" xml:space="preserve">0</text>
<text x="350.71" y="164.31" font-size="9.6" font-family="Liberation Serif" fill="#000" text-anchor="end" transform="rotate(-38 350.71 164.31)" opacity="0.999" stroke="#000" stroke-width="0.22" xml:space="preserve">0</text>
<text x="389.49" y="163.56" font-size="9.6" font-family="Liberation Serif" fill="#000" text-anchor="end" transform="rotate(-38 389.49 163.56)" opacity="0.999" stroke="#000" stroke-width="0.22" xml:space="preserve">6.59</text>
<text x="430.76" y="163.56" font-size="9.6" font-family="Liberation Serif" fill="#000" text-anchor="end" transform="rotate(-38 430.76 163.56)" opacity="0.999" stroke="#000" stroke-width="0.22" xml:space="preserve">13.18</text>
<path d="M346.21 177.3V227.02H431.01M344.21 177.3h2M344.21 202.16h2M344.21 227.02h2" stroke="#747474" stroke-width="1.25" fill="none"/>
<polyline points="346.21,226.64 358.78,226.08 364.41,223.26 370.04,219.89 375.67,217.26 381.29,215.76 386.92,217.64 392.55,219.14 398.18,216.7 401.93,212.01 405.68,203.56 409.44,196.06 412.81,190.43 416,187.62 417.88,193.25 419.76,204.5 421.63,215.76 423.51,223.26 425.38,226.08" fill="none" stroke="#8cc63f" stroke-width="0.9" stroke-linejoin="round"/>
<polyline points="346.21,226.64 354.09,226.08 357.84,220.45 361.59,215.76 364.78,212.38 367.22,215.76 370.04,219.14 373.79,218.57 377.54,219.51 381.29,219.89 385.05,217.26 388.8,218.57 392.55,216.7 396.3,217.64 400.06,214.82 403.81,211.07 407.56,207.32 411.31,203.56 414.13,197 416.57,189.49 418.82,198.87 421.07,208.26 423.51,215.76 426.32,222.33 429.14,224.2 431.01,224.58" fill="none" stroke="#f0141e" stroke-width="1.1" stroke-linejoin="round"/>
<text x="342.91" y="180.4" font-size="9.6" font-family="Liberation Serif" fill="#000" text-anchor="end" opacity="0.999" stroke="#000" stroke-width="0.22" xml:space="preserve">200</text>
<text x="342.91" y="205.26" font-size="9.6" font-family="Liberation Serif" fill="#000" text-anchor="end" opacity="0.999" stroke="#000" stroke-width="0.22" xml:space="preserve">100</text>
<text x="342.91" y="230.12" font-size="9.6" font-family="Liberation Serif" fill="#000" text-anchor="end" opacity="0.999" stroke="#000" stroke-width="0.22" xml:space="preserve">0</text>
<text x="350.71" y="234.67" font-size="9.6" font-family="Liberation Serif" fill="#000" text-anchor="end" transform="rotate(-38 350.71 234.67)" opacity="0.999" stroke="#000" stroke-width="0.22" xml:space="preserve">0</text>
<text x="390.61" y="233.92" font-size="9.6" font-family="Liberation Serif" fill="#000" text-anchor="end" transform="rotate(-38 390.61 233.92)" opacity="0.999" stroke="#000" stroke-width="0.22" xml:space="preserve">6.08</text>
<text x="433.01" y="233.92" font-size="9.6" font-family="Liberation Serif" fill="#000" text-anchor="end" transform="rotate(-38 433.01 233.92)" opacity="0.999" stroke="#000" stroke-width="0.22" xml:space="preserve">12.16</text>
<path d="M345.65 244.07V304.48H431.95M343.65 244.07h2M343.65 274.28h2M343.65 304.48h2" stroke="#747474" stroke-width="1.25" fill="none"/>
<polyline points="345.65,304.48 350.34,302.23 355.03,297.54 359.72,292.85 364.41,288.16 369.1,284.41 373.79,280.66 375.67,276.53 378.48,279.16 381.29,275.97 384.11,275.03 385.61,272.78 387.86,275.97 390.68,276.53 393.49,275.97 396.3,277.28 400.06,275.97 402.87,278.41 406.62,280.28 411.31,281.03 415.07,284.41 418.82,289.1 422.57,294.73 426.32,300.36 430.08,303.55 431.95,304.48" fill="none" stroke="#8cc63f" stroke-width="0.9" stroke-linejoin="round"/>
<polyline points="345.65,304.11 350.34,302.23 353.15,293.79 355.97,283.47 358.78,280.66 362.53,279.72 365.35,281.59 369.1,284.41 372.85,282.16 376.6,286.29 380.36,289.1 384.11,290.98 387.86,292.29 391.61,293.41 395.37,294.17 399.12,292.85 402.87,290.04 406.62,286.29 410.38,281.59 414.13,279.72 417.88,277.28 420.69,279.16 422.57,282.53 424.82,291.91 427.26,298.48 430.08,302.8 431.95,304.48" fill="none" stroke="#f0141e" stroke-width="1.1" stroke-linejoin="round"/>
<text x="342.35" y="247.17" font-size="9.6" font-family="Liberation Serif" fill="#000" text-anchor="end" opacity="0.999" stroke="#000" stroke-width="0.22" xml:space="preserve">150</text>
<text x="342.35" y="277.38" font-size="9.6" font-family="Liberation Serif" fill="#000" text-anchor="end" opacity="0.999" stroke="#000" stroke-width="0.22" xml:space="preserve">75</text>
<text x="342.35" y="307.58" font-size="9.6" font-family="Liberation Serif" fill="#000" text-anchor="end" opacity="0.999" stroke="#000" stroke-width="0.22" xml:space="preserve">0</text>
<text x="350.15" y="312.13" font-size="9.6" font-family="Liberation Serif" fill="#000" text-anchor="end" transform="rotate(-38 350.15 312.13)" opacity="0.999" stroke="#000" stroke-width="0.22" xml:space="preserve">0</text>
<text x="390.8" y="311.38" font-size="9.6" font-family="Liberation Serif" fill="#000" text-anchor="end" transform="rotate(-38 390.8 311.38)" opacity="0.999" stroke="#000" stroke-width="0.22" xml:space="preserve">8.58</text>
<text x="433.95" y="311.38" font-size="9.6" font-family="Liberation Serif" fill="#000" text-anchor="end" transform="rotate(-38 433.95 311.38)" opacity="0.999" stroke="#000" stroke-width="0.22" xml:space="preserve">17.16</text>
<path d="M345.65 319.68V373.53H427.26M343.65 319.68h2M343.65 346.6h2M343.65 373.53h2" stroke="#747474" stroke-width="1.25" fill="none"/>
<polyline points="345.65,373.53 349.4,365.08 352.21,357.58 355.03,351.95 357.84,354.77 360.66,353.83 363.47,349.14 365.35,351.95 368.16,346.32 370.98,338.44 373.79,342.57 376.6,343.51 379.42,342.2 382.23,338.82 384.11,330.38 385.42,331.31 386.92,338.82 389.74,344.45 391.61,350.08 393.49,342.57 395.37,338.82 397.24,342.57 399.12,342.2 400.99,357.58 403.81,359.46 406.62,360.39 409.44,357.58 412.25,354.77 415.07,357.58 417.88,361.33 420.69,364.15 422.2,364.71 423.13,372.59" fill="none" stroke="#8cc63f" stroke-width="0.9" stroke-linejoin="round"/>
<polyline points="345.65,373.53 348.46,361.33 350.9,348.2 353.15,342.57 355.03,350.08 357.84,351.95 360.28,354.77 362.53,352.89 364.41,355.7 366.29,352.89 369.1,355.33 371.54,356.08 373.41,350.08 375.67,354.77 377.92,359.08 379.79,355.7 381.29,351.01 383.55,358.52 385.98,361.33 388.8,362.27 391.61,365.08 393.49,361.33 395.93,364.15 398.56,366.59 401.93,367.9 405.68,365.08 408.5,362.27 410.38,357.58 411.31,348.2 413.19,354.77 415.07,357.58 416.38,353.83 417.88,363.21 419.76,368.84 421.63,373.53" fill="none" stroke="#f0141e" stroke-width="1.1" stroke-linejoin="round"/>
<text x="342.35" y="322.78" font-size="9.6" font-family="Liberation Serif" fill="#000" text-anchor="end" opacity="0.999" stroke="#000" stroke-width="0.22" xml:space="preserve">150</text>
<text x="342.35" y="349.7" font-size="9.6" font-family="Liberation Serif" fill="#000" text-anchor="end" opacity="0.999" stroke="#000" stroke-width="0.22" xml:space="preserve">75</text>
<text x="342.35" y="376.63" font-size="9.6" font-family="Liberation Serif" fill="#000" text-anchor="end" opacity="0.999" stroke="#000" stroke-width="0.22" xml:space="preserve">0</text>
<text x="350.15" y="381.18" font-size="9.6" font-family="Liberation Serif" fill="#000" text-anchor="end" transform="rotate(-38 350.15 381.18)" opacity="0.999" stroke="#000" stroke-width="0.22" xml:space="preserve">0</text>
<text x="388.45" y="380.43" font-size="9.6" font-family="Liberation Serif" fill="#000" text-anchor="end" transform="rotate(-38 388.45 380.43)" opacity="0.999" stroke="#000" stroke-width="0.22" xml:space="preserve">9.73</text>
<text x="429.26" y="380.43" font-size="9.6" font-family="Liberation Serif" fill="#000" text-anchor="end" transform="rotate(-38 429.26 380.43)" opacity="0.999" stroke="#000" stroke-width="0.22" xml:space="preserve">19.47</text>
<path d="M345.65 396.04V452.7H432.89M343.65 396.04h2M343.65 424.37h2M343.65 452.7h2" stroke="#747474" stroke-width="1.25" fill="none"/>
<polyline points="345.65,452.7 356.9,452.51 366.29,451.76 375.67,450.45 385.05,448.57 394.43,447.26 401.93,445.76 406.62,443.88 410.38,439.19 412.81,428.87 414.69,410.11 416.57,398.48 417.88,406.36 419.76,417.62 422.2,428.87 424.45,438.26 427.26,445.76 430.08,449.89 432.89,452.33" fill="none" stroke="#8cc63f" stroke-width="0.9" stroke-linejoin="round"/>
<polyline points="345.65,452.7 350.34,452.33 353.15,443.88 355.03,438.63 357.84,439.76 360.66,438.26 363.47,439.19 365.35,436.38 367.22,439.19 370.04,438.63 373.79,439.76 377.54,439.19 381.29,437.32 384.11,429.81 386.92,427.94 388.8,430.75 391.05,423.25 393.49,428.87 396.3,429.81 399.12,425.12 401.93,422.31 404.75,424.18 407.56,427 410.38,427.37 412.81,421.37 414.13,410.11 416,408.24 417.32,406.36 418.82,414.8 420.69,416.68 422.57,422.31 424.07,421.37 425.38,434.5 427.26,442.01 430.08,448.57 432.89,452.33" fill="none" stroke="#f0141e" stroke-width="1.1" stroke-linejoin="round"/>
<text x="342.35" y="399.14" font-size="9.6" font-family="Liberation Serif" fill="#000" text-anchor="end" opacity="0.999" stroke="#000" stroke-width="0.22" xml:space="preserve">200</text>
<text x="342.35" y="427.47" font-size="9.6" font-family="Liberation Serif" fill="#000" text-anchor="end" opacity="0.999" stroke="#000" stroke-width="0.22" xml:space="preserve">100</text>
<text x="342.35" y="455.8" font-size="9.6" font-family="Liberation Serif" fill="#000" text-anchor="end" opacity="0.999" stroke="#000" stroke-width="0.22" xml:space="preserve">0</text>
<text x="350.15" y="460.35" font-size="9.6" font-family="Liberation Serif" fill="#000" text-anchor="end" transform="rotate(-38 350.15 460.35)" opacity="0.999" stroke="#000" stroke-width="0.22" xml:space="preserve">0</text>
<text x="391.27" y="459.6" font-size="9.6" font-family="Liberation Serif" fill="#000" text-anchor="end" transform="rotate(-38 391.27 459.6)" opacity="0.999" stroke="#000" stroke-width="0.22" xml:space="preserve">7.41</text>
<text x="434.89" y="459.6" font-size="9.6" font-family="Liberation Serif" fill="#000" text-anchor="end" transform="rotate(-38 434.89 459.6)" opacity="0.999" stroke="#000" stroke-width="0.22" xml:space="preserve">14.82</text>
<path d="M344.33 671.89V727.24H437.2M342.33 671.89h2M342.33 699.57h2M342.33 727.24h2" stroke="#747474" stroke-width="1.25" fill="none"/>
<polyline points="344.33,727.24 351.28,726.3 356.9,721.61 361.03,715.98 363.47,715.05 365.35,708.48 367.79,698.16 370.04,690.66 372.29,690.28 373.79,693.47 375.67,701.91 377.92,708.48 380.36,711.29 383.17,714.11 386.92,715.98 392.55,715.98 398.18,716.92 403.81,715.98 409.44,715.42 414.13,717.86 416.94,716.92 420.69,720.68 425.38,723.49 430.08,727.24" fill="none" stroke="#8cc63f" stroke-width="0.9" stroke-linejoin="round"/>
<polyline points="344.33,727.24 351.28,726.68 356.9,724.43 361.59,720.68 364.41,713.17 366.29,698.16 367.79,685.03 368.72,676.02 370.04,683.15 370.98,690.66 372.29,683.15 373.41,676.59 374.73,683.15 376.04,689.72 377.54,694.41 379.42,699.1 381.29,703.79 383.17,712.23 385.05,715.98 386.55,713.17 388.8,717.3 391.61,715.05 394.43,717.86 398.18,717.86 401.93,718.8 405.68,719.74 409.44,720.68 413.19,721.61 418.82,722.55 424.45,724.8 430.08,727.24" fill="none" stroke="#f0141e" stroke-width="1.1" stroke-linejoin="round"/>
<text x="341.03" y="674.99" font-size="9.6" font-family="Liberation Serif" fill="#000" text-anchor="end" opacity="0.999" stroke="#000" stroke-width="0.22" xml:space="preserve">200</text>
<text x="341.03" y="702.67" font-size="9.6" font-family="Liberation Serif" fill="#000" text-anchor="end" opacity="0.999" stroke="#000" stroke-width="0.22" xml:space="preserve">100</text>
<text x="341.03" y="730.34" font-size="9.6" font-family="Liberation Serif" fill="#000" text-anchor="end" opacity="0.999" stroke="#000" stroke-width="0.22" xml:space="preserve">0</text>
<text x="348.83" y="734.29" font-size="9.6" font-family="Liberation Serif" fill="#000" text-anchor="end" transform="rotate(-38 348.83 734.29)" opacity="0.999" stroke="#000" stroke-width="0.22" xml:space="preserve">0</text>
<text x="391.47" y="732.94" font-size="9.6" font-family="Liberation Serif" fill="#000" text-anchor="end" transform="rotate(-38 391.47 732.94)" opacity="0.999" stroke="#000" stroke-width="0.22" xml:space="preserve">5.83</text>
<text x="437.9" y="732.94" font-size="9.6" font-family="Liberation Serif" fill="#000" text-anchor="end" transform="rotate(-38 437.9 732.94)" opacity="0.999" stroke="#000" stroke-width="0.22" xml:space="preserve">11.66</text>
<path d="M344.33 750.69V806.98H428.2M342.33 750.69h2M342.33 778.84h2M342.33 806.98h2" stroke="#747474" stroke-width="1.25" fill="none"/>
<polyline points="344.33,806.98 350.34,803.23 355.03,801.73 357.84,800.41 360.66,801.35 366.29,799.1 371.91,796.66 376.6,792.91 379.04,786.34 380.92,783.53 382.8,787.28 385.05,785.97 387.86,785.4 390.68,783.53 392.93,778.84 394.8,774.71 396.68,779.77 398.56,775.08 400.43,782.59 402.87,791.97 405.68,794.78 408.5,795.35 411.31,797.22 415.07,799.47 418.82,801.73 422.57,803.23 426.32,805.48 428.2,806.98" fill="none" stroke="#8cc63f" stroke-width="0.9" stroke-linejoin="round"/>
<polyline points="344.33,806.98 349.4,805.1 355.03,802.29 360.66,801.73 366.29,800.41 370.98,797.97 374.73,799.47 377.54,797.22 380.36,798.54 383.17,794.22 385.05,793.85 386.92,797.6 389.74,799.1 392.55,797.6 393.86,794.22 395.37,797.6 398.18,798.54 401.93,799.85 405.68,799.47 409.44,797.6 412.25,797.22 415.07,799.47 417.88,800.41 420.32,799.47 422.57,803.23 425.38,805.1 428.2,806.98" fill="none" stroke="#f0141e" stroke-width="1.1" stroke-linejoin="round"/>
<text x="341.03" y="753.79" font-size="9.6" font-family="Liberation Serif" fill="#000" text-anchor="end" opacity="0.999" stroke="#000" stroke-width="0.22" xml:space="preserve">150</text>
<text x="341.03" y="781.94" font-size="9.6" font-family="Liberation Serif" fill="#000" text-anchor="end" opacity="0.999" stroke="#000" stroke-width="0.22" xml:space="preserve">75</text>
<text x="341.03" y="810.08" font-size="9.6" font-family="Liberation Serif" fill="#000" text-anchor="end" opacity="0.999" stroke="#000" stroke-width="0.22" xml:space="preserve">0</text>
<text x="348.83" y="814.03" font-size="9.6" font-family="Liberation Serif" fill="#000" text-anchor="end" transform="rotate(-38 348.83 814.03)" opacity="0.999" stroke="#000" stroke-width="0.22" xml:space="preserve">0</text>
<text x="386.97" y="812.68" font-size="9.6" font-family="Liberation Serif" fill="#000" text-anchor="end" transform="rotate(-38 386.97 812.68)" opacity="0.999" stroke="#000" stroke-width="0.22" xml:space="preserve">6.54</text>
<text x="428.9" y="812.68" font-size="9.6" font-family="Liberation Serif" fill="#000" text-anchor="end" transform="rotate(-38 428.9 812.68)" opacity="0.999" stroke="#000" stroke-width="0.22" xml:space="preserve">13.08</text>
<path d="M344.33 823.86V880.15H432.89M342.33 823.86h2M342.33 852.01h2M342.33 880.15h2" stroke="#747474" stroke-width="1.25" fill="none"/>
<polyline points="344.33,879.77 351.28,877.9 358.78,874.52 366.29,873.58 375.67,874.15 385.05,873.02 392.55,871.71 398.18,869.83 400.99,865.14 402.87,857.64 404.75,852.01 406.25,849.76 408.5,853.88 411.31,857.64 413.19,865.14 416,872.65 420.69,876.77 426.32,878.65 431.95,879.77" fill="none" stroke="#8cc63f" stroke-width="0.9" stroke-linejoin="round"/>
<polyline points="344.33,879.77 350.34,878.27 355.97,875.46 360.66,872.27 363.47,871.14 366.29,871.71 370.04,870.39 373.79,872.27 379.42,872.65 385.05,871.71 390.68,869.83 395.37,867.95 399.12,866.08 401.93,859.51 403.81,850.13 405.68,842.63 407.56,835.12 408.87,827.62 410.38,838.87 412.25,852.01 414.13,863.26 416.94,870.77 420.69,875.46 426.32,878.27 431.95,879.77" fill="none" stroke="#f0141e" stroke-width="1.1" stroke-linejoin="round"/>
<text x="341.03" y="826.96" font-size="9.6" font-family="Liberation Serif" fill="#000" text-anchor="end" opacity="0.999" stroke="#000" stroke-width="0.22" xml:space="preserve">200</text>
<text x="341.03" y="855.11" font-size="9.6" font-family="Liberation Serif" fill="#000" text-anchor="end" opacity="0.999" stroke="#000" stroke-width="0.22" xml:space="preserve">100</text>
<text x="341.03" y="883.25" font-size="9.6" font-family="Liberation Serif" fill="#000" text-anchor="end" opacity="0.999" stroke="#000" stroke-width="0.22" xml:space="preserve">0</text>
<text x="348.83" y="887.2" font-size="9.6" font-family="Liberation Serif" fill="#000" text-anchor="end" transform="rotate(-38 348.83 887.2)" opacity="0.999" stroke="#000" stroke-width="0.22" xml:space="preserve">0</text>
<text x="389.31" y="885.85" font-size="9.6" font-family="Liberation Serif" fill="#000" text-anchor="end" transform="rotate(-38 389.31 885.85)" opacity="0.999" stroke="#000" stroke-width="0.22" xml:space="preserve">7.60</text>
<text x="433.59" y="885.85" font-size="9.6" font-family="Liberation Serif" fill="#000" text-anchor="end" transform="rotate(-38 433.59 885.85)" opacity="0.999" stroke="#000" stroke-width="0.22" xml:space="preserve">15.21</text>
<path d="M345.65 895.33V951.99H433.45M343.65 895.33h2M343.65 923.66h2M343.65 951.99h2" stroke="#747474" stroke-width="1.25" fill="none"/>
<polyline points="345.65,951.99 350.34,948.8 355.03,942.23 359.72,938.48 364.41,936.04 369.1,934.73 371.54,933.79 374.73,936.04 378.48,934.73 382.23,930.98 385.05,929.1 387.86,920.66 389.74,914.09 391.05,909.4 393.49,912.21 395.37,904.71 396.87,899.08 398.56,904.71 400.43,907.52 402.31,914.09 403.81,921.59 406.06,926.29 408.5,931.91 411.31,934.73 414.13,937.17 417.88,940.36 422.57,943.17 427.26,946.92 431.01,950.68 433.45,951.99" fill="none" stroke="#8cc63f" stroke-width="0.9" stroke-linejoin="round"/>
<polyline points="345.65,951.99 350.34,949.74 355.03,945.05 359.72,941.29 364.41,938.48 370.04,937.54 373.79,939.04 379.42,939.42 382.23,937.92 385.05,939.79 388.8,937.92 393.49,937.17 398.18,937.54 403.81,935.67 408.5,937.17 412.25,937.54 416,939.79 419.76,941.29 423.51,944.11 427.26,946.92 431.01,950.68 433.45,951.99" fill="none" stroke="#f0141e" stroke-width="1.1" stroke-linejoin="round"/>
<text x="342.35" y="898.43" font-size="9.6" font-family="Liberation Serif" fill="#000" text-anchor="end" opacity="0.999" stroke="#000" stroke-width="0.22" xml:space="preserve">150</text>
<text x="342.35" y="926.76" font-size="9.6" font-family="Liberation Serif" fill="#000" text-anchor="end" opacity="0.999" stroke="#000" stroke-width="0.22" xml:space="preserve">75</text>
<text x="342.35" y="955.09" font-size="9.6" font-family="Liberation Serif" fill="#000" text-anchor="end" opacity="0.999" stroke="#000" stroke-width="0.22" xml:space="preserve">0</text>
<text x="350.15" y="959.04" font-size="9.6" font-family="Liberation Serif" fill="#000" text-anchor="end" transform="rotate(-38 350.15 959.04)" opacity="0.999" stroke="#000" stroke-width="0.22" xml:space="preserve">0</text>
<text x="390.25" y="957.69" font-size="9.6" font-family="Liberation Serif" fill="#000" text-anchor="end" transform="rotate(-38 390.25 957.69)" opacity="0.999" stroke="#000" stroke-width="0.22" xml:space="preserve">6.89</text>
<text x="434.15" y="957.69" font-size="9.6" font-family="Liberation Serif" fill="#000" text-anchor="end" transform="rotate(-38 434.15 957.69)" opacity="0.999" stroke="#000" stroke-width="0.22" xml:space="preserve">13.79</text>
<path d="M345.65 963.25V1027.97H441.33M343.65 963.25h2M343.65 995.61h2M343.65 1027.97h2" stroke="#747474" stroke-width="1.25" fill="none"/>
<polyline points="345.65,1027.97 353.15,1026.66 358.78,1023.85 364.41,1019.16 370.04,1014.47 374.73,1009.77 376.6,1005.08 378.48,1000.39 380.92,998.52 382.8,990.08 384.11,983.51 385.42,991.95 386.92,985.95 388.8,985.38 390.68,990.08 392.55,994.77 394.43,987.26 395.93,993.83 397.8,986.32 399.12,983.51 400.43,991.95 401.93,1006.02 403.81,1008.84 407.56,1011.65 411.31,1012.21 415.07,1013.53 418.82,1016.34 422.57,1018.22 427.26,1021.97 431.95,1025.72 437.58,1027.97" fill="none" stroke="#8cc63f" stroke-width="0.9" stroke-linejoin="round"/>
<polyline points="345.65,1027.97 353.15,1027.22 358.78,1025.72 364.41,1022.91 370.04,1021.03 374.73,1020.09 376.6,1017.28 377.92,1013.53 379.79,1015.4 382.23,1016.72 385.05,1018.22 388.8,1018.59 391.05,1017.28 393.49,1018.59 396.3,1019.72 399.68,1020.47 401.93,1018.59 403.81,1020.09 407.56,1021.03 412.25,1021.59 416,1021.59 418.44,1019.72 420.69,1022.91 423.51,1024.78 427.26,1026.29 431.95,1027.6 435.7,1027.97" fill="none" stroke="#f0141e" stroke-width="1.1" stroke-linejoin="round"/>
<text x="342.35" y="966.35" font-size="9.6" font-family="Liberation Serif" fill="#000" text-anchor="end" opacity="0.999" stroke="#000" stroke-width="0.22" xml:space="preserve">150</text>
<text x="342.35" y="998.71" font-size="9.6" font-family="Liberation Serif" fill="#000" text-anchor="end" opacity="0.999" stroke="#000" stroke-width="0.22" xml:space="preserve">75</text>
<text x="342.35" y="1031.07" font-size="9.6" font-family="Liberation Serif" fill="#000" text-anchor="end" opacity="0.999" stroke="#000" stroke-width="0.22" xml:space="preserve">0</text>
<text x="350.15" y="1035.02" font-size="9.6" font-family="Liberation Serif" fill="#000" text-anchor="end" transform="rotate(-38 350.15 1035.02)" opacity="0.999" stroke="#000" stroke-width="0.22" xml:space="preserve">0</text>
<text x="394.19" y="1033.67" font-size="9.6" font-family="Liberation Serif" fill="#000" text-anchor="end" transform="rotate(-38 394.19 1033.67)" opacity="0.999" stroke="#000" stroke-width="0.22" xml:space="preserve">7.90</text>
<text x="442.03" y="1033.67" font-size="9.6" font-family="Liberation Serif" fill="#000" text-anchor="end" transform="rotate(-38 442.03 1033.67)" opacity="0.999" stroke="#000" stroke-width="0.22" xml:space="preserve">15.80</text>
<path d="M345.65 1043.55V1103.21H442.65M343.65 1043.55h2M343.65 1073.38h2M343.65 1103.21h2" stroke="#747474" stroke-width="1.25" fill="none"/>
<polyline points="345.65,1103.21 356.9,1102.27 364.41,1099.27 371.91,1097.95 379.42,1097.95 384.11,1096.08 386.92,1089.51 389.17,1076.38 391.05,1065.12 392.55,1059.12 394.43,1060.43 396.3,1070.75 399.12,1082.01 401.93,1090.45 405.68,1095.14 411.31,1097.39 418.82,1098.52 426.32,1097.95 431.95,1098.52 437.58,1100.77 442.65,1102.65" fill="none" stroke="#8cc63f" stroke-width="0.9" stroke-linejoin="round"/>
<polyline points="345.65,1103.21 356.9,1102.65 362.53,1099.83 366.29,1097.02 369.1,1096.64 371.91,1098.52 377.54,1097.39 383.17,1097.02 385.98,1094.2 388.8,1087.64 391.05,1076.38 392.55,1067 394.05,1065.12 395.93,1071.69 398.18,1078.26 400.99,1085.76 403.81,1091.39 406.62,1094.2 409.44,1096.08 412.25,1095.52 415.07,1097.02 420.69,1097.39 423.51,1094.2 426.32,1095.14 430.08,1094.77 432.89,1097.02 436.64,1099.83 440.39,1101.14 442.65,1102.27" fill="none" stroke="#f0141e" stroke-width="1.1" stroke-linejoin="round"/>
<text x="342.35" y="1046.65" font-size="9.6" font-family="Liberation Serif" fill="#000" text-anchor="end" opacity="0.999" stroke="#000" stroke-width="0.22" xml:space="preserve">200</text>
<text x="342.35" y="1076.48" font-size="9.6" font-family="Liberation Serif" fill="#000" text-anchor="end" opacity="0.999" stroke="#000" stroke-width="0.22" xml:space="preserve">100</text>
<text x="342.35" y="1106.31" font-size="9.6" font-family="Liberation Serif" fill="#000" text-anchor="end" opacity="0.999" stroke="#000" stroke-width="0.22" xml:space="preserve">0</text>
<text x="350.15" y="1110.26" font-size="9.6" font-family="Liberation Serif" fill="#000" text-anchor="end" transform="rotate(-38 350.15 1110.26)" opacity="0.999" stroke="#000" stroke-width="0.22" xml:space="preserve">0</text>
<text x="394.85" y="1108.91" font-size="9.6" font-family="Liberation Serif" fill="#000" text-anchor="end" transform="rotate(-38 394.85 1108.91)" opacity="0.999" stroke="#000" stroke-width="0.22" xml:space="preserve">5.99</text>
<text x="443.35" y="1108.91" font-size="9.6" font-family="Liberation Serif" fill="#000" text-anchor="end" transform="rotate(-38 443.35 1108.91)" opacity="0.999" stroke="#000" stroke-width="0.22" xml:space="preserve">11.98</text>
<path d="M819.36 669.42V728.46H913.43M817.36 669.42h2M817.36 698.94h2M817.36 728.46h2" stroke="#747474" stroke-width="1.25" fill="none"/>
<polyline points="819.36,728.46 824.04,725.27 828.73,716.84 833.41,699.97 836.22,689.66 837.72,684.98 839.97,687.79 842.78,692.47 844.66,703.72 846.53,712.15 849.34,714.96 854.96,716.46 860.58,717.77 868.08,717.77 875.58,718.34 883.07,718.34 888.7,716.84 892.44,716.46 896.19,719.09 899.94,723.4 903.69,726.58 909.31,728.46" fill="none" stroke="#8cc63f" stroke-width="0.9" stroke-linejoin="round"/>
<polyline points="819.36,728.46 824.04,724.33 828.73,714.96 833.41,699.97 836.22,689.66 838.1,684.04 839.97,684.98 841.47,684.04 843.34,689.66 844.66,690.6 846.53,697.16 849.34,699.97 853.09,702.22 856.84,704.09 859.65,703.72 862.46,702.22 866.21,702.78 869.96,704.66 873.7,705.97 877.45,704.66 880.26,703.34 883.07,705.97 886.82,705.22 890.57,704.66 894.32,706.53 898.07,711.21 900.88,717.77 903.69,723.96 907.44,728.08 909.31,728.46" fill="none" stroke="#f0141e" stroke-width="1.1" stroke-linejoin="round"/>
<text x="816.06" y="672.52" font-size="9.6" font-family="Liberation Serif" fill="#000" text-anchor="end" opacity="0.999" stroke="#000" stroke-width="0.22" xml:space="preserve">150</text>
<text x="816.06" y="702.04" font-size="9.6" font-family="Liberation Serif" fill="#000" text-anchor="end" opacity="0.999" stroke="#000" stroke-width="0.22" xml:space="preserve">75</text>
<text x="816.06" y="731.56" font-size="9.6" font-family="Liberation Serif" fill="#000" text-anchor="end" opacity="0.999" stroke="#000" stroke-width="0.22" xml:space="preserve">0</text>
<text x="823.86" y="735.86" font-size="9.6" font-family="Liberation Serif" fill="#000" text-anchor="end" transform="rotate(-38 823.86 735.86)" opacity="0.999" stroke="#000" stroke-width="0.22" xml:space="preserve">0</text>
<text x="867.29" y="734.86" font-size="9.6" font-family="Liberation Serif" fill="#000" text-anchor="end" transform="rotate(-38 867.29 734.86)" opacity="0.999" stroke="#000" stroke-width="0.22" xml:space="preserve">8.57</text>
<text x="914.33" y="734.86" font-size="9.6" font-family="Liberation Serif" fill="#000" text-anchor="end" transform="rotate(-38 914.33 734.86)" opacity="0.999" stroke="#000" stroke-width="0.22" xml:space="preserve">17.13</text>
<path d="M819.36 748.7V804.92H909.69M817.36 748.7h2M817.36 776.81h2M817.36 804.92h2" stroke="#747474" stroke-width="1.25" fill="none"/>
<polyline points="819.36,804.92 824.98,802.11 830.6,797.42 834.35,792.74 837.16,791.42 840.91,791.42 844.66,786.18 846.53,769.31 848.97,767.44 851.21,772.12 853.46,774.93 854.96,771.56 857.21,775.87 859.09,769.31 860.96,761.81 863.4,765.19 865.27,768.37 867.14,763.69 869.02,756.19 870.52,753.38 871.83,763.69 873.7,774.93 875.95,777.74 878.39,778.68 880.26,785.24 883.07,788.05 887.76,790.86 892.44,793.67 898.07,796.48 903.69,798.92 909.69,800.79" fill="none" stroke="#8cc63f" stroke-width="0.9" stroke-linejoin="round"/>
<polyline points="819.36,804.92 824.98,801.54 830.6,794.61 834.35,789.93 838.1,787.68 842.78,787.11 845.59,785.24 850.28,783.93 854.96,782.43 859.65,780.18 864.33,778.31 867.14,776.43 869.96,778.68 872.77,781.49 876.51,783.37 880.26,785.24 884.01,784.68 887.76,786.55 892.44,788.43 897.13,791.42 901.81,794.61 906.5,798.36 909.69,800.79" fill="none" stroke="#f0141e" stroke-width="1.1" stroke-linejoin="round"/>
<text x="816.06" y="751.8" font-size="9.6" font-family="Liberation Serif" fill="#000" text-anchor="end" opacity="0.999" stroke="#000" stroke-width="0.22" xml:space="preserve">200</text>
<text x="816.06" y="779.91" font-size="9.6" font-family="Liberation Serif" fill="#000" text-anchor="end" opacity="0.999" stroke="#000" stroke-width="0.22" xml:space="preserve">100</text>
<text x="816.06" y="808.02" font-size="9.6" font-family="Liberation Serif" fill="#000" text-anchor="end" opacity="0.999" stroke="#000" stroke-width="0.22" xml:space="preserve">0</text>
<text x="823.86" y="812.32" font-size="9.6" font-family="Liberation Serif" fill="#000" text-anchor="end" transform="rotate(-38 823.86 812.32)" opacity="0.999" stroke="#000" stroke-width="0.22" xml:space="preserve">0</text>
<text x="865.42" y="811.32" font-size="9.6" font-family="Liberation Serif" fill="#000" text-anchor="end" transform="rotate(-38 865.42 811.32)" opacity="0.999" stroke="#000" stroke-width="0.22" xml:space="preserve">6.02</text>
<text x="910.59" y="811.32" font-size="9.6" font-family="Liberation Serif" fill="#000" text-anchor="end" transform="rotate(-38 910.59 811.32)" opacity="0.999" stroke="#000" stroke-width="0.22" xml:space="preserve">12.05</text>
<path d="M819.36 821.41V876.51H909.31M817.36 821.41h2M817.36 848.96h2M817.36 876.51h2" stroke="#747474" stroke-width="1.25" fill="none"/>
<polyline points="819.36,875.76 828.73,874.63 839.97,873.32 851.21,872.01 862.46,870.88 871.83,869.57 877.45,867.7 882.14,863.95 884.57,857.39 886.45,853.64 888.7,852.71 890.57,848.96 892.44,846.15 894.32,849.9 897.13,859.27 899.94,867.7 903.69,873.32 908.94,875.38" fill="none" stroke="#8cc63f" stroke-width="0.9" stroke-linejoin="round"/>
<polyline points="819.36,875.76 824.98,873.32 830.6,867.7 836.22,861.14 841.84,856.45 847.47,852.71 853.09,850.27 858.71,848.96 864.33,848.96 869.96,847.65 875.58,847.08 879.33,847.65 883.07,845.21 886.82,842.4 890.19,839.03 892.44,840.52 895.25,844.27 898.07,851.77 900.88,861.14 903.69,868.64 906.5,873.32 908.94,875.19" fill="none" stroke="#f0141e" stroke-width="1.1" stroke-linejoin="round"/>
<text x="816.06" y="824.51" font-size="9.6" font-family="Liberation Serif" fill="#000" text-anchor="end" opacity="0.999" stroke="#000" stroke-width="0.22" xml:space="preserve">150</text>
<text x="816.06" y="852.06" font-size="9.6" font-family="Liberation Serif" fill="#000" text-anchor="end" opacity="0.999" stroke="#000" stroke-width="0.22" xml:space="preserve">75</text>
<text x="816.06" y="879.61" font-size="9.6" font-family="Liberation Serif" fill="#000" text-anchor="end" opacity="0.999" stroke="#000" stroke-width="0.22" xml:space="preserve">0</text>
<text x="823.86" y="883.91" font-size="9.6" font-family="Liberation Serif" fill="#000" text-anchor="end" transform="rotate(-38 823.86 883.91)" opacity="0.999" stroke="#000" stroke-width="0.22" xml:space="preserve">0</text>
<text x="865.23" y="882.91" font-size="9.6" font-family="Liberation Serif" fill="#000" text-anchor="end" transform="rotate(-38 865.23 882.91)" opacity="0.999" stroke="#000" stroke-width="0.22" xml:space="preserve">6.73</text>
<text x="910.21" y="882.91" font-size="9.6" font-family="Liberation Serif" fill="#000" text-anchor="end" transform="rotate(-38 910.21 882.91)" opacity="0.999" stroke="#000" stroke-width="0.22" xml:space="preserve">13.46</text>
<path d="M820.29 891.18V946.84H905.94M818.29 891.18h2M818.29 919.01h2M818.29 946.84h2" stroke="#747474" stroke-width="1.25" fill="none"/>
<polyline points="820.29,946.84 824.98,943.09 829.66,935.59 832.1,928.1 833.97,924.72 835.85,929.6 839.03,928.1 842.78,925.28 845.59,920.6 847.84,914.04 849.72,912.17 851.21,910.85 852.71,915.91 854.59,919.66 856.84,917.79 858.34,921.54 859.65,915.91 860.96,920.6 862.46,928.1 865.27,933.72 868.08,931.84 871.83,929.6 874.64,930.91 877.45,932.78 882.14,931.84 886.82,933.72 890.57,936.53 895.25,940.28 899.94,944.03 905.56,946.84" fill="none" stroke="#8cc63f" stroke-width="0.9" stroke-linejoin="round"/>
<polyline points="820.29,946.84 824.98,944.03 829.66,937.47 834.35,931.84 839.97,927.16 845.59,924.72 851.21,923.97 854.96,925.28 857.77,924.72 861.52,927.16 865.27,928.47 869.96,929.6 873.7,929.03 877.45,929.97 880.26,931.84 884.01,932.22 887.76,934.66 890.57,940.28 893.38,944.03 896.19,946.46 899.94,946.84" fill="none" stroke="#f0141e" stroke-width="1.1" stroke-linejoin="round"/>
<text x="816.99" y="894.28" font-size="9.6" font-family="Liberation Serif" fill="#000" text-anchor="end" opacity="0.999" stroke="#000" stroke-width="0.22" xml:space="preserve">150</text>
<text x="816.99" y="922.11" font-size="9.6" font-family="Liberation Serif" fill="#000" text-anchor="end" opacity="0.999" stroke="#000" stroke-width="0.22" xml:space="preserve">75</text>
<text x="816.99" y="949.94" font-size="9.6" font-family="Liberation Serif" fill="#000" text-anchor="end" opacity="0.999" stroke="#000" stroke-width="0.22" xml:space="preserve">0</text>
<text x="824.79" y="954.24" font-size="9.6" font-family="Liberation Serif" fill="#000" text-anchor="end" transform="rotate(-38 824.79 954.24)" opacity="0.999" stroke="#000" stroke-width="0.22" xml:space="preserve">0</text>
<text x="864.01" y="953.24" font-size="9.6" font-family="Liberation Serif" fill="#000" text-anchor="end" transform="rotate(-38 864.01 953.24)" opacity="0.999" stroke="#000" stroke-width="0.22" xml:space="preserve">6.16</text>
<text x="906.84" y="953.24" font-size="9.6" font-family="Liberation Serif" fill="#000" text-anchor="end" transform="rotate(-38 906.84 953.24)" opacity="0.999" stroke="#000" stroke-width="0.22" xml:space="preserve">12.32</text>
<path d="M820.29 963.14V1023.67H903.69M818.29 963.14h2M818.29 993.41h2M818.29 1023.67h2" stroke="#747474" stroke-width="1.25" fill="none"/>
<polyline points="820.29,1023.67 829.66,1022.74 834.35,1018.05 838.1,1014.68 841.84,1015.8 846.53,1014.68 851.21,1011.49 854.03,1004.93 856.84,993.69 858.71,979.63 860.21,984.32 861.52,989.94 863.4,988.07 865.27,994.63 867.14,997.81 869.96,991.81 871.83,989.94 873.33,993.69 874.64,989.94 875.95,994.63 877.45,1004.93 880.26,1009.62 884.95,1011.49 889.63,1013.93 894.32,1014.3 898.07,1018.05 902.19,1023.67" fill="none" stroke="#8cc63f" stroke-width="0.9" stroke-linejoin="round"/>
<polyline points="820.29,1023.67 827.79,1023.3 832.47,1018.05 837.16,1010.55 841.84,1003.06 847.47,999.69 853.09,997.44 857.77,994.63 861.52,993.69 865.27,994.06 869.02,995.56 872.77,997.44 876.51,999.31 881.2,1002.12 884.95,1002.12 888.7,1000.25 891.51,1002.12 894.32,1004 897.13,1008.68 899.94,1018.05 902.19,1023.67" fill="none" stroke="#f0141e" stroke-width="1.1" stroke-linejoin="round"/>
<text x="816.99" y="966.24" font-size="9.6" font-family="Liberation Serif" fill="#000" text-anchor="end" opacity="0.999" stroke="#000" stroke-width="0.22" xml:space="preserve">150</text>
<text x="816.99" y="996.51" font-size="9.6" font-family="Liberation Serif" fill="#000" text-anchor="end" opacity="0.999" stroke="#000" stroke-width="0.22" xml:space="preserve">75</text>
<text x="816.99" y="1026.77" font-size="9.6" font-family="Liberation Serif" fill="#000" text-anchor="end" opacity="0.999" stroke="#000" stroke-width="0.22" xml:space="preserve">0</text>
<text x="824.79" y="1031.07" font-size="9.6" font-family="Liberation Serif" fill="#000" text-anchor="end" transform="rotate(-38 824.79 1031.07)" opacity="0.999" stroke="#000" stroke-width="0.22" xml:space="preserve">0</text>
<text x="862.89" y="1030.07" font-size="9.6" font-family="Liberation Serif" fill="#000" text-anchor="end" transform="rotate(-38 862.89 1030.07)" opacity="0.999" stroke="#000" stroke-width="0.22" xml:space="preserve">7.41</text>
<text x="904.59" y="1030.07" font-size="9.6" font-family="Liberation Serif" fill="#000" text-anchor="end" transform="rotate(-38 904.59 1030.07)" opacity="0.999" stroke="#000" stroke-width="0.22" xml:space="preserve">14.82</text>
<path d="M820.29 1037.73V1094.33H904.63M818.29 1037.73h2M818.29 1066.03h2M818.29 1094.33h2" stroke="#747474" stroke-width="1.25" fill="none"/>
<polyline points="820.29,1094.33 826.85,1092.64 832.47,1088.89 838.1,1087.39 845.59,1085.89 854.96,1085.52 864.33,1084.58 871.83,1083.27 877.45,1081.39 879.33,1074.27 881.2,1068.65 883.07,1057.41 884.57,1050.85 885.88,1052.72 887.2,1057.41 888.7,1055.53 891.51,1063.03 893.38,1072.4 895.25,1081.77 897.13,1088.33 899.94,1092.08 904.63,1093.39" fill="none" stroke="#8cc63f" stroke-width="0.9" stroke-linejoin="round"/>
<polyline points="820.29,1094.33 826.85,1093.01 830.6,1089.27 833.41,1081.77 836.22,1075.77 839.97,1073.9 842.78,1076.15 846.53,1075.21 849.34,1078.02 852.15,1079.52 854.96,1077.08 858.71,1076.15 862.46,1074.27 866.21,1073.34 869.96,1069.59 872.77,1063.97 875.58,1064.9 878.39,1062.09 881.2,1060.22 883.07,1054.6 884.57,1050.85 886.82,1050.28 888.7,1055.53 891.51,1061.15 893.38,1070.52 895.25,1079.9 897.13,1087.39 899.94,1091.14 904.63,1093.01" fill="none" stroke="#f0141e" stroke-width="1.1" stroke-linejoin="round"/>
<text x="816.99" y="1040.83" font-size="9.6" font-family="Liberation Serif" fill="#000" text-anchor="end" opacity="0.999" stroke="#000" stroke-width="0.22" xml:space="preserve">150</text>
<text x="816.99" y="1069.13" font-size="9.6" font-family="Liberation Serif" fill="#000" text-anchor="end" opacity="0.999" stroke="#000" stroke-width="0.22" xml:space="preserve">75</text>
<text x="816.99" y="1097.43" font-size="9.6" font-family="Liberation Serif" fill="#000" text-anchor="end" opacity="0.999" stroke="#000" stroke-width="0.22" xml:space="preserve">0</text>
<text x="824.79" y="1101.73" font-size="9.6" font-family="Liberation Serif" fill="#000" text-anchor="end" transform="rotate(-38 824.79 1101.73)" opacity="0.999" stroke="#000" stroke-width="0.22" xml:space="preserve">0</text>
<text x="863.36" y="1100.73" font-size="9.6" font-family="Liberation Serif" fill="#000" text-anchor="end" transform="rotate(-38 863.36 1100.73)" opacity="0.999" stroke="#000" stroke-width="0.22" xml:space="preserve">5.83</text>
<text x="905.53" y="1100.73" font-size="9.6" font-family="Liberation Serif" fill="#000" text-anchor="end" transform="rotate(-38 905.53 1100.73)" opacity="0.999" stroke="#000" stroke-width="0.22" xml:space="preserve">11.65</text>
<path d="M339 14H348" stroke="#f0141e" stroke-width="1.2"/>
<path d="M403.5 14H414" stroke="#8cc63f" stroke-width="1"/>
<text x="350.3" y="17.8" font-size="11.4" font-family="Liberation Serif" fill="#000" opacity="0.999" stroke="#000" stroke-width="0.22" xml:space="preserve">H3K27me3</text>
<text x="417" y="17.8" font-size="11.4" font-family="Liberation Serif" fill="#000" opacity="0.999" stroke="#000" stroke-width="0.22" xml:space="preserve"><tspan font-style="italic">Xist</tspan></text>
<path d="M335.3 659.7H345.6" stroke="#f0141e" stroke-width="1.2"/>
<path d="M402 659.7H416.6" stroke="#8cc63f" stroke-width="1"/>
<text x="348.8" y="663.5" font-size="11.4" font-family="Liberation Serif" fill="#000" opacity="0.999" stroke="#000" stroke-width="0.22" xml:space="preserve">H4K20me1</text>
<text x="419.8" y="663.5" font-size="11.4" font-family="Liberation Serif" fill="#000" opacity="0.999" stroke="#000" stroke-width="0.22" xml:space="preserve"><tspan font-style="italic">Xist</tspan></text>
<path d="M813.4 661H822.7" stroke="#f0141e" stroke-width="1.2"/>
<path d="M892 661H901.4" stroke="#8cc63f" stroke-width="1"/>
<text x="824" y="664.8" font-size="11.4" font-family="Liberation Serif" fill="#000" opacity="0.999" stroke="#000" stroke-width="0.22" xml:space="preserve">Macro H2A.1</text>
<text x="904.3" y="664.8" font-size="11.4" font-family="Liberation Serif" fill="#000" opacity="0.999" stroke="#000" stroke-width="0.22" xml:space="preserve"><tspan font-style="italic">Xist</tspan></text>
<text x="324.3" y="227" font-size="11.4" font-family="Liberation Serif" fill="#000" text-anchor="middle" transform="rotate(-90 324.3 227)" textLength="64" lengthAdjust="spacingAndGlyphs" opacity="0.999" stroke="#000" stroke-width="0.22" xml:space="preserve">Intensity (a.u)</text>
<text x="321.9" y="880.6" font-size="11.4" font-family="Liberation Serif" fill="#000" text-anchor="middle" transform="rotate(-90 321.9 880.6)" textLength="65" lengthAdjust="spacingAndGlyphs" opacity="0.999" stroke="#000" stroke-width="0.22" xml:space="preserve">Intensity (a.u)</text>
<text x="797.3" y="876.8" font-size="11.4" font-family="Liberation Serif" fill="#000" text-anchor="middle" transform="rotate(-90 797.3 876.8)" textLength="65" lengthAdjust="spacingAndGlyphs" opacity="0.999" stroke="#000" stroke-width="0.22" xml:space="preserve">Intensity (a.u)</text>
<text x="383.2" y="479.8" font-size="11.5" font-family="Liberation Serif" fill="#000" text-anchor="middle" opacity="0.999" stroke="#000" stroke-width="0.22" xml:space="preserve">Distance (μm)</text>
<text x="384.7" y="1131.5" font-size="11.5" font-family="Liberation Serif" fill="#000" text-anchor="middle" opacity="0.999" stroke="#000" stroke-width="0.22" xml:space="preserve">Distance (μm)</text>
<text x="859.8" y="1125.8" font-size="11.5" font-family="Liberation Serif" fill="#000" text-anchor="middle" opacity="0.999" stroke="#000" stroke-width="0.22" xml:space="preserve">Distance (μm)</text>
<rect x="47" y="468.22" width="15.4" height="77.48" fill="#557fa6"/>
<rect x="47" y="463.8" width="15.4" height="4.42" fill="#a5cd39"/>
<text x="57.9" y="552" font-size="10.1" font-family="Liberation Serif" fill="#000" text-anchor="end" transform="rotate(-90 57.9 552)" opacity="0.999" stroke="#000" stroke-width="0.22" xml:space="preserve">Compact <tspan font-style="italic">Xist</tspan></text>
<rect x="68.22" y="474.2" width="15.4" height="71.5" fill="#557fa6"/>
<rect x="68.22" y="463.8" width="15.4" height="10.4" fill="#a5cd39"/>
<text x="79.12" y="552" font-size="10.1" font-family="Liberation Serif" fill="#000" text-anchor="end" transform="rotate(-90 79.12 552)" opacity="0.999" stroke="#000" stroke-width="0.22" xml:space="preserve">Compact <tspan font-style="italic">Xist</tspan></text>
<rect x="89.44" y="515.56" width="15.4" height="30.14" fill="#557fa6"/>
<rect x="89.44" y="463.8" width="15.4" height="51.76" fill="#a5cd39"/>
<text x="100.34" y="552" font-size="10.1" font-family="Liberation Serif" fill="#000" text-anchor="end" transform="rotate(-90 100.34 552)" opacity="0.999" stroke="#000" stroke-width="0.22" xml:space="preserve">Dispersed <tspan font-style="italic">Xist</tspan></text>
<rect x="110.66" y="472.4" width="15.4" height="73.3" fill="#557fa6"/>
<rect x="110.66" y="463.8" width="15.4" height="8.6" fill="#a5cd39"/>
<text x="121.56" y="552" font-size="10.1" font-family="Liberation Serif" fill="#000" text-anchor="end" transform="rotate(-90 121.56 552)" opacity="0.999" stroke="#000" stroke-width="0.22" xml:space="preserve">Compact <tspan font-style="italic">Xist</tspan></text>
<rect x="131.88" y="471.17" width="15.4" height="74.53" fill="#557fa6"/>
<rect x="131.88" y="463.8" width="15.4" height="7.37" fill="#a5cd39"/>
<text x="142.78" y="552" font-size="10.1" font-family="Liberation Serif" fill="#000" text-anchor="end" transform="rotate(-90 142.78 552)" opacity="0.999" stroke="#000" stroke-width="0.22" xml:space="preserve">Compact <tspan font-style="italic">Xist</tspan></text>
<rect x="153.1" y="517.04" width="15.4" height="28.67" fill="#557fa6"/>
<rect x="153.1" y="463.8" width="15.4" height="53.24" fill="#a5cd39"/>
<text x="164" y="552" font-size="10.1" font-family="Liberation Serif" fill="#000" text-anchor="end" transform="rotate(-90 164 552)" opacity="0.999" stroke="#000" stroke-width="0.22" xml:space="preserve">Dispersed <tspan font-style="italic">Xist</tspan></text>
<rect x="174.32" y="468.71" width="15.4" height="76.99" fill="#557fa6"/>
<rect x="174.32" y="463.8" width="15.4" height="4.91" fill="#a5cd39"/>
<text x="185.22" y="552" font-size="10.1" font-family="Liberation Serif" fill="#000" text-anchor="end" transform="rotate(-90 185.22 552)" opacity="0.999" stroke="#000" stroke-width="0.22" xml:space="preserve">Compact <tspan font-style="italic">Xist</tspan></text>
<rect x="195.54" y="516.22" width="15.4" height="29.48" fill="#557fa6"/>
<rect x="195.54" y="463.8" width="15.4" height="52.42" fill="#a5cd39"/>
<text x="206.44" y="552" font-size="10.1" font-family="Liberation Serif" fill="#000" text-anchor="end" transform="rotate(-90 206.44 552)" opacity="0.999" stroke="#000" stroke-width="0.22" xml:space="preserve">Dispersed <tspan font-style="italic">Xist</tspan></text>
<rect x="216.76" y="468.22" width="15.4" height="77.48" fill="#557fa6"/>
<rect x="216.76" y="463.8" width="15.4" height="4.42" fill="#a5cd39"/>
<text x="227.66" y="552" font-size="10.1" font-family="Liberation Serif" fill="#000" text-anchor="end" transform="rotate(-90 227.66 552)" opacity="0.999" stroke="#000" stroke-width="0.22" xml:space="preserve">Compact <tspan font-style="italic">Xist</tspan></text>
<path d="M45.5 463.8V545.7H233.16M43 463.8h2.5M43 504.75h2.5M43 545.7h2.5" stroke="#555" stroke-width="1" fill="none"/>
<path d="M64.2 546.2V613" stroke="#3761cb" stroke-width="1.3"/>
<path d="M107.4 546.2V613" stroke="#3761cb" stroke-width="1.3"/>
<path d="M129.2 546.2V613" stroke="#3761cb" stroke-width="1.3"/>
<path d="M171.6 546.2V613" stroke="#3761cb" stroke-width="1.3"/>
<path d="M213.7 546.2V613" stroke="#3761cb" stroke-width="1.3"/>
<text x="42.3" y="468.7" font-size="14.6" font-family="Liberation Serif" fill="#000" text-anchor="end" opacity="0.999" stroke="#000" stroke-width="0.22" xml:space="preserve">100</text>
<text x="42.3" y="509.65" font-size="14.6" font-family="Liberation Serif" fill="#000" text-anchor="end" opacity="0.999" stroke="#000" stroke-width="0.22" xml:space="preserve">50</text>
<text x="42.3" y="550.6" font-size="14.6" font-family="Liberation Serif" fill="#000" text-anchor="end" opacity="0.999" stroke="#000" stroke-width="0.22" xml:space="preserve">0</text>
<text x="15.8" y="505.75" font-size="12.7" font-family="Liberation Serif" fill="#000" text-anchor="middle" transform="rotate(-90 15.8 505.75)" opacity="0.999" stroke="#000" stroke-width="0.22" xml:space="preserve">% of nuclei</text>
<text x="49" y="621.3" font-size="8.4" font-family="Liberation Serif" fill="#000" opacity="0.999" stroke="#000" stroke-width="0.22" xml:space="preserve">WT</text>
<text x="72.8" y="621.3" font-size="8.4" font-family="Liberation Serif" fill="#000" opacity="0.999" stroke="#000" stroke-width="0.22" xml:space="preserve">D1 <tspan font-size="80%">Δ</tspan>Xp</text>
<text x="112" y="620.8" font-size="8.4" font-family="Liberation Serif" fill="#000" opacity="0.999" stroke="#000" stroke-width="0.22" xml:space="preserve">D1</text>
<text x="112" y="631" font-size="8.4" font-family="Liberation Serif" fill="#000" opacity="0.999" stroke="#000" stroke-width="0.22" xml:space="preserve"><tspan font-size="80%">Δ</tspan>Xm</text>
<text x="137" y="621.3" font-size="8.4" font-family="Liberation Serif" fill="#000" opacity="0.999" stroke="#000" stroke-width="0.22" xml:space="preserve">D3 <tspan font-size="80%">Δ</tspan>Xp</text>
<text x="178" y="621.3" font-size="8.4" font-family="Liberation Serif" fill="#000" opacity="0.999" stroke="#000" stroke-width="0.22" xml:space="preserve">D3 <tspan font-size="80%">Δ</tspan>Xp</text>
<text x="178" y="631.5" font-size="8.4" font-family="Liberation Serif" fill="#000" opacity="0.999" stroke="#000" stroke-width="0.22" xml:space="preserve"><tspan font-size="80%">Δ</tspan>Xm</text>
<text x="219" y="621.3" font-size="8.4" font-family="Liberation Serif" fill="#000" opacity="0.999" stroke="#000" stroke-width="0.22" xml:space="preserve">D3 <tspan font-size="80%">Δ</tspan>Xm</text>
<rect x="528.4" y="468.15" width="16.5" height="81.95" fill="#557fa6"/>
<rect x="528.4" y="466.9" width="16.5" height="1.25" fill="#a5cd39"/>
<text x="539.85" y="555" font-size="10.1" font-family="Liberation Serif" fill="#000" text-anchor="end" transform="rotate(-90 539.85 555)" opacity="0.999" stroke="#000" stroke-width="0.22" xml:space="preserve">Compact <tspan font-style="italic">Xist</tspan></text>
<rect x="551.15" y="466.9" width="16.5" height="83.2" fill="#557fa6"/>
<rect x="551.15" y="466.9" width="16.5" height="0" fill="#a5cd39"/>
<text x="562.6" y="555" font-size="10.1" font-family="Liberation Serif" fill="#000" text-anchor="end" transform="rotate(-90 562.6 555)" opacity="0.999" stroke="#000" stroke-width="0.22" xml:space="preserve">Compact <tspan font-style="italic">Xist</tspan></text>
<rect x="573.9" y="470.23" width="16.5" height="79.87" fill="#557fa6"/>
<rect x="573.9" y="466.9" width="16.5" height="3.33" fill="#a5cd39"/>
<text x="585.35" y="555" font-size="10.1" font-family="Liberation Serif" fill="#000" text-anchor="end" transform="rotate(-90 585.35 555)" opacity="0.999" stroke="#000" stroke-width="0.22" xml:space="preserve">Dispersed <tspan font-style="italic">Xist</tspan></text>
<rect x="596.65" y="466.9" width="16.5" height="83.2" fill="#557fa6"/>
<rect x="596.65" y="466.9" width="16.5" height="0" fill="#a5cd39"/>
<text x="608.1" y="555" font-size="10.1" font-family="Liberation Serif" fill="#000" text-anchor="end" transform="rotate(-90 608.1 555)" opacity="0.999" stroke="#000" stroke-width="0.22" xml:space="preserve">Compact <tspan font-style="italic">Xist</tspan></text>
<rect x="619.4" y="467.73" width="16.5" height="82.37" fill="#557fa6"/>
<rect x="619.4" y="466.9" width="16.5" height="0.83" fill="#a5cd39"/>
<text x="630.85" y="555" font-size="10.1" font-family="Liberation Serif" fill="#000" text-anchor="end" transform="rotate(-90 630.85 555)" opacity="0.999" stroke="#000" stroke-width="0.22" xml:space="preserve">Compact <tspan font-style="italic">Xist</tspan></text>
<rect x="642.15" y="471.06" width="16.5" height="79.04" fill="#557fa6"/>
<rect x="642.15" y="466.9" width="16.5" height="4.16" fill="#a5cd39"/>
<text x="653.6" y="555" font-size="10.1" font-family="Liberation Serif" fill="#000" text-anchor="end" transform="rotate(-90 653.6 555)" opacity="0.999" stroke="#000" stroke-width="0.22" xml:space="preserve">Dispersed <tspan font-style="italic">Xist</tspan></text>
<rect x="664.9" y="467.73" width="16.5" height="82.37" fill="#557fa6"/>
<rect x="664.9" y="466.9" width="16.5" height="0.83" fill="#a5cd39"/>
<text x="676.35" y="555" font-size="10.1" font-family="Liberation Serif" fill="#000" text-anchor="end" transform="rotate(-90 676.35 555)" opacity="0.999" stroke="#000" stroke-width="0.22" xml:space="preserve">Compact <tspan font-style="italic">Xist</tspan></text>
<rect x="687.65" y="471.06" width="16.5" height="79.04" fill="#557fa6"/>
<rect x="687.65" y="466.9" width="16.5" height="4.16" fill="#a5cd39"/>
<text x="699.1" y="555" font-size="10.1" font-family="Liberation Serif" fill="#000" text-anchor="end" transform="rotate(-90 699.1 555)" opacity="0.999" stroke="#000" stroke-width="0.22" xml:space="preserve">Dispersed <tspan font-style="italic">Xist</tspan></text>
<rect x="710.4" y="466.9" width="16.5" height="83.2" fill="#557fa6"/>
<rect x="710.4" y="466.9" width="16.5" height="0" fill="#a5cd39"/>
<text x="721.85" y="555" font-size="10.1" font-family="Liberation Serif" fill="#000" text-anchor="end" transform="rotate(-90 721.85 555)" opacity="0.999" stroke="#000" stroke-width="0.22" xml:space="preserve">Compact <tspan font-style="italic">Xist</tspan></text>
<path d="M526.8 466.9V550.1H727.9M524.3 466.9h2.5M524.3 508.5h2.5M524.3 550.1h2.5" stroke="#555" stroke-width="1" fill="none"/>
<path d="M548.1 550.6V624" stroke="#3761cb" stroke-width="1.3"/>
<path d="M593.6 550.6V624" stroke="#3761cb" stroke-width="1.3"/>
<path d="M616.5 550.6V624" stroke="#3761cb" stroke-width="1.3"/>
<path d="M661.5 550.6V624" stroke="#3761cb" stroke-width="1.3"/>
<path d="M707.5 550.6V624" stroke="#3761cb" stroke-width="1.3"/>
<text x="524.5" y="471.8" font-size="14.6" font-family="Liberation Serif" fill="#000" text-anchor="end" opacity="0.999" stroke="#000" stroke-width="0.22" xml:space="preserve">100</text>
<text x="524.5" y="513.4" font-size="14.6" font-family="Liberation Serif" fill="#000" text-anchor="end" opacity="0.999" stroke="#000" stroke-width="0.22" xml:space="preserve">50</text>
<text x="524.5" y="555" font-size="14.6" font-family="Liberation Serif" fill="#000" text-anchor="end" opacity="0.999" stroke="#000" stroke-width="0.22" xml:space="preserve">0</text>
<text x="495.8" y="509.5" font-size="12.7" font-family="Liberation Serif" fill="#000" text-anchor="middle" transform="rotate(-90 495.8 509.5)" opacity="0.999" stroke="#000" stroke-width="0.22" xml:space="preserve">% of nuclei</text>
<text x="529.4" y="625.8" font-size="8.4" font-family="Liberation Serif" fill="#000" opacity="0.999" stroke="#000" stroke-width="0.22" xml:space="preserve">WT</text>
<text x="556.7" y="625.8" font-size="8.4" font-family="Liberation Serif" fill="#000" opacity="0.999" stroke="#000" stroke-width="0.22" xml:space="preserve">D1 <tspan font-size="80%">Δ</tspan>Xp</text>
<text x="597.5" y="625.3" font-size="8.4" font-family="Liberation Serif" fill="#000" opacity="0.999" stroke="#000" stroke-width="0.22" xml:space="preserve">D1</text>
<text x="597.5" y="636" font-size="8.4" font-family="Liberation Serif" fill="#000" opacity="0.999" stroke="#000" stroke-width="0.22" xml:space="preserve"><tspan font-size="80%">Δ</tspan>Xm</text>
<text x="624.3" y="625.8" font-size="8.4" font-family="Liberation Serif" fill="#000" opacity="0.999" stroke="#000" stroke-width="0.22" xml:space="preserve">D3 <tspan font-size="80%">Δ</tspan>Xp</text>
<text x="667.7" y="625.8" font-size="8.4" font-family="Liberation Serif" fill="#000" opacity="0.999" stroke="#000" stroke-width="0.22" xml:space="preserve">D3 <tspan font-size="80%">Δ</tspan>Xp</text>
<text x="667.7" y="636.5" font-size="8.4" font-family="Liberation Serif" fill="#000" opacity="0.999" stroke="#000" stroke-width="0.22" xml:space="preserve"><tspan font-size="80%">Δ</tspan>Xm</text>
<text x="712.7" y="625.8" font-size="8.4" font-family="Liberation Serif" fill="#000" opacity="0.999" stroke="#000" stroke-width="0.22" xml:space="preserve">D3 <tspan font-size="80%">Δ</tspan>Xm</text>
<rect x="45.5" y="1126.37" width="15.1" height="69.73" fill="#557fa6"/>
<rect x="45.5" y="1116.5" width="15.1" height="9.87" fill="#a5cd39"/>
<text x="56.25" y="1201.8" font-size="10.1" font-family="Liberation Serif" fill="#000" text-anchor="end" transform="rotate(-90 56.25 1201.8)" opacity="0.999" stroke="#000" stroke-width="0.22" xml:space="preserve">Compact <tspan font-style="italic">Xist</tspan></text>
<rect x="66.72" y="1126.93" width="15.1" height="69.17" fill="#557fa6"/>
<rect x="66.72" y="1116.5" width="15.1" height="10.43" fill="#a5cd39"/>
<text x="77.47" y="1201.8" font-size="10.1" font-family="Liberation Serif" fill="#000" text-anchor="end" transform="rotate(-90 77.47 1201.8)" opacity="0.999" stroke="#000" stroke-width="0.22" xml:space="preserve">Compact <tspan font-style="italic">Xist</tspan></text>
<rect x="87.94" y="1194.51" width="15.1" height="1.59" fill="#557fa6"/>
<rect x="87.94" y="1116.5" width="15.1" height="78.01" fill="#a5cd39"/>
<text x="98.69" y="1201.8" font-size="10.1" font-family="Liberation Serif" fill="#000" text-anchor="end" transform="rotate(-90 98.69 1201.8)" opacity="0.999" stroke="#000" stroke-width="0.22" xml:space="preserve">Dispersed <tspan font-style="italic">Xist</tspan></text>
<rect x="109.16" y="1127.17" width="15.1" height="68.93" fill="#557fa6"/>
<rect x="109.16" y="1116.5" width="15.1" height="10.67" fill="#a5cd39"/>
<text x="119.91" y="1201.8" font-size="10.1" font-family="Liberation Serif" fill="#000" text-anchor="end" transform="rotate(-90 119.91 1201.8)" opacity="0.999" stroke="#000" stroke-width="0.22" xml:space="preserve">Compact <tspan font-style="italic">Xist</tspan></text>
<rect x="130.38" y="1125.89" width="15.1" height="70.21" fill="#557fa6"/>
<rect x="130.38" y="1116.5" width="15.1" height="9.39" fill="#a5cd39"/>
<text x="141.13" y="1201.8" font-size="10.1" font-family="Liberation Serif" fill="#000" text-anchor="end" transform="rotate(-90 141.13 1201.8)" opacity="0.999" stroke="#000" stroke-width="0.22" xml:space="preserve">Compact <tspan font-style="italic">Xist</tspan></text>
<rect x="151.6" y="1192.76" width="15.1" height="3.34" fill="#557fa6"/>
<rect x="151.6" y="1116.5" width="15.1" height="76.26" fill="#a5cd39"/>
<text x="162.35" y="1201.8" font-size="10.1" font-family="Liberation Serif" fill="#000" text-anchor="end" transform="rotate(-90 162.35 1201.8)" opacity="0.999" stroke="#000" stroke-width="0.22" xml:space="preserve">Dispersed <tspan font-style="italic">Xist</tspan></text>
<rect x="172.82" y="1125.1" width="15.1" height="71" fill="#557fa6"/>
<rect x="172.82" y="1116.5" width="15.1" height="8.6" fill="#a5cd39"/>
<text x="183.57" y="1201.8" font-size="10.1" font-family="Liberation Serif" fill="#000" text-anchor="end" transform="rotate(-90 183.57 1201.8)" opacity="0.999" stroke="#000" stroke-width="0.22" xml:space="preserve">Compact <tspan font-style="italic">Xist</tspan></text>
<rect x="194.04" y="1185.19" width="15.1" height="10.91" fill="#557fa6"/>
<rect x="194.04" y="1116.5" width="15.1" height="68.69" fill="#a5cd39"/>
<text x="204.79" y="1201.8" font-size="10.1" font-family="Liberation Serif" fill="#000" text-anchor="end" transform="rotate(-90 204.79 1201.8)" opacity="0.999" stroke="#000" stroke-width="0.22" xml:space="preserve">Dispersed <tspan font-style="italic">Xist</tspan></text>
<rect x="215.26" y="1131.62" width="15.1" height="64.48" fill="#557fa6"/>
<rect x="215.26" y="1116.5" width="15.1" height="15.12" fill="#a5cd39"/>
<text x="226.01" y="1201.8" font-size="10.1" font-family="Liberation Serif" fill="#000" text-anchor="end" transform="rotate(-90 226.01 1201.8)" opacity="0.999" stroke="#000" stroke-width="0.22" xml:space="preserve">Compact <tspan font-style="italic">Xist</tspan></text>
<path d="M44.2 1116.5V1196.1H231.36M41.7 1116.5h2.5M41.7 1156.3h2.5M41.7 1196.1h2.5" stroke="#555" stroke-width="1" fill="none"/>
<path d="M63.2 1196.6V1263.7" stroke="#3761cb" stroke-width="1.3"/>
<path d="M106.1 1196.6V1263.7" stroke="#3761cb" stroke-width="1.3"/>
<path d="M126.6 1196.6V1263.7" stroke="#3761cb" stroke-width="1.3"/>
<path d="M169.5 1196.6V1263.7" stroke="#3761cb" stroke-width="1.3"/>
<path d="M211.9 1196.6V1263.7" stroke="#3761cb" stroke-width="1.3"/>
<text x="41" y="1121.4" font-size="14.6" font-family="Liberation Serif" fill="#000" text-anchor="end" opacity="0.999" stroke="#000" stroke-width="0.22" xml:space="preserve">100</text>
<text x="41" y="1161.2" font-size="14.6" font-family="Liberation Serif" fill="#000" text-anchor="end" opacity="0.999" stroke="#000" stroke-width="0.22" xml:space="preserve">50</text>
<text x="41" y="1201" font-size="14.6" font-family="Liberation Serif" fill="#000" text-anchor="end" opacity="0.999" stroke="#000" stroke-width="0.22" xml:space="preserve">0</text>
<text x="11.4" y="1157.3" font-size="12.7" font-family="Liberation Serif" fill="#000" text-anchor="middle" transform="rotate(-90 11.4 1157.3)" opacity="0.999" stroke="#000" stroke-width="0.22" xml:space="preserve">% of nuclei</text>
<text x="45.5" y="1270.4" font-size="8.4" font-family="Liberation Serif" fill="#000" opacity="0.999" stroke="#000" stroke-width="0.22" xml:space="preserve">WT</text>
<text x="68.9" y="1270.4" font-size="8.4" font-family="Liberation Serif" fill="#000" opacity="0.999" stroke="#000" stroke-width="0.22" xml:space="preserve">D1 <tspan font-size="80%">Δ</tspan>Xp</text>
<text x="110.5" y="1269.9" font-size="8.4" font-family="Liberation Serif" fill="#000" opacity="0.999" stroke="#000" stroke-width="0.22" xml:space="preserve">D1</text>
<text x="110.5" y="1279.6" font-size="8.4" font-family="Liberation Serif" fill="#000" opacity="0.999" stroke="#000" stroke-width="0.22" xml:space="preserve"><tspan font-size="80%">Δ</tspan>Xm</text>
<text x="133.1" y="1270.4" font-size="8.4" font-family="Liberation Serif" fill="#000" opacity="0.999" stroke="#000" stroke-width="0.22" xml:space="preserve">D3 <tspan font-size="80%">Δ</tspan>Xp</text>
<text x="178.1" y="1270.4" font-size="8.4" font-family="Liberation Serif" fill="#000" opacity="0.999" stroke="#000" stroke-width="0.22" xml:space="preserve">D3 <tspan font-size="80%">Δ</tspan>Xp</text>
<text x="178.1" y="1280.1" font-size="8.4" font-family="Liberation Serif" fill="#000" opacity="0.999" stroke="#000" stroke-width="0.22" xml:space="preserve"><tspan font-size="80%">Δ</tspan>Xm</text>
<text x="218.4" y="1270.4" font-size="8.4" font-family="Liberation Serif" fill="#000" opacity="0.999" stroke="#000" stroke-width="0.22" xml:space="preserve">D3 <tspan font-size="80%">Δ</tspan>Xm</text>
<rect x="509.8" y="1115.98" width="15.4" height="80.12" fill="#557fa6"/>
<rect x="509.8" y="1115.98" width="15.4" height="0" fill="#9b9b9b"/>
<rect x="509.8" y="1112.9" width="15.4" height="3.08" fill="#a5cd39"/>
<text x="520.7" y="1201.3" font-size="10.1" font-family="Liberation Serif" fill="#000" text-anchor="end" transform="rotate(-90 520.7 1201.3)" opacity="0.999" stroke="#000" stroke-width="0.22" xml:space="preserve">Compact <tspan font-style="italic">Xist</tspan></text>
<rect x="531.31" y="1114.23" width="15.4" height="81.87" fill="#557fa6"/>
<rect x="531.31" y="1113.57" width="15.4" height="0.67" fill="#9b9b9b"/>
<rect x="531.31" y="1112.9" width="15.4" height="0.67" fill="#a5cd39"/>
<text x="542.21" y="1201.3" font-size="10.1" font-family="Liberation Serif" fill="#000" text-anchor="end" transform="rotate(-90 542.21 1201.3)" opacity="0.999" stroke="#000" stroke-width="0.22" xml:space="preserve">Compact <tspan font-style="italic">Xist</tspan></text>
<rect x="552.82" y="1196.1" width="15.4" height="0" fill="#557fa6"/>
<rect x="552.82" y="1127.04" width="15.4" height="69.06" fill="#9b9b9b"/>
<rect x="552.82" y="1112.9" width="15.4" height="14.14" fill="#a5cd39"/>
<text x="563.72" y="1201.3" font-size="10.1" font-family="Liberation Serif" fill="#000" text-anchor="end" transform="rotate(-90 563.72 1201.3)" opacity="0.999" stroke="#000" stroke-width="0.22" xml:space="preserve">Dispersed <tspan font-style="italic">Xist</tspan></text>
<rect x="574.33" y="1119.14" width="15.4" height="76.96" fill="#557fa6"/>
<rect x="574.33" y="1115.98" width="15.4" height="3.16" fill="#9b9b9b"/>
<rect x="574.33" y="1112.9" width="15.4" height="3.08" fill="#a5cd39"/>
<text x="585.23" y="1201.3" font-size="10.1" font-family="Liberation Serif" fill="#000" text-anchor="end" transform="rotate(-90 585.23 1201.3)" opacity="0.999" stroke="#000" stroke-width="0.22" xml:space="preserve">Compact <tspan font-style="italic">Xist</tspan></text>
<rect x="595.84" y="1112.9" width="15.4" height="83.2" fill="#557fa6"/>
<rect x="595.84" y="1112.9" width="15.4" height="0" fill="#9b9b9b"/>
<rect x="595.84" y="1112.9" width="15.4" height="0" fill="#a5cd39"/>
<text x="606.74" y="1201.3" font-size="10.1" font-family="Liberation Serif" fill="#000" text-anchor="end" transform="rotate(-90 606.74 1201.3)" opacity="0.999" stroke="#000" stroke-width="0.22" xml:space="preserve">Compact <tspan font-style="italic">Xist</tspan></text>
<rect x="617.35" y="1190.86" width="15.4" height="5.24" fill="#557fa6"/>
<rect x="617.35" y="1142.02" width="15.4" height="48.84" fill="#9b9b9b"/>
<rect x="617.35" y="1112.9" width="15.4" height="29.12" fill="#a5cd39"/>
<text x="628.25" y="1201.3" font-size="10.1" font-family="Liberation Serif" fill="#000" text-anchor="end" transform="rotate(-90 628.25 1201.3)" opacity="0.999" stroke="#000" stroke-width="0.22" xml:space="preserve">Dispersed <tspan font-style="italic">Xist</tspan></text>
<rect x="638.86" y="1112.9" width="15.4" height="83.2" fill="#557fa6"/>
<rect x="638.86" y="1112.9" width="15.4" height="0" fill="#9b9b9b"/>
<rect x="638.86" y="1112.9" width="15.4" height="0" fill="#a5cd39"/>
<text x="649.76" y="1201.3" font-size="10.1" font-family="Liberation Serif" fill="#000" text-anchor="end" transform="rotate(-90 649.76 1201.3)" opacity="0.999" stroke="#000" stroke-width="0.22" xml:space="preserve">Compact <tspan font-style="italic">Xist</tspan></text>
<rect x="660.37" y="1196.1" width="15.4" height="0" fill="#557fa6"/>
<rect x="660.37" y="1143.35" width="15.4" height="52.75" fill="#9b9b9b"/>
<rect x="660.37" y="1112.9" width="15.4" height="30.45" fill="#a5cd39"/>
<text x="671.27" y="1201.3" font-size="10.1" font-family="Liberation Serif" fill="#000" text-anchor="end" transform="rotate(-90 671.27 1201.3)" opacity="0.999" stroke="#000" stroke-width="0.22" xml:space="preserve">Dispersed <tspan font-style="italic">Xist</tspan></text>
<rect x="681.88" y="1115.98" width="15.4" height="80.12" fill="#557fa6"/>
<rect x="681.88" y="1115.98" width="15.4" height="0" fill="#9b9b9b"/>
<rect x="681.88" y="1112.9" width="15.4" height="3.08" fill="#a5cd39"/>
<text x="692.78" y="1201.3" font-size="10.1" font-family="Liberation Serif" fill="#000" text-anchor="end" transform="rotate(-90 692.78 1201.3)" opacity="0.999" stroke="#000" stroke-width="0.22" xml:space="preserve">Compact <tspan font-style="italic">Xist</tspan></text>
<path d="M508.5 1112.9V1196.1H698.28M506 1112.9h2.5M506 1154.5h2.5M506 1196.1h2.5" stroke="#555" stroke-width="1" fill="none"/>
<path d="M529 1196.6V1264.7" stroke="#3761cb" stroke-width="1.3"/>
<path d="M570.9 1196.6V1264.7" stroke="#3761cb" stroke-width="1.3"/>
<path d="M592.7 1196.6V1264.7" stroke="#3761cb" stroke-width="1.3"/>
<path d="M635.9 1196.6V1264.7" stroke="#3761cb" stroke-width="1.3"/>
<path d="M678.8 1196.6V1264.7" stroke="#3761cb" stroke-width="1.3"/>
<text x="505.5" y="1117.8" font-size="14.6" font-family="Liberation Serif" fill="#000" text-anchor="end" opacity="0.999" stroke="#000" stroke-width="0.22" xml:space="preserve">100</text>
<text x="505.5" y="1159.4" font-size="14.6" font-family="Liberation Serif" fill="#000" text-anchor="end" opacity="0.999" stroke="#000" stroke-width="0.22" xml:space="preserve">50</text>
<text x="505.5" y="1201" font-size="14.6" font-family="Liberation Serif" fill="#000" text-anchor="end" opacity="0.999" stroke="#000" stroke-width="0.22" xml:space="preserve">0</text>
<text x="479.8" y="1155.5" font-size="12.7" font-family="Liberation Serif" fill="#000" text-anchor="middle" transform="rotate(-90 479.8 1155.5)" opacity="0.999" stroke="#000" stroke-width="0.22" xml:space="preserve">% of nuclei</text>
<text x="510.8" y="1269.8" font-size="8.4" font-family="Liberation Serif" fill="#000" opacity="0.999" stroke="#000" stroke-width="0.22" xml:space="preserve">WT</text>
<text x="535.5" y="1269.8" font-size="8.4" font-family="Liberation Serif" fill="#000" opacity="0.999" stroke="#000" stroke-width="0.22" xml:space="preserve">D1 <tspan font-size="80%">Δ</tspan>Xp</text>
<text x="575.3" y="1269.3" font-size="8.4" font-family="Liberation Serif" fill="#000" opacity="0.999" stroke="#000" stroke-width="0.22" xml:space="preserve">D1</text>
<text x="575.3" y="1279" font-size="8.4" font-family="Liberation Serif" fill="#000" opacity="0.999" stroke="#000" stroke-width="0.22" xml:space="preserve"><tspan font-size="80%">Δ</tspan>Xm</text>
<text x="599.2" y="1269.8" font-size="8.4" font-family="Liberation Serif" fill="#000" opacity="0.999" stroke="#000" stroke-width="0.22" xml:space="preserve">D3 <tspan font-size="80%">Δ</tspan>Xp</text>
<text x="643.7" y="1269.8" font-size="8.4" font-family="Liberation Serif" fill="#000" opacity="0.999" stroke="#000" stroke-width="0.22" xml:space="preserve">D3 <tspan font-size="80%">Δ</tspan>Xp</text>
<text x="643.7" y="1279.5" font-size="8.4" font-family="Liberation Serif" fill="#000" opacity="0.999" stroke="#000" stroke-width="0.22" xml:space="preserve"><tspan font-size="80%">Δ</tspan>Xm</text>
<text x="683.7" y="1269.8" font-size="8.4" font-family="Liberation Serif" fill="#000" opacity="0.999" stroke="#000" stroke-width="0.22" xml:space="preserve">D3 <tspan font-size="80%">Δ</tspan>Xm</text>
<rect x="240.8" y="463.5" width="9.6" height="9.4" fill="#557fa6"/>
<text x="253.8" y="472" font-size="9.9" font-family="Liberation Serif" fill="#000" opacity="0.999" stroke="#000" stroke-width="0.22" xml:space="preserve">H3K27me3 (+)ve</text>
<rect x="240.8" y="479.4" width="9.6" height="9.6" fill="#a5cd39"/>
<text x="253.8" y="487.6" font-size="9.9" font-family="Liberation Serif" fill="#000" opacity="0.999" stroke="#000" stroke-width="0.22" xml:space="preserve">H3K27me3 (-)ve</text>
<text x="243.4" y="512.2" font-size="9.9" font-family="Liberation Serif" fill="#000" opacity="0.999" stroke="#000" stroke-width="0.22" xml:space="preserve"><tspan font-style="italic">Xist</tspan> pattern</text>
<circle cx="250.4" cy="531" r="11.7" fill="#1a10a0"/>
<ellipse cx="252.2" cy="524.1" rx="2.7" ry="3.7" fill="#8fd050" transform="rotate(8 252.2 524.1)"/>
<circle cx="250.7" cy="563" r="12.5" fill="#1a10a0"/>
<ellipse cx="251" cy="560.2" rx="8.8" ry="3.6" fill="#0a0a30" transform="rotate(40 251 560.2)" opacity="0.55"/>
<rect x="248.25" y="550.44" width="2.1" height="1.75" fill="#c8f07a" transform="rotate(40 248.95 551.09)"/>
<rect x="245.61" y="553.58" width="2.1" height="1.75" fill="#c8f07a" transform="rotate(40 246.31 554.23)"/>
<rect x="243.75" y="555.8" width="2.1" height="1.75" fill="#c8f07a" transform="rotate(40 244.45 556.45)"/>
<rect x="249.57" y="553.37" width="2.1" height="1.75" fill="#c8f07a" transform="rotate(40 250.27 554.02)"/>
<rect x="247.32" y="556.05" width="2.1" height="1.75" fill="#c8f07a" transform="rotate(40 248.02 556.7)"/>
<rect x="245.45" y="558.28" width="2.1" height="1.75" fill="#c8f07a" transform="rotate(40 246.15 558.93)"/>
<rect x="251.92" y="555.08" width="2.1" height="1.75" fill="#c8f07a" transform="rotate(40 252.62 555.73)"/>
<rect x="250.05" y="557.31" width="2.1" height="1.75" fill="#c8f07a" transform="rotate(40 250.75 557.96)"/>
<rect x="248.19" y="559.53" width="2.1" height="1.75" fill="#c8f07a" transform="rotate(40 248.89 560.18)"/>
<rect x="253.63" y="557.56" width="2.1" height="1.75" fill="#c8f07a" transform="rotate(40 254.33 558.21)"/>
<rect x="251.76" y="559.78" width="2.1" height="1.75" fill="#c8f07a" transform="rotate(40 252.46 560.43)"/>
<rect x="249.9" y="562" width="2.1" height="1.75" fill="#c8f07a" transform="rotate(40 250.6 562.65)"/>
<rect x="254.5" y="561.03" width="2.1" height="1.75" fill="#c8f07a" transform="rotate(40 255.2 561.68)"/>
<rect x="252.63" y="563.25" width="2.1" height="1.75" fill="#c8f07a" transform="rotate(40 253.33 563.9)"/>
<rect x="254.34" y="565.73" width="2.1" height="1.75" fill="#c8f07a" transform="rotate(40 255.04 566.38)"/>
<text x="265.5" y="534.7" font-size="9.9" font-family="Liberation Serif" fill="#000" opacity="0.999" stroke="#000" stroke-width="0.22" xml:space="preserve">Compact <tspan font-style="italic">Xist</tspan></text>
<text x="266" y="566.4" font-size="9.9" font-family="Liberation Serif" fill="#000" opacity="0.999" stroke="#000" stroke-width="0.22" xml:space="preserve">Dispersed <tspan font-style="italic">Xist</tspan></text>
<rect x="736.2" y="467.4" width="9.6" height="9.6" fill="#557fa6"/>
<text x="749.5" y="476.3" font-size="9.9" font-family="Liberation Serif" fill="#000" opacity="0.999" stroke="#000" stroke-width="0.22" xml:space="preserve">H2AK119ub (+)ve</text>
<rect x="736.2" y="484.3" width="9.6" height="9.2" fill="#a5cd39"/>
<text x="749.5" y="492.3" font-size="9.9" font-family="Liberation Serif" fill="#000" opacity="0.999" stroke="#000" stroke-width="0.22" xml:space="preserve">H2AK119ub (-)ve</text>
<text x="739" y="516.7" font-size="9.9" font-family="Liberation Serif" fill="#000" opacity="0.999" stroke="#000" stroke-width="0.22" xml:space="preserve"><tspan font-style="italic">Xist</tspan> pattern</text>
<circle cx="746" cy="534.6" r="11.6" fill="#1a10a0"/>
<ellipse cx="747.8" cy="527.7" rx="2.7" ry="3.7" fill="#8fd050" transform="rotate(8 747.8 527.7)"/>
<circle cx="746" cy="567.2" r="12.2" fill="#1a10a0"/>
<ellipse cx="746.3" cy="564.4" rx="8.8" ry="3.6" fill="#0a0a30" transform="rotate(40 746.3 564.4)" opacity="0.55"/>
<rect x="743.55" y="554.64" width="2.1" height="1.75" fill="#c8f07a" transform="rotate(40 744.25 555.29)"/>
<rect x="740.91" y="557.78" width="2.1" height="1.75" fill="#c8f07a" transform="rotate(40 741.61 558.43)"/>
<rect x="739.05" y="560" width="2.1" height="1.75" fill="#c8f07a" transform="rotate(40 739.75 560.65)"/>
<rect x="744.87" y="557.57" width="2.1" height="1.75" fill="#c8f07a" transform="rotate(40 745.57 558.22)"/>
<rect x="742.62" y="560.25" width="2.1" height="1.75" fill="#c8f07a" transform="rotate(40 743.32 560.9)"/>
<rect x="740.75" y="562.48" width="2.1" height="1.75" fill="#c8f07a" transform="rotate(40 741.45 563.13)"/>
<rect x="747.22" y="559.28" width="2.1" height="1.75" fill="#c8f07a" transform="rotate(40 747.92 559.93)"/>
<rect x="745.35" y="561.51" width="2.1" height="1.75" fill="#c8f07a" transform="rotate(40 746.05 562.16)"/>
<rect x="743.49" y="563.73" width="2.1" height="1.75" fill="#c8f07a" transform="rotate(40 744.19 564.38)"/>
<rect x="748.93" y="561.76" width="2.1" height="1.75" fill="#c8f07a" transform="rotate(40 749.63 562.41)"/>
<rect x="747.06" y="563.98" width="2.1" height="1.75" fill="#c8f07a" transform="rotate(40 747.76 564.63)"/>
<rect x="745.2" y="566.2" width="2.1" height="1.75" fill="#c8f07a" transform="rotate(40 745.9 566.85)"/>
<rect x="749.8" y="565.23" width="2.1" height="1.75" fill="#c8f07a" transform="rotate(40 750.5 565.88)"/>
<rect x="747.93" y="567.45" width="2.1" height="1.75" fill="#c8f07a" transform="rotate(40 748.63 568.1)"/>
<rect x="749.64" y="569.93" width="2.1" height="1.75" fill="#c8f07a" transform="rotate(40 750.34 570.58)"/>
<text x="761" y="538.3" font-size="9.9" font-family="Liberation Serif" fill="#000" opacity="0.999" stroke="#000" stroke-width="0.22" xml:space="preserve">Compact <tspan font-style="italic">Xist</tspan></text>
<text x="761" y="570.6" font-size="9.9" font-family="Liberation Serif" fill="#000" opacity="0.999" stroke="#000" stroke-width="0.22" xml:space="preserve">Dispersed <tspan font-style="italic">Xist</tspan></text>
<rect x="244.7" y="1117.8" width="9.6" height="9.4" fill="#557fa6"/>
<text x="257.7" y="1126.3" font-size="9.9" font-family="Liberation Serif" fill="#000" opacity="0.999" stroke="#000" stroke-width="0.22" xml:space="preserve">H4K20me1 (+)ve</text>
<rect x="244.7" y="1133.7" width="9.6" height="9.6" fill="#a5cd39"/>
<text x="257.7" y="1142.2" font-size="9.9" font-family="Liberation Serif" fill="#000" opacity="0.999" stroke="#000" stroke-width="0.22" xml:space="preserve">H4K20me1 (-)ve</text>
<text x="246" y="1163.4" font-size="9.9" font-family="Liberation Serif" fill="#000" opacity="0.999" stroke="#000" stroke-width="0.22" xml:space="preserve"><tspan font-style="italic">Xist</tspan> pattern</text>
<circle cx="254.3" cy="1181.5" r="12.2" fill="#1a10a0"/>
<ellipse cx="256.1" cy="1174.6" rx="2.7" ry="3.7" fill="#8fd050" transform="rotate(8 256.1 1174.6)"/>
<circle cx="254.6" cy="1213.5" r="12.7" fill="#1a10a0"/>
<ellipse cx="254.9" cy="1210.7" rx="8.8" ry="3.6" fill="#0a0a30" transform="rotate(40 254.9 1210.7)" opacity="0.55"/>
<rect x="252.15" y="1200.94" width="2.1" height="1.75" fill="#c8f07a" transform="rotate(40 252.85 1201.59)"/>
<rect x="249.51" y="1204.08" width="2.1" height="1.75" fill="#c8f07a" transform="rotate(40 250.21 1204.73)"/>
<rect x="247.65" y="1206.3" width="2.1" height="1.75" fill="#c8f07a" transform="rotate(40 248.35 1206.95)"/>
<rect x="253.47" y="1203.87" width="2.1" height="1.75" fill="#c8f07a" transform="rotate(40 254.17 1204.52)"/>
<rect x="251.22" y="1206.55" width="2.1" height="1.75" fill="#c8f07a" transform="rotate(40 251.92 1207.2)"/>
<rect x="249.35" y="1208.78" width="2.1" height="1.75" fill="#c8f07a" transform="rotate(40 250.05 1209.43)"/>
<rect x="255.82" y="1205.58" width="2.1" height="1.75" fill="#c8f07a" transform="rotate(40 256.52 1206.23)"/>
<rect x="253.95" y="1207.81" width="2.1" height="1.75" fill="#c8f07a" transform="rotate(40 254.65 1208.46)"/>
<rect x="252.09" y="1210.03" width="2.1" height="1.75" fill="#c8f07a" transform="rotate(40 252.79 1210.68)"/>
<rect x="257.53" y="1208.06" width="2.1" height="1.75" fill="#c8f07a" transform="rotate(40 258.23 1208.71)"/>
<rect x="255.66" y="1210.28" width="2.1" height="1.75" fill="#c8f07a" transform="rotate(40 256.36 1210.93)"/>
<rect x="253.8" y="1212.5" width="2.1" height="1.75" fill="#c8f07a" transform="rotate(40 254.5 1213.15)"/>
<rect x="258.4" y="1211.53" width="2.1" height="1.75" fill="#c8f07a" transform="rotate(40 259.1 1212.18)"/>
<rect x="256.53" y="1213.75" width="2.1" height="1.75" fill="#c8f07a" transform="rotate(40 257.23 1214.4)"/>
<rect x="258.24" y="1216.23" width="2.1" height="1.75" fill="#c8f07a" transform="rotate(40 258.94 1216.88)"/>
<text x="268.9" y="1185.2" font-size="9.9" font-family="Liberation Serif" fill="#000" opacity="0.999" stroke="#000" stroke-width="0.22" xml:space="preserve">Compact <tspan font-style="italic">Xist</tspan></text>
<text x="270.7" y="1216.9" font-size="9.9" font-family="Liberation Serif" fill="#000" opacity="0.999" stroke="#000" stroke-width="0.22" xml:space="preserve">Dispersed <tspan font-style="italic">Xist</tspan></text>
<rect x="712.2" y="1114.5" width="9.6" height="9.1" fill="#557fa6"/>
<text x="725.3" y="1122.8" font-size="9.9" font-family="Liberation Serif" fill="#000" opacity="0.999" stroke="#000" stroke-width="0.22" xml:space="preserve">Compact Macro H2A.1</text>
<rect x="712.2" y="1128.6" width="9.6" height="9.4" fill="#9b9b9b"/>
<text x="725.3" y="1137.5" font-size="9.9" font-family="Liberation Serif" fill="#000" opacity="0.999" stroke="#000" stroke-width="0.22" xml:space="preserve">Weak Macro H2A.1</text>
<rect x="712.2" y="1143" width="9.6" height="8.9" fill="#a5cd39"/>
<text x="725.3" y="1150.9" font-size="9.9" font-family="Liberation Serif" fill="#000" opacity="0.999" stroke="#000" stroke-width="0.22" xml:space="preserve">No Macro H2A.1</text>
<text x="711.5" y="1174" font-size="9.9" font-family="Liberation Serif" fill="#000" opacity="0.999" stroke="#000" stroke-width="0.22" xml:space="preserve"><tspan font-style="italic">Xist</tspan> pattern</text>
<circle cx="720.3" cy="1193.5" r="11.9" fill="#1a10a0"/>
<ellipse cx="722.1" cy="1186.6" rx="2.7" ry="3.7" fill="#8fd050" transform="rotate(8 722.1 1186.6)"/>
<circle cx="720.3" cy="1225" r="12.4" fill="#1a10a0"/>
<ellipse cx="720.6" cy="1222.2" rx="8.8" ry="3.6" fill="#0a0a30" transform="rotate(40 720.6 1222.2)" opacity="0.55"/>
<rect x="717.85" y="1212.44" width="2.1" height="1.75" fill="#c8f07a" transform="rotate(40 718.55 1213.09)"/>
<rect x="715.21" y="1215.58" width="2.1" height="1.75" fill="#c8f07a" transform="rotate(40 715.91 1216.23)"/>
<rect x="713.35" y="1217.8" width="2.1" height="1.75" fill="#c8f07a" transform="rotate(40 714.05 1218.45)"/>
<rect x="719.17" y="1215.37" width="2.1" height="1.75" fill="#c8f07a" transform="rotate(40 719.87 1216.02)"/>
<rect x="716.92" y="1218.05" width="2.1" height="1.75" fill="#c8f07a" transform="rotate(40 717.62 1218.7)"/>
<rect x="715.05" y="1220.28" width="2.1" height="1.75" fill="#c8f07a" transform="rotate(40 715.75 1220.93)"/>
<rect x="721.52" y="1217.08" width="2.1" height="1.75" fill="#c8f07a" transform="rotate(40 722.22 1217.73)"/>
<rect x="719.65" y="1219.31" width="2.1" height="1.75" fill="#c8f07a" transform="rotate(40 720.35 1219.96)"/>
<rect x="717.79" y="1221.53" width="2.1" height="1.75" fill="#c8f07a" transform="rotate(40 718.49 1222.18)"/>
<rect x="723.23" y="1219.56" width="2.1" height="1.75" fill="#c8f07a" transform="rotate(40 723.93 1220.21)"/>
<rect x="721.36" y="1221.78" width="2.1" height="1.75" fill="#c8f07a" transform="rotate(40 722.06 1222.43)"/>
<rect x="719.5" y="1224" width="2.1" height="1.75" fill="#c8f07a" transform="rotate(40 720.2 1224.65)"/>
<rect x="724.1" y="1223.03" width="2.1" height="1.75" fill="#c8f07a" transform="rotate(40 724.8 1223.68)"/>
<rect x="722.23" y="1225.25" width="2.1" height="1.75" fill="#c8f07a" transform="rotate(40 722.93 1225.9)"/>
<rect x="723.94" y="1227.73" width="2.1" height="1.75" fill="#c8f07a" transform="rotate(40 724.64 1228.38)"/>
<text x="735.4" y="1197.2" font-size="9.9" font-family="Liberation Serif" fill="#000" opacity="0.999" stroke="#000" stroke-width="0.22" xml:space="preserve">Compact <tspan font-style="italic">Xist</tspan></text>
<text x="735.4" y="1228.4" font-size="9.9" font-family="Liberation Serif" fill="#000" opacity="0.999" stroke="#000" stroke-width="0.22" xml:space="preserve">Dispersed <tspan font-style="italic">Xist</tspan></text>
</svg>
</body></html>
